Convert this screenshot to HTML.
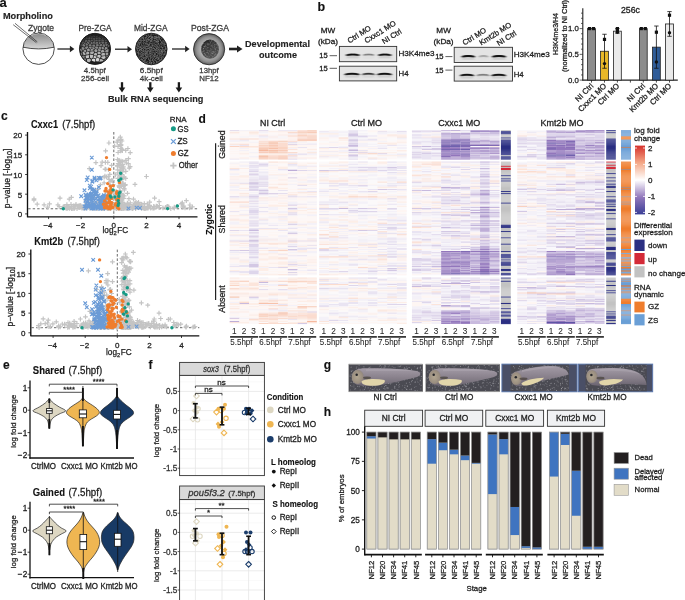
<!DOCTYPE html>
<html><head><meta charset="utf-8"><style>
html,body{margin:0;padding:0;background:#fff;overflow:hidden;}
svg{display:block;font-family:"Liberation Sans",sans-serif;will-change:transform;}
</style></head><body>
<svg width="685" height="600" viewBox="0 0 685 600">
<defs>
<linearGradient id="zyg" x1="0" y1="0" x2="0" y2="1"><stop offset="0" stop-color="#8c8c8c"/><stop offset="1" stop-color="#d6d6d6"/></linearGradient>
<linearGradient id="pre" x1="0" y1="0" x2="0.3" y2="1"><stop offset="0" stop-color="#1a1a1a"/><stop offset="0.55" stop-color="#555"/><stop offset="1" stop-color="#c8c8c8"/></linearGradient>
<radialGradient id="post" cx="0.5" cy="0.5" r="0.5"><stop offset="0.55" stop-color="#b0b0b0"/><stop offset="0.8" stop-color="#909090"/><stop offset="1" stop-color="#5a5a5a"/></radialGradient>
<clipPath id="cpre"><circle cx="95" cy="48.9" r="15.6"/></clipPath>
<clipPath id="cmid"><circle cx="151.3" cy="49" r="15.8"/></clipPath>
<clipPath id="cpost"><ellipse cx="210" cy="49.2" rx="8.9" ry="9.6"/></clipPath>
<linearGradient id="postin" x1="0" y1="0" x2="0.6" y2="1"><stop offset="0" stop-color="#1e1e1e"/><stop offset="1" stop-color="#555"/></linearGradient>
<marker id="ah" viewBox="0 0 10 10" refX="9" refY="5" markerWidth="4" markerHeight="4" orient="auto" markerUnits="userSpaceOnUse"><path d="M0,0 L10,5 L0,10 z" fill="#222"/></marker>
</defs>
<text x="-0.60" y="6.80" font-size="13" font-weight="bold" font-style="normal" fill="#111" text-anchor="start" stroke="#111" stroke-width="0.12" >a</text>
<text x="2.90" y="18.70" font-size="9.2" font-weight="bold" font-style="normal" fill="#222" text-anchor="start" stroke="#222" stroke-width="0.12" textLength="50.00" lengthAdjust="spacingAndGlyphs" >Morpholino</text>
<text x="28.00" y="30.90" font-size="8.4" font-weight="normal" font-style="normal" fill="#3a3a3a" text-anchor="start" stroke="#3a3a3a" stroke-width="0.28" textLength="26.00" lengthAdjust="spacingAndGlyphs" >Zygote</text>
<text x="78.50" y="31.00" font-size="8.4" font-weight="normal" font-style="normal" fill="#3a3a3a" text-anchor="start" stroke="#3a3a3a" stroke-width="0.28" textLength="33.00" lengthAdjust="spacingAndGlyphs" >Pre-ZGA</text>
<text x="134.00" y="31.00" font-size="8.4" font-weight="normal" font-style="normal" fill="#3a3a3a" text-anchor="start" stroke="#3a3a3a" stroke-width="0.28" textLength="33.50" lengthAdjust="spacingAndGlyphs" >Mid-ZGA</text>
<text x="191.00" y="31.00" font-size="8.4" font-weight="normal" font-style="normal" fill="#3a3a3a" text-anchor="start" stroke="#3a3a3a" stroke-width="0.28" textLength="38.00" lengthAdjust="spacingAndGlyphs" >Post-ZGA</text>
<text x="94.80" y="72.80" font-size="8" font-weight="normal" font-style="normal" fill="#3a3a3a" text-anchor="middle" stroke="#3a3a3a" stroke-width="0.28" textLength="21.90" lengthAdjust="spacingAndGlyphs" >4.5hpf</text>
<text x="95.00" y="80.70" font-size="8" font-weight="normal" font-style="normal" fill="#3a3a3a" text-anchor="middle" stroke="#3a3a3a" stroke-width="0.28" textLength="28.00" lengthAdjust="spacingAndGlyphs" >256-cell</text>
<text x="151.30" y="72.80" font-size="8" font-weight="normal" font-style="normal" fill="#3a3a3a" text-anchor="middle" stroke="#3a3a3a" stroke-width="0.28" textLength="22.90" lengthAdjust="spacingAndGlyphs" >6.5hpf</text>
<text x="151.30" y="80.70" font-size="8" font-weight="normal" font-style="normal" fill="#3a3a3a" text-anchor="middle" stroke="#3a3a3a" stroke-width="0.28" textLength="23.00" lengthAdjust="spacingAndGlyphs" >4k-cell</text>
<text x="209.00" y="72.80" font-size="8" font-weight="normal" font-style="normal" fill="#3a3a3a" text-anchor="middle" stroke="#3a3a3a" stroke-width="0.28" textLength="19.30" lengthAdjust="spacingAndGlyphs" >13hpf</text>
<text x="209.00" y="80.70" font-size="8" font-weight="normal" font-style="normal" fill="#3a3a3a" text-anchor="middle" stroke="#3a3a3a" stroke-width="0.28" textLength="19.30" lengthAdjust="spacingAndGlyphs" >NF12</text>
<text x="277.50" y="46.70" font-size="9.2" font-weight="bold" font-style="normal" fill="#222" text-anchor="middle" stroke="#222" stroke-width="0.12" textLength="65.00" lengthAdjust="spacingAndGlyphs" >Developmental</text>
<text x="278.00" y="57.60" font-size="9.2" font-weight="bold" font-style="normal" fill="#222" text-anchor="middle" stroke="#222" stroke-width="0.12" textLength="38.00" lengthAdjust="spacingAndGlyphs" >outcome</text>
<text x="108.00" y="101.80" font-size="9.2" font-weight="bold" font-style="normal" fill="#222" text-anchor="start" stroke="#222" stroke-width="0.12" textLength="95.40" lengthAdjust="spacingAndGlyphs" >Bulk RNA sequencing</text>
<path d="M23,47.2 A15.8,15.8 0 0 1 54.2,47.2 Q38.6,50.5 23,47.2 z" fill="url(#zyg)"/>
<circle cx="38.60" cy="48.70" r="15.70" fill="none" stroke="#222" stroke-width="0.8" />
<path d="M23,47.2 Q38.6,50.6 54.2,47.2" fill="none" stroke="#222" stroke-width="0.8"/>
<path d="M13.2,24.7 L36.4,42.7 M15.0,23.3 L37.3,41.9" fill="none" stroke="#222" stroke-width="0.65"/>
<circle cx="95.00" cy="48.90" r="15.60" fill="#1e1e1e" stroke="none" stroke-width="0" />
<g clip-path="url(#cpre)">
<polygon points="91.7,33.7 92.4,31.8 93.8,33.8 93.6,34.2" fill="#1e1e1e"/>
<polygon points="87.4,35.2 87.4,33.7 87.5,33.4 88.8,33.8 88.7,35.4 88.5,35.6" fill="#1e1e1e"/>
<polygon points="90.8,34.3 89.6,33.5 89.2,33.7 89.0,35.4 90.7,34.8" fill="#1e1e1e"/>
<polygon points="92.6,35.8 93.4,34.8 93.4,34.5 91.6,34.0 91.2,34.4 91.2,34.9 91.7,35.6" fill="#1f1f1f"/>
<polygon points="95.6,33.7 94.3,34.1 94.0,34.5 94.0,34.8 95.5,36.1 96.1,35.4 96.2,34.3" fill="#1f1f1f"/>
<polygon points="96.8,34.4 96.7,35.5 98.5,36.4 98.5,36.3 98.8,35.8 98.7,34.5 98.1,34.3" fill="#242424"/>
<polygon points="100.3,34.4 99.6,34.0 99.0,34.4 99.2,35.7 101.0,35.5" fill="#1e1e1e"/>
<polygon points="102.3,35.2 102.5,34.2 102.0,33.7 100.7,34.4 101.4,35.4 101.5,35.5" fill="#1e1e1e"/>
<polygon points="86.1,36.6 85.4,37.9 84.1,37.7 84.0,37.5 85.0,35.7 86.1,36.1" fill="#232323"/>
<polygon points="86.6,36.5 87.9,37.8 88.7,36.7 88.4,36.0 87.3,35.6 86.6,36.0" fill="#282828"/>
<polygon points="91.2,35.9 90.8,35.1 89.1,35.7 88.9,35.9 89.2,36.7 90.3,37.1 90.5,36.9" fill="#2c2c2c"/>
<polygon points="93.2,37.4 92.7,36.2 91.7,36.0 91.0,37.0 92.9,37.8" fill="#3a3a3a"/>
<polygon points="95.0,37.4 93.6,37.3 93.1,36.1 93.8,35.2 95.4,36.5 95.2,37.2" fill="#393939"/>
<polygon points="97.7,37.8 98.2,36.7 96.5,35.8 95.9,36.5 95.7,37.3" fill="#3b3b3b"/>
<polygon points="101.2,35.8 101.1,35.8 99.2,36.0 99.0,36.5 100.8,37.6" fill="#2d2d2d"/>
<polygon points="102.4,35.6 101.5,35.9 101.1,37.6 101.3,38.2 103.0,37.0 102.7,35.9" fill="#2c2c2c"/>
<polygon points="103.2,35.8 105.2,35.6 105.5,35.9 105.3,37.0 104.0,37.2 103.5,36.9" fill="#202020"/>
<polygon points="82.4,37.1 83.5,37.8 83.6,38.0 83.4,38.5 82.0,39.4 81.5,39.1 81.1,38.2" fill="#222222"/>
<polygon points="85.4,38.3 84.1,38.1 83.8,38.7 84.7,40.1 86.2,39.4" fill="#383838"/>
<polygon points="86.5,37.0 85.8,38.2 86.7,39.4 87.5,39.6 87.6,39.6 87.8,38.3" fill="#424242"/>
<polygon points="88.3,38.3 88.1,39.5 90.3,39.4 90.4,39.3 90.2,37.5 89.0,37.1" fill="#4c4c4c"/>
<polygon points="92.7,38.0 92.3,38.9 90.8,39.2 90.6,37.5 90.8,37.3" fill="#4a4a4a"/>
<polygon points="94.9,39.9 95.1,39.5 94.9,37.9 93.5,37.8 93.2,38.2 92.8,39.1 93.4,39.8" fill="#4f4f4f"/>
<polygon points="97.8,39.3 95.7,39.4 95.4,37.8 95.7,37.6 97.6,38.1 97.9,39.1" fill="#4d4d4d"/>
<polygon points="98.5,39.0 100.8,38.9 100.9,38.8 100.9,38.5 100.7,37.9 98.9,36.9 98.8,37.0 98.2,38.0" fill="#494949"/>
<polygon points="103.1,37.3 103.6,37.6 103.4,39.2 101.5,38.8 101.5,38.5" fill="#3f3f3f"/>
<polygon points="104.4,39.9 106.0,38.8 106.0,38.3 105.4,37.4 104.1,37.7 103.9,39.3" fill="#353535"/>
<polygon points="109.0,37.7 108.2,37.5 106.6,38.3 106.5,38.8 107.3,39.5 109.1,39.5" fill="#222222"/>
<polygon points="80.7,42.7 81.0,42.7 82.0,41.1 81.6,40.0 81.1,39.7 79.7,40.7 79.7,41.6" fill="#2f2f2f"/>
<polygon points="83.5,38.9 82.1,39.8 82.5,40.9 84.0,41.1 84.3,40.3" fill="#3b3b3b"/>
<polygon points="87.3,40.1 87.3,40.8 86.2,42.3 86.2,42.3 84.8,41.8 84.5,41.3 84.9,40.5 86.5,39.8" fill="#5d5d5d"/>
<polygon points="87.9,40.1 87.9,40.7 89.8,42.7 90.6,41.3 90.3,39.9 88.0,40.0" fill="#5d5d5d"/>
<polygon points="92.7,41.3 93.0,40.1 92.4,39.4 90.9,39.7 90.8,39.8 91.2,41.3 92.5,41.5" fill="#5b5b5b"/>
<polygon points="95.2,42.0 95.4,41.7 95.0,40.3 93.5,40.3 93.3,41.4" fill="#606060"/>
<polygon points="95.8,41.6 97.8,41.5 97.7,39.7 95.6,39.8 95.4,40.2" fill="#5c5c5c"/>
<polygon points="98.3,41.5 98.3,39.7 98.4,39.5 100.7,39.4 100.7,41.1 100.4,41.5 98.6,41.7" fill="#5c5c5c"/>
<polygon points="101.3,39.3 101.3,41.0 103.9,41.4 104.0,40.2 103.4,39.6 101.4,39.2" fill="#595959"/>
<polygon points="104.6,40.3 106.1,39.2 106.9,39.9 106.6,41.4 104.6,41.7 104.5,41.5" fill="#4b4b4b"/>
<polygon points="109.3,40.0 107.5,40.0 107.2,41.5 108.0,42.2 109.5,41.6 109.5,40.3" fill="#333333"/>
<polygon points="83.3,43.6 84.2,42.1 83.9,41.6 82.4,41.4 81.4,43.0 82.2,43.9" fill="#525252"/>
<polygon points="83.7,43.7 84.6,42.2 86.0,42.7 85.1,44.3" fill="#6f6f6f"/>
<polygon points="88.5,44.3 86.7,42.7 87.8,41.1 89.7,43.2 89.7,43.4" fill="#6d6d6d"/>
<polygon points="92.7,43.9 91.9,44.3 90.3,43.5 90.3,43.2 91.1,41.8 92.4,42.0" fill="#6e6e6e"/>
<polygon points="95.1,42.3 93.1,41.7 92.9,41.9 93.2,43.8 94.7,43.9" fill="#6b6b6b"/>
<polygon points="95.6,42.3 95.8,42.1 97.8,41.9 98.1,42.2 98.0,43.7 95.4,44.1 95.2,43.9" fill="#6c6c6c"/>
<polygon points="98.6,43.7 99.1,44.5 100.9,43.3 100.4,42.0 98.7,42.2" fill="#6e6e6e"/>
<polygon points="101.0,41.8 101.3,41.5 103.9,41.8 104.0,42.1 103.9,43.4 102.6,43.9 101.6,43.2" fill="#6a6a6a"/>
<polygon points="107.5,42.6 107.2,43.5 105.0,43.9 104.5,43.5 104.7,42.1 106.7,41.9" fill="#636363"/>
<polygon points="108.2,42.8 107.9,43.6 108.3,44.2 111.3,44.5 111.8,44.3 109.7,42.1" fill="#3f3f3f"/>
<polygon points="81.1,46.8 79.1,45.7 79.3,44.5 80.6,43.4 81.0,43.5 81.8,44.3 81.8,46.2" fill="#4d4d4d"/>
<polygon points="85.3,46.0 84.9,44.8 83.5,44.1 82.4,44.4 82.4,46.3 84.6,46.8" fill="#7d7d7d"/>
<polygon points="87.8,45.6 88.2,44.6 86.4,42.9 86.4,43.0 85.5,44.6 85.9,45.8" fill="#777777"/>
<polygon points="88.9,46.5 91.5,46.2 91.6,44.7 90.0,43.9 88.8,44.8 88.5,45.8" fill="#7d7d7d"/>
<polygon points="94.6,44.5 94.8,44.6 95.1,45.7 94.6,47.0 92.4,46.5 92.2,46.2 92.4,44.7 93.2,44.4" fill="#7e7e7e"/>
<polygon points="95.6,44.6 95.9,45.7 98.5,46.3 98.8,46.0 98.7,44.9 98.2,44.1" fill="#7d7d7d"/>
<polygon points="99.4,44.9 99.5,46.1 101.1,46.5 101.5,46.3 102.3,44.4 101.2,43.8" fill="#7d7d7d"/>
<polygon points="105.2,46.4 104.6,44.4 104.1,44.0 102.9,44.5 102.2,46.3 104.4,47.0" fill="#7d7d7d"/>
<polygon points="107.2,46.6 107.7,44.5 107.4,44.0 105.1,44.3 105.8,46.3" fill="#747474"/>
<polygon points="108.3,47.4 111.2,44.9 108.1,44.7 107.7,46.8" fill="#5d5d5d"/>
<polygon points="84.4,47.4 82.2,46.9 81.6,47.4 81.4,47.9 82.8,50.5 84.7,49.1" fill="#888888"/>
<polygon points="88.3,46.9 87.9,46.2 85.9,46.4 85.1,47.2 85.5,49.0 86.2,49.3 88.3,47.7" fill="#8b8b8b"/>
<polygon points="89.0,46.9 91.6,46.6 91.8,46.9 91.4,48.2 90.2,49.0 89.1,47.7" fill="#8c8c8c"/>
<polygon points="94.8,48.5 94.5,47.5 92.4,47.1 92.0,48.3 94.0,49.5" fill="#8f8f8f"/>
<polygon points="95.4,48.5 97.4,48.9 97.6,48.7 98.3,46.8 95.6,46.2 95.1,47.5" fill="#8d8d8d"/>
<polygon points="99.0,46.7 98.2,48.7 101.1,48.9 100.9,46.9 99.2,46.5" fill="#8b8b8b"/>
<polygon points="103.7,49.6 101.7,49.2 101.6,49.0 101.5,47.1 101.9,46.8 104.1,47.6" fill="#909090"/>
<polygon points="107.7,47.8 107.1,47.3 105.6,46.9 104.8,47.6 104.5,49.6 104.9,50.2 107.9,48.3" fill="#909090"/>
<polygon points="81.1,48.4 79.4,49.6 81.2,51.8 82.0,51.7 82.5,51.0 82.5,51.0" fill="#7b7b7b"/>
<polygon points="85.1,49.6 83.2,51.0 83.2,51.1 85.4,52.4 86.4,50.8 85.8,49.9" fill="#a0a0a0"/>
<polygon points="88.7,48.3 89.8,49.5 89.8,51.1 89.4,51.6 87.2,50.7 86.5,49.8" fill="#9c9c9c"/>
<polygon points="93.7,49.8 93.5,50.6 90.5,51.0 90.5,49.5 91.7,48.6" fill="#9b9b9b"/>
<polygon points="96.6,52.2 94.9,52.0 94.2,50.8 94.5,50.0 95.2,49.0 97.3,49.5 97.6,51.1" fill="#9f9f9f"/>
<polygon points="98.4,51.0 98.0,49.4 98.2,49.1 101.0,49.4 101.1,49.6 100.2,51.4" fill="#9b9b9b"/>
<polygon points="100.8,51.6 101.8,49.8 103.8,50.2 104.3,50.8 104.5,52.1 101.5,52.8" fill="#a3a3a3"/>
<polygon points="108.0,48.9 108.6,49.6 108.4,51.8 108.3,51.9 105.6,52.4 105.3,52.1 105.1,50.8" fill="#979797"/>
<polygon points="78.8,53.7 81.1,52.4 81.9,52.4 82.6,54.7 80.6,56.2" fill="#717171"/>
<polygon points="85.1,55.2 83.3,54.7 82.5,52.3 83.1,51.6 85.3,52.9 85.7,54.8" fill="#afafaf"/>
<polygon points="88.9,54.3 86.4,54.7 86.0,52.9 87.0,51.3 89.3,52.2 89.3,53.8" fill="#afafaf"/>
<polygon points="90.1,53.7 90.1,52.1 90.4,51.6 93.5,51.2 94.1,52.4 93.0,54.3" fill="#ababab"/>
<polygon points="97.1,54.4 96.5,55.8 94.0,55.2 93.7,54.6 94.9,52.8 96.6,52.9" fill="#b6b6b6"/>
<polygon points="97.8,54.1 100.4,54.3 100.8,53.1 100.1,52.0 98.3,51.6 97.3,52.7" fill="#adadad"/>
<polygon points="101.2,54.5 101.6,55.8 105.0,55.5 104.8,53.0 104.5,52.7 101.6,53.3" fill="#b4b4b4"/>
<polygon points="105.6,53.0 108.2,52.6 108.4,54.5 105.8,55.7 105.7,55.5" fill="#9c9c9c"/>
<polygon points="108.9,52.3 112.6,53.3 109.8,55.1 109.0,54.4 108.8,52.4" fill="#636363"/>
<polygon points="84.8,57.4 81.9,59.0 80.7,58.0 80.9,56.9 83.0,55.4 84.8,55.9" fill="#7f7f7f"/>
<polygon points="88.8,55.0 86.3,55.4 85.6,55.8 85.6,57.3 86.6,58.6 89.2,57.7" fill="#c3c3c3"/>
<polygon points="89.6,54.9 90.1,57.6 91.3,58.7 92.7,57.6 93.2,55.6 92.9,55.0 90.0,54.4" fill="#c1c1c1"/>
<polygon points="94.0,55.8 96.4,56.4 96.7,57.1 95.5,58.5 93.4,57.8" fill="#c6c6c6"/>
<polygon points="97.8,54.8 97.2,56.3 97.5,57.0 99.9,58.1 100.1,58.0 100.8,56.2 100.4,55.0" fill="#c3c3c3"/>
<polygon points="101.1,58.1 103.8,59.3 105.7,57.7 105.2,56.3 105.1,56.1 101.7,56.4" fill="#bdbdbd"/>
<polygon points="108.2,58.3 106.6,57.6 106.1,56.2 108.7,55.1 109.4,55.7 109.2,57.9" fill="#757575"/>
<polygon points="86.1,59.2 85.9,61.3 85.0,61.6 82.4,60.0 82.3,59.6 85.1,58.0" fill="#7e7e7e"/>
<polygon points="89.6,58.4 87.0,59.3 86.8,61.4 89.2,62.5 90.8,60.7 90.8,59.5" fill="#bababa"/>
<polygon points="93.1,58.4 95.1,59.1 95.4,61.3 94.6,61.8 91.8,60.7 91.7,59.5" fill="#d7d7d7"/>
<polygon points="97.1,57.6 95.9,59.0 96.1,61.2 98.6,61.4 99.6,58.8" fill="#d5d5d5"/>
<polygon points="100.3,58.9 99.3,61.6 99.3,61.7 103.4,61.3 103.3,59.9 100.5,58.8" fill="#b8b8b8"/>
<polygon points="104.2,59.9 106.1,58.3 107.7,59.0 107.7,61.0 104.8,62.3 104.3,61.3" fill="#737373"/>
</g>
<circle cx="95.00" cy="48.90" r="15.60" fill="none" stroke="#1a1a1a" stroke-width="0.9" />
<circle cx="151.30" cy="49.00" r="15.80" fill="#1c1c1c" stroke="none" stroke-width="0" />
<path clip-path="url(#cmid)" stroke="#d0d0d0" stroke-width="0.55" stroke-linecap="round" d="M134.8 33.1h0M136.3 32.9h0M137.5 32.7h0M138.5 32.8h0M140.2 32.8h0M141.3 33.3h0M142.4 33.3h0M144.0 32.9h0M144.8 32.9h0M147.5 33.1h0M148.8 32.7h0M149.8 33.1h0M151.1 33.1h0M152.4 33.2h0M153.6 33.0h0M155.2 33.1h0M156.5 32.8h0M157.7 32.8h0M158.5 33.1h0M160.0 33.2h0M161.4 33.1h0M162.5 33.2h0M165.1 32.7h0M166.3 33.3h0M136.8 34.2h0M138.1 33.9h0M139.1 34.3h0M140.4 34.0h0M143.1 34.1h0M148.0 34.0h0M151.7 33.9h0M153.1 34.2h0M154.1 34.1h0M155.6 34.4h0M156.9 34.2h0M157.8 34.3h0M159.6 34.3h0M160.5 33.9h0M161.6 33.8h0M162.9 34.0h0M164.1 33.9h0M165.5 33.8h0M134.8 35.1h0M136.2 35.0h0M140.0 35.0h0M141.2 35.1h0M143.5 35.5h0M144.8 35.2h0M146.3 35.5h0M148.6 35.1h0M150.2 35.2h0M151.1 35.0h0M158.6 35.2h0M159.7 34.9h0M161.1 35.3h0M164.0 35.5h0M166.1 35.0h0M135.4 36.4h0M139.4 36.5h0M140.7 36.5h0M142.0 36.3h0M143.3 36.2h0M146.8 36.6h0M147.9 36.1h0M149.6 36.5h0M150.8 36.6h0M151.8 36.3h0M152.8 36.6h0M154.4 36.6h0M155.8 36.5h0M156.7 36.2h0M158.2 36.2h0M159.1 36.5h0M160.6 36.4h0M163.4 36.3h0M164.4 36.0h0M165.4 36.0h0M166.7 36.3h0M135.0 37.3h0M136.3 37.6h0M137.5 37.2h0M138.9 37.4h0M140.2 37.6h0M141.3 37.4h0M142.6 37.4h0M143.7 37.7h0M145.2 37.7h0M146.3 37.7h0M148.5 37.4h0M149.8 37.1h0M151.4 37.6h0M152.6 37.5h0M154.0 37.7h0M155.3 37.3h0M156.5 37.6h0M157.5 37.4h0M158.6 37.3h0M159.7 37.4h0M161.0 37.3h0M162.5 37.1h0M165.3 37.2h0M166.0 37.6h0M135.4 38.5h0M139.1 38.8h0M140.7 38.3h0M142.0 38.5h0M143.4 38.6h0M145.8 38.2h0M148.0 38.5h0M150.4 38.5h0M151.6 38.3h0M152.9 38.4h0M154.5 38.4h0M155.4 38.4h0M156.7 38.2h0M158.1 38.3h0M159.6 38.3h0M161.8 38.7h0M163.1 38.6h0M165.8 38.6h0M166.8 38.4h0M134.8 39.3h0M136.1 39.4h0M137.7 39.8h0M138.6 39.4h0M140.0 39.4h0M141.1 39.9h0M143.6 39.9h0M144.9 39.3h0M146.2 39.6h0M147.5 39.3h0M148.5 39.5h0M149.7 39.5h0M151.3 39.6h0M152.6 39.7h0M154.9 39.9h0M156.4 39.7h0M157.7 39.8h0M158.9 39.8h0M160.0 39.6h0M165.2 39.7h0M166.1 39.3h0M135.5 40.5h0M138.2 40.8h0M139.3 40.4h0M140.7 40.7h0M141.9 40.4h0M143.0 40.4h0M144.5 40.5h0M145.9 40.7h0M146.8 40.8h0M148.2 40.8h0M149.1 40.6h0M150.5 40.7h0M151.6 40.6h0M153.2 40.8h0M154.4 40.7h0M155.4 40.9h0M157.1 41.0h0M158.1 40.9h0M160.5 40.5h0M163.1 40.5h0M164.6 40.5h0M167.1 40.8h0M135.2 41.8h0M136.0 41.8h0M137.4 41.6h0M138.6 42.0h0M140.2 42.0h0M141.5 41.9h0M143.7 41.7h0M146.2 41.8h0M147.2 41.6h0M150.3 41.6h0M151.3 41.6h0M152.8 42.0h0M155.2 42.1h0M156.4 41.5h0M157.5 42.0h0M158.6 41.5h0M161.2 41.7h0M162.6 42.1h0M163.8 41.7h0M164.9 41.6h0M166.1 42.0h0M135.4 43.1h0M137.9 42.7h0M139.3 42.7h0M140.5 42.9h0M143.0 42.8h0M144.3 42.8h0M145.5 43.2h0M146.9 43.0h0M149.2 42.7h0M150.6 43.2h0M154.1 43.0h0M156.9 42.6h0M158.4 43.1h0M161.6 42.7h0M163.2 43.2h0M164.4 43.1h0M165.6 42.6h0M166.7 43.2h0M134.9 43.8h0M136.3 44.1h0M137.2 44.0h0M138.7 43.8h0M139.7 43.9h0M141.5 44.1h0M143.6 43.8h0M146.1 43.7h0M147.6 44.0h0M148.9 44.3h0M149.7 43.9h0M151.4 43.8h0M152.6 44.0h0M154.0 43.9h0M156.1 44.2h0M157.8 44.0h0M158.6 44.0h0M160.3 43.8h0M161.1 44.3h0M162.2 43.7h0M164.0 44.2h0M165.3 44.3h0M166.1 44.3h0M135.3 45.2h0M136.8 45.0h0M137.8 45.0h0M139.6 44.9h0M141.8 45.3h0M144.1 45.1h0M145.9 44.9h0M147.1 44.8h0M148.3 45.3h0M149.1 44.8h0M152.0 45.3h0M153.0 45.4h0M154.2 45.2h0M155.5 44.8h0M157.1 45.2h0M159.2 45.1h0M163.0 45.1h0M164.6 44.9h0M167.0 45.3h0M134.9 46.1h0M136.4 45.9h0M137.7 46.0h0M138.5 46.2h0M140.3 46.4h0M142.3 46.0h0M143.9 46.2h0M145.0 46.3h0M146.4 46.4h0M147.3 46.4h0M148.8 46.1h0M149.8 46.0h0M151.0 46.4h0M152.4 46.1h0M154.8 46.4h0M156.5 46.0h0M157.7 46.4h0M159.9 46.0h0M161.5 46.2h0M164.0 46.2h0M165.2 46.5h0M166.3 46.3h0M135.5 47.1h0M136.7 47.4h0M137.9 47.0h0M139.5 47.1h0M140.4 47.5h0M141.6 47.1h0M143.1 47.4h0M144.1 47.4h0M145.5 47.2h0M148.1 47.2h0M149.6 47.6h0M150.4 47.4h0M151.6 47.5h0M153.3 47.2h0M155.4 47.0h0M156.9 47.5h0M158.2 47.2h0M159.1 47.2h0M160.9 47.1h0M162.0 47.6h0M162.9 47.6h0M165.3 47.6h0M167.1 47.4h0M136.4 48.2h0M137.7 48.6h0M138.6 48.3h0M139.9 48.2h0M141.4 48.6h0M142.5 48.6h0M144.0 48.2h0M145.0 48.5h0M146.2 48.4h0M147.6 48.4h0M148.5 48.5h0M149.8 48.6h0M151.2 48.2h0M152.3 48.2h0M153.5 48.4h0M154.7 48.5h0M156.4 48.6h0M157.2 48.4h0M159.0 48.2h0M162.7 48.2h0M165.3 48.6h0M166.4 48.7h0M135.5 49.7h0M137.1 49.4h0M139.4 49.8h0M140.5 49.5h0M141.6 49.3h0M143.4 49.6h0M145.8 49.3h0M146.9 49.4h0M149.4 49.7h0M150.9 49.6h0M152.0 49.4h0M154.3 49.7h0M155.4 49.6h0M157.0 49.4h0M158.4 49.6h0M159.2 49.2h0M160.4 49.6h0M161.9 49.7h0M162.9 49.6h0M164.1 49.4h0M165.5 49.3h0M166.9 49.3h0M135.0 50.4h0M137.3 50.4h0M139.0 50.8h0M139.9 50.3h0M141.3 50.5h0M142.5 50.9h0M143.6 50.8h0M145.0 50.5h0M146.0 50.8h0M147.5 50.9h0M148.6 50.7h0M150.1 50.8h0M151.1 50.5h0M152.7 50.8h0M153.5 50.8h0M155.0 50.7h0M156.1 50.4h0M157.2 50.5h0M158.9 50.8h0M159.9 50.6h0M161.4 50.6h0M162.6 50.9h0M164.0 50.3h0M164.8 50.7h0M135.5 51.9h0M136.7 51.9h0M138.2 51.8h0M140.8 51.8h0M143.2 51.7h0M144.2 51.8h0M145.8 51.5h0M146.6 52.0h0M147.9 51.4h0M149.5 51.8h0M150.7 51.4h0M151.8 51.9h0M155.8 51.9h0M157.9 51.5h0M159.6 51.9h0M160.8 51.8h0M161.6 51.5h0M162.9 51.6h0M164.1 51.6h0M165.7 51.6h0M167.1 51.7h0M136.0 52.7h0M137.7 52.7h0M138.8 52.6h0M141.4 52.6h0M142.3 53.0h0M145.0 52.8h0M146.1 52.8h0M147.7 52.7h0M149.8 52.9h0M151.0 52.9h0M152.7 52.9h0M153.8 52.7h0M154.9 53.0h0M156.5 52.5h0M157.4 53.0h0M158.7 53.0h0M160.0 52.8h0M161.4 52.9h0M162.4 52.6h0M165.1 52.6h0M166.4 52.8h0M135.6 54.1h0M136.7 53.8h0M138.3 53.7h0M139.2 53.8h0M140.4 53.8h0M142.1 54.0h0M143.4 53.7h0M144.6 54.1h0M145.6 53.7h0M146.6 53.7h0M147.8 53.8h0M149.5 53.9h0M150.6 53.7h0M151.8 54.0h0M154.4 54.0h0M155.4 54.0h0M158.2 54.1h0M159.4 53.9h0M160.7 53.7h0M162.0 54.0h0M163.0 53.9h0M164.4 53.8h0M165.9 53.7h0M167.0 53.8h0M135.3 54.7h0M136.0 55.2h0M138.5 55.0h0M140.1 55.0h0M141.4 55.0h0M142.8 54.8h0M143.7 55.2h0M145.3 54.9h0M146.1 54.9h0M147.5 55.0h0M148.7 54.9h0M150.1 55.3h0M151.1 55.2h0M152.3 54.8h0M153.9 55.1h0M155.0 54.8h0M157.6 55.2h0M159.9 55.0h0M161.5 54.9h0M163.7 54.9h0M164.8 54.7h0M166.1 54.8h0M135.6 56.1h0M136.9 56.0h0M140.8 56.3h0M141.6 56.3h0M142.8 55.8h0M145.5 55.9h0M146.7 56.3h0M147.9 56.3h0M149.2 56.3h0M150.8 56.2h0M153.3 55.9h0M154.4 56.2h0M155.8 56.1h0M156.7 55.9h0M157.8 56.1h0M159.3 56.1h0M160.8 55.8h0M163.1 56.2h0M165.6 56.4h0M166.9 56.2h0M135.1 57.3h0M137.8 57.2h0M139.0 56.9h0M140.1 57.1h0M142.5 57.2h0M143.6 57.2h0M145.0 57.4h0M146.4 57.1h0M147.4 57.2h0M150.2 57.1h0M151.1 57.3h0M152.7 56.9h0M154.0 57.2h0M154.9 56.9h0M156.5 57.3h0M157.7 57.4h0M158.8 57.3h0M160.1 57.3h0M161.4 57.2h0M162.3 57.0h0M163.9 57.4h0M164.9 57.4h0M166.3 57.1h0M135.6 58.2h0M136.9 58.6h0M138.1 58.0h0M139.5 58.3h0M141.6 58.2h0M143.4 58.6h0M144.3 58.1h0M145.4 58.1h0M146.6 58.4h0M148.4 58.1h0M150.3 58.4h0M152.0 58.1h0M153.3 58.4h0M155.4 58.4h0M156.8 58.6h0M158.4 58.4h0M159.1 58.4h0M161.7 58.4h0M163.3 58.3h0M164.3 58.3h0M165.7 58.1h0M166.8 58.4h0M135.0 59.3h0M136.5 59.6h0M137.4 59.1h0M140.2 59.3h0M141.5 59.6h0M142.4 59.4h0M145.1 59.5h0M148.5 59.3h0M150.1 59.6h0M152.7 59.6h0M154.9 59.6h0M157.7 59.3h0M158.8 59.6h0M160.2 59.7h0M161.3 59.5h0M162.3 59.3h0M163.9 59.4h0M165.2 59.6h0M166.3 59.6h0M136.8 60.6h0M137.9 60.3h0M139.3 60.5h0M140.6 60.3h0M142.1 60.4h0M143.2 60.7h0M144.4 60.4h0M145.3 60.2h0M149.4 60.4h0M150.6 60.8h0M152.0 60.8h0M152.8 60.3h0M154.1 60.2h0M155.8 60.5h0M159.4 60.4h0M160.9 60.4h0M161.9 60.8h0M163.0 60.5h0M164.6 60.8h0M165.3 60.4h0M167.1 60.7h0M136.4 61.7h0M137.8 61.3h0M138.9 61.9h0M139.9 61.7h0M141.0 61.5h0M142.3 61.6h0M143.6 61.4h0M144.7 61.7h0M146.0 61.9h0M147.8 61.8h0M150.0 61.4h0M153.7 61.5h0M156.3 61.4h0M157.2 61.7h0M158.5 61.8h0M159.9 61.4h0M161.5 61.5h0M162.5 61.5h0M165.3 61.3h0M135.4 62.7h0M136.7 62.5h0M138.4 63.0h0M140.5 62.9h0M142.0 62.6h0M144.5 62.6h0M145.3 62.9h0M146.7 62.7h0M149.4 62.5h0M150.8 62.8h0M151.6 62.5h0M153.1 62.6h0M154.4 62.8h0M156.7 62.4h0M158.0 62.8h0M159.5 62.6h0M162.8 62.9h0M164.6 62.6h0M165.8 62.6h0M166.8 62.8h0M135.0 63.8h0M136.0 63.9h0M140.1 63.7h0M141.0 64.0h0M143.8 63.8h0M144.7 64.1h0M146.1 63.6h0M147.7 63.5h0M148.9 63.6h0M150.1 63.8h0M151.4 63.6h0M153.5 63.6h0M155.0 63.7h0M156.2 63.6h0M157.7 63.6h0M158.9 63.6h0M162.5 64.0h0M163.7 64.1h0M164.9 63.6h0M166.2 64.1h0M140.6 65.2h0M143.1 65.0h0M144.4 64.6h0M145.6 64.6h0M147.1 65.1h0M149.5 65.1h0M151.9 64.8h0M153.0 64.9h0M155.5 64.9h0M157.1 64.8h0M158.2 64.7h0M159.6 64.9h0M160.6 64.9h0M161.6 64.7h0M163.0 64.8h0M164.1 64.9h0M166.9 65.0h0"/>
<circle cx="151.30" cy="49.00" r="15.80" fill="none" stroke="#111" stroke-width="0.8" />
<circle cx="209.10" cy="49.20" r="15.60" fill="url(#post)" stroke="#222" stroke-width="0.8" />
<ellipse cx="210" cy="49.2" rx="8.9" ry="9.6" fill="url(#postin)"/>
<path clip-path="url(#cpost)" stroke="#999" stroke-width="0.45" stroke-linecap="round" d="M212.4 56.5h0M203.3 50.7h0M205.2 44.9h0M208.3 53.3h0M211.2 55.6h0M204.7 53.8h0M215.5 49.4h0M212.9 45.5h0M203.9 46.7h0M208.0 58.0h0M207.7 56.8h0M211.3 51.0h0M214.3 44.5h0M215.4 51.2h0M202.6 51.9h0M213.4 51.8h0M217.7 47.0h0M213.0 53.5h0M205.4 55.1h0M203.6 43.3h0M212.9 43.0h0M209.4 41.0h0M210.4 42.6h0M211.7 41.4h0M212.9 47.3h0M210.4 48.6h0M210.7 41.9h0M200.9 49.1h0M204.6 46.4h0M211.8 40.5h0M205.5 45.4h0M204.0 50.9h0M209.2 44.0h0M204.6 53.4h0M206.1 52.5h0M212.0 40.7h0M203.8 49.0h0M212.1 53.7h0M214.3 54.6h0M207.6 47.6h0M214.6 46.5h0M214.7 41.9h0M214.1 47.9h0M202.1 53.0h0M212.0 49.1h0M204.0 46.4h0M217.2 45.1h0M201.0 46.8h0M203.4 48.3h0M207.7 43.7h0M205.5 54.6h0M204.6 56.3h0M207.0 43.0h0M214.6 52.3h0M204.3 53.1h0M202.2 45.1h0M216.3 47.6h0M203.2 51.7h0M215.4 48.9h0M201.7 47.4h0M212.5 53.6h0M218.4 47.9h0M206.9 48.8h0M216.1 44.2h0M214.0 40.6h0M214.6 45.1h0M212.8 53.2h0M203.4 48.5h0M211.5 52.7h0M205.1 43.7h0M204.4 56.4h0M208.7 47.6h0M203.0 53.4h0M207.3 56.2h0M215.1 49.1h0M213.9 43.0h0M208.0 45.4h0M203.1 49.1h0M209.2 56.4h0M200.9 47.2h0M204.7 46.3h0M212.7 51.5h0M210.2 46.0h0M213.1 51.3h0M201.6 47.8h0M203.7 43.6h0M211.0 49.4h0M210.7 43.8h0M208.8 43.6h0M212.3 53.2h0M217.2 54.2h0M205.2 46.3h0M204.5 50.8h0M218.3 52.0h0M202.1 44.5h0M203.2 51.7h0M210.0 51.0h0M217.8 45.4h0M206.5 57.1h0M212.1 44.3h0M202.7 43.5h0M200.9 49.3h0M210.3 54.8h0M209.1 44.7h0M206.8 57.1h0M201.8 49.8h0M210.2 52.9h0M207.5 52.1h0M214.9 48.1h0M207.1 47.8h0M204.4 47.8h0M208.0 50.4h0M216.0 54.9h0M207.3 52.7h0M211.8 53.6h0M210.1 50.7h0M207.2 44.3h0M214.4 55.5h0M214.0 51.7h0M211.7 46.1h0M202.0 52.0h0M211.3 45.5h0M205.2 55.3h0M203.5 55.4h0M212.4 57.8h0M205.6 48.9h0M206.8 50.0h0M208.7 44.4h0M215.8 44.8h0M206.9 52.4h0M206.7 46.3h0M212.3 46.7h0M203.2 48.4h0M209.0 57.1h0M204.3 54.0h0M205.3 46.9h0M207.9 50.7h0M213.8 56.7h0M206.7 55.8h0M215.4 53.4h0M205.8 54.0h0M209.3 51.3h0M208.3 53.1h0M215.5 54.6h0M208.8 54.8h0M216.9 44.6h0M216.4 43.2h0M213.3 52.6h0M217.5 50.4h0M207.2 44.3h0"/>
<line x1="57.40" y1="49.00" x2="70.40" y2="49.00" stroke="#222" stroke-width="1.3" />
<path d="M69.90,45.80 L74.40,49.00 L69.90,52.20 z" fill="#222"/>
<line x1="115.00" y1="49.20" x2="128.00" y2="49.20" stroke="#222" stroke-width="1.3" />
<path d="M127.50,46.00 L132.00,49.20 L127.50,52.40 z" fill="#222"/>
<line x1="172.00" y1="49.00" x2="185.60" y2="49.00" stroke="#222" stroke-width="1.3" />
<path d="M185.10,45.80 L189.60,49.00 L185.10,52.20 z" fill="#222"/>
<line x1="229.00" y1="49.00" x2="237.50" y2="49.00" stroke="#222" stroke-width="2.6" />
<path d="M237.00,45.40 L242.50,49.00 L237.00,52.60 z" fill="#222"/>
<line x1="122.00" y1="82.20" x2="122.00" y2="88.40" stroke="#1a1a1a" stroke-width="2.3" />
<path d="M118.70,87.60 L122.00,92.40 L125.30,87.60 z" fill="#1a1a1a"/>
<line x1="150.30" y1="82.20" x2="150.30" y2="88.40" stroke="#1a1a1a" stroke-width="2.3" />
<path d="M147.00,87.60 L150.30,92.40 L153.60,87.60 z" fill="#1a1a1a"/>
<line x1="178.90" y1="82.20" x2="178.90" y2="88.40" stroke="#1a1a1a" stroke-width="2.3" />
<path d="M175.60,87.60 L178.90,92.40 L182.20,87.60 z" fill="#1a1a1a"/>
<text x="317.60" y="10.50" font-size="12.5" font-weight="bold" font-style="normal" fill="#111" text-anchor="start" stroke="#111" stroke-width="0.12" >b</text>
<defs>
<filter id="blur06" x="-20%" y="-80%" width="140%" height="260%"><feGaussianBlur stdDeviation="0.8 0.55"/></filter>
</defs>
<text x="328.00" y="33.20" font-size="7.4" font-weight="normal" font-style="normal" fill="#222" text-anchor="middle" stroke="#222" stroke-width="0.28" textLength="14.50" lengthAdjust="spacingAndGlyphs" >MW</text>
<text x="328.00" y="43.60" font-size="7.4" font-weight="normal" font-style="normal" fill="#222" text-anchor="middle" stroke="#222" stroke-width="0.28" textLength="20.00" lengthAdjust="spacingAndGlyphs" >(kDa)</text>
<rect x="339.40" y="46.40" width="57.30" height="15.30" fill="#e4e4e4" stroke="#333" stroke-width="0.9" />
<g filter="url(#blur06)">
<path d="M345.40,55.00 Q352.75,52.20 360.10,55.00 Q352.75,55.00 345.40,55.00 z" fill="#111" opacity="0.95"/>
<path d="M345.90,54.70 Q352.75,53.10 359.60,54.70 L359.30,56.00 Q352.75,55.00 346.20,56.00 z" fill="#111" opacity="0.95"/>
<rect x="346.40" y="55.90" width="12.70" height="2.5" fill="#555" opacity="0.14"/>
<path d="M362.50,55.00 Q368.65,52.20 374.80,55.00 Q368.65,55.00 362.50,55.00 z" fill="#111" opacity="0.3"/>
<path d="M363.00,54.70 Q368.65,53.10 374.30,54.70 L374.00,56.00 Q368.65,55.00 363.30,56.00 z" fill="#111" opacity="0.3"/>
<rect x="363.50" y="55.90" width="10.30" height="2.5" fill="#555" opacity="0.04"/>
<path d="M377.70,55.00 Q384.80,52.20 391.90,55.00 Q384.80,55.00 377.70,55.00 z" fill="#111" opacity="0.95"/>
<path d="M378.20,54.70 Q384.80,53.10 391.40,54.70 L391.10,56.00 Q384.80,55.00 378.50,56.00 z" fill="#111" opacity="0.95"/>
<rect x="378.70" y="55.90" width="12.20" height="2.5" fill="#555" opacity="0.14"/>
</g>
<rect x="339.40" y="66.20" width="57.30" height="14.70" fill="#e4e4e4" stroke="#333" stroke-width="0.9" />
<g filter="url(#blur06)">
<path d="M344.00,74.20 Q352.05,71.40 360.10,74.20 Q352.05,74.20 344.00,74.20 z" fill="#111" opacity="0.9"/>
<path d="M344.50,73.90 Q352.05,72.30 359.60,73.90 L359.30,75.20 Q352.05,74.20 344.80,75.20 z" fill="#111" opacity="0.9"/>
<rect x="345.00" y="75.10" width="14.10" height="2.5" fill="#555" opacity="0.14"/>
<path d="M361.60,74.20 Q368.45,71.40 375.30,74.20 Q368.45,74.20 361.60,74.20 z" fill="#111" opacity="0.6"/>
<path d="M362.10,73.90 Q368.45,72.30 374.80,73.90 L374.50,75.20 Q368.45,74.20 362.40,75.20 z" fill="#111" opacity="0.6"/>
<rect x="362.60" y="75.10" width="11.70" height="2.5" fill="#555" opacity="0.09"/>
<path d="M376.70,74.20 Q384.55,71.40 392.40,74.20 Q384.55,74.20 376.70,74.20 z" fill="#111" opacity="0.9"/>
<path d="M377.20,73.90 Q384.55,72.30 391.90,73.90 L391.60,75.20 Q384.55,74.20 377.50,75.20 z" fill="#111" opacity="0.9"/>
<rect x="377.70" y="75.10" width="13.70" height="2.5" fill="#555" opacity="0.14"/>
</g>
<text x="327.80" y="58.30" font-size="7.6" font-weight="normal" font-style="normal" fill="#222" text-anchor="end" stroke="#222" stroke-width="0.28" >15</text>
<line x1="329.60" y1="55.70" x2="337.00" y2="55.70" stroke="#333" stroke-width="0.8" />
<text x="327.80" y="70.90" font-size="7.6" font-weight="normal" font-style="normal" fill="#222" text-anchor="end" stroke="#222" stroke-width="0.28" >15</text>
<line x1="329.60" y1="68.30" x2="337.00" y2="68.30" stroke="#333" stroke-width="0.8" />
<text x="398.50" y="56.30" font-size="7.8" font-weight="normal" font-style="normal" fill="#222" text-anchor="start" stroke="#222" stroke-width="0.28" textLength="36.00" lengthAdjust="spacingAndGlyphs" >H3K4me3</text>
<text x="398.50" y="76.40" font-size="7.8" font-weight="normal" font-style="normal" fill="#222" text-anchor="start" stroke="#222" stroke-width="0.28" >H4</text>
<text x="349.40" y="43.40" font-size="7.6" font-weight="normal" font-style="normal" fill="#222" text-anchor="start" stroke="#222" stroke-width="0.28" transform="rotate(-32 349.40 43.40)" >Ctrl MO</text>
<text x="366.40" y="43.40" font-size="7.6" font-weight="normal" font-style="normal" fill="#222" text-anchor="start" stroke="#222" stroke-width="0.28" transform="rotate(-32 366.40 43.40)" >Cxxc1 MO</text>
<text x="384.00" y="44.20" font-size="7.6" font-weight="normal" font-style="normal" fill="#222" text-anchor="start" stroke="#222" stroke-width="0.28" transform="rotate(-32 384.00 44.20)" >NI Ctrl</text>
<text x="443.60" y="33.20" font-size="7.4" font-weight="normal" font-style="normal" fill="#222" text-anchor="middle" stroke="#222" stroke-width="0.28" textLength="14.50" lengthAdjust="spacingAndGlyphs" >MW</text>
<text x="443.60" y="43.60" font-size="7.4" font-weight="normal" font-style="normal" fill="#222" text-anchor="middle" stroke="#222" stroke-width="0.28" textLength="20.00" lengthAdjust="spacingAndGlyphs" >(kDa)</text>
<rect x="454.20" y="47.30" width="58.30" height="15.20" fill="#e4e4e4" stroke="#333" stroke-width="0.9" />
<g filter="url(#blur06)">
<path d="M461.00,56.40 Q468.25,53.60 475.50,56.40 Q468.25,56.40 461.00,56.40 z" fill="#111" opacity="0.95"/>
<path d="M461.50,56.10 Q468.25,54.50 475.00,56.10 L474.70,57.40 Q468.25,56.40 461.80,57.40 z" fill="#111" opacity="0.95"/>
<rect x="462.00" y="57.30" width="12.50" height="2.5" fill="#555" opacity="0.14"/>
<path d="M478.00,56.40 Q483.50,53.60 489.00,56.40 Q483.50,56.40 478.00,56.40 z" fill="#111" opacity="0.18"/>
<path d="M478.50,56.10 Q483.50,54.50 488.50,56.10 L488.20,57.40 Q483.50,56.40 478.80,57.40 z" fill="#111" opacity="0.18"/>
<rect x="479.00" y="57.30" width="9.00" height="2.5" fill="#555" opacity="0.03"/>
<path d="M491.50,56.40 Q499.00,53.60 506.50,56.40 Q499.00,56.40 491.50,56.40 z" fill="#111" opacity="0.95"/>
<path d="M492.00,56.10 Q499.00,54.50 506.00,56.10 L505.70,57.40 Q499.00,56.40 492.30,57.40 z" fill="#111" opacity="0.95"/>
<rect x="492.50" y="57.30" width="13.00" height="2.5" fill="#555" opacity="0.14"/>
</g>
<rect x="454.20" y="66.20" width="58.30" height="14.90" fill="#e4e4e4" stroke="#333" stroke-width="0.9" />
<g filter="url(#blur06)">
<path d="M459.50,75.20 Q467.00,72.40 474.50,75.20 Q467.00,75.20 459.50,75.20 z" fill="#111" opacity="0.9"/>
<path d="M460.00,74.90 Q467.00,73.30 474.00,74.90 L473.70,76.20 Q467.00,75.20 460.30,76.20 z" fill="#111" opacity="0.9"/>
<rect x="460.50" y="76.10" width="13.00" height="2.5" fill="#555" opacity="0.14"/>
<path d="M476.00,75.20 Q483.00,72.40 490.00,75.20 Q483.00,75.20 476.00,75.20 z" fill="#111" opacity="0.3"/>
<path d="M476.50,74.90 Q483.00,73.30 489.50,74.90 L489.20,76.20 Q483.00,75.20 476.80,76.20 z" fill="#111" opacity="0.3"/>
<rect x="477.00" y="76.10" width="12.00" height="2.5" fill="#555" opacity="0.04"/>
<path d="M491.00,75.20 Q498.75,72.40 506.50,75.20 Q498.75,75.20 491.00,75.20 z" fill="#111" opacity="0.9"/>
<path d="M491.50,74.90 Q498.75,73.30 506.00,74.90 L505.70,76.20 Q498.75,75.20 491.80,76.20 z" fill="#111" opacity="0.9"/>
<rect x="492.00" y="76.10" width="13.50" height="2.5" fill="#555" opacity="0.14"/>
</g>
<text x="443.60" y="59.20" font-size="7.6" font-weight="normal" font-style="normal" fill="#222" text-anchor="end" stroke="#222" stroke-width="0.28" >15</text>
<line x1="445.40" y1="56.60" x2="452.40" y2="56.60" stroke="#333" stroke-width="0.8" />
<text x="443.60" y="72.70" font-size="7.6" font-weight="normal" font-style="normal" fill="#222" text-anchor="end" stroke="#222" stroke-width="0.28" >15</text>
<line x1="445.40" y1="70.10" x2="452.40" y2="70.10" stroke="#333" stroke-width="0.8" />
<text x="513.70" y="57.20" font-size="7.8" font-weight="normal" font-style="normal" fill="#222" text-anchor="start" stroke="#222" stroke-width="0.28" textLength="36.00" lengthAdjust="spacingAndGlyphs" >H3K4me3</text>
<text x="513.70" y="77.20" font-size="7.8" font-weight="normal" font-style="normal" fill="#222" text-anchor="start" stroke="#222" stroke-width="0.28" >H4</text>
<text x="464.60" y="45.60" font-size="7.6" font-weight="normal" font-style="normal" fill="#222" text-anchor="start" stroke="#222" stroke-width="0.28" transform="rotate(-32 464.60 45.60)" >Ctrl MO</text>
<text x="481.20" y="45.60" font-size="7.6" font-weight="normal" font-style="normal" fill="#222" text-anchor="start" stroke="#222" stroke-width="0.28" transform="rotate(-32 481.20 45.60)" >Kmt2b MO</text>
<text x="498.80" y="46.00" font-size="7.6" font-weight="normal" font-style="normal" fill="#222" text-anchor="start" stroke="#222" stroke-width="0.28" transform="rotate(-32 498.80 46.00)" >NI Ctrl</text>
<line x1="582.80" y1="8.20" x2="582.80" y2="80.60" stroke="#222" stroke-width="1.1" />
<line x1="582.30" y1="80.10" x2="677.80" y2="80.10" stroke="#222" stroke-width="1.1" />
<line x1="579.60" y1="80.10" x2="582.80" y2="80.10" stroke="#222" stroke-width="0.7" />
<line x1="581.00" y1="74.95" x2="582.80" y2="74.95" stroke="#222" stroke-width="0.7" />
<line x1="581.00" y1="69.80" x2="582.80" y2="69.80" stroke="#222" stroke-width="0.7" />
<line x1="581.00" y1="64.65" x2="582.80" y2="64.65" stroke="#222" stroke-width="0.7" />
<line x1="581.00" y1="59.50" x2="582.80" y2="59.50" stroke="#222" stroke-width="0.7" />
<line x1="579.60" y1="54.35" x2="582.80" y2="54.35" stroke="#222" stroke-width="0.7" />
<line x1="581.00" y1="49.20" x2="582.80" y2="49.20" stroke="#222" stroke-width="0.7" />
<line x1="581.00" y1="44.05" x2="582.80" y2="44.05" stroke="#222" stroke-width="0.7" />
<line x1="581.00" y1="38.90" x2="582.80" y2="38.90" stroke="#222" stroke-width="0.7" />
<line x1="581.00" y1="33.75" x2="582.80" y2="33.75" stroke="#222" stroke-width="0.7" />
<line x1="579.60" y1="28.60" x2="582.80" y2="28.60" stroke="#222" stroke-width="0.7" />
<line x1="581.00" y1="23.45" x2="582.80" y2="23.45" stroke="#222" stroke-width="0.7" />
<line x1="581.00" y1="18.30" x2="582.80" y2="18.30" stroke="#222" stroke-width="0.7" />
<line x1="581.00" y1="13.15" x2="582.80" y2="13.15" stroke="#222" stroke-width="0.7" />
<text x="578.80" y="82.80" font-size="7.8" font-weight="normal" font-style="normal" fill="#222" text-anchor="end" stroke="#222" stroke-width="0.28" >0.0</text>
<text x="578.80" y="57.05" font-size="7.8" font-weight="normal" font-style="normal" fill="#222" text-anchor="end" stroke="#222" stroke-width="0.28" >0.5</text>
<text x="578.80" y="31.30" font-size="7.8" font-weight="normal" font-style="normal" fill="#222" text-anchor="end" stroke="#222" stroke-width="0.28" >1.0</text>
<text x="630.50" y="13.20" font-size="8.2" font-weight="normal" font-style="normal" fill="#222" text-anchor="middle" stroke="#222" stroke-width="0.28" textLength="19.00" lengthAdjust="spacingAndGlyphs" >256c</text>
<text x="557.80" y="34.00" font-size="7.2" font-weight="normal" font-style="normal" fill="#222" text-anchor="middle" stroke="#222" stroke-width="0.28" textLength="42.00" lengthAdjust="spacingAndGlyphs" transform="rotate(-90 557.80 34.00)" >H3K4me3/H4</text>
<text x="567.20" y="36.00" font-size="7.2" font-weight="normal" font-style="normal" fill="#222" text-anchor="middle" stroke="#222" stroke-width="0.28" textLength="72.00" lengthAdjust="spacingAndGlyphs" transform="rotate(-90 567.20 36.00)" >(normalized to NI Ctrl)</text>
<rect x="587.60" y="28.60" width="7.80" height="51.50" fill="#8c8c8c" stroke="#222" stroke-width="0.8" />
<rect x="587.90" y="27.00" width="3.20" height="3.20" fill="#111" stroke="none" stroke-width="0" />
<rect x="591.90" y="27.00" width="3.20" height="3.20" fill="#111" stroke="none" stroke-width="0" />
<rect x="600.60" y="51.26" width="7.80" height="28.84" fill="#e8b828" stroke="#222" stroke-width="0.8" />
<line x1="604.50" y1="34.26" x2="604.50" y2="68.25" stroke="#111" stroke-width="0.8" />
<line x1="602.30" y1="34.26" x2="606.70" y2="34.26" stroke="#111" stroke-width="0.8" />
<line x1="602.30" y1="68.25" x2="606.70" y2="68.25" stroke="#111" stroke-width="0.8" />
<rect x="602.90" y="37.81" width="3.20" height="3.20" fill="#111" stroke="none" stroke-width="0" />
<circle cx="604.50" cy="63.62" r="1.70" fill="#111" stroke="none" stroke-width="0" />
<rect x="613.50" y="31.17" width="7.80" height="48.92" fill="#eaeaea" stroke="#222" stroke-width="0.8" />
<line x1="617.40" y1="28.60" x2="617.40" y2="33.23" stroke="#111" stroke-width="0.8" />
<line x1="615.20" y1="28.60" x2="619.60" y2="28.60" stroke="#111" stroke-width="0.8" />
<line x1="615.20" y1="33.23" x2="619.60" y2="33.23" stroke="#111" stroke-width="0.8" />
<rect x="615.80" y="27.00" width="3.20" height="3.20" fill="#111" stroke="none" stroke-width="0" />
<circle cx="617.40" cy="32.20" r="1.70" fill="#111" stroke="none" stroke-width="0" />
<rect x="615.80" y="28.54" width="3.20" height="3.20" fill="#111" stroke="none" stroke-width="0" />
<rect x="639.40" y="28.60" width="7.80" height="51.50" fill="#8c8c8c" stroke="#222" stroke-width="0.8" />
<rect x="639.70" y="27.00" width="3.20" height="3.20" fill="#111" stroke="none" stroke-width="0" />
<rect x="643.70" y="27.00" width="3.20" height="3.20" fill="#111" stroke="none" stroke-width="0" />
<rect x="652.50" y="47.14" width="7.80" height="32.96" fill="#2f5c98" stroke="#222" stroke-width="0.8" />
<line x1="656.40" y1="26.02" x2="656.40" y2="68.25" stroke="#111" stroke-width="0.8" />
<line x1="654.20" y1="26.02" x2="658.60" y2="26.02" stroke="#111" stroke-width="0.8" />
<line x1="654.20" y1="68.25" x2="658.60" y2="68.25" stroke="#111" stroke-width="0.8" />
<rect x="654.80" y="30.60" width="3.20" height="3.20" fill="#111" stroke="none" stroke-width="0" />
<circle cx="656.40" cy="62.07" r="1.70" fill="#111" stroke="none" stroke-width="0" />
<rect x="665.60" y="23.96" width="7.80" height="56.14" fill="#eaeaea" stroke="#222" stroke-width="0.8" />
<line x1="669.50" y1="11.60" x2="669.50" y2="36.32" stroke="#111" stroke-width="0.8" />
<line x1="667.30" y1="11.60" x2="671.70" y2="11.60" stroke="#111" stroke-width="0.8" />
<line x1="667.30" y1="36.32" x2="671.70" y2="36.32" stroke="#111" stroke-width="0.8" />
<rect x="667.90" y="13.61" width="3.20" height="3.20" fill="#111" stroke="none" stroke-width="0" />
<circle cx="669.50" cy="32.72" r="1.70" fill="#111" stroke="none" stroke-width="0" />
<line x1="630.40" y1="80.10" x2="630.40" y2="82.60" stroke="#222" stroke-width="0.8" />
<line x1="591.50" y1="80.10" x2="591.50" y2="82.60" stroke="#222" stroke-width="0.8" />
<text x="593.90" y="86.50" font-size="7.8" font-weight="normal" font-style="normal" fill="#222" text-anchor="end" stroke="#222" stroke-width="0.28" transform="rotate(-45 593.90 86.50)" >NI Ctrl</text>
<line x1="604.50" y1="80.10" x2="604.50" y2="82.60" stroke="#222" stroke-width="0.8" />
<text x="606.90" y="86.50" font-size="7.8" font-weight="normal" font-style="normal" fill="#222" text-anchor="end" stroke="#222" stroke-width="0.28" transform="rotate(-45 606.90 86.50)" >Cxxc1 MO</text>
<line x1="617.40" y1="80.10" x2="617.40" y2="82.60" stroke="#222" stroke-width="0.8" />
<text x="619.80" y="86.50" font-size="7.8" font-weight="normal" font-style="normal" fill="#222" text-anchor="end" stroke="#222" stroke-width="0.28" transform="rotate(-45 619.80 86.50)" >Ctrl MO</text>
<line x1="643.30" y1="80.10" x2="643.30" y2="82.60" stroke="#222" stroke-width="0.8" />
<text x="645.70" y="86.50" font-size="7.8" font-weight="normal" font-style="normal" fill="#222" text-anchor="end" stroke="#222" stroke-width="0.28" transform="rotate(-45 645.70 86.50)" >NI Ctrl</text>
<line x1="656.40" y1="80.10" x2="656.40" y2="82.60" stroke="#222" stroke-width="0.8" />
<text x="658.80" y="86.50" font-size="7.8" font-weight="normal" font-style="normal" fill="#222" text-anchor="end" stroke="#222" stroke-width="0.28" transform="rotate(-45 658.80 86.50)" >Kmt2b MO</text>
<line x1="669.50" y1="80.10" x2="669.50" y2="82.60" stroke="#222" stroke-width="0.8" />
<text x="671.90" y="86.50" font-size="7.8" font-weight="normal" font-style="normal" fill="#222" text-anchor="end" stroke="#222" stroke-width="0.28" transform="rotate(-45 671.90 86.50)" >Ctrl MO</text>
<text x="1.00" y="119.60" font-size="12" font-weight="bold" font-style="normal" fill="#111" text-anchor="start" stroke="#111" stroke-width="0.12" >c</text>
<text x="31.00" y="128.00" font-size="10.2" font-weight="bold" font-style="normal" fill="#111" text-anchor="start" stroke="#111" stroke-width="0.12" textLength="27.00" lengthAdjust="spacingAndGlyphs" >Cxxc1</text>
<text x="62.30" y="128.00" font-size="10.2" font-weight="normal" font-style="normal" fill="#222" text-anchor="start" stroke="#222" stroke-width="0.28" textLength="33.00" lengthAdjust="spacingAndGlyphs" >(7.5hpf)</text>
<path d="M27.50,132.00V216.90H197.50" fill="none" stroke="#111" stroke-width="1.35" stroke-linejoin="round"/>
<line x1="25.10" y1="213.90" x2="27.50" y2="213.90" stroke="#111" stroke-width="0.8" />
<text x="22.10" y="217.20" font-size="8" font-weight="normal" font-style="normal" fill="#222" text-anchor="end" stroke="#222" stroke-width="0.28" >0</text>
<line x1="25.10" y1="194.20" x2="27.50" y2="194.20" stroke="#111" stroke-width="0.8" />
<text x="22.10" y="197.50" font-size="8" font-weight="normal" font-style="normal" fill="#222" text-anchor="end" stroke="#222" stroke-width="0.28" >5</text>
<line x1="25.10" y1="174.50" x2="27.50" y2="174.50" stroke="#111" stroke-width="0.8" />
<text x="22.10" y="177.80" font-size="8" font-weight="normal" font-style="normal" fill="#222" text-anchor="end" stroke="#222" stroke-width="0.28" >10</text>
<line x1="25.10" y1="154.80" x2="27.50" y2="154.80" stroke="#111" stroke-width="0.8" />
<text x="22.10" y="158.10" font-size="8" font-weight="normal" font-style="normal" fill="#222" text-anchor="end" stroke="#222" stroke-width="0.28" >15</text>
<line x1="25.10" y1="135.10" x2="27.50" y2="135.10" stroke="#111" stroke-width="0.8" />
<text x="22.10" y="138.40" font-size="8" font-weight="normal" font-style="normal" fill="#222" text-anchor="end" stroke="#222" stroke-width="0.28" >20</text>
<line x1="48.60" y1="216.80" x2="48.60" y2="219.10" stroke="#111" stroke-width="0.8" />
<text x="48.00" y="227.80" font-size="8" font-weight="normal" font-style="normal" fill="#222" text-anchor="middle" stroke="#222" stroke-width="0.28" >−4</text>
<line x1="81.20" y1="216.80" x2="81.20" y2="219.10" stroke="#111" stroke-width="0.8" />
<text x="80.60" y="227.80" font-size="8" font-weight="normal" font-style="normal" fill="#222" text-anchor="middle" stroke="#222" stroke-width="0.28" >−2</text>
<line x1="113.80" y1="216.80" x2="113.80" y2="219.10" stroke="#111" stroke-width="0.8" />
<text x="113.80" y="227.80" font-size="8" font-weight="normal" font-style="normal" fill="#222" text-anchor="middle" stroke="#222" stroke-width="0.28" >0</text>
<line x1="146.40" y1="216.80" x2="146.40" y2="219.10" stroke="#111" stroke-width="0.8" />
<text x="146.40" y="227.80" font-size="8" font-weight="normal" font-style="normal" fill="#222" text-anchor="middle" stroke="#222" stroke-width="0.28" >2</text>
<line x1="179.00" y1="216.80" x2="179.00" y2="219.10" stroke="#111" stroke-width="0.8" />
<text x="179.00" y="227.80" font-size="8" font-weight="normal" font-style="normal" fill="#222" text-anchor="middle" stroke="#222" stroke-width="0.28" >4</text>
<text x="115.40" y="233.10" font-size="8.2" fill="#222" stroke="#222" stroke-width="0.25" text-anchor="middle">log<tspan font-size="5.8" dy="1.8">2</tspan><tspan dy="-1.8" dx="0.6">FC</tspan></text>
<line x1="28.20" y1="208.78" x2="197.50" y2="208.78" stroke="#444" stroke-width="0.8" stroke-dasharray="2.4,2.1"/>
<line x1="113.80" y1="132.00" x2="113.80" y2="216.10" stroke="#444" stroke-width="0.8" stroke-dasharray="2.6,1.8"/>
<path fill="none" stroke="#c4c4c4" stroke-width="1.2" d="M77.5,207.7h4.7M79.9,205.4v4.7M139.0,207.4h4.7M141.4,205.0v4.7M74.6,208.6h4.7M77.0,206.2v4.7M124.7,205.7h4.7M127.0,203.4v4.7M77.8,205.2h4.7M80.1,202.9v4.7M131.0,207.5h4.7M133.4,205.1v4.7M154.0,206.1h4.7M156.3,203.7v4.7M108.6,208.0h4.7M111.0,205.7v4.7M182.7,208.0h4.7M185.0,205.6v4.7M89.7,205.6h4.7M92.0,203.3v4.7M114.1,208.4h4.7M116.4,206.0v4.7M101.9,208.6h4.7M104.2,206.3v4.7M119.0,206.9h4.7M121.4,204.5v4.7M141.8,208.2h4.7M144.2,205.8v4.7M61.9,206.8h4.7M64.2,204.5v4.7M72.1,208.3h4.7M74.5,206.0v4.7M70.6,208.8h4.7M73.0,206.4v4.7M89.9,208.2h4.7M92.2,205.8v4.7M134.8,205.1h4.7M137.1,202.8v4.7M103.5,207.0h4.7M105.8,204.6v4.7M108.9,207.8h4.7M111.2,205.4v4.7M114.3,206.0h4.7M116.7,203.7v4.7M127.1,206.5h4.7M129.4,204.2v4.7M163.3,207.4h4.7M165.7,205.0v4.7M130.5,208.8h4.7M132.8,206.4v4.7M137.8,207.1h4.7M140.2,204.8v4.7M139.1,208.4h4.7M141.5,206.1v4.7M146.5,207.1h4.7M148.8,204.7v4.7M115.4,206.6h4.7M117.7,204.3v4.7M132.7,207.5h4.7M135.1,205.1v4.7M156.9,207.7h4.7M159.3,205.4v4.7M126.8,207.4h4.7M129.2,205.0v4.7M119.3,208.2h4.7M121.6,205.9v4.7M116.5,207.1h4.7M118.8,204.8v4.7M83.3,207.7h4.7M85.7,205.3v4.7M127.8,204.6h4.7M130.2,202.3v4.7M138.5,205.9h4.7M140.9,203.5v4.7M133.0,206.9h4.7M135.3,204.5v4.7M116.5,206.7h4.7M118.9,204.3v4.7M160.6,207.9h4.7M162.9,205.5v4.7M92.2,203.4h4.7M94.6,201.0v4.7M118.2,206.1h4.7M120.6,203.8v4.7M135.7,205.6h4.7M138.0,203.3v4.7M178.9,203.9h4.7M181.2,201.5v4.7M116.4,206.7h4.7M118.7,204.4v4.7M115.0,206.3h4.7M117.3,204.0v4.7M108.3,207.7h4.7M110.7,205.4v4.7M142.4,206.8h4.7M144.7,204.5v4.7M113.1,205.0h4.7M115.4,202.7v4.7M90.4,206.6h4.7M92.7,204.2v4.7M142.3,208.0h4.7M144.6,205.6v4.7M61.8,206.3h4.7M64.2,203.9v4.7M118.0,207.3h4.7M120.4,205.0v4.7M154.4,206.0h4.7M156.7,203.7v4.7M111.5,207.0h4.7M113.9,204.6v4.7M107.1,202.2h4.7M109.4,199.9v4.7M133.8,202.4h4.7M136.1,200.1v4.7M139.3,206.2h4.7M141.6,203.9v4.7M100.0,208.2h4.7M102.4,205.8v4.7M180.4,207.1h4.7M182.8,204.7v4.7M114.6,204.5h4.7M116.9,202.1v4.7M109.2,203.6h4.7M111.5,201.3v4.7M92.5,207.5h4.7M94.8,205.1v4.7M131.4,204.8h4.7M133.8,202.5v4.7M129.6,207.9h4.7M131.9,205.6v4.7M61.0,206.8h4.7M63.3,204.5v4.7M94.5,207.3h4.7M96.9,205.0v4.7M127.7,207.9h4.7M130.1,205.5v4.7M133.3,208.6h4.7M135.6,206.2v4.7M102.2,208.5h4.7M104.6,206.1v4.7M123.3,206.4h4.7M125.7,204.1v4.7M98.2,208.1h4.7M100.6,205.8v4.7M73.7,204.4h4.7M76.0,202.0v4.7M151.7,208.3h4.7M154.0,205.9v4.7M98.2,205.4h4.7M100.5,203.0v4.7M116.2,208.2h4.7M118.5,205.9v4.7M171.9,208.1h4.7M174.3,205.7v4.7M89.9,202.0h4.7M92.2,199.7v4.7M150.5,208.3h4.7M152.9,205.9v4.7M66.9,208.3h4.7M69.2,205.9v4.7M66.9,199.2h4.7M69.2,196.8v4.7M142.5,207.2h4.7M144.8,204.8v4.7M106.6,202.9h4.7M108.9,200.5v4.7M107.9,204.5h4.7M110.3,202.1v4.7M128.0,202.9h4.7M130.3,200.5v4.7M86.3,205.4h4.7M88.6,203.1v4.7M157.0,205.5h4.7M159.4,203.2v4.7M68.9,206.4h4.7M71.3,204.0v4.7M135.1,206.1h4.7M137.4,203.7v4.7M92.2,206.9h4.7M94.6,204.5v4.7M78.5,206.9h4.7M80.8,204.6v4.7M146.1,206.9h4.7M148.5,204.5v4.7M168.4,208.5h4.7M170.8,206.2v4.7M107.7,206.1h4.7M110.0,203.7v4.7M108.0,205.2h4.7M110.4,202.8v4.7M62.2,206.9h4.7M64.5,204.5v4.7M151.4,206.5h4.7M153.7,204.1v4.7M148.4,208.1h4.7M150.7,205.7v4.7M91.5,208.5h4.7M93.9,206.2v4.7M101.1,205.7h4.7M103.4,203.4v4.7M64.6,204.7h4.7M66.9,202.3v4.7M111.3,208.4h4.7M113.6,206.0v4.7M98.3,204.8h4.7M100.6,202.5v4.7M116.4,207.2h4.7M118.8,204.8v4.7M145.2,206.5h4.7M147.6,204.2v4.7M56.9,206.7h4.7M59.2,204.4v4.7M92.4,205.2h4.7M94.7,202.8v4.7M120.8,206.0h4.7M123.2,203.7v4.7M132.6,203.0h4.7M135.0,200.7v4.7M131.4,206.9h4.7M133.7,204.6v4.7M90.5,207.6h4.7M92.8,205.2v4.7M132.7,206.3h4.7M135.1,204.0v4.7M139.5,204.2h4.7M141.8,201.9v4.7M95.1,202.2h4.7M97.4,199.9v4.7M108.6,207.1h4.7M111.0,204.8v4.7M90.3,208.1h4.7M92.6,205.8v4.7M117.9,206.0h4.7M120.2,203.6v4.7M88.7,206.5h4.7M91.0,204.1v4.7M90.3,203.9h4.7M92.6,201.6v4.7M141.7,208.4h4.7M144.0,206.1v4.7M117.7,208.5h4.7M120.1,206.1v4.7M117.1,208.2h4.7M119.4,205.9v4.7M102.2,205.3h4.7M104.5,203.0v4.7M93.7,204.2h4.7M96.0,201.9v4.7M126.3,208.6h4.7M128.7,206.2v4.7M105.5,208.6h4.7M107.8,206.3v4.7M121.2,207.0h4.7M123.6,204.6v4.7M116.9,208.1h4.7M119.2,205.8v4.7M90.7,206.6h4.7M93.1,204.3v4.7M83.8,205.8h4.7M86.1,203.5v4.7M136.1,202.3h4.7M138.5,199.9v4.7M104.1,207.1h4.7M106.4,204.7v4.7M94.3,208.5h4.7M96.6,206.2v4.7M142.7,208.6h4.7M145.1,206.2v4.7M107.6,207.1h4.7M109.9,204.7v4.7M107.9,206.3h4.7M110.2,203.9v4.7M100.5,205.6h4.7M102.9,203.3v4.7M76.4,205.7h4.7M78.8,203.4v4.7M72.9,205.7h4.7M75.3,203.4v4.7M121.3,208.1h4.7M123.6,205.8v4.7M151.9,207.0h4.7M154.2,204.6v4.7M132.3,206.6h4.7M134.7,204.2v4.7M68.6,204.5h4.7M71.0,202.1v4.7M85.7,206.3h4.7M88.1,203.9v4.7M147.4,205.4h4.7M149.7,203.0v4.7M140.5,207.7h4.7M142.9,205.4v4.7M100.5,207.3h4.7M102.9,204.9v4.7M102.5,203.8h4.7M104.8,201.4v4.7M83.7,205.4h4.7M86.1,203.0v4.7M125.0,203.0h4.7M127.4,200.7v4.7M187.1,207.8h4.7M189.5,205.5v4.7M63.8,207.7h4.7M66.1,205.3v4.7M85.4,203.3h4.7M87.8,201.0v4.7M127.3,206.8h4.7M129.6,204.4v4.7M137.4,207.3h4.7M139.7,205.0v4.7M66.4,207.3h4.7M68.8,205.0v4.7M104.8,208.7h4.7M107.2,206.4v4.7M115.1,207.8h4.7M117.5,205.5v4.7M116.7,207.2h4.7M119.1,204.8v4.7M86.6,204.6h4.7M89.0,202.2v4.7M121.4,207.6h4.7M123.8,205.2v4.7M67.3,208.3h4.7M69.6,206.0v4.7M134.1,205.2h4.7M136.5,202.9v4.7M141.9,207.7h4.7M144.2,205.4v4.7M122.6,208.4h4.7M125.0,206.1v4.7M117.5,205.5h4.7M119.9,203.1v4.7M100.3,204.5h4.7M102.6,202.1v4.7M89.8,206.2h4.7M92.1,203.9v4.7M131.2,205.8h4.7M133.5,203.5v4.7M101.2,206.3h4.7M103.5,203.9v4.7M145.0,203.9h4.7M147.3,201.5v4.7M125.5,203.6h4.7M127.8,201.2v4.7M144.6,208.1h4.7M146.9,205.8v4.7M94.8,208.0h4.7M97.2,205.6v4.7M79.5,208.0h4.7M81.9,205.7v4.7M106.3,208.4h4.7M108.6,206.0v4.7M144.2,208.1h4.7M146.6,205.8v4.7M71.1,205.9h4.7M73.4,203.5v4.7M81.7,207.5h4.7M84.1,205.2v4.7M107.7,207.8h4.7M110.1,205.5v4.7M83.7,208.1h4.7M86.0,205.7v4.7M172.0,207.1h4.7M174.3,204.8v4.7M107.7,205.7h4.7M110.0,203.3v4.7M132.1,206.7h4.7M134.4,204.3v4.7M135.3,203.4h4.7M137.7,201.0v4.7M87.5,208.4h4.7M89.9,206.1v4.7M125.3,205.2h4.7M127.6,202.9v4.7M124.5,208.1h4.7M126.8,205.8v4.7M112.5,208.2h4.7M114.9,205.8v4.7M118.3,206.9h4.7M120.6,204.6v4.7M102.0,206.5h4.7M104.4,204.2v4.7M87.8,205.8h4.7M90.1,203.4v4.7M146.9,206.0h4.7M149.3,203.7v4.7M135.2,206.5h4.7M137.5,204.1v4.7M111.4,206.9h4.7M113.7,204.6v4.7M82.3,208.2h4.7M84.6,205.9v4.7M91.1,206.8h4.7M93.5,204.4v4.7M95.4,208.5h4.7M97.7,206.1v4.7M122.5,205.0h4.7M124.9,202.7v4.7M89.5,206.2h4.7M91.9,203.8v4.7M134.1,205.7h4.7M136.4,203.4v4.7M124.0,207.2h4.7M126.3,204.9v4.7M108.5,203.8h4.7M110.9,201.4v4.7M131.2,207.4h4.7M133.6,205.0v4.7M86.5,203.0h4.7M88.9,200.7v4.7M131.2,199.1h4.7M133.5,196.8v4.7M122.8,207.8h4.7M125.1,205.5v4.7M114.4,204.3h4.7M116.8,202.0v4.7M110.7,207.5h4.7M113.1,205.2v4.7M125.8,206.3h4.7M128.1,203.9v4.7M115.0,207.4h4.7M117.4,205.0v4.7M76.9,206.4h4.7M79.3,204.0v4.7M129.9,208.6h4.7M132.2,206.2v4.7M86.3,203.2h4.7M88.7,200.9v4.7M124.9,208.5h4.7M127.3,206.2v4.7M64.8,208.6h4.7M67.1,206.3v4.7M69.3,208.7h4.7M71.6,206.4v4.7M115.4,207.8h4.7M117.8,205.4v4.7M117.5,208.3h4.7M119.8,206.0v4.7M79.9,207.7h4.7M82.2,205.4v4.7M97.3,208.1h4.7M99.6,205.8v4.7M118.9,207.1h4.7M121.3,204.7v4.7M156.8,201.7h4.7M159.1,199.3v4.7M122.6,208.2h4.7M124.9,205.9v4.7M174.5,206.2h4.7M176.9,203.9v4.7M65.6,207.7h4.7M68.0,205.3v4.7M97.0,206.0h4.7M99.4,203.7v4.7M82.2,208.5h4.7M84.6,206.1v4.7M107.8,208.5h4.7M110.2,206.2v4.7M116.9,205.5h4.7M119.2,203.1v4.7M112.8,191.7h4.7M115.1,189.3v4.7M118.6,205.0h4.7M120.9,202.7v4.7M115.5,206.0h4.7M117.8,203.7v4.7M118.2,150.9h4.7M120.6,148.6v4.7M118.7,161.1h4.7M121.1,158.8v4.7M117.0,178.0h4.7M119.3,175.6v4.7M112.6,194.9h4.7M114.9,192.5v4.7M115.7,140.1h4.7M118.0,137.7v4.7M116.5,160.8h4.7M118.9,158.5v4.7M118.4,167.1h4.7M120.8,164.7v4.7M126.0,163.6h4.7M128.3,161.3v4.7M120.1,150.5h4.7M122.4,148.2v4.7M115.7,152.5h4.7M118.1,150.1v4.7M116.9,165.0h4.7M119.2,162.6v4.7M113.5,194.8h4.7M115.9,192.4v4.7M118.6,198.5h4.7M120.9,196.2v4.7M117.6,190.6h4.7M119.9,188.3v4.7M121.8,177.1h4.7M124.2,174.8v4.7M119.0,178.4h4.7M121.3,176.1v4.7M119.7,174.6h4.7M122.0,172.3v4.7M126.6,198.7h4.7M128.9,196.4v4.7M116.5,185.9h4.7M118.9,183.6v4.7M115.2,195.8h4.7M117.6,193.4v4.7M123.5,171.3h4.7M125.8,169.0v4.7M118.8,165.3h4.7M121.1,163.0v4.7M119.5,179.2h4.7M121.8,176.8v4.7M118.7,167.7h4.7M121.0,165.3v4.7M118.6,208.4h4.7M121.0,206.1v4.7M122.1,205.0h4.7M124.4,202.7v4.7M117.7,202.9h4.7M120.1,200.5v4.7M119.8,149.4h4.7M122.2,147.1v4.7M115.1,142.0h4.7M117.4,139.6v4.7M117.6,183.2h4.7M119.9,180.8v4.7M123.4,160.3h4.7M125.8,157.9v4.7M118.6,208.1h4.7M121.0,205.7v4.7M114.3,208.5h4.7M116.6,206.2v4.7M115.6,146.5h4.7M118.0,144.2v4.7M120.8,205.9h4.7M123.1,203.5v4.7M121.9,188.7h4.7M124.2,186.4v4.7M117.9,144.7h4.7M120.3,142.3v4.7M118.1,193.9h4.7M120.4,191.5v4.7M114.4,197.2h4.7M116.8,194.8v4.7M118.0,201.3h4.7M120.4,199.0v4.7M116.4,201.4h4.7M118.8,199.1v4.7M115.3,169.8h4.7M117.7,167.5v4.7M118.6,203.1h4.7M121.0,200.8v4.7M119.3,208.5h4.7M121.7,206.2v4.7M121.8,195.8h4.7M124.2,193.4v4.7M123.3,150.4h4.7M125.7,148.0v4.7M118.8,139.3h4.7M121.1,136.9v4.7M117.7,144.8h4.7M120.1,142.4v4.7M125.1,193.3h4.7M127.5,190.9v4.7M121.9,190.0h4.7M124.3,187.7v4.7M121.2,186.7h4.7M123.5,184.3v4.7M118.4,145.7h4.7M120.7,143.3v4.7M118.2,140.5h4.7M120.5,138.2v4.7M115.2,159.5h4.7M117.5,157.2v4.7M117.5,178.4h4.7M119.9,176.1v4.7M117.8,191.5h4.7M120.2,189.2v4.7M119.1,186.3h4.7M121.4,184.0v4.7M119.8,207.1h4.7M122.2,204.8v4.7M114.3,191.6h4.7M116.6,189.2v4.7M120.5,202.4h4.7M122.8,200.1v4.7M115.8,163.6h4.7M118.2,161.3v4.7M117.1,186.1h4.7M119.5,183.8v4.7M126.8,168.1h4.7M129.2,165.8v4.7M118.7,203.4h4.7M121.0,201.1v4.7M124.0,163.0h4.7M126.3,160.6v4.7M123.3,178.3h4.7M125.7,176.0v4.7M117.1,172.9h4.7M119.5,170.5v4.7M120.8,183.4h4.7M123.1,181.1v4.7M114.9,166.2h4.7M117.3,163.8v4.7M116.3,205.2h4.7M118.6,202.9v4.7M118.8,148.3h4.7M121.2,145.9v4.7M127.9,152.6h4.7M130.2,150.2v4.7M119.9,202.0h4.7M122.3,199.7v4.7M119.1,193.6h4.7M121.4,191.2v4.7M117.7,185.3h4.7M120.1,182.9v4.7M117.7,208.1h4.7M120.1,205.8v4.7M123.0,184.6h4.7M125.3,182.2v4.7M121.3,177.8h4.7M123.7,175.5v4.7M116.2,204.5h4.7M118.5,202.1v4.7M121.4,198.4h4.7M123.8,196.1v4.7M118.6,208.1h4.7M120.9,205.8v4.7M112.6,207.2h4.7M114.9,204.9v4.7M120.4,164.6h4.7M122.8,162.3v4.7M114.5,204.4h4.7M116.9,202.0v4.7M116.5,160.3h4.7M118.9,157.9v4.7M119.9,197.0h4.7M122.3,194.6v4.7M113.2,199.4h4.7M115.6,197.0v4.7M110.7,184.7h4.7M113.1,182.4v4.7M118.6,193.4h4.7M121.0,191.1v4.7M111.4,197.0h4.7M113.8,194.6v4.7M124.2,208.1h4.7M126.6,205.7v4.7M122.6,208.0h4.7M124.9,205.6v4.7M115.3,172.9h4.7M117.7,170.5v4.7M117.3,200.7h4.7M119.7,198.4v4.7M119.0,204.4h4.7M121.3,202.0v4.7M117.5,175.0h4.7M119.9,172.7v4.7M121.2,169.0h4.7M123.6,166.7v4.7M120.1,172.0h4.7M122.5,169.7v4.7M118.4,197.6h4.7M120.8,195.3v4.7M120.6,168.9h4.7M122.9,166.6v4.7M117.7,170.6h4.7M120.0,168.2v4.7M120.0,183.1h4.7M122.3,180.7v4.7M125.5,148.5h4.7M127.9,146.2v4.7M115.0,192.7h4.7M117.3,190.4v4.7M119.7,199.8h4.7M122.0,197.4v4.7M116.2,195.2h4.7M118.5,192.8v4.7M125.1,203.0h4.7M127.5,200.7v4.7M116.0,197.4h4.7M118.4,195.1v4.7M116.7,195.4h4.7M119.1,193.1v4.7M121.1,195.9h4.7M123.5,193.6v4.7M120.2,161.6h4.7M122.6,159.3v4.7M122.7,185.3h4.7M125.1,183.0v4.7M121.0,205.6h4.7M123.3,203.3v4.7M115.2,165.6h4.7M117.5,163.3v4.7M120.7,208.7h4.7M123.1,206.4v4.7M117.0,187.3h4.7M119.3,184.9v4.7M114.7,142.1h4.7M117.1,139.7v4.7M117.6,176.0h4.7M120.0,173.7v4.7M119.2,184.9h4.7M121.5,182.5v4.7M117.7,162.6h4.7M120.0,160.2v4.7M119.9,167.8h4.7M122.3,165.5v4.7M119.5,150.2h4.7M121.8,147.9v4.7M122.8,206.6h4.7M125.1,204.3v4.7M121.1,166.9h4.7M123.5,164.6v4.7M117.3,204.1h4.7M119.7,201.8v4.7M116.8,165.0h4.7M119.2,162.6v4.7M95.9,201.4h4.7M98.2,199.1v4.7M103.0,203.4h4.7M105.3,201.0v4.7M111.3,197.3h4.7M113.6,194.9v4.7M102.7,195.1h4.7M105.0,192.8v4.7M102.7,169.2h4.7M105.1,166.8v4.7M96.6,200.8h4.7M98.9,198.5v4.7M107.5,174.3h4.7M109.8,172.0v4.7M97.7,178.1h4.7M100.0,175.7v4.7M109.3,165.4h4.7M111.6,163.1v4.7M95.3,189.4h4.7M97.6,187.0v4.7M96.5,178.3h4.7M98.9,176.0v4.7M103.0,200.4h4.7M105.3,198.0v4.7M101.7,182.8h4.7M104.1,180.5v4.7M105.4,162.3h4.7M107.8,160.0v4.7M102.0,206.8h4.7M104.4,204.5v4.7M106.2,200.2h4.7M108.6,197.9v4.7M100.7,208.6h4.7M103.1,206.3v4.7M116.6,204.3h4.7M119.0,201.9v4.7M109.4,180.3h4.7M111.8,178.0v4.7M108.8,207.3h4.7M111.1,204.9v4.7M109.1,192.6h4.7M111.5,190.3v4.7M106.2,169.7h4.7M108.5,167.3v4.7M106.4,207.2h4.7M108.7,204.8v4.7M104.6,206.5h4.7M107.0,204.2v4.7M104.8,192.1h4.7M107.2,189.7v4.7M111.9,206.4h4.7M114.2,204.1v4.7M105.7,207.4h4.7M108.0,205.0v4.7M107.8,181.6h4.7M110.1,179.3v4.7M101.8,177.2h4.7M104.1,174.9v4.7M109.8,197.9h4.7M112.2,195.6v4.7M103.4,169.3h4.7M105.8,166.9v4.7M114.3,203.2h4.7M116.7,200.9v4.7M92.4,197.8h4.7M94.7,195.4v4.7M100.5,206.5h4.7M102.9,204.1v4.7M115.4,178.4h4.7M117.8,176.1v4.7M107.8,201.8h4.7M110.1,199.4v4.7M98.3,205.2h4.7M100.7,202.9v4.7M103.1,162.4h4.7M105.4,160.1v4.7M102.1,208.8h4.7M104.5,206.4v4.7M101.1,198.2h4.7M103.5,195.9v4.7M98.1,184.7h4.7M100.4,182.4v4.7M110.4,191.4h4.7M112.8,189.1v4.7M105.7,203.9h4.7M108.0,201.5v4.7M106.5,205.6h4.7M108.9,203.2v4.7M108.1,189.6h4.7M110.5,187.2v4.7M99.8,162.1h4.7M102.2,159.8v4.7M103.5,207.7h4.7M105.8,205.4v4.7M110.1,180.7h4.7M112.5,178.4v4.7M113.2,174.9h4.7M115.5,172.6v4.7M104.2,176.8h4.7M106.5,174.5v4.7M107.5,184.5h4.7M109.8,182.2v4.7M106.0,208.3h4.7M108.4,206.0v4.7M98.7,165.6h4.7M101.0,163.3v4.7M104.8,192.5h4.7M107.2,190.2v4.7M106.7,179.3h4.7M109.1,177.0v4.7M100.9,200.6h4.7M103.2,198.2v4.7M106.0,176.5h4.7M108.3,174.1v4.7M103.0,206.7h4.7M105.4,204.4v4.7M98.4,207.6h4.7M100.7,205.3v4.7M102.5,176.0h4.7M104.9,173.7v4.7M80.7,208.0h4.7M83.1,205.6v4.7M79.8,206.7h4.7M82.1,204.4v4.7M106.1,207.6h4.7M108.5,205.3v4.7M141.9,203.7h4.7M144.3,201.3v4.7M47.2,203.9h4.7M49.5,201.6v4.7M187.6,205.0h4.7M189.9,202.6v4.7M165.2,208.3h4.7M167.5,205.9v4.7M91.4,208.1h4.7M93.8,205.7v4.7M145.7,208.2h4.7M148.0,205.9v4.7M104.6,201.7h4.7M107.0,199.3v4.7M31.7,198.9h4.7M34.0,196.6v4.7M63.6,208.3h4.7M66.0,205.9v4.7M130.4,207.4h4.7M132.7,205.1v4.7M117.9,203.6h4.7M120.3,201.2v4.7M78.6,205.9h4.7M80.9,203.6v4.7M138.6,204.1h4.7M141.0,201.7v4.7M71.8,206.0h4.7M74.1,203.7v4.7M83.6,200.3h4.7M86.0,197.9v4.7M184.0,200.6h4.7M186.3,198.3v4.7M84.0,205.4h4.7M86.4,203.0v4.7M164.7,206.2h4.7M167.1,203.9v4.7M45.3,207.1h4.7M47.7,204.8v4.7M140.4,207.9h4.7M142.8,205.5v4.7M95.5,205.4h4.7M97.9,203.1v4.7M166.4,206.8h4.7M168.7,204.4v4.7M66.9,207.5h4.7M69.2,205.1v4.7M55.6,204.8h4.7M57.9,202.4v4.7M41.8,204.8h4.7M44.1,202.5v4.7M180.0,202.9h4.7M182.4,200.5v4.7M135.5,205.9h4.7M137.8,203.5v4.7M154.9,206.4h4.7M157.3,204.1v4.7M84.0,203.9h4.7M86.3,201.5v4.7M97.1,203.2h4.7M99.5,200.9v4.7M144.0,208.2h4.7M146.4,205.9v4.7M190.0,206.8h4.7M192.4,204.4v4.7M31.6,200.1h4.7M33.9,197.8v4.7M34.8,204.1h4.7M37.2,201.7v4.7M57.7,198.1h4.7M60.0,195.8v4.7M69.1,197.4h4.7M71.4,195.0v4.7M147.3,202.1h4.7M149.7,199.7v4.7M152.2,198.1h4.7M154.6,195.8v4.7M165.2,206.4h4.7M167.6,204.1v4.7M181.5,206.0h4.7M183.9,203.7v4.7M132.6,184.3h4.7M135.0,182.0v4.7M144.1,176.5h4.7M146.4,174.1v4.7M106.6,143.0h4.7M108.9,140.6v4.7M112.3,146.1h4.7M114.6,143.8v4.7M118.0,137.1h4.7M120.3,134.7v4.7M119.6,141.0h4.7M122.0,138.7v4.7M118.8,144.9h4.7M121.1,142.6v4.7M93.5,162.7h4.7M95.9,160.3v4.7M87.0,168.6h4.7M89.3,166.2v4.7M127.8,166.6h4.7M130.1,164.3v4.7M117.2,160.7h4.7M119.5,158.4v4.7M126.1,158.7h4.7M128.5,156.4v4.7M103.3,150.9h4.7M105.6,148.5v4.7"/>
<path fill="none" stroke="#6b9bd6" stroke-width="1.1" d="M87.1,192.7l3.6,3.6M87.1,196.3l3.6,-3.6M98.4,201.3l3.6,3.6M98.4,204.9l3.6,-3.6M94.6,191.1l3.6,3.6M94.6,194.7l3.6,-3.6M97.8,196.3l3.6,3.6M97.8,199.9l3.6,-3.6M97.0,185.4l3.6,3.6M97.0,189.0l3.6,-3.6M97.1,205.3l3.6,3.6M97.1,208.9l3.6,-3.6M88.1,186.4l3.6,3.6M88.1,190.0l3.6,-3.6M99.1,201.0l3.6,3.6M99.1,204.6l3.6,-3.6M90.5,196.6l3.6,3.6M90.5,200.2l3.6,-3.6M98.9,176.1l3.6,3.6M98.9,179.7l3.6,-3.6M100.1,196.0l3.6,3.6M100.1,199.6l3.6,-3.6M92.1,204.6l3.6,3.6M92.1,208.2l3.6,-3.6M85.0,178.2l3.6,3.6M85.0,181.8l3.6,-3.6M91.8,206.4l3.6,3.6M91.8,210.0l3.6,-3.6M91.7,203.7l3.6,3.6M91.7,207.3l3.6,-3.6M87.4,201.7l3.6,3.6M87.4,205.3l3.6,-3.6M90.6,179.0l3.6,3.6M90.6,182.6l3.6,-3.6M90.6,205.9l3.6,3.6M90.6,209.5l3.6,-3.6M98.2,176.8l3.6,3.6M98.2,180.4l3.6,-3.6M101.0,195.1l3.6,3.6M101.0,198.7l3.6,-3.6M102.0,194.5l3.6,3.6M102.0,198.1l3.6,-3.6M90.5,179.9l3.6,3.6M90.5,183.5l3.6,-3.6M92.7,175.9l3.6,3.6M92.7,179.5l3.6,-3.6M96.8,205.9l3.6,3.6M96.8,209.5l3.6,-3.6M88.0,183.8l3.6,3.6M88.0,187.4l3.6,-3.6M91.6,203.7l3.6,3.6M91.6,207.3l3.6,-3.6M104.2,194.0l3.6,3.6M104.2,197.6l3.6,-3.6M95.6,194.9l3.6,3.6M95.6,198.5l3.6,-3.6M91.3,206.5l3.6,3.6M91.3,210.1l3.6,-3.6M97.1,176.1l3.6,3.6M97.1,179.7l3.6,-3.6M94.7,178.5l3.6,3.6M94.7,182.1l3.6,-3.6M91.8,190.3l3.6,3.6M91.8,193.9l3.6,-3.6M90.6,187.6l3.6,3.6M90.6,191.2l3.6,-3.6M89.3,184.8l3.6,3.6M89.3,188.4l3.6,-3.6M98.5,206.9l3.6,3.6M98.5,210.5l3.6,-3.6M95.8,205.6l3.6,3.6M95.8,209.2l3.6,-3.6M99.3,200.1l3.6,3.6M99.3,203.7l3.6,-3.6M91.3,195.9l3.6,3.6M91.3,199.5l3.6,-3.6M92.8,203.2l3.6,3.6M92.8,206.8l3.6,-3.6M90.1,191.5l3.6,3.6M90.1,195.1l3.6,-3.6M92.2,206.8l3.6,3.6M92.2,210.4l3.6,-3.6M92.8,177.5l3.6,3.6M92.8,181.1l3.6,-3.6M91.7,193.1l3.6,3.6M91.7,196.7l3.6,-3.6M89.1,192.2l3.6,3.6M89.1,195.8l3.6,-3.6M95.0,189.6l3.6,3.6M95.0,193.2l3.6,-3.6M94.5,197.0l3.6,3.6M94.5,200.6l3.6,-3.6M85.9,175.7l3.6,3.6M85.9,179.3l3.6,-3.6M99.1,199.4l3.6,3.6M99.1,203.0l3.6,-3.6M85.9,198.7l3.6,3.6M85.9,202.3l3.6,-3.6M84.4,195.7l3.6,3.6M84.4,199.3l3.6,-3.6M89.8,195.7l3.6,3.6M89.8,199.3l3.6,-3.6M84.4,201.9l3.6,3.6M84.4,205.5l3.6,-3.6M98.4,206.7l3.6,3.6M98.4,210.3l3.6,-3.6M92.5,187.8l3.6,3.6M92.5,191.4l3.6,-3.6M83.7,193.2l3.6,3.6M83.7,196.8l3.6,-3.6M94.1,193.3l3.6,3.6M94.1,196.9l3.6,-3.6M89.9,206.5l3.6,3.6M89.9,210.1l3.6,-3.6M97.8,196.5l3.6,3.6M97.8,200.1l3.6,-3.6M97.8,199.8l3.6,3.6M97.8,203.4l3.6,-3.6M101.2,195.7l3.6,3.6M101.2,199.3l3.6,-3.6M87.7,203.6l3.6,3.6M87.7,207.2l3.6,-3.6M91.0,204.6l3.6,3.6M91.0,208.2l3.6,-3.6M84.1,193.0l3.6,3.6M84.1,196.6l3.6,-3.6M103.1,197.7l3.6,3.6M103.1,201.3l3.6,-3.6M101.0,201.9l3.6,3.6M101.0,205.5l3.6,-3.6M99.7,204.8l3.6,3.6M99.7,208.4l3.6,-3.6M98.5,199.4l3.6,3.6M98.5,203.0l3.6,-3.6M101.8,206.2l3.6,3.6M101.8,209.8l3.6,-3.6M99.5,205.9l3.6,3.6M99.5,209.5l3.6,-3.6M94.1,192.2l3.6,3.6M94.1,195.8l3.6,-3.6M82.7,204.5l3.6,3.6M82.7,208.1l3.6,-3.6M89.0,203.3l3.6,3.6M89.0,206.9l3.6,-3.6M84.0,193.3l3.6,3.6M84.0,196.9l3.6,-3.6M99.9,202.2l3.6,3.6M99.9,205.8l3.6,-3.6M90.2,199.1l3.6,3.6M90.2,202.7l3.6,-3.6M83.6,206.8l3.6,3.6M83.6,210.4l3.6,-3.6M101.7,203.6l3.6,3.6M101.7,207.2l3.6,-3.6M93.2,192.6l3.6,3.6M93.2,196.2l3.6,-3.6M103.4,201.0l3.6,3.6M103.4,204.6l3.6,-3.6M87.0,203.7l3.6,3.6M87.0,207.3l3.6,-3.6M102.2,193.3l3.6,3.6M102.2,196.9l3.6,-3.6M86.8,194.5l3.6,3.6M86.8,198.1l3.6,-3.6M90.2,201.0l3.6,3.6M90.2,204.6l3.6,-3.6M86.3,193.6l3.6,3.6M86.3,197.2l3.6,-3.6M103.8,205.0l3.6,3.6M103.8,208.6l3.6,-3.6M96.1,205.1l3.6,3.6M96.1,208.7l3.6,-3.6M101.3,206.7l3.6,3.6M101.3,210.3l3.6,-3.6M84.9,196.6l3.6,3.6M84.9,200.2l3.6,-3.6M89.3,193.2l3.6,3.6M89.3,196.8l3.6,-3.6M101.1,196.8l3.6,3.6M101.1,200.4l3.6,-3.6M85.5,197.1l3.6,3.6M85.5,200.7l3.6,-3.6M102.5,201.5l3.6,3.6M102.5,205.1l3.6,-3.6M84.3,204.7l3.6,3.6M84.3,208.3l3.6,-3.6M89.2,196.9l3.6,3.6M89.2,200.5l3.6,-3.6M86.8,205.3l3.6,3.6M86.8,208.9l3.6,-3.6M87.6,197.7l3.6,3.6M87.6,201.3l3.6,-3.6M99.4,202.6l3.6,3.6M99.4,206.2l3.6,-3.6M96.7,193.5l3.6,3.6M96.7,197.1l3.6,-3.6M95.2,204.7l3.6,3.6M95.2,208.3l3.6,-3.6M89.0,192.7l3.6,3.6M89.0,196.3l3.6,-3.6M96.8,204.0l3.6,3.6M96.8,207.6l3.6,-3.6M96.2,206.3l3.6,3.6M96.2,209.9l3.6,-3.6M103.5,201.6l3.6,3.6M103.5,205.2l3.6,-3.6M93.9,200.1l3.6,3.6M93.9,203.7l3.6,-3.6M83.6,198.9l3.6,3.6M83.6,202.5l3.6,-3.6M88.7,204.4l3.6,3.6M88.7,208.0l3.6,-3.6M99.7,206.3l3.6,3.6M99.7,209.9l3.6,-3.6M88.7,196.0l3.6,3.6M88.7,199.6l3.6,-3.6M87.9,204.0l3.6,3.6M87.9,207.6l3.6,-3.6M94.3,205.2l3.6,3.6M94.3,208.8l3.6,-3.6M90.0,155.8l3.6,3.6M90.0,159.4l3.6,-3.6M90.0,168.0l3.6,3.6M90.0,171.6l3.6,-3.6M82.7,188.5l3.6,3.6M82.7,192.1l3.6,-3.6M79.4,194.4l3.6,3.6M79.4,198.0l3.6,-3.6M85.9,195.6l3.6,3.6M85.9,199.2l3.6,-3.6M126.7,206.6l3.6,3.6M126.7,210.2l3.6,-3.6M134.8,205.8l3.6,3.6M134.8,209.4l3.6,-3.6M138.1,206.2l3.6,3.6M138.1,209.8l3.6,-3.6"/>
<path stroke="#ef7d2d" stroke-width="3.4" stroke-linecap="round" d="M110.1 186.1h0M109.5 201.9h0M108.9 192.3h0M104.7 200.9h0M112.6 207.5h0M105.6 204.4h0M107.7 195.8h0M109.5 200.7h0M106.0 188.4h0M107.7 183.6h0M106.2 207.6h0M109.2 197.5h0M107.5 206.7h0M105.0 190.9h0M110.4 190.7h0M109.2 207.0h0M111.7 198.4h0M108.3 197.9h0M108.9 193.7h0M104.5 207.5h0M106.7 207.9h0M111.8 202.6h0M109.2 202.4h0M108.6 208.5h0M113.3 185.6h0M106.1 190.7h0M107.6 206.7h0M110.2 208.7h0M110.6 205.3h0M106.7 206.3h0M106.9 198.2h0M112.8 207.6h0M111.3 206.4h0M110.9 189.0h0M112.1 190.9h0M111.2 204.3h0M109.9 207.0h0M109.6 201.2h0M108.8 191.9h0M110.3 202.1h0M108.8 192.5h0M110.7 186.4h0M109.4 208.0h0M107.3 202.9h0M110.2 208.5h0M116.9 191.8h0M110.7 193.0h0M109.1 199.3h0M110.8 206.6h0M103.4 204.3h0M117.8 205.7h0M118.8 208.7h0M116.8 204.7h0M116.8 205.6h0M116.7 199.7h0M118.2 195.6h0M115.7 203.8h0M115.1 205.1h0M118.6 197.9h0M117.3 207.5h0M118.2 202.4h0M117.5 207.2h0M117.8 203.7h0M116.5 193.2h0M118.4 200.0h0M117.6 205.0h0M106.5 157.6h0M109.7 169.4h0M119.5 182.4h0"/>
<path stroke="#169a85" stroke-width="3.4" stroke-linecap="round" d="M118.7 203.4h0M118.9 196.3h0M118.1 205.4h0M120.0 192.1h0M120.7 173.3h0M119.2 193.2h0M118.2 200.6h0M120.9 178.9h0M118.9 180.4h0M111.0 197.0h0M110.3 196.0h0M114.9 197.0h0M113.1 189.9h0M63.3 208.8h0M167.6 208.6h0M177.4 206.0h0"/>
<text x="9.60" y="178.45" font-size="8.6" fill="#222" stroke="#222" stroke-width="0.25" text-anchor="middle" transform="rotate(-90 9.60 178.45)">p−value [-log<tspan font-size="7.2" dy="2.4">10</tspan><tspan dy="-2.4">]</tspan></text>
<text x="34.20" y="244.60" font-size="10.2" font-weight="bold" font-style="normal" fill="#111" text-anchor="start" stroke="#111" stroke-width="0.12" textLength="29.00" lengthAdjust="spacingAndGlyphs" >Kmt2b</text>
<text x="67.60" y="244.60" font-size="10.2" font-weight="normal" font-style="normal" fill="#222" text-anchor="start" stroke="#222" stroke-width="0.28" textLength="32.20" lengthAdjust="spacingAndGlyphs" >(7.5hpf)</text>
<path d="M30.80,249.60V335.80H199.30" fill="none" stroke="#111" stroke-width="1.35" stroke-linejoin="round"/>
<line x1="28.40" y1="332.80" x2="30.80" y2="332.80" stroke="#111" stroke-width="0.8" />
<text x="25.40" y="336.10" font-size="8" font-weight="normal" font-style="normal" fill="#222" text-anchor="end" stroke="#222" stroke-width="0.28" >0</text>
<line x1="28.40" y1="313.10" x2="30.80" y2="313.10" stroke="#111" stroke-width="0.8" />
<text x="25.40" y="316.40" font-size="8" font-weight="normal" font-style="normal" fill="#222" text-anchor="end" stroke="#222" stroke-width="0.28" >5</text>
<line x1="28.40" y1="293.40" x2="30.80" y2="293.40" stroke="#111" stroke-width="0.8" />
<text x="25.40" y="296.70" font-size="8" font-weight="normal" font-style="normal" fill="#222" text-anchor="end" stroke="#222" stroke-width="0.28" >10</text>
<line x1="28.40" y1="273.70" x2="30.80" y2="273.70" stroke="#111" stroke-width="0.8" />
<text x="25.40" y="277.00" font-size="8" font-weight="normal" font-style="normal" fill="#222" text-anchor="end" stroke="#222" stroke-width="0.28" >15</text>
<line x1="28.40" y1="254.00" x2="30.80" y2="254.00" stroke="#111" stroke-width="0.8" />
<text x="25.40" y="257.30" font-size="8" font-weight="normal" font-style="normal" fill="#222" text-anchor="end" stroke="#222" stroke-width="0.28" >20</text>
<line x1="53.10" y1="335.70" x2="53.10" y2="338.00" stroke="#111" stroke-width="0.8" />
<text x="52.50" y="347.80" font-size="8" font-weight="normal" font-style="normal" fill="#222" text-anchor="middle" stroke="#222" stroke-width="0.28" >−4</text>
<line x1="85.20" y1="335.70" x2="85.20" y2="338.00" stroke="#111" stroke-width="0.8" />
<text x="84.60" y="347.80" font-size="8" font-weight="normal" font-style="normal" fill="#222" text-anchor="middle" stroke="#222" stroke-width="0.28" >−2</text>
<line x1="117.30" y1="335.70" x2="117.30" y2="338.00" stroke="#111" stroke-width="0.8" />
<text x="117.30" y="347.80" font-size="8" font-weight="normal" font-style="normal" fill="#222" text-anchor="middle" stroke="#222" stroke-width="0.28" >0</text>
<line x1="149.40" y1="335.70" x2="149.40" y2="338.00" stroke="#111" stroke-width="0.8" />
<text x="149.40" y="347.80" font-size="8" font-weight="normal" font-style="normal" fill="#222" text-anchor="middle" stroke="#222" stroke-width="0.28" >2</text>
<line x1="181.50" y1="335.70" x2="181.50" y2="338.00" stroke="#111" stroke-width="0.8" />
<text x="181.50" y="347.80" font-size="8" font-weight="normal" font-style="normal" fill="#222" text-anchor="middle" stroke="#222" stroke-width="0.28" >4</text>
<text x="118.90" y="355.20" font-size="8.2" fill="#222" stroke="#222" stroke-width="0.25" text-anchor="middle">log<tspan font-size="5.8" dy="1.8">2</tspan><tspan dy="-1.8" dx="0.6">FC</tspan></text>
<line x1="31.50" y1="327.68" x2="199.30" y2="327.68" stroke="#444" stroke-width="0.8" stroke-dasharray="2.4,2.1"/>
<line x1="117.30" y1="249.60" x2="117.30" y2="335.00" stroke="#444" stroke-width="0.8" stroke-dasharray="2.6,1.8"/>
<path fill="none" stroke="#c4c4c4" stroke-width="1.2" d="M174.2,324.6h4.7M176.5,322.3v4.7M123.8,327.0h4.7M126.2,324.6v4.7M91.0,326.1h4.7M93.3,323.7v4.7M100.8,327.4h4.7M103.1,325.1v4.7M125.5,324.9h4.7M127.8,322.5v4.7M120.4,324.7h4.7M122.7,322.3v4.7M126.4,327.5h4.7M128.7,325.1v4.7M107.9,324.9h4.7M110.2,322.5v4.7M70.7,327.3h4.7M73.0,325.0v4.7M109.0,326.9h4.7M111.4,324.6v4.7M122.5,324.1h4.7M124.8,321.7v4.7M94.2,324.5h4.7M96.5,322.1v4.7M140.4,327.2h4.7M142.8,324.8v4.7M116.6,325.0h4.7M118.9,322.7v4.7M78.9,325.9h4.7M81.2,323.6v4.7M110.4,326.6h4.7M112.8,324.3v4.7M72.1,327.0h4.7M74.5,324.6v4.7M89.9,326.1h4.7M92.3,323.7v4.7M104.1,326.3h4.7M106.5,324.0v4.7M125.4,325.5h4.7M127.8,323.1v4.7M122.2,326.0h4.7M124.5,323.7v4.7M124.3,326.9h4.7M126.7,324.5v4.7M136.2,327.1h4.7M138.6,324.8v4.7M69.6,325.4h4.7M71.9,323.1v4.7M102.2,325.4h4.7M104.6,323.0v4.7M109.4,325.4h4.7M111.7,323.0v4.7M120.9,324.2h4.7M123.2,321.9v4.7M114.3,326.4h4.7M116.6,324.0v4.7M124.0,323.5h4.7M126.3,321.1v4.7M124.5,325.9h4.7M126.8,323.5v4.7M56.3,325.9h4.7M58.6,323.6v4.7M60.0,324.0h4.7M62.3,321.7v4.7M151.8,321.2h4.7M154.1,318.8v4.7M141.5,326.7h4.7M143.9,324.3v4.7M164.1,326.9h4.7M166.5,324.6v4.7M86.7,320.8h4.7M89.0,318.5v4.7M137.5,321.4h4.7M139.8,319.0v4.7M36.0,325.7h4.7M38.4,323.4v4.7M114.8,325.1h4.7M117.1,322.8v4.7M141.2,327.2h4.7M143.5,324.9v4.7M118.7,326.7h4.7M121.1,324.3v4.7M97.3,327.3h4.7M99.7,324.9v4.7M176.1,324.9h4.7M178.4,322.6v4.7M117.7,326.4h4.7M120.0,324.1v4.7M98.6,327.4h4.7M100.9,325.0v4.7M66.9,326.3h4.7M69.2,324.0v4.7M114.4,324.8h4.7M116.8,322.4v4.7M139.0,325.9h4.7M141.3,323.6v4.7M83.2,322.8h4.7M85.6,320.5v4.7M137.5,322.3h4.7M139.9,319.9v4.7M104.2,325.0h4.7M106.6,322.7v4.7M97.0,322.8h4.7M99.3,320.5v4.7M102.1,326.1h4.7M104.4,323.8v4.7M107.1,325.0h4.7M109.4,322.6v4.7M119.7,324.2h4.7M122.0,321.8v4.7M66.4,326.1h4.7M68.7,323.7v4.7M144.9,325.2h4.7M147.2,322.9v4.7M97.6,324.6h4.7M100.0,322.3v4.7M125.5,325.9h4.7M127.8,323.5v4.7M125.5,327.3h4.7M127.8,325.0v4.7M83.4,326.4h4.7M85.8,324.0v4.7M118.2,324.2h4.7M120.6,321.8v4.7M85.6,327.1h4.7M88.0,324.8v4.7M114.5,327.4h4.7M116.8,325.1v4.7M80.6,324.3h4.7M83.0,322.0v4.7M149.4,323.4h4.7M151.8,321.0v4.7M126.8,323.7h4.7M129.2,321.3v4.7M128.8,325.0h4.7M131.1,322.7v4.7M105.0,327.1h4.7M107.3,324.8v4.7M105.2,324.7h4.7M107.6,322.3v4.7M102.3,324.5h4.7M104.6,322.1v4.7M83.6,326.5h4.7M86.0,324.2v4.7M97.7,322.0h4.7M100.0,319.7v4.7M162.7,324.8h4.7M165.1,322.4v4.7M135.9,325.2h4.7M138.2,322.9v4.7M121.8,323.6h4.7M124.2,321.3v4.7M97.1,326.3h4.7M99.4,323.9v4.7M104.2,325.4h4.7M106.6,323.0v4.7M92.7,321.1h4.7M95.0,318.7v4.7M100.3,325.4h4.7M102.6,323.0v4.7M71.0,325.2h4.7M73.3,322.9v4.7M80.6,327.2h4.7M83.0,324.8v4.7M114.2,325.5h4.7M116.5,323.1v4.7M131.1,326.7h4.7M133.5,324.3v4.7M110.3,322.3h4.7M112.6,320.0v4.7M101.8,327.7h4.7M104.1,325.3v4.7M101.5,327.4h4.7M103.8,325.0v4.7M88.0,326.5h4.7M90.3,324.1v4.7M128.2,326.0h4.7M130.6,323.7v4.7M127.1,326.0h4.7M129.5,323.7v4.7M153.4,327.3h4.7M155.8,324.9v4.7M162.7,326.4h4.7M165.0,324.0v4.7M110.8,325.1h4.7M113.1,322.7v4.7M146.4,323.5h4.7M148.8,321.1v4.7M152.6,325.2h4.7M155.0,322.9v4.7M82.3,325.1h4.7M84.7,322.8v4.7M112.0,326.6h4.7M114.4,324.3v4.7M149.2,325.6h4.7M151.6,323.3v4.7M151.0,321.1h4.7M153.4,318.7v4.7M129.7,326.8h4.7M132.0,324.4v4.7M152.2,327.2h4.7M154.5,324.9v4.7M143.4,324.2h4.7M145.7,321.9v4.7M72.9,326.8h4.7M75.2,324.5v4.7M72.6,325.7h4.7M74.9,323.3v4.7M131.1,324.3h4.7M133.4,322.0v4.7M94.6,326.3h4.7M96.9,324.0v4.7M123.0,326.8h4.7M125.3,324.4v4.7M126.5,326.2h4.7M128.8,323.9v4.7M93.6,326.6h4.7M96.0,324.3v4.7M90.3,325.4h4.7M92.7,323.0v4.7M133.4,325.4h4.7M135.8,323.0v4.7M89.3,324.6h4.7M91.7,322.3v4.7M112.9,321.4h4.7M115.3,319.0v4.7M93.4,322.4h4.7M95.7,320.0v4.7M192.0,326.8h4.7M194.3,324.4v4.7M133.3,325.7h4.7M135.7,323.4v4.7M122.7,322.5h4.7M125.0,320.2v4.7M141.5,327.0h4.7M143.8,324.6v4.7M107.5,323.1h4.7M109.9,320.7v4.7M96.6,327.3h4.7M99.0,324.9v4.7M107.1,327.1h4.7M109.4,324.8v4.7M103.4,325.0h4.7M105.7,322.7v4.7M131.1,324.4h4.7M133.4,322.0v4.7M97.3,326.6h4.7M99.7,324.3v4.7M98.7,323.9h4.7M101.1,321.6v4.7M99.1,327.1h4.7M101.5,324.8v4.7M130.5,324.4h4.7M132.9,322.1v4.7M148.1,327.0h4.7M150.4,324.6v4.7M94.3,325.6h4.7M96.7,323.3v4.7M67.4,323.8h4.7M69.8,321.4v4.7M154.8,327.2h4.7M157.2,324.9v4.7M106.1,327.3h4.7M108.4,324.9v4.7M129.5,325.4h4.7M131.9,323.0v4.7M108.0,327.0h4.7M110.4,324.7v4.7M141.5,327.1h4.7M143.8,324.7v4.7M159.2,327.0h4.7M161.6,324.6v4.7M104.6,323.7h4.7M106.9,321.4v4.7M112.6,326.0h4.7M114.9,323.7v4.7M107.0,327.1h4.7M109.4,324.7v4.7M87.0,325.9h4.7M89.4,323.6v4.7M101.6,327.3h4.7M103.9,325.0v4.7M143.1,326.4h4.7M145.4,324.0v4.7M138.8,324.5h4.7M141.1,322.2v4.7M101.1,324.1h4.7M103.4,321.8v4.7M115.0,323.9h4.7M117.3,321.6v4.7M97.2,327.3h4.7M99.6,325.0v4.7M71.7,321.4h4.7M74.1,319.1v4.7M112.4,325.4h4.7M114.7,323.1v4.7M80.7,327.5h4.7M83.0,325.2v4.7M120.7,325.4h4.7M123.1,323.1v4.7M120.6,327.5h4.7M122.9,325.2v4.7M123.8,324.2h4.7M126.2,321.9v4.7M127.7,326.8h4.7M130.1,324.4v4.7M90.3,321.5h4.7M92.6,319.1v4.7M108.3,326.5h4.7M110.7,324.2v4.7M178.4,324.2h4.7M180.7,321.9v4.7M154.2,324.4h4.7M156.5,322.0v4.7M124.8,327.1h4.7M127.2,324.8v4.7M127.2,323.5h4.7M129.5,321.1v4.7M152.1,326.6h4.7M154.5,324.3v4.7M93.3,327.5h4.7M95.6,325.2v4.7M38.4,323.9h4.7M40.8,321.5v4.7M81.3,323.2h4.7M83.6,320.8v4.7M129.4,323.4h4.7M131.7,321.1v4.7M113.8,326.6h4.7M116.1,324.3v4.7M122.2,326.1h4.7M124.5,323.8v4.7M116.9,326.7h4.7M119.3,324.4v4.7M107.1,326.4h4.7M109.4,324.0v4.7M115.2,327.7h4.7M117.5,325.3v4.7M131.8,323.3h4.7M134.1,321.0v4.7M82.7,326.2h4.7M85.1,323.8v4.7M126.5,323.9h4.7M128.8,321.6v4.7M146.1,323.9h4.7M148.5,321.5v4.7M93.0,324.8h4.7M95.4,322.4v4.7M56.1,327.2h4.7M58.4,324.9v4.7M69.0,324.9h4.7M71.4,322.6v4.7M136.1,326.5h4.7M138.4,324.1v4.7M97.0,324.3h4.7M99.3,322.0v4.7M124.2,326.0h4.7M126.5,323.7v4.7M131.2,323.0h4.7M133.5,320.7v4.7M124.3,326.5h4.7M126.6,324.1v4.7M50.5,323.9h4.7M52.9,321.6v4.7M93.2,325.8h4.7M95.5,323.4v4.7M65.3,327.5h4.7M67.7,325.1v4.7M81.4,327.2h4.7M83.8,324.9v4.7M62.2,324.1h4.7M64.6,321.8v4.7M131.2,322.7h4.7M133.5,320.3v4.7M111.2,324.0h4.7M113.5,321.6v4.7M134.2,323.7h4.7M136.5,321.4v4.7M172.8,325.9h4.7M175.2,323.5v4.7M137.6,325.3h4.7M139.9,323.0v4.7M103.4,326.2h4.7M105.7,323.9v4.7M36.7,327.6h4.7M39.1,325.3v4.7M116.4,326.4h4.7M118.7,324.1v4.7M115.3,325.0h4.7M117.7,322.7v4.7M137.7,325.7h4.7M140.0,323.3v4.7M133.5,324.7h4.7M135.9,322.4v4.7M115.1,326.9h4.7M117.4,324.6v4.7M45.1,323.0h4.7M47.5,320.7v4.7M122.2,323.2h4.7M124.5,320.9v4.7M135.1,324.8h4.7M137.4,322.4v4.7M84.9,324.2h4.7M87.3,321.8v4.7M106.4,327.4h4.7M108.8,325.0v4.7M134.2,326.7h4.7M136.6,324.4v4.7M112.7,324.6h4.7M115.1,322.3v4.7M119.5,325.2h4.7M121.8,322.9v4.7M139.1,326.1h4.7M141.4,323.7v4.7M66.9,327.1h4.7M69.3,324.7v4.7M81.7,325.4h4.7M84.0,323.0v4.7M83.4,324.5h4.7M85.7,322.2v4.7M140.7,322.6h4.7M143.1,320.3v4.7M120.6,327.5h4.7M122.9,325.1v4.7M144.8,324.0h4.7M147.1,321.6v4.7M110.4,326.5h4.7M112.8,324.1v4.7M109.9,323.0h4.7M112.3,320.6v4.7M65.7,322.6h4.7M68.0,320.3v4.7M151.5,326.4h4.7M153.8,324.0v4.7M128.5,327.0h4.7M130.8,324.6v4.7M104.9,324.4h4.7M107.3,322.1v4.7M48.2,326.7h4.7M50.5,324.4v4.7M90.0,324.8h4.7M92.3,322.4v4.7M67.3,323.1h4.7M69.7,320.7v4.7M78.7,325.0h4.7M81.0,322.7v4.7M92.6,326.0h4.7M94.9,323.7v4.7M106.6,326.3h4.7M108.9,324.0v4.7M139.6,327.5h4.7M141.9,325.2v4.7M111.5,326.6h4.7M113.8,324.2v4.7M89.7,327.4h4.7M92.0,325.1v4.7M157.4,325.5h4.7M159.8,323.2v4.7M88.1,323.1h4.7M90.4,320.7v4.7M123.5,297.1h4.7M125.9,294.7v4.7M125.4,322.0h4.7M127.7,319.6v4.7M127.1,269.9h4.7M129.5,267.6v4.7M123.5,321.2h4.7M125.8,318.8v4.7M127.5,289.7h4.7M129.9,287.3v4.7M126.3,320.7h4.7M128.6,318.3v4.7M131.5,290.2h4.7M133.9,287.8v4.7M119.9,259.0h4.7M122.3,256.6v4.7M125.6,286.1h4.7M127.9,283.8v4.7M123.6,284.6h4.7M125.9,282.2v4.7M123.4,302.5h4.7M125.8,300.2v4.7M120.9,298.9h4.7M123.2,296.6v4.7M124.4,314.3h4.7M126.7,311.9v4.7M122.9,317.7h4.7M125.3,315.4v4.7M124.2,327.1h4.7M126.5,324.7v4.7M122.2,325.9h4.7M124.6,323.5v4.7M126.3,272.2h4.7M128.7,269.8v4.7M126.1,315.5h4.7M128.4,313.1v4.7M127.6,316.8h4.7M130.0,314.4v4.7M126.6,300.3h4.7M129.0,298.0v4.7M123.7,285.8h4.7M126.1,283.5v4.7M120.2,296.3h4.7M122.6,293.9v4.7M127.0,268.3h4.7M129.4,265.9v4.7M119.4,284.6h4.7M121.8,282.2v4.7M123.0,282.0h4.7M125.4,279.6v4.7M127.5,280.7h4.7M129.9,278.4v4.7M123.0,276.6h4.7M125.4,274.2v4.7M117.6,302.7h4.7M120.0,300.4v4.7M123.2,307.5h4.7M125.5,305.1v4.7M123.0,286.5h4.7M125.4,284.1v4.7M129.1,310.2h4.7M131.5,307.8v4.7M120.6,321.9h4.7M122.9,319.5v4.7M127.3,323.4h4.7M129.7,321.1v4.7M120.7,327.4h4.7M123.0,325.1v4.7M126.8,326.0h4.7M129.2,323.7v4.7M120.9,258.0h4.7M123.2,255.6v4.7M119.2,278.5h4.7M121.5,276.1v4.7M121.0,320.7h4.7M123.3,318.3v4.7M121.8,296.9h4.7M124.2,294.5v4.7M123.5,310.5h4.7M125.9,308.1v4.7M124.2,322.9h4.7M126.5,320.5v4.7M122.2,313.6h4.7M124.6,311.2v4.7M127.1,261.2h4.7M129.4,258.9v4.7M123.8,272.2h4.7M126.2,269.8v4.7M126.4,322.1h4.7M128.7,319.7v4.7M129.3,321.4h4.7M131.6,319.1v4.7M122.0,323.0h4.7M124.4,320.7v4.7M121.7,326.6h4.7M124.1,324.2v4.7M124.7,267.1h4.7M127.1,264.7v4.7M125.7,327.4h4.7M128.0,325.0v4.7M121.6,287.1h4.7M124.0,284.7v4.7M123.2,327.7h4.7M125.6,325.3v4.7M120.1,327.5h4.7M122.5,325.2v4.7M127.6,312.0h4.7M129.9,309.7v4.7M122.1,295.5h4.7M124.4,293.1v4.7M127.1,326.7h4.7M129.4,324.4v4.7M125.5,282.0h4.7M127.8,279.6v4.7M121.9,325.4h4.7M124.2,323.0v4.7M125.5,326.6h4.7M127.9,324.3v4.7M124.9,321.1h4.7M127.3,318.7v4.7M124.7,273.7h4.7M127.0,271.3v4.7M124.8,303.7h4.7M127.2,301.3v4.7M120.0,278.1h4.7M122.3,275.7v4.7M123.9,327.3h4.7M126.2,325.0v4.7M128.3,327.7h4.7M130.7,325.3v4.7M125.1,305.4h4.7M127.5,303.1v4.7M119.4,327.7h4.7M121.7,325.3v4.7M119.4,312.6h4.7M121.7,310.3v4.7M122.1,327.5h4.7M124.5,325.1v4.7M127.7,283.8h4.7M130.0,281.4v4.7M127.7,292.1h4.7M130.0,289.8v4.7M122.7,275.5h4.7M125.0,273.1v4.7M127.1,306.8h4.7M129.4,304.4v4.7M118.8,326.5h4.7M121.2,324.2v4.7M125.5,288.9h4.7M127.8,286.6v4.7M117.8,317.7h4.7M120.2,315.4v4.7M128.2,317.9h4.7M130.6,315.5v4.7M123.1,280.6h4.7M125.4,278.2v4.7M124.2,267.8h4.7M126.5,265.4v4.7M126.1,327.2h4.7M128.5,324.8v4.7M126.0,300.2h4.7M128.3,297.9v4.7M121.4,289.8h4.7M123.8,287.5v4.7M125.6,326.4h4.7M128.0,324.1v4.7M122.5,304.9h4.7M124.8,302.6v4.7M124.3,326.0h4.7M126.7,323.7v4.7M127.1,326.5h4.7M129.5,324.1v4.7M122.8,320.2h4.7M125.2,317.8v4.7M123.3,313.5h4.7M125.7,311.1v4.7M128.6,268.2h4.7M130.9,265.9v4.7M127.0,327.5h4.7M129.4,325.1v4.7M124.5,286.2h4.7M126.8,283.8v4.7M121.9,327.1h4.7M124.3,324.7v4.7M123.6,320.5h4.7M125.9,318.2v4.7M116.3,324.4h4.7M118.7,322.0v4.7M120.4,281.2h4.7M122.7,278.8v4.7M129.1,324.6h4.7M131.5,322.3v4.7M128.1,261.8h4.7M130.4,259.5v4.7M120.7,260.0h4.7M123.1,257.7v4.7M126.6,327.5h4.7M128.9,325.2v4.7M128.1,323.4h4.7M130.5,321.0v4.7M121.5,322.3h4.7M123.8,320.0v4.7M123.2,315.3h4.7M125.6,313.0v4.7M116.8,299.5h4.7M119.2,297.1v4.7M125.6,301.5h4.7M127.9,299.2v4.7M123.4,278.8h4.7M125.7,276.5v4.7M121.7,282.9h4.7M124.1,280.6v4.7M125.2,302.7h4.7M127.5,300.3v4.7M120.5,326.8h4.7M122.9,324.5v4.7M119.3,262.7h4.7M121.7,260.3v4.7M125.0,268.8h4.7M127.3,266.5v4.7M120.9,273.2h4.7M123.3,270.9v4.7M128.3,261.4h4.7M130.7,259.0v4.7M122.6,271.3h4.7M124.9,269.0v4.7M121.2,327.6h4.7M123.5,325.3v4.7M120.5,270.3h4.7M122.9,268.0v4.7M122.3,296.1h4.7M124.7,293.8v4.7M124.4,327.4h4.7M126.7,325.1v4.7M125.6,284.0h4.7M128.0,281.6v4.7M124.4,322.1h4.7M126.8,319.8v4.7M120.7,301.4h4.7M123.1,299.1v4.7M125.1,316.1h4.7M127.4,313.8v4.7M127.5,317.5h4.7M129.8,315.2v4.7M122.9,316.8h4.7M125.2,314.5v4.7M121.5,300.9h4.7M123.9,298.5v4.7M125.5,318.2h4.7M127.8,315.8v4.7M123.1,319.9h4.7M125.5,317.5v4.7M122.3,277.0h4.7M124.7,274.7v4.7M127.2,323.8h4.7M129.5,321.4v4.7M123.1,300.2h4.7M125.5,297.9v4.7M120.4,305.7h4.7M122.8,303.3v4.7M122.2,296.6h4.7M124.5,294.2v4.7M122.6,312.6h4.7M124.9,310.3v4.7M124.7,312.2h4.7M127.0,309.9v4.7M119.6,258.3h4.7M121.9,256.0v4.7M124.0,325.7h4.7M126.4,323.3v4.7M124.3,290.0h4.7M126.6,287.6v4.7M128.2,326.5h4.7M130.5,324.2v4.7M126.6,318.7h4.7M129.0,316.3v4.7M123.3,310.6h4.7M125.7,308.2v4.7M123.3,256.8h4.7M125.7,254.5v4.7M123.3,267.4h4.7M125.7,265.1v4.7M120.6,300.5h4.7M123.0,298.1v4.7M124.9,313.9h4.7M127.2,311.5v4.7M121.0,289.0h4.7M123.4,286.6v4.7M124.1,324.8h4.7M126.5,322.5v4.7M118.9,311.4h4.7M121.2,309.0v4.7M122.8,325.8h4.7M125.2,323.5v4.7M125.9,284.4h4.7M128.2,282.0v4.7M125.7,327.6h4.7M128.0,325.2v4.7M126.1,288.6h4.7M128.5,286.2v4.7M105.6,285.0h4.7M107.9,282.6v4.7M105.5,280.9h4.7M107.9,278.5v4.7M106.9,304.3h4.7M109.3,301.9v4.7M98.2,327.7h4.7M100.6,325.3v4.7M106.4,327.7h4.7M108.8,325.3v4.7M110.4,308.4h4.7M112.8,306.1v4.7M103.1,301.2h4.7M105.4,298.9v4.7M104.4,325.1h4.7M106.8,322.7v4.7M106.5,325.1h4.7M108.8,322.7v4.7M109.3,293.5h4.7M111.6,291.1v4.7M99.1,292.1h4.7M101.4,289.7v4.7M107.4,306.7h4.7M109.8,304.3v4.7M98.8,327.4h4.7M101.2,325.0v4.7M116.6,319.6h4.7M118.9,317.3v4.7M112.4,321.8h4.7M114.7,319.4v4.7M102.1,295.3h4.7M104.5,293.0v4.7M107.3,324.3h4.7M109.7,322.0v4.7M99.2,305.8h4.7M101.6,303.5v4.7M101.8,315.2h4.7M104.1,312.9v4.7M99.3,286.8h4.7M101.6,284.5v4.7M106.3,311.9h4.7M108.7,309.5v4.7M103.7,325.9h4.7M106.0,323.5v4.7M103.8,280.6h4.7M106.1,278.2v4.7M104.0,322.1h4.7M106.4,319.8v4.7M109.2,321.1h4.7M111.5,318.7v4.7M98.1,311.3h4.7M100.4,308.9v4.7M107.4,318.6h4.7M109.8,316.2v4.7M111.6,303.7h4.7M113.9,301.4v4.7M104.1,307.8h4.7M106.4,305.4v4.7M106.8,315.1h4.7M109.1,312.7v4.7M101.8,292.2h4.7M104.1,289.8v4.7M106.1,307.4h4.7M108.5,305.1v4.7M103.9,320.0h4.7M106.3,317.7v4.7M102.1,319.1h4.7M104.4,316.7v4.7M104.7,327.4h4.7M107.0,325.1v4.7M102.3,325.4h4.7M104.6,323.0v4.7M108.4,321.6h4.7M110.7,319.2v4.7M107.4,320.9h4.7M109.8,318.6v4.7M103.8,325.1h4.7M106.2,322.8v4.7M107.8,318.2h4.7M110.1,315.9v4.7M106.0,316.3h4.7M108.3,313.9v4.7M110.5,300.1h4.7M112.9,297.8v4.7M107.7,318.2h4.7M110.0,315.8v4.7M107.2,289.9h4.7M109.6,287.5v4.7M103.8,282.9h4.7M106.2,280.6v4.7M103.5,305.9h4.7M105.9,303.5v4.7M111.1,327.6h4.7M113.5,325.3v4.7M98.7,325.9h4.7M101.0,323.5v4.7M108.1,289.4h4.7M110.5,287.0v4.7M102.3,327.4h4.7M104.6,325.1v4.7M113.1,319.7h4.7M115.5,317.3v4.7M104.4,295.1h4.7M106.7,292.8v4.7M101.7,326.1h4.7M104.1,323.7v4.7M105.7,298.6h4.7M108.1,296.3v4.7M109.4,327.3h4.7M111.7,325.0v4.7M110.2,327.7h4.7M112.5,325.3v4.7M106.5,317.3h4.7M108.9,314.9v4.7M108.3,322.0h4.7M110.7,319.6v4.7M112.3,323.8h4.7M114.6,321.5v4.7M107.5,325.1h4.7M109.9,322.8v4.7M121.6,326.8h4.7M123.9,324.4v4.7M184.1,326.1h4.7M186.5,323.7v4.7M190.7,327.0h4.7M193.0,324.7v4.7M128.6,319.6h4.7M130.9,317.3v4.7M74.6,323.5h4.7M76.9,321.1v4.7M78.9,326.6h4.7M81.2,324.3v4.7M107.5,323.8h4.7M109.8,321.5v4.7M192.6,326.6h4.7M194.9,324.2v4.7M158.3,318.5h4.7M160.7,316.2v4.7M87.5,311.4h4.7M89.8,309.1v4.7M171.3,322.5h4.7M173.7,320.2v4.7M107.3,317.2h4.7M109.6,314.8v4.7M174.6,324.1h4.7M177.0,321.7v4.7M90.0,323.5h4.7M92.4,321.1v4.7M160.2,325.7h4.7M162.5,323.4v4.7M100.5,325.5h4.7M102.9,323.1v4.7M62.4,325.0h4.7M64.8,322.7v4.7M46.5,326.5h4.7M48.9,324.2v4.7M83.1,316.8h4.7M85.5,314.5v4.7M139.3,322.6h4.7M141.7,320.3v4.7M156.8,325.3h4.7M159.2,323.0v4.7M100.8,323.4h4.7M103.2,321.1v4.7M72.1,323.3h4.7M74.4,320.9v4.7M183.7,327.1h4.7M186.1,324.8v4.7M42.9,323.7h4.7M45.2,321.3v4.7M157.1,327.6h4.7M159.4,325.2v4.7M40.8,318.8h4.7M43.2,316.5v4.7M108.9,327.1h4.7M111.3,324.8v4.7M57.7,326.8h4.7M60.1,324.5v4.7M183.4,327.0h4.7M185.8,324.6v4.7M166.0,319.4h4.7M168.4,317.1v4.7M94.0,320.3h4.7M96.4,318.0v4.7M135.2,320.5h4.7M137.5,318.1v4.7M95.7,326.3h4.7M98.0,324.0v4.7M171.9,325.2h4.7M174.2,322.8v4.7M45.9,320.2h4.7M48.3,317.8v4.7M54.0,321.8h4.7M56.3,319.4v4.7M78.0,319.0h4.7M80.4,316.7v4.7M92.5,313.1h4.7M94.8,310.8v4.7M94.1,289.5h4.7M96.4,287.1v4.7M86.1,270.9h4.7M88.4,268.6v4.7M139.0,302.9h4.7M141.4,300.5v4.7M145.4,305.2h4.7M147.8,302.9v4.7M156.7,313.1h4.7M159.0,310.8v4.7M167.9,319.0h4.7M170.3,316.7v4.7M124.6,257.9h4.7M126.9,255.6v4.7M123.0,254.0h4.7M125.3,251.7v4.7M131.0,252.4h4.7M133.3,250.1v4.7M122.2,265.8h4.7M124.5,263.5v4.7M110.1,261.9h4.7M112.5,259.5v4.7M105.3,273.7h4.7M107.7,271.3v4.7M110.1,281.6h4.7M112.5,279.2v4.7M151.9,319.0h4.7M154.2,316.7v4.7"/>
<path fill="none" stroke="#6b9bd6" stroke-width="1.1" d="M101.7,325.2l3.6,3.6M101.7,328.8l3.6,-3.6M104.1,317.5l3.6,3.6M104.1,321.1l3.6,-3.6M100.2,316.8l3.6,3.6M100.2,320.4l3.6,-3.6M103.0,323.5l3.6,3.6M103.0,327.1l3.6,-3.6M97.4,310.1l3.6,3.6M97.4,313.7l3.6,-3.6M93.5,320.3l3.6,3.6M93.5,323.9l3.6,-3.6M98.3,320.2l3.6,3.6M98.3,323.8l3.6,-3.6M101.9,309.8l3.6,3.6M101.9,313.4l3.6,-3.6M96.4,303.2l3.6,3.6M96.4,306.8l3.6,-3.6M97.9,298.6l3.6,3.6M97.9,302.2l3.6,-3.6M95.8,312.7l3.6,3.6M95.8,316.3l3.6,-3.6M99.5,287.0l3.6,3.6M99.5,290.6l3.6,-3.6M100.1,295.3l3.6,3.6M100.1,298.9l3.6,-3.6M101.0,305.9l3.6,3.6M101.0,309.5l3.6,-3.6M95.7,316.1l3.6,3.6M95.7,319.7l3.6,-3.6M97.5,317.5l3.6,3.6M97.5,321.1l3.6,-3.6M93.9,287.8l3.6,3.6M93.9,291.4l3.6,-3.6M96.9,296.9l3.6,3.6M96.9,300.5l3.6,-3.6M97.8,324.7l3.6,3.6M97.8,328.3l3.6,-3.6M97.2,322.0l3.6,3.6M97.2,325.6l3.6,-3.6M101.3,314.0l3.6,3.6M101.3,317.6l3.6,-3.6M94.2,305.1l3.6,3.6M94.2,308.7l3.6,-3.6M99.3,303.5l3.6,3.6M99.3,307.1l3.6,-3.6M100.1,324.3l3.6,3.6M100.1,327.9l3.6,-3.6M98.6,318.3l3.6,3.6M98.6,321.9l3.6,-3.6M91.8,325.8l3.6,3.6M91.8,329.4l3.6,-3.6M99.5,297.1l3.6,3.6M99.5,300.7l3.6,-3.6M100.8,295.1l3.6,3.6M100.8,298.7l3.6,-3.6M102.2,287.3l3.6,3.6M102.2,290.9l3.6,-3.6M96.9,319.8l3.6,3.6M96.9,323.4l3.6,-3.6M97.3,314.5l3.6,3.6M97.3,318.1l3.6,-3.6M94.0,293.5l3.6,3.6M94.0,297.1l3.6,-3.6M90.3,325.3l3.6,3.6M90.3,328.9l3.6,-3.6M101.1,322.2l3.6,3.6M101.1,325.8l3.6,-3.6M101.2,308.3l3.6,3.6M101.2,311.9l3.6,-3.6M93.8,317.8l3.6,3.6M93.8,321.4l3.6,-3.6M97.6,291.7l3.6,3.6M97.6,295.3l3.6,-3.6M97.0,323.3l3.6,3.6M97.0,326.9l3.6,-3.6M100.8,319.7l3.6,3.6M100.8,323.3l3.6,-3.6M100.9,325.8l3.6,3.6M100.9,329.4l3.6,-3.6M101.2,321.2l3.6,3.6M101.2,324.8l3.6,-3.6M100.1,318.1l3.6,3.6M100.1,321.7l3.6,-3.6M92.0,301.1l3.6,3.6M92.0,304.7l3.6,-3.6M99.6,306.6l3.6,3.6M99.6,310.2l3.6,-3.6M93.5,300.1l3.6,3.6M93.5,303.7l3.6,-3.6M96.6,320.8l3.6,3.6M96.6,324.4l3.6,-3.6M100.5,321.5l3.6,3.6M100.5,325.1l3.6,-3.6M93.9,322.6l3.6,3.6M93.9,326.2l3.6,-3.6M97.5,324.9l3.6,3.6M97.5,328.5l3.6,-3.6M100.0,323.4l3.6,3.6M100.0,327.0l3.6,-3.6M98.2,306.6l3.6,3.6M98.2,310.2l3.6,-3.6M99.3,305.5l3.6,3.6M99.3,309.1l3.6,-3.6M94.2,315.1l3.6,3.6M94.2,318.7l3.6,-3.6M102.6,299.5l3.6,3.6M102.6,303.1l3.6,-3.6M100.2,323.6l3.6,3.6M100.2,327.2l3.6,-3.6M96.0,302.5l3.6,3.6M96.0,306.1l3.6,-3.6M102.4,323.3l3.6,3.6M102.4,326.9l3.6,-3.6M95.4,310.0l3.6,3.6M95.4,313.6l3.6,-3.6M99.9,296.6l3.6,3.6M99.9,300.2l3.6,-3.6M99.7,291.0l3.6,3.6M99.7,294.6l3.6,-3.6M100.3,322.9l3.6,3.6M100.3,326.5l3.6,-3.6M100.4,306.5l3.6,3.6M100.4,310.1l3.6,-3.6M102.9,312.9l3.6,3.6M102.9,316.5l3.6,-3.6M96.7,305.7l3.6,3.6M96.7,309.3l3.6,-3.6M98.1,320.5l3.6,3.6M98.1,324.1l3.6,-3.6M91.0,312.1l3.6,3.6M91.0,315.7l3.6,-3.6M100.5,316.1l3.6,3.6M100.5,319.7l3.6,-3.6M96.3,306.7l3.6,3.6M96.3,310.3l3.6,-3.6M99.9,302.0l3.6,3.6M99.9,305.6l3.6,-3.6M98.1,316.1l3.6,3.6M98.1,319.7l3.6,-3.6M98.0,323.2l3.6,3.6M98.0,326.8l3.6,-3.6M96.3,311.8l3.6,3.6M96.3,315.4l3.6,-3.6M96.7,313.0l3.6,3.6M96.7,316.6l3.6,-3.6M100.6,320.6l3.6,3.6M100.6,324.2l3.6,-3.6M97.4,318.2l3.6,3.6M97.4,321.8l3.6,-3.6M96.6,321.2l3.6,3.6M96.6,324.8l3.6,-3.6M95.8,302.2l3.6,3.6M95.8,305.8l3.6,-3.6M96.6,295.2l3.6,3.6M96.6,298.8l3.6,-3.6M97.6,324.1l3.6,3.6M97.6,327.7l3.6,-3.6M96.7,313.7l3.6,3.6M96.7,317.3l3.6,-3.6M101.7,299.5l3.6,3.6M101.7,303.1l3.6,-3.6M100.6,322.9l3.6,3.6M100.6,326.5l3.6,-3.6M101.6,324.3l3.6,3.6M101.6,327.9l3.6,-3.6M96.1,324.5l3.6,3.6M96.1,328.1l3.6,-3.6M92.6,325.6l3.6,3.6M92.6,329.2l3.6,-3.6M93.0,316.3l3.6,3.6M93.0,319.9l3.6,-3.6M90.3,307.4l3.6,3.6M90.3,311.0l3.6,-3.6M90.1,312.5l3.6,3.6M90.1,316.1l3.6,-3.6M102.7,320.2l3.6,3.6M102.7,323.8l3.6,-3.6M102.9,323.8l3.6,3.6M102.9,327.4l3.6,-3.6M102.3,316.3l3.6,3.6M102.3,319.9l3.6,-3.6M103.5,311.3l3.6,3.6M103.5,314.9l3.6,-3.6M102.4,309.6l3.6,3.6M102.4,313.2l3.6,-3.6M93.9,325.7l3.6,3.6M93.9,329.3l3.6,-3.6M92.6,312.4l3.6,3.6M92.6,316.0l3.6,-3.6M98.1,318.0l3.6,3.6M98.1,321.6l3.6,-3.6M97.4,325.7l3.6,3.6M97.4,329.3l3.6,-3.6M104.7,316.4l3.6,3.6M104.7,320.0l3.6,-3.6M99.2,318.0l3.6,3.6M99.2,321.6l3.6,-3.6M104.0,318.4l3.6,3.6M104.0,322.0l3.6,-3.6M98.5,311.2l3.6,3.6M98.5,314.8l3.6,-3.6M92.2,310.5l3.6,3.6M92.2,314.1l3.6,-3.6M99.8,321.2l3.6,3.6M99.8,324.8l3.6,-3.6M92.2,317.6l3.6,3.6M92.2,321.2l3.6,-3.6M94.5,325.9l3.6,3.6M94.5,329.5l3.6,-3.6M103.1,312.4l3.6,3.6M103.1,316.0l3.6,-3.6M104.3,312.0l3.6,3.6M104.3,315.6l3.6,-3.6M96.3,308.3l3.6,3.6M96.3,311.9l3.6,-3.6M93.7,322.5l3.6,3.6M93.7,326.1l3.6,-3.6M97.3,314.0l3.6,3.6M97.3,317.6l3.6,-3.6M91.4,325.4l3.6,3.6M91.4,329.0l3.6,-3.6M104.8,325.8l3.6,3.6M104.8,329.4l3.6,-3.6M101.7,318.5l3.6,3.6M101.7,322.1l3.6,-3.6M105.2,309.7l3.6,3.6M105.2,313.3l3.6,-3.6M97.3,316.9l3.6,3.6M97.3,320.5l3.6,-3.6M80.2,268.0l3.6,3.6M80.2,271.6l3.6,-3.6M91.4,258.1l3.6,3.6M91.4,261.7l3.6,-3.6M96.2,268.0l3.6,3.6M96.2,271.6l3.6,-3.6M99.5,273.9l3.6,3.6M99.5,277.5l3.6,-3.6M94.6,283.7l3.6,3.6M94.6,287.3l3.6,-3.6M83.4,301.4l3.6,3.6M83.4,305.1l3.6,-3.6M85.0,305.4l3.6,3.6M85.0,309.0l3.6,-3.6M126.7,325.1l3.6,3.6M126.7,328.7l3.6,-3.6M134.8,324.7l3.6,3.6M134.8,328.3l3.6,-3.6"/>
<path stroke="#ef7d2d" stroke-width="3.4" stroke-linecap="round" d="M111.1 327.6h0M110.0 296.6h0M107.8 315.2h0M110.6 327.0h0M113.0 297.8h0M112.7 304.5h0M111.0 297.6h0M114.0 316.4h0M110.6 325.5h0M114.2 314.1h0M114.1 326.5h0M112.9 327.4h0M111.8 325.7h0M109.0 319.7h0M113.3 323.2h0M110.3 317.2h0M114.1 317.4h0M109.8 312.0h0M108.5 323.2h0M115.9 324.5h0M107.7 306.3h0M112.0 310.8h0M115.7 300.2h0M111.7 326.3h0M112.2 326.2h0M113.2 325.9h0M108.2 317.7h0M111.6 315.2h0M110.1 297.4h0M107.8 309.0h0M110.9 322.6h0M111.7 325.0h0M115.2 326.2h0M110.8 321.5h0M108.9 297.4h0M113.2 321.6h0M110.9 300.6h0M109.5 316.5h0M112.0 308.4h0M108.7 307.0h0M109.8 312.3h0M113.2 308.6h0M109.9 316.9h0M110.5 316.2h0M110.2 327.2h0M113.0 327.1h0M112.2 320.5h0M112.5 297.6h0M107.7 309.7h0M114.6 299.4h0M108.4 304.9h0M107.1 327.0h0M117.4 321.4h0M111.8 311.0h0M118.0 315.7h0M109.8 321.7h0M108.8 326.8h0M109.8 305.0h0M113.9 303.3h0M111.7 301.3h0M114.6 318.0h0M108.3 319.0h0M109.0 324.5h0M112.0 320.5h0M111.2 314.0h0M122.2 327.2h0M121.5 325.5h0M121.9 319.1h0M122.5 309.2h0M116.4 307.3h0M120.0 316.5h0M123.0 301.4h0M122.3 311.9h0M121.9 310.8h0M125.6 320.8h0M119.3 320.3h0M122.2 305.0h0M123.4 310.1h0M122.9 309.3h0M120.6 327.6h0M120.4 323.1h0M122.1 300.5h0M126.9 312.6h0M122.2 300.4h0M118.7 316.4h0M99.6 259.9h0M100.4 281.6h0M107.7 305.2h0M110.9 291.4h0"/>
<path stroke="#169a85" stroke-width="3.4" stroke-linecap="round" d="M126.1 294.6h0M123.8 293.1h0M123.8 314.3h0M126.5 321.6h0M124.9 277.6h0M124.9 307.8h0M127.3 287.7h0M123.5 314.1h0M126.2 311.7h0M124.1 278.5h0M128.2 303.9h0M127.4 315.9h0M123.7 292.5h0M82.0 327.7h0M171.9 327.7h0"/>
<text x="12.90" y="296.70" font-size="8.6" fill="#222" stroke="#222" stroke-width="0.25" text-anchor="middle" transform="rotate(-90 12.90 296.70)">p−value [-log<tspan font-size="7.2" dy="2.4">10</tspan><tspan dy="-2.4">]</tspan></text>
<text x="169.80" y="121.80" font-size="8" font-weight="normal" font-style="normal" fill="#222" text-anchor="start" stroke="#222" stroke-width="0.28" >RNA</text>
<circle cx="173.40" cy="128.80" r="2.50" fill="#169a85" stroke="none" stroke-width="0" />
<text x="177.40" y="131.60" font-size="8.2" font-weight="normal" font-style="normal" fill="#222" text-anchor="start" stroke="#222" stroke-width="0.28" textLength="11.20" lengthAdjust="spacingAndGlyphs" >GS</text>
<path d="M171.0,139.1l4.8,4.8M171.0,143.9l4.8,-4.8" stroke="#6b9bd6" stroke-width="1.3" fill="none"/>
<text x="177.40" y="144.30" font-size="8.2" font-weight="normal" font-style="normal" fill="#222" text-anchor="start" stroke="#222" stroke-width="0.28" textLength="10.40" lengthAdjust="spacingAndGlyphs" >ZS</text>
<circle cx="173.40" cy="153.60" r="2.50" fill="#ef7d2d" stroke="none" stroke-width="0" />
<text x="177.80" y="156.40" font-size="8.2" font-weight="normal" font-style="normal" fill="#222" text-anchor="start" stroke="#222" stroke-width="0.28" textLength="10.80" lengthAdjust="spacingAndGlyphs" >GZ</text>
<path d="M170.2,165.6h6.4M173.4,162.4v6.4" stroke="#c4c4c4" stroke-width="1.8" fill="none"/>
<text x="178.80" y="168.40" font-size="8.2" font-weight="normal" font-style="normal" fill="#222" text-anchor="start" stroke="#222" stroke-width="0.28" textLength="19.00" lengthAdjust="spacingAndGlyphs" >Other</text>
<text x="198.40" y="123.20" font-size="12" font-weight="bold" font-style="normal" fill="#111" text-anchor="start" stroke="#111" stroke-width="0.12" >d</text>
<defs><filter id="hmb" x="-2%" y="-2%" width="104%" height="104%"><feGaussianBlur stdDeviation="0.25 0.35"/></filter></defs>
<text x="272.60" y="125.60" font-size="8.8" font-weight="normal" font-style="normal" fill="#222" text-anchor="middle" stroke="#222" stroke-width="0.28" textLength="25.00" lengthAdjust="spacingAndGlyphs" >NI Ctrl</text>
<rect x="229.70" y="130.20" width="87.10" height="29.30" fill="#fcf8f8" stroke="none" stroke-width="0" />
<g filter="url(#hmb)"><g transform="translate(229.70,130.20) scale(9.6778,1.0464)">
<path fill="#d3c8e4" d="M6 13h1v1h-1z"/>
<path fill="#ded6eb" d="M0 0h1v1h-1zM3 0h1v1h-1zM3 5h1v1h-1zM6 11h1v1h-1zM6 23h1v1h-1zM6 27h1v1h-1z"/>
<path fill="#e9e4f2" d="M5 0h2v1h-2zM1 9h1v1h-1zM7 13h2v1h-2zM1 14h1v1h-1zM7 16h1v1h-1zM7 22h1v1h-1zM7 23h1v1h-1zM6 25h1v1h-1zM0 27h1v1h-1z"/>
<path fill="#f4f1f8" d="M1 0h2v1h-2zM3 2h1v1h-1zM6 3h1v1h-1zM2 5h1v1h-1zM4 5h2v1h-2zM1 6h1v1h-1zM3 6h1v1h-1zM3 7h3v1h-3zM0 9h1v1h-1zM0 10h2v1h-2zM2 11h1v1h-1zM7 11h1v1h-1zM6 12h1v1h-1zM8 12h1v1h-1zM0 14h1v1h-1zM1 17h1v1h-1zM6 17h1v1h-1zM1 19h1v1h-1zM8 20h1v1h-1zM2 21h1v1h-1zM6 22h1v1h-1zM8 22h1v1h-1zM8 23h1v1h-1zM2 25h1v1h-1zM1 27h1v1h-1zM7 27h1v1h-1z"/>
<path fill="#fef6f3" d="M0 1h2v1h-2zM5 2h1v1h-1zM0 3h1v1h-1zM5 3h1v1h-1zM1 4h1v1h-1zM4 4h1v1h-1zM0 6h1v1h-1zM4 8h2v1h-2zM3 9h1v1h-1zM5 9h2v1h-2zM8 10h1v1h-1zM1 11h1v1h-1zM0 12h1v1h-1zM2 12h1v1h-1zM7 12h1v1h-1zM2 13h1v1h-1zM2 14h1v1h-1zM7 14h2v1h-2zM6 15h3v1h-3zM0 16h1v1h-1zM0 17h1v1h-1zM7 17h2v1h-2zM0 18h3v1h-3zM6 19h3v1h-3zM0 20h2v1h-2zM7 20h1v1h-1zM1 21h1v1h-1zM7 21h1v1h-1zM0 22h1v1h-1zM2 22h2v1h-2zM1 23h1v1h-1zM7 24h2v1h-2zM0 26h1v1h-1zM2 26h1v1h-1zM2 27h1v1h-1z"/>
<path fill="#fdeee7" d="M2 1h1v1h-1zM4 1h3v1h-3zM2 3h1v1h-1zM8 3h1v1h-1zM3 4h1v1h-1zM5 4h2v1h-2zM4 6h1v1h-1zM6 6h1v1h-1zM3 8h1v1h-1zM6 8h1v1h-1zM7 10h1v1h-1zM6 14h1v1h-1zM1 16h2v1h-2zM6 16h1v1h-1zM8 18h1v1h-1zM1 22h1v1h-1zM4 22h2v1h-2zM3 23h3v1h-3zM1 26h1v1h-1zM6 26h3v1h-3z"/>
<path fill="#fce5db" d="M0 2h1v1h-1zM2 2h1v1h-1zM7 3h1v1h-1zM7 7h1v1h-1zM0 8h1v1h-1zM3 11h1v1h-1zM5 11h1v1h-1zM0 13h1v1h-1zM3 13h1v1h-1zM2 15h1v1h-1zM6 18h1v1h-1zM8 21h1v1h-1z"/>
<path fill="#fbdccf" d="M7 0h1v1h-1zM8 4h1v1h-1zM6 5h1v1h-1zM8 5h1v1h-1zM7 6h1v1h-1zM8 7h1v1h-1zM1 8h2v1h-2zM3 10h1v1h-1zM6 10h1v1h-1zM5 12h1v1h-1zM1 13h1v1h-1zM5 13h1v1h-1zM5 14h1v1h-1zM1 15h1v1h-1zM3 15h1v1h-1zM5 15h1v1h-1zM4 18h2v1h-2zM3 20h1v1h-1zM5 20h1v1h-1zM4 24h1v1h-1zM6 24h1v1h-1zM4 25h1v1h-1zM4 27h1v1h-1z"/>
<path fill="#fad4c3" d="M7 1h2v1h-2zM6 2h1v1h-1zM7 4h1v1h-1zM7 5h1v1h-1zM7 8h1v1h-1zM4 10h1v1h-1zM3 12h1v1h-1zM4 13h1v1h-1zM3 14h1v1h-1zM0 15h1v1h-1zM4 15h1v1h-1zM3 16h3v1h-3zM5 17h1v1h-1zM6 21h1v1h-1zM5 24h1v1h-1zM5 25h1v1h-1zM3 26h1v1h-1zM3 27h1v1h-1z"/>
<path fill="#f8cbb7" d="M8 0h1v1h-1zM7 2h1v1h-1zM8 6h1v1h-1zM8 8h1v1h-1zM5 10h1v1h-1zM4 11h1v1h-1zM4 14h1v1h-1zM3 17h1v1h-1zM3 18h1v1h-1zM5 19h1v1h-1zM4 20h1v1h-1zM4 21h2v1h-2zM3 24h1v1h-1zM4 26h1v1h-1zM5 27h1v1h-1z"/>
<path fill="#f7c2ab" d="M8 2h1v1h-1zM7 9h2v1h-2zM4 12h1v1h-1zM4 17h1v1h-1zM4 19h1v1h-1zM3 21h1v1h-1zM5 26h1v1h-1z"/>
<path fill="#f6b99f" d="M3 19h1v1h-1zM3 25h1v1h-1z"/>
</g></g>
<rect x="229.70" y="161.60" width="87.10" height="113.70" fill="#fcf8f8" stroke="none" stroke-width="0" />
<g filter="url(#hmb)"><g transform="translate(229.70,161.60) scale(9.6778,1.0528)">
<path fill="#b39fd0" d="M2 75h1v1h-1z"/>
<path fill="#beadd7" d="M6 8h1v1h-1zM3 30h1v1h-1zM6 75h1v1h-1z"/>
<path fill="#c8bade" d="M2 17h1v1h-1zM2 20h1v1h-1zM2 33h1v1h-1zM6 59h1v1h-1zM2 65h1v1h-1zM6 68h1v1h-1zM2 74h1v1h-1zM6 102h1v1h-1zM6 105h1v1h-1z"/>
<path fill="#d3c8e4" d="M2 12h1v1h-1zM6 15h1v1h-1zM3 16h1v1h-1zM2 19h1v1h-1zM2 21h1v1h-1zM2 23h1v1h-1zM3 27h1v1h-1zM4 30h1v1h-1zM2 37h1v1h-1zM6 41h1v1h-1zM6 44h1v1h-1zM2 67h1v1h-1zM2 71h1v1h-1zM0 75h2v1h-2zM7 75h2v1h-2zM2 78h1v1h-1zM6 83h1v1h-1zM1 84h1v1h-1zM2 86h1v1h-1zM2 97h1v1h-1zM6 97h1v1h-1zM2 98h1v1h-1zM2 99h1v1h-1z"/>
<path fill="#ded6eb" d="M2 1h1v1h-1zM3 2h1v1h-1zM2 3h2v1h-2zM7 8h1v1h-1zM2 9h1v1h-1zM2 11h1v1h-1zM2 15h1v1h-1zM3 19h1v1h-1zM1 20h1v1h-1zM3 21h1v1h-1zM7 22h1v1h-1zM3 23h1v1h-1zM2 24h1v1h-1zM2 26h1v1h-1zM2 27h1v1h-1zM3 29h1v1h-1zM5 30h1v1h-1zM0 33h1v1h-1zM6 33h1v1h-1zM2 39h1v1h-1zM2 42h1v1h-1zM2 46h1v1h-1zM2 47h1v1h-1zM2 48h1v1h-1zM6 48h1v1h-1zM2 50h1v1h-1zM6 50h1v1h-1zM2 53h1v1h-1zM3 55h1v1h-1zM2 56h1v1h-1zM2 58h1v1h-1zM2 60h1v1h-1zM2 64h1v1h-1zM0 65h1v1h-1zM6 67h1v1h-1zM2 70h1v1h-1zM2 79h1v1h-1zM8 79h1v1h-1zM2 80h1v1h-1zM6 80h1v1h-1zM0 84h1v1h-1zM2 84h1v1h-1zM2 90h1v1h-1zM2 91h1v1h-1zM7 98h1v1h-1zM5 100h1v1h-1zM2 104h1v1h-1zM2 105h1v1h-1zM2 106h1v1h-1zM6 107h1v1h-1z"/>
<path fill="#e9e4f2" d="M2 0h1v1h-1zM3 1h1v1h-1zM6 2h1v1h-1zM6 3h1v1h-1zM2 4h2v1h-2zM7 4h2v1h-2zM2 5h1v1h-1zM0 7h1v1h-1zM2 7h1v1h-1zM5 7h2v1h-2zM2 8h1v1h-1zM8 8h1v1h-1zM3 10h1v1h-1zM6 11h1v1h-1zM2 13h2v1h-2zM3 14h1v1h-1zM3 15h1v1h-1zM3 17h1v1h-1zM8 18h1v1h-1zM0 20h1v1h-1zM3 20h1v1h-1zM2 22h2v1h-2zM2 25h1v1h-1zM3 26h1v1h-1zM5 27h1v1h-1zM3 28h1v1h-1zM8 28h1v1h-1zM2 31h2v1h-2zM2 32h1v1h-1zM6 32h1v1h-1zM1 33h1v1h-1zM7 33h2v1h-2zM2 34h1v1h-1zM2 35h1v1h-1zM6 40h2v1h-2zM1 42h1v1h-1zM3 43h1v1h-1zM2 44h1v1h-1zM2 45h1v1h-1zM6 45h1v1h-1zM0 47h1v1h-1zM3 47h1v1h-1zM2 49h1v1h-1zM6 49h1v1h-1zM1 50h1v1h-1zM2 52h1v1h-1zM5 52h1v1h-1zM2 57h1v1h-1zM3 58h1v1h-1zM2 59h1v1h-1zM7 59h1v1h-1zM4 60h1v1h-1zM2 61h1v1h-1zM2 63h3v1h-3zM6 63h1v1h-1zM1 65h1v1h-1zM5 65h1v1h-1zM2 68h1v1h-1zM0 70h2v1h-2zM2 72h1v1h-1zM3 73h2v1h-2zM6 73h1v1h-1zM8 73h1v1h-1zM3 75h1v1h-1zM2 76h1v1h-1zM6 78h1v1h-1zM2 81h1v1h-1zM2 82h2v1h-2zM7 82h2v1h-2zM2 83h1v1h-1zM7 83h1v1h-1zM6 84h1v1h-1zM2 85h1v1h-1zM0 86h2v1h-2zM2 87h1v1h-1zM2 88h1v1h-1zM5 88h1v1h-1zM6 89h2v1h-2zM0 91h1v1h-1zM1 93h1v1h-1zM2 95h1v1h-1zM6 95h1v1h-1zM2 96h1v1h-1zM1 98h1v1h-1zM6 98h1v1h-1zM0 99h2v1h-2zM2 100h1v1h-1zM4 100h1v1h-1zM2 103h1v1h-1zM6 103h1v1h-1zM8 103h1v1h-1zM0 104h2v1h-2zM1 105h1v1h-1z"/>
<path fill="#f4f1f8" d="M1 0h1v1h-1zM6 0h1v1h-1zM0 1h1v1h-1zM2 2h1v1h-1zM1 3h1v1h-1zM4 3h1v1h-1zM1 4h1v1h-1zM6 4h1v1h-1zM7 5h1v1h-1zM2 6h1v1h-1zM7 6h1v1h-1zM3 7h1v1h-1zM0 8h1v1h-1zM5 8h1v1h-1zM3 9h1v1h-1zM2 10h1v1h-1zM0 11h1v1h-1zM3 11h1v1h-1zM0 12h1v1h-1zM3 12h1v1h-1zM8 12h1v1h-1zM4 13h2v1h-2zM2 14h1v1h-1zM8 14h1v1h-1zM4 15h1v1h-1zM7 15h2v1h-2zM2 16h1v1h-1zM0 17h2v1h-2zM2 18h2v1h-2zM6 18h1v1h-1zM0 19h2v1h-2zM7 19h2v1h-2zM6 21h1v1h-1zM0 23h1v1h-1zM0 24h1v1h-1zM3 25h1v1h-1zM7 25h2v1h-2zM0 26h1v1h-1zM0 27h2v1h-2zM7 28h1v1h-1zM2 29h1v1h-1zM4 33h1v1h-1zM0 34h2v1h-2zM6 35h1v1h-1zM2 36h1v1h-1zM3 37h1v1h-1zM5 37h1v1h-1zM6 38h1v1h-1zM8 38h1v1h-1zM3 39h1v1h-1zM6 39h1v1h-1zM1 40h2v1h-2zM8 40h1v1h-1zM2 41h1v1h-1zM2 43h1v1h-1zM4 43h1v1h-1zM6 43h1v1h-1zM4 44h1v1h-1zM7 44h2v1h-2zM4 45h1v1h-1zM1 46h1v1h-1zM5 47h1v1h-1zM4 48h2v1h-2zM7 50h2v1h-2zM2 51h1v1h-1zM6 51h1v1h-1zM8 51h1v1h-1zM4 52h1v1h-1zM3 53h3v1h-3zM2 54h1v1h-1zM5 55h1v1h-1zM3 56h1v1h-1zM5 56h1v1h-1zM0 57h1v1h-1zM0 58h1v1h-1zM4 58h2v1h-2zM8 58h1v1h-1zM0 59h2v1h-2zM3 59h1v1h-1zM8 59h1v1h-1zM5 60h2v1h-2zM6 62h3v1h-3zM5 63h1v1h-1zM8 63h1v1h-1zM2 66h1v1h-1zM6 66h1v1h-1zM0 67h1v1h-1zM7 67h2v1h-2zM8 68h1v1h-1zM2 69h1v1h-1zM5 70h1v1h-1zM3 71h1v1h-1zM5 71h1v1h-1zM2 73h1v1h-1zM5 73h1v1h-1zM0 74h2v1h-2zM4 75h2v1h-2zM0 78h1v1h-1zM6 79h2v1h-2zM1 81h1v1h-1zM3 81h2v1h-2zM6 81h3v1h-3zM4 82h2v1h-2zM0 85h1v1h-1zM4 85h1v1h-1zM8 85h1v1h-1zM4 86h1v1h-1zM6 86h3v1h-3zM0 88h1v1h-1zM2 89h1v1h-1zM2 92h1v1h-1zM2 93h1v1h-1zM6 93h1v1h-1zM2 94h1v1h-1zM7 94h1v1h-1zM1 96h1v1h-1zM0 97h1v1h-1zM8 98h1v1h-1zM3 100h1v1h-1zM7 100h1v1h-1zM2 102h1v1h-1zM8 102h1v1h-1zM7 103h1v1h-1zM0 105h1v1h-1zM3 106h1v1h-1zM8 106h1v1h-1zM2 107h1v1h-1z"/>
<path fill="#fef6f3" d="M5 1h1v1h-1zM7 1h1v1h-1zM0 2h2v1h-2zM4 2h1v1h-1zM7 2h1v1h-1zM0 4h1v1h-1zM4 4h2v1h-2zM0 5h1v1h-1zM4 5h1v1h-1zM8 5h1v1h-1zM4 6h1v1h-1zM7 7h2v1h-2zM4 8h1v1h-1zM0 9h1v1h-1zM7 9h2v1h-2zM0 10h2v1h-2zM4 10h1v1h-1zM6 10h2v1h-2zM5 11h1v1h-1zM7 11h2v1h-2zM6 12h1v1h-1zM8 13h1v1h-1zM5 14h1v1h-1zM7 14h1v1h-1zM1 15h1v1h-1zM5 15h1v1h-1zM1 16h1v1h-1zM5 16h4v1h-4zM4 17h1v1h-1zM0 18h2v1h-2zM4 18h1v1h-1zM5 19h1v1h-1zM5 20h3v1h-3zM0 21h1v1h-1zM5 22h1v1h-1zM4 23h1v1h-1zM8 23h1v1h-1zM1 24h1v1h-1zM5 24h1v1h-1zM4 26h3v1h-3zM0 28h1v1h-1zM0 29h2v1h-2zM0 30h1v1h-1zM6 30h2v1h-2zM1 31h1v1h-1zM5 31h1v1h-1zM7 31h1v1h-1zM7 32h1v1h-1zM5 33h1v1h-1zM6 34h3v1h-3zM1 35h1v1h-1zM5 35h1v1h-1zM7 35h1v1h-1zM5 36h1v1h-1zM7 36h1v1h-1zM1 37h1v1h-1zM6 37h1v1h-1zM4 38h2v1h-2zM0 39h2v1h-2zM0 40h1v1h-1zM4 40h1v1h-1zM0 41h1v1h-1zM3 41h1v1h-1zM7 41h1v1h-1zM3 42h1v1h-1zM6 42h2v1h-2zM0 43h1v1h-1zM8 43h1v1h-1zM0 44h2v1h-2zM5 44h1v1h-1zM0 46h1v1h-1zM4 47h1v1h-1zM7 47h2v1h-2zM0 48h1v1h-1zM7 48h1v1h-1zM1 49h1v1h-1zM3 49h1v1h-1zM5 49h1v1h-1zM7 49h2v1h-2zM3 50h1v1h-1zM4 51h2v1h-2zM0 52h1v1h-1zM6 52h1v1h-1zM8 52h1v1h-1zM0 53h1v1h-1zM6 53h1v1h-1zM1 54h1v1h-1zM4 54h1v1h-1zM6 54h3v1h-3zM6 55h1v1h-1zM4 56h1v1h-1zM6 56h3v1h-3zM1 57h1v1h-1zM5 57h1v1h-1zM7 57h1v1h-1zM1 58h1v1h-1zM5 59h1v1h-1zM0 60h2v1h-2zM0 61h2v1h-2zM6 61h3v1h-3zM3 62h1v1h-1zM0 63h2v1h-2zM6 64h3v1h-3zM7 65h1v1h-1zM0 66h1v1h-1zM8 66h1v1h-1zM1 67h1v1h-1zM4 67h2v1h-2zM4 69h1v1h-1zM6 69h2v1h-2zM4 70h1v1h-1zM6 70h1v1h-1zM8 70h1v1h-1zM0 72h2v1h-2zM3 72h4v1h-4zM1 73h1v1h-1zM7 73h1v1h-1zM7 74h1v1h-1zM3 76h1v1h-1zM5 76h1v1h-1zM7 76h2v1h-2zM0 77h1v1h-1zM3 78h1v1h-1zM7 78h2v1h-2zM1 80h1v1h-1zM3 80h2v1h-2zM8 80h1v1h-1zM5 81h1v1h-1zM0 83h2v1h-2zM4 83h1v1h-1zM8 83h1v1h-1zM8 84h1v1h-1zM6 85h1v1h-1zM0 87h1v1h-1zM1 88h1v1h-1zM4 88h1v1h-1zM6 88h1v1h-1zM3 89h3v1h-3zM0 90h2v1h-2zM3 90h1v1h-1zM5 90h1v1h-1zM8 90h1v1h-1zM3 91h1v1h-1zM6 91h3v1h-3zM1 92h1v1h-1zM7 92h2v1h-2zM0 93h1v1h-1zM4 93h1v1h-1zM0 94h1v1h-1zM0 95h1v1h-1zM4 95h1v1h-1zM7 95h1v1h-1zM3 96h1v1h-1zM8 96h1v1h-1zM1 97h1v1h-1zM3 97h2v1h-2zM8 97h1v1h-1zM4 98h1v1h-1zM4 99h1v1h-1zM7 99h2v1h-2zM0 100h1v1h-1zM1 101h1v1h-1zM5 101h4v1h-4zM1 102h1v1h-1zM4 102h1v1h-1zM1 103h1v1h-1zM4 104h4v1h-4zM3 105h1v1h-1zM5 105h1v1h-1zM7 105h2v1h-2zM1 106h1v1h-1zM4 106h1v1h-1zM6 106h1v1h-1z"/>
<path fill="#fdeee7" d="M5 0h1v1h-1zM8 1h1v1h-1zM7 3h1v1h-1zM5 5h1v1h-1zM1 6h1v1h-1zM5 6h1v1h-1zM4 12h2v1h-2zM1 13h1v1h-1zM0 14h2v1h-2zM0 16h1v1h-1zM5 17h1v1h-1zM7 17h1v1h-1zM1 21h1v1h-1zM4 21h1v1h-1zM7 21h2v1h-2zM0 22h1v1h-1zM1 25h1v1h-1zM4 25h2v1h-2zM7 26h1v1h-1zM6 29h1v1h-1zM8 31h1v1h-1zM1 32h1v1h-1zM5 32h1v1h-1zM4 34h2v1h-2zM0 35h1v1h-1zM3 36h2v1h-2zM5 39h1v1h-1zM1 41h1v1h-1zM4 41h2v1h-2zM4 42h2v1h-2zM1 43h1v1h-1zM7 43h1v1h-1zM8 45h1v1h-1zM6 46h2v1h-2zM6 47h1v1h-1zM8 48h1v1h-1zM4 49h1v1h-1zM5 50h1v1h-1zM0 51h2v1h-2zM0 54h1v1h-1zM3 54h1v1h-1zM5 54h1v1h-1zM1 55h1v1h-1zM1 56h1v1h-1zM8 57h1v1h-1zM7 60h1v1h-1zM0 62h2v1h-2zM3 64h3v1h-3zM0 69h2v1h-2zM8 69h1v1h-1zM3 74h2v1h-2zM6 74h1v1h-1zM8 74h1v1h-1zM0 76h1v1h-1zM5 78h1v1h-1zM0 79h2v1h-2zM7 80h1v1h-1zM5 83h1v1h-1zM3 84h1v1h-1zM7 84h1v1h-1zM7 85h1v1h-1zM3 87h3v1h-3zM3 88h1v1h-1zM4 90h1v1h-1zM4 91h1v1h-1zM0 92h1v1h-1zM3 92h2v1h-2zM3 93h1v1h-1zM8 93h1v1h-1zM1 94h1v1h-1zM1 95h1v1h-1zM5 95h1v1h-1zM8 95h1v1h-1zM4 96h4v1h-4zM5 97h1v1h-1zM3 99h1v1h-1zM5 99h2v1h-2zM3 101h1v1h-1zM3 102h1v1h-1zM0 103h1v1h-1zM3 103h1v1h-1zM1 107h1v1h-1zM3 107h2v1h-2z"/>
<path fill="#fce5db" d="M4 0h1v1h-1zM6 1h1v1h-1zM0 6h1v1h-1zM5 21h1v1h-1zM4 24h1v1h-1zM7 29h2v1h-2zM1 30h1v1h-1zM6 31h1v1h-1zM3 34h1v1h-1zM0 55h1v1h-1zM6 57h1v1h-1zM6 76h1v1h-1zM1 77h1v1h-1zM3 77h3v1h-3zM4 78h1v1h-1zM5 92h1v1h-1zM5 107h1v1h-1z"/>
<path fill="#fbdccf" d="M0 38h2v1h-2zM4 84h1v1h-1zM5 91h1v1h-1z"/>
<path fill="#fad4c3" d="M5 84h1v1h-1z"/>
</g></g>
<rect x="229.70" y="277.60" width="87.10" height="46.50" fill="#fcf8f8" stroke="none" stroke-width="0" />
<g filter="url(#hmb)"><g transform="translate(229.70,277.60) scale(9.6778,1.0568)">
<path fill="#beadd7" d="M8 32h1v1h-1zM0 38h1v1h-1zM0 41h1v1h-1z"/>
<path fill="#c8bade" d="M3 4h1v1h-1zM2 18h1v1h-1zM1 24h1v1h-1z"/>
<path fill="#d3c8e4" d="M7 43h1v1h-1z"/>
<path fill="#ded6eb" d="M3 11h1v1h-1zM5 11h1v1h-1zM6 39h1v1h-1z"/>
<path fill="#e9e4f2" d="M3 6h1v1h-1zM5 6h1v1h-1zM2 19h1v1h-1zM6 19h3v1h-3zM5 25h1v1h-1zM4 30h1v1h-1zM5 31h1v1h-1zM7 32h1v1h-1z"/>
<path fill="#f4f1f8" d="M3 0h1v1h-1zM5 0h1v1h-1zM3 2h2v1h-2zM4 6h1v1h-1zM4 7h1v1h-1zM1 8h1v1h-1zM4 11h1v1h-1zM6 11h2v1h-2zM6 12h1v1h-1zM8 12h1v1h-1zM8 13h1v1h-1zM6 14h2v1h-2zM6 15h2v1h-2zM4 17h1v1h-1zM8 17h1v1h-1zM0 19h1v1h-1zM4 19h1v1h-1zM0 20h1v1h-1zM2 20h1v1h-1zM4 20h1v1h-1zM0 23h1v1h-1zM3 25h2v1h-2zM6 26h1v1h-1zM5 28h1v1h-1zM1 30h3v1h-3zM5 30h1v1h-1zM4 31h1v1h-1zM6 32h1v1h-1zM0 33h1v1h-1zM0 37h1v1h-1zM1 38h2v1h-2zM5 39h1v1h-1z"/>
<path fill="#fef6f3" d="M1 0h2v1h-2zM0 1h1v1h-1zM2 1h2v1h-2zM5 1h1v1h-1zM0 2h3v1h-3zM6 2h3v1h-3zM1 4h1v1h-1zM4 4h1v1h-1zM1 5h1v1h-1zM5 5h2v1h-2zM6 6h2v1h-2zM3 7h1v1h-1zM7 7h1v1h-1zM2 8h1v1h-1zM4 8h4v1h-4zM0 9h1v1h-1zM5 9h1v1h-1zM4 10h1v1h-1zM8 11h1v1h-1zM0 12h5v1h-5zM7 12h1v1h-1zM3 13h5v1h-5zM2 14h2v1h-2zM8 14h1v1h-1zM8 15h1v1h-1zM2 16h2v1h-2zM1 18h1v1h-1zM3 18h1v1h-1zM8 18h1v1h-1zM1 19h1v1h-1zM1 20h1v1h-1zM3 20h1v1h-1zM5 20h4v1h-4zM6 21h2v1h-2zM0 22h1v1h-1zM2 22h1v1h-1zM5 22h1v1h-1zM5 23h2v1h-2zM8 23h1v1h-1zM6 25h1v1h-1zM8 25h1v1h-1zM1 26h1v1h-1zM1 27h1v1h-1zM4 27h1v1h-1zM6 27h1v1h-1zM0 28h2v1h-2zM3 28h2v1h-2zM6 28h1v1h-1zM8 28h1v1h-1zM1 29h3v1h-3zM8 29h1v1h-1zM1 31h1v1h-1zM3 31h1v1h-1zM8 31h1v1h-1zM3 32h2v1h-2zM2 33h1v1h-1zM0 34h1v1h-1zM2 34h1v1h-1zM0 35h1v1h-1zM1 36h2v1h-2zM2 37h1v1h-1zM5 37h1v1h-1zM0 39h1v1h-1zM1 40h1v1h-1zM5 40h3v1h-3zM1 41h1v1h-1zM7 41h1v1h-1zM1 43h1v1h-1zM8 43h1v1h-1z"/>
<path fill="#fdeee7" d="M0 0h1v1h-1zM6 0h1v1h-1zM8 0h1v1h-1zM7 1h2v1h-2zM0 4h1v1h-1zM2 4h1v1h-1zM7 4h1v1h-1zM0 6h2v1h-2zM1 7h1v1h-1zM6 7h1v1h-1zM3 8h1v1h-1zM8 8h1v1h-1zM1 9h2v1h-2zM6 9h1v1h-1zM8 9h1v1h-1zM7 10h2v1h-2zM0 11h3v1h-3zM0 14h2v1h-2zM4 14h2v1h-2zM2 15h2v1h-2zM5 15h1v1h-1zM5 16h1v1h-1zM7 16h1v1h-1zM0 17h4v1h-4zM6 18h2v1h-2zM8 21h1v1h-1zM1 22h1v1h-1zM3 22h1v1h-1zM7 22h2v1h-2zM4 23h1v1h-1zM0 24h1v1h-1zM2 24h1v1h-1zM5 24h1v1h-1zM0 25h3v1h-3zM7 25h1v1h-1zM3 26h1v1h-1zM0 27h1v1h-1zM2 27h1v1h-1zM5 29h2v1h-2zM0 32h2v1h-2zM5 32h1v1h-1zM3 33h1v1h-1zM6 33h1v1h-1zM8 33h1v1h-1zM2 35h1v1h-1zM3 37h1v1h-1zM7 39h1v1h-1zM2 40h3v1h-3zM8 40h1v1h-1zM4 41h2v1h-2zM1 42h1v1h-1zM6 42h1v1h-1z"/>
<path fill="#fce5db" d="M7 0h1v1h-1zM6 1h1v1h-1zM4 3h1v1h-1zM6 4h1v1h-1zM8 4h1v1h-1zM0 5h1v1h-1zM2 5h1v1h-1zM8 5h1v1h-1zM2 6h1v1h-1zM2 7h1v1h-1zM7 9h1v1h-1zM1 10h1v1h-1zM0 15h2v1h-2zM4 15h1v1h-1zM4 16h1v1h-1zM6 16h1v1h-1zM8 16h1v1h-1zM3 21h1v1h-1zM5 21h1v1h-1zM4 22h1v1h-1zM3 23h1v1h-1zM4 26h1v1h-1zM0 29h1v1h-1zM7 29h1v1h-1zM6 31h2v1h-2zM4 33h1v1h-1zM7 33h1v1h-1zM4 34h1v1h-1zM7 34h1v1h-1zM6 35h1v1h-1zM4 37h1v1h-1zM6 37h2v1h-2zM7 38h1v1h-1zM8 39h1v1h-1zM3 41h1v1h-1zM0 42h1v1h-1zM4 42h1v1h-1zM7 42h2v1h-2zM6 43h1v1h-1z"/>
<path fill="#fbdccf" d="M3 3h1v1h-1zM2 10h1v1h-1zM6 10h1v1h-1zM4 21h1v1h-1zM1 23h1v1h-1zM5 26h1v1h-1zM4 29h1v1h-1zM6 34h1v1h-1zM7 35h2v1h-2zM4 36h2v1h-2zM7 36h2v1h-2zM8 37h1v1h-1zM4 38h1v1h-1zM6 38h1v1h-1zM8 38h1v1h-1zM3 39h1v1h-1zM4 43h2v1h-2z"/>
<path fill="#fad4c3" d="M0 3h1v1h-1zM5 3h1v1h-1zM8 3h1v1h-1zM0 7h1v1h-1zM5 7h1v1h-1zM0 10h1v1h-1zM7 28h1v1h-1zM3 34h1v1h-1zM5 34h1v1h-1zM8 34h1v1h-1zM3 35h1v1h-1zM5 35h1v1h-1zM6 36h1v1h-1zM3 38h1v1h-1zM5 38h1v1h-1zM2 39h1v1h-1zM4 39h1v1h-1zM3 43h1v1h-1z"/>
<path fill="#f8cbb7" d="M1 3h1v1h-1zM6 3h2v1h-2zM0 18h1v1h-1zM8 27h1v1h-1zM4 35h1v1h-1zM3 36h1v1h-1z"/>
<path fill="#f7c2ab" d="M3 24h2v1h-2zM7 27h1v1h-1z"/>
<path fill="#f6b99f" d="M5 33h1v1h-1zM8 41h1v1h-1z"/>
</g></g>
<text x="234.24" y="334.20" font-size="8.2" font-weight="normal" font-style="normal" fill="#2a2a2a" text-anchor="middle" stroke="#2a2a2a" stroke-width="0.08" >1</text>
<text x="243.92" y="334.20" font-size="8.2" font-weight="normal" font-style="normal" fill="#2a2a2a" text-anchor="middle" stroke="#2a2a2a" stroke-width="0.08" >2</text>
<text x="253.59" y="334.20" font-size="8.2" font-weight="normal" font-style="normal" fill="#2a2a2a" text-anchor="middle" stroke="#2a2a2a" stroke-width="0.08" >3</text>
<line x1="230.10" y1="336.90" x2="258.13" y2="336.90" stroke="#222" stroke-width="1.6" />
<text x="230.30" y="345.30" font-size="8.2" font-weight="normal" font-style="normal" fill="#2a2a2a" text-anchor="start" stroke="#2a2a2a" stroke-width="0.08" textLength="22.20" lengthAdjust="spacingAndGlyphs" >5.5hpf</text>
<text x="263.27" y="334.20" font-size="8.2" font-weight="normal" font-style="normal" fill="#2a2a2a" text-anchor="middle" stroke="#2a2a2a" stroke-width="0.08" >1</text>
<text x="272.95" y="334.20" font-size="8.2" font-weight="normal" font-style="normal" fill="#2a2a2a" text-anchor="middle" stroke="#2a2a2a" stroke-width="0.08" >2</text>
<text x="282.63" y="334.20" font-size="8.2" font-weight="normal" font-style="normal" fill="#2a2a2a" text-anchor="middle" stroke="#2a2a2a" stroke-width="0.08" >3</text>
<line x1="259.13" y1="336.90" x2="287.17" y2="336.90" stroke="#222" stroke-width="1.6" />
<text x="259.33" y="345.30" font-size="8.2" font-weight="normal" font-style="normal" fill="#2a2a2a" text-anchor="start" stroke="#2a2a2a" stroke-width="0.08" textLength="22.20" lengthAdjust="spacingAndGlyphs" >6.5hpf</text>
<text x="292.31" y="334.20" font-size="8.2" font-weight="normal" font-style="normal" fill="#2a2a2a" text-anchor="middle" stroke="#2a2a2a" stroke-width="0.08" >1</text>
<text x="301.98" y="334.20" font-size="8.2" font-weight="normal" font-style="normal" fill="#2a2a2a" text-anchor="middle" stroke="#2a2a2a" stroke-width="0.08" >2</text>
<text x="311.66" y="334.20" font-size="8.2" font-weight="normal" font-style="normal" fill="#2a2a2a" text-anchor="middle" stroke="#2a2a2a" stroke-width="0.08" >3</text>
<line x1="288.17" y1="336.90" x2="316.20" y2="336.90" stroke="#222" stroke-width="1.6" />
<text x="288.37" y="345.30" font-size="8.2" font-weight="normal" font-style="normal" fill="#2a2a2a" text-anchor="start" stroke="#2a2a2a" stroke-width="0.08" textLength="22.20" lengthAdjust="spacingAndGlyphs" >7.5hpf</text>
<text x="366.60" y="125.60" font-size="8.8" font-weight="normal" font-style="normal" fill="#222" text-anchor="middle" stroke="#222" stroke-width="0.28" textLength="31.00" lengthAdjust="spacingAndGlyphs" >Ctrl MO</text>
<rect x="319.20" y="130.20" width="87.40" height="29.30" fill="#fbf9fa" stroke="none" stroke-width="0" />
<g filter="url(#hmb)"><g transform="translate(319.20,130.20) scale(9.7111,1.0464)">
<path fill="#c8bade" d="M3 9h1v1h-1zM3 14h1v1h-1zM3 19h1v1h-1zM3 21h1v1h-1z"/>
<path fill="#d3c8e4" d="M3 3h1v1h-1zM3 4h1v1h-1zM3 5h1v1h-1zM3 12h1v1h-1zM3 15h1v1h-1zM4 21h1v1h-1zM6 22h1v1h-1zM3 23h1v1h-1zM3 24h1v1h-1z"/>
<path fill="#ded6eb" d="M6 1h1v1h-1zM8 1h1v1h-1zM4 5h1v1h-1zM3 6h2v1h-2zM3 8h1v1h-1zM3 10h1v1h-1zM3 13h1v1h-1zM1 16h1v1h-1zM3 18h1v1h-1zM3 25h1v1h-1zM3 27h1v1h-1z"/>
<path fill="#e9e4f2" d="M3 0h1v1h-1zM0 1h1v1h-1zM3 1h1v1h-1zM3 2h1v1h-1zM5 5h1v1h-1zM8 7h1v1h-1zM5 8h1v1h-1zM4 9h2v1h-2zM3 11h1v1h-1zM7 14h1v1h-1zM0 16h1v1h-1zM2 16h1v1h-1zM6 17h1v1h-1zM4 19h1v1h-1zM0 20h2v1h-2zM5 21h1v1h-1zM8 23h1v1h-1zM0 25h1v1h-1zM5 27h1v1h-1z"/>
<path fill="#f4f1f8" d="M4 0h1v1h-1zM1 1h2v1h-2zM7 1h1v1h-1zM0 2h3v1h-3zM6 2h3v1h-3zM4 3h1v1h-1zM6 3h1v1h-1zM8 3h1v1h-1zM1 4h2v1h-2zM0 5h2v1h-2zM1 6h1v1h-1zM3 7h2v1h-2zM6 7h1v1h-1zM8 8h1v1h-1zM6 10h1v1h-1zM1 11h1v1h-1zM4 12h1v1h-1zM4 13h2v1h-2zM4 14h1v1h-1zM6 14h1v1h-1zM8 14h1v1h-1zM2 15h1v1h-1zM4 15h3v1h-3zM3 16h1v1h-1zM6 16h1v1h-1zM8 16h1v1h-1zM3 17h1v1h-1zM5 17h1v1h-1zM8 17h1v1h-1zM2 19h1v1h-1zM2 20h2v1h-2zM8 22h1v1h-1zM0 23h2v1h-2zM4 23h1v1h-1zM6 23h2v1h-2zM1 25h1v1h-1zM4 25h1v1h-1zM8 25h1v1h-1zM3 26h1v1h-1zM6 26h1v1h-1zM2 27h1v1h-1z"/>
<path fill="#fef6f3" d="M1 0h1v1h-1zM5 0h2v1h-2zM5 1h1v1h-1zM6 4h1v1h-1zM6 5h1v1h-1zM6 6h2v1h-2zM1 7h1v1h-1zM5 7h1v1h-1zM0 8h1v1h-1zM2 8h1v1h-1zM6 8h1v1h-1zM0 9h1v1h-1zM6 9h1v1h-1zM8 9h1v1h-1zM1 10h1v1h-1zM4 10h2v1h-2zM8 10h1v1h-1zM2 11h1v1h-1zM4 11h1v1h-1zM7 11h1v1h-1zM0 12h3v1h-3zM8 12h1v1h-1zM0 13h3v1h-3zM1 14h1v1h-1zM4 16h2v1h-2zM7 16h1v1h-1zM1 17h1v1h-1zM0 18h1v1h-1zM2 18h1v1h-1zM4 18h2v1h-2zM0 19h2v1h-2zM6 19h2v1h-2zM5 20h1v1h-1zM8 20h1v1h-1zM0 21h2v1h-2zM0 22h2v1h-2zM3 22h1v1h-1zM0 26h1v1h-1zM2 26h1v1h-1zM7 26h1v1h-1zM4 27h1v1h-1z"/>
<path fill="#fdeee7" d="M0 3h2v1h-2zM8 4h1v1h-1zM7 5h2v1h-2zM0 7h1v1h-1zM2 9h1v1h-1zM8 11h1v1h-1zM7 12h1v1h-1zM7 13h1v1h-1zM0 17h1v1h-1zM2 17h1v1h-1zM8 19h1v1h-1zM4 20h1v1h-1zM2 21h1v1h-1zM6 21h2v1h-2zM0 24h3v1h-3zM6 24h3v1h-3zM6 27h1v1h-1z"/>
<path fill="#fce5db" d="M7 4h1v1h-1zM8 6h1v1h-1zM6 12h1v1h-1zM4 22h1v1h-1zM5 26h1v1h-1z"/>
<path fill="#fbdccf" d="M2 7h1v1h-1z"/>
<path fill="#fad4c3" d="M5 22h1v1h-1z"/>
</g></g>
<rect x="319.20" y="161.60" width="87.40" height="113.70" fill="#fbf9fa" stroke="none" stroke-width="0" />
<g filter="url(#hmb)"><g transform="translate(319.20,161.60) scale(9.7111,1.0528)">
<path fill="#c8bade" d="M2 44h1v1h-1z"/>
<path fill="#d3c8e4" d="M7 5h1v1h-1zM0 8h1v1h-1zM4 22h1v1h-1zM6 26h1v1h-1zM7 35h1v1h-1zM4 44h1v1h-1zM4 65h1v1h-1zM0 72h1v1h-1zM7 90h1v1h-1zM3 93h1v1h-1zM7 101h1v1h-1zM7 103h1v1h-1z"/>
<path fill="#ded6eb" d="M4 5h2v1h-2zM1 8h2v1h-2zM4 8h1v1h-1zM6 8h1v1h-1zM7 10h1v1h-1zM7 15h1v1h-1zM1 20h1v1h-1zM3 22h1v1h-1zM7 26h1v1h-1zM5 28h1v1h-1zM2 38h1v1h-1zM0 40h1v1h-1zM0 44h2v1h-2zM5 44h1v1h-1zM7 44h1v1h-1zM3 46h1v1h-1zM4 47h2v1h-2zM0 50h1v1h-1zM6 55h2v1h-2zM7 59h1v1h-1zM7 62h1v1h-1zM7 63h1v1h-1zM5 65h1v1h-1zM7 68h1v1h-1zM2 72h1v1h-1zM6 73h2v1h-2zM5 78h1v1h-1zM7 78h1v1h-1zM0 83h1v1h-1zM0 84h1v1h-1zM6 88h2v1h-2zM2 89h1v1h-1zM5 93h1v1h-1zM7 98h1v1h-1zM2 104h1v1h-1zM5 104h1v1h-1z"/>
<path fill="#e9e4f2" d="M4 0h1v1h-1zM7 0h1v1h-1zM3 2h1v1h-1zM2 3h1v1h-1zM8 4h1v1h-1zM3 5h1v1h-1zM6 5h1v1h-1zM8 5h1v1h-1zM5 6h1v1h-1zM7 6h2v1h-2zM4 7h2v1h-2zM7 7h1v1h-1zM3 8h1v1h-1zM5 8h1v1h-1zM7 8h2v1h-2zM8 10h1v1h-1zM4 17h1v1h-1zM8 17h1v1h-1zM7 18h1v1h-1zM0 20h1v1h-1zM2 20h1v1h-1zM7 20h2v1h-2zM2 21h1v1h-1zM1 22h2v1h-2zM7 22h2v1h-2zM1 23h1v1h-1zM4 23h1v1h-1zM7 23h1v1h-1zM1 26h1v1h-1zM5 26h1v1h-1zM8 26h1v1h-1zM0 28h1v1h-1zM4 28h1v1h-1zM2 30h1v1h-1zM3 35h1v1h-1zM5 35h1v1h-1zM1 36h1v1h-1zM7 37h1v1h-1zM0 38h2v1h-2zM1 40h1v1h-1zM7 40h1v1h-1zM3 41h1v1h-1zM3 44h1v1h-1zM0 45h2v1h-2zM7 45h1v1h-1zM3 47h1v1h-1zM3 48h1v1h-1zM1 50h2v1h-2zM7 50h1v1h-1zM4 51h1v1h-1zM0 53h1v1h-1zM8 55h1v1h-1zM7 56h2v1h-2zM0 57h1v1h-1zM6 59h1v1h-1zM8 59h1v1h-1zM1 60h2v1h-2zM6 60h3v1h-3zM2 61h1v1h-1zM6 62h1v1h-1zM8 63h1v1h-1zM6 64h2v1h-2zM3 65h1v1h-1zM6 67h1v1h-1zM6 68h1v1h-1zM8 68h1v1h-1zM2 70h1v1h-1zM1 72h1v1h-1zM7 72h1v1h-1zM8 73h1v1h-1zM1 74h1v1h-1zM4 74h1v1h-1zM7 75h1v1h-1zM7 76h1v1h-1zM6 77h1v1h-1zM4 78h1v1h-1zM6 78h1v1h-1zM8 78h1v1h-1zM1 81h1v1h-1zM3 81h1v1h-1zM5 81h1v1h-1zM7 82h2v1h-2zM6 83h1v1h-1zM8 83h1v1h-1zM1 84h1v1h-1zM7 85h1v1h-1zM7 87h1v1h-1zM8 88h1v1h-1zM3 90h1v1h-1zM5 90h2v1h-2zM8 90h1v1h-1zM4 92h1v1h-1zM4 93h1v1h-1zM7 96h2v1h-2zM1 97h1v1h-1zM3 97h1v1h-1zM3 98h1v1h-1zM8 98h1v1h-1zM6 99h3v1h-3zM5 101h1v1h-1zM8 101h1v1h-1zM7 102h1v1h-1zM5 103h2v1h-2zM1 104h1v1h-1zM4 106h2v1h-2zM7 106h1v1h-1z"/>
<path fill="#f4f1f8" d="M3 0h1v1h-1zM8 0h1v1h-1zM4 2h1v1h-1zM7 2h2v1h-2zM0 3h2v1h-2zM7 3h1v1h-1zM3 4h2v1h-2zM6 4h2v1h-2zM1 6h4v1h-4zM6 6h1v1h-1zM3 7h1v1h-1zM6 7h1v1h-1zM6 9h1v1h-1zM0 10h1v1h-1zM3 10h3v1h-3zM7 11h1v1h-1zM0 12h1v1h-1zM5 12h1v1h-1zM7 12h2v1h-2zM4 13h2v1h-2zM0 14h1v1h-1zM3 14h2v1h-2zM7 14h1v1h-1zM6 15h1v1h-1zM8 15h1v1h-1zM1 16h3v1h-3zM5 16h3v1h-3zM3 17h1v1h-1zM6 17h2v1h-2zM8 18h1v1h-1zM4 19h1v1h-1zM4 20h1v1h-1zM7 21h1v1h-1zM5 22h2v1h-2zM3 23h1v1h-1zM6 23h1v1h-1zM2 24h2v1h-2zM0 26h1v1h-1zM3 26h1v1h-1zM0 27h1v1h-1zM2 27h1v1h-1zM8 27h1v1h-1zM1 28h3v1h-3zM7 28h1v1h-1zM4 29h3v1h-3zM0 30h1v1h-1zM0 32h2v1h-2zM7 32h2v1h-2zM4 34h1v1h-1zM2 35h1v1h-1zM4 35h1v1h-1zM6 35h1v1h-1zM8 35h1v1h-1zM3 37h1v1h-1zM3 38h2v1h-2zM0 39h3v1h-3zM4 39h1v1h-1zM2 40h1v1h-1zM6 40h1v1h-1zM8 40h1v1h-1zM5 41h1v1h-1zM2 42h1v1h-1zM3 45h3v1h-3zM4 46h1v1h-1zM0 47h1v1h-1zM6 47h2v1h-2zM4 48h1v1h-1zM7 49h1v1h-1zM4 50h3v1h-3zM8 50h1v1h-1zM3 51h1v1h-1zM5 51h1v1h-1zM7 51h1v1h-1zM6 52h3v1h-3zM4 53h1v1h-1zM8 53h1v1h-1zM1 54h1v1h-1zM4 54h1v1h-1zM7 54h2v1h-2zM3 55h1v1h-1zM5 56h1v1h-1zM2 57h1v1h-1zM4 57h1v1h-1zM7 57h1v1h-1zM0 58h1v1h-1zM3 58h1v1h-1zM4 59h2v1h-2zM0 60h1v1h-1zM3 61h2v1h-2zM8 62h1v1h-1zM0 63h1v1h-1zM1 64h2v1h-2zM7 65h1v1h-1zM1 66h3v1h-3zM7 67h1v1h-1zM2 68h1v1h-1zM3 69h1v1h-1zM0 70h2v1h-2zM5 70h2v1h-2zM4 71h1v1h-1zM3 72h1v1h-1zM5 72h2v1h-2zM8 72h1v1h-1zM4 73h1v1h-1zM0 74h1v1h-1zM2 74h2v1h-2zM5 74h2v1h-2zM4 75h2v1h-2zM8 75h1v1h-1zM4 76h1v1h-1zM6 76h1v1h-1zM1 77h1v1h-1zM3 78h1v1h-1zM8 79h1v1h-1zM6 80h3v1h-3zM2 81h1v1h-1zM4 81h1v1h-1zM7 81h1v1h-1zM1 83h2v1h-2zM4 83h2v1h-2zM7 83h1v1h-1zM2 84h2v1h-2zM7 84h1v1h-1zM0 85h2v1h-2zM5 85h2v1h-2zM2 86h1v1h-1zM7 86h1v1h-1zM1 87h1v1h-1zM4 87h2v1h-2zM8 87h1v1h-1zM0 88h4v1h-4zM0 89h1v1h-1zM7 89h1v1h-1zM4 90h1v1h-1zM0 91h1v1h-1zM0 92h1v1h-1zM2 92h2v1h-2zM5 92h1v1h-1zM2 93h1v1h-1zM0 95h1v1h-1zM2 96h2v1h-2zM0 97h1v1h-1zM2 97h1v1h-1zM4 97h1v1h-1zM1 98h2v1h-2zM5 98h2v1h-2zM0 99h1v1h-1zM1 101h1v1h-1zM4 101h1v1h-1zM6 101h1v1h-1zM3 102h1v1h-1zM5 102h1v1h-1zM0 103h1v1h-1zM3 103h2v1h-2zM8 103h1v1h-1zM0 104h1v1h-1zM3 104h2v1h-2zM7 104h2v1h-2zM0 105h2v1h-2zM5 105h1v1h-1zM3 106h1v1h-1zM6 106h1v1h-1zM5 107h1v1h-1z"/>
<path fill="#fef6f3" d="M1 0h1v1h-1zM2 1h1v1h-1zM4 1h1v1h-1zM8 1h1v1h-1zM0 2h1v1h-1zM6 2h1v1h-1zM5 3h1v1h-1zM8 3h1v1h-1zM2 5h1v1h-1zM2 9h1v1h-1zM8 9h1v1h-1zM6 10h1v1h-1zM2 11h1v1h-1zM1 13h1v1h-1zM3 13h1v1h-1zM6 13h3v1h-3zM1 14h1v1h-1zM3 15h2v1h-2zM1 17h1v1h-1zM3 18h2v1h-2zM2 19h1v1h-1zM7 19h1v1h-1zM1 21h1v1h-1zM3 21h3v1h-3zM8 23h1v1h-1zM1 24h1v1h-1zM8 24h1v1h-1zM0 25h2v1h-2zM4 25h1v1h-1zM6 25h1v1h-1zM8 25h1v1h-1zM3 27h1v1h-1zM5 27h1v1h-1zM8 28h1v1h-1zM0 29h3v1h-3zM1 30h1v1h-1zM4 30h2v1h-2zM8 30h1v1h-1zM1 31h1v1h-1zM4 31h1v1h-1zM7 31h1v1h-1zM2 32h1v1h-1zM4 32h3v1h-3zM0 33h1v1h-1zM1 34h1v1h-1zM3 36h2v1h-2zM7 36h2v1h-2zM2 37h1v1h-1zM6 38h1v1h-1zM0 42h1v1h-1zM3 42h1v1h-1zM5 43h2v1h-2zM6 44h1v1h-1zM0 46h2v1h-2zM6 46h1v1h-1zM8 46h1v1h-1zM8 47h1v1h-1zM0 48h1v1h-1zM3 49h1v1h-1zM8 49h1v1h-1zM0 51h1v1h-1zM0 52h2v1h-2zM3 52h1v1h-1zM5 52h1v1h-1zM5 53h1v1h-1zM3 54h1v1h-1zM4 55h1v1h-1zM6 56h1v1h-1zM6 57h1v1h-1zM1 58h2v1h-2zM7 58h1v1h-1zM0 59h1v1h-1zM3 59h1v1h-1zM3 60h1v1h-1zM1 61h1v1h-1zM0 62h1v1h-1zM2 62h2v1h-2zM5 62h1v1h-1zM1 63h1v1h-1zM4 63h2v1h-2zM8 64h1v1h-1zM1 65h2v1h-2zM7 66h1v1h-1zM2 67h3v1h-3zM8 67h1v1h-1zM0 68h1v1h-1zM3 68h1v1h-1zM2 69h1v1h-1zM5 69h1v1h-1zM7 69h1v1h-1zM4 70h1v1h-1zM0 71h1v1h-1zM8 71h1v1h-1zM2 73h1v1h-1zM0 75h1v1h-1zM3 75h1v1h-1zM2 76h1v1h-1zM8 77h1v1h-1zM3 79h1v1h-1zM6 79h1v1h-1zM1 80h2v1h-2zM4 80h1v1h-1zM6 81h1v1h-1zM3 82h3v1h-3zM5 84h1v1h-1zM3 85h2v1h-2zM8 85h1v1h-1zM5 86h1v1h-1zM8 86h1v1h-1zM3 87h1v1h-1zM1 91h1v1h-1zM3 91h1v1h-1zM5 91h1v1h-1zM8 92h1v1h-1zM7 93h1v1h-1zM2 94h7v1h-7zM3 95h2v1h-2zM0 96h2v1h-2zM8 97h1v1h-1zM1 99h1v1h-1zM4 99h2v1h-2zM1 100h3v1h-3zM6 100h1v1h-1zM2 101h1v1h-1zM4 102h1v1h-1zM6 102h1v1h-1zM6 105h1v1h-1zM0 106h2v1h-2zM2 107h2v1h-2zM6 107h1v1h-1zM8 107h1v1h-1z"/>
<path fill="#fdeee7" d="M2 0h1v1h-1zM6 0h1v1h-1zM1 1h1v1h-1zM6 1h1v1h-1zM0 4h3v1h-3zM2 7h1v1h-1zM1 9h1v1h-1zM3 9h3v1h-3zM8 11h1v1h-1zM0 15h1v1h-1zM2 15h1v1h-1zM2 17h1v1h-1zM0 18h1v1h-1zM1 19h1v1h-1zM3 20h1v1h-1zM6 24h2v1h-2zM6 30h1v1h-1zM3 31h1v1h-1zM5 31h1v1h-1zM3 32h1v1h-1zM1 33h2v1h-2zM6 33h2v1h-2zM2 34h1v1h-1zM6 34h1v1h-1zM8 34h1v1h-1zM8 38h1v1h-1zM3 40h1v1h-1zM0 41h1v1h-1zM6 41h1v1h-1zM8 42h1v1h-1zM0 43h1v1h-1zM2 43h1v1h-1zM2 48h1v1h-1zM2 52h1v1h-1zM7 53h1v1h-1zM1 55h1v1h-1zM3 56h1v1h-1zM3 57h1v1h-1zM5 57h1v1h-1zM1 59h1v1h-1zM4 60h1v1h-1zM5 61h1v1h-1zM2 63h1v1h-1zM3 64h3v1h-3zM0 65h1v1h-1zM8 66h1v1h-1zM4 68h1v1h-1zM1 69h1v1h-1zM6 69h1v1h-1zM6 71h1v1h-1zM2 75h1v1h-1zM0 76h2v1h-2zM3 77h3v1h-3zM5 79h1v1h-1zM5 80h1v1h-1zM3 86h1v1h-1zM6 86h1v1h-1zM3 89h2v1h-2zM8 89h1v1h-1zM4 91h1v1h-1zM6 91h1v1h-1zM8 91h1v1h-1zM8 93h1v1h-1zM1 95h1v1h-1zM5 95h2v1h-2zM6 97h1v1h-1zM5 100h1v1h-1zM8 100h1v1h-1zM0 101h1v1h-1zM1 102h1v1h-1zM8 102h1v1h-1zM2 106h1v1h-1zM1 107h1v1h-1z"/>
<path fill="#fce5db" d="M0 9h1v1h-1zM0 17h1v1h-1zM6 19h1v1h-1zM8 33h1v1h-1zM0 55h1v1h-1zM2 55h1v1h-1zM8 58h1v1h-1zM1 62h1v1h-1zM6 66h1v1h-1zM1 67h1v1h-1zM1 78h2v1h-2zM4 79h1v1h-1zM1 82h2v1h-2zM5 89h1v1h-1zM6 92h1v1h-1zM6 93h1v1h-1zM0 107h1v1h-1z"/>
<path fill="#fbdccf" d="M1 18h2v1h-2zM8 19h1v1h-1zM4 33h1v1h-1zM6 58h1v1h-1zM8 69h1v1h-1zM1 71h1v1h-1zM0 78h1v1h-1zM0 82h1v1h-1zM6 89h1v1h-1zM0 90h3v1h-3zM4 100h1v1h-1z"/>
<path fill="#fad4c3" d="M3 33h1v1h-1zM5 33h1v1h-1zM0 69h1v1h-1z"/>
</g></g>
<rect x="319.20" y="277.60" width="87.40" height="46.50" fill="#fbf9fa" stroke="none" stroke-width="0" />
<g filter="url(#hmb)"><g transform="translate(319.20,277.60) scale(9.7111,1.0568)">
<path fill="#d3c8e4" d="M0 10h1v1h-1z"/>
<path fill="#ded6eb" d="M5 0h1v1h-1zM0 1h1v1h-1zM3 4h1v1h-1zM7 6h1v1h-1zM3 7h1v1h-1zM1 10h2v1h-2zM8 10h1v1h-1zM8 14h1v1h-1zM7 15h1v1h-1zM7 25h2v1h-2zM0 27h1v1h-1zM7 33h1v1h-1zM1 40h1v1h-1z"/>
<path fill="#e9e4f2" d="M3 0h2v1h-2zM1 1h1v1h-1zM6 1h1v1h-1zM6 2h1v1h-1zM0 3h1v1h-1zM5 3h1v1h-1zM4 4h2v1h-2zM0 5h2v1h-2zM8 5h1v1h-1zM6 6h1v1h-1zM8 6h1v1h-1zM4 7h1v1h-1zM8 7h1v1h-1zM8 9h1v1h-1zM6 10h2v1h-2zM5 13h1v1h-1zM3 14h1v1h-1zM5 14h1v1h-1zM5 15h1v1h-1zM3 16h1v1h-1zM7 17h2v1h-2zM0 19h3v1h-3zM6 19h3v1h-3zM1 21h1v1h-1zM3 21h1v1h-1zM5 21h1v1h-1zM3 23h1v1h-1zM5 23h1v1h-1zM2 24h2v1h-2zM5 24h1v1h-1zM1 25h2v1h-2zM0 26h1v1h-1zM2 26h1v1h-1zM5 26h1v1h-1zM4 30h1v1h-1zM1 33h2v1h-2zM1 34h1v1h-1zM2 36h2v1h-2zM4 37h1v1h-1zM7 38h1v1h-1zM4 39h1v1h-1zM2 40h1v1h-1z"/>
<path fill="#f4f1f8" d="M7 0h1v1h-1zM2 1h1v1h-1zM4 1h1v1h-1zM7 2h2v1h-2zM1 3h1v1h-1zM3 3h2v1h-2zM2 4h1v1h-1zM2 5h1v1h-1zM6 5h2v1h-2zM0 7h1v1h-1zM6 7h1v1h-1zM2 8h1v1h-1zM4 8h1v1h-1zM0 9h4v1h-4zM6 9h2v1h-2zM2 11h1v1h-1zM5 11h1v1h-1zM0 12h1v1h-1zM2 13h3v1h-3zM8 13h1v1h-1zM0 14h1v1h-1zM2 14h1v1h-1zM6 14h2v1h-2zM6 15h1v1h-1zM8 15h1v1h-1zM0 16h2v1h-2zM5 16h1v1h-1zM8 16h1v1h-1zM2 17h1v1h-1zM6 17h1v1h-1zM3 20h3v1h-3zM0 21h1v1h-1zM2 21h1v1h-1zM4 21h1v1h-1zM0 22h2v1h-2zM6 22h1v1h-1zM2 23h1v1h-1zM4 23h1v1h-1zM0 24h1v1h-1zM4 24h1v1h-1zM7 24h1v1h-1zM0 25h1v1h-1zM4 25h3v1h-3zM1 26h1v1h-1zM3 26h2v1h-2zM6 26h1v1h-1zM1 27h1v1h-1zM7 27h2v1h-2zM7 28h1v1h-1zM3 30h1v1h-1zM1 31h1v1h-1zM3 31h2v1h-2zM4 32h1v1h-1zM6 32h1v1h-1zM0 33h1v1h-1zM6 33h1v1h-1zM8 33h1v1h-1zM2 34h1v1h-1zM8 34h1v1h-1zM1 35h1v1h-1zM4 36h2v1h-2zM0 37h1v1h-1zM3 37h1v1h-1zM5 37h1v1h-1zM7 37h1v1h-1zM0 38h1v1h-1zM2 38h1v1h-1zM6 38h1v1h-1zM8 38h1v1h-1zM0 39h1v1h-1zM3 39h1v1h-1zM0 40h1v1h-1zM1 42h2v1h-2z"/>
<path fill="#fef6f3" d="M2 0h1v1h-1zM1 2h3v1h-3zM5 2h1v1h-1zM6 3h3v1h-3zM7 4h2v1h-2zM5 5h1v1h-1zM5 6h1v1h-1zM1 7h2v1h-2zM0 8h2v1h-2zM4 9h1v1h-1zM3 11h1v1h-1zM6 11h2v1h-2zM3 12h1v1h-1zM7 13h1v1h-1zM3 15h2v1h-2zM0 17h2v1h-2zM4 17h1v1h-1zM0 18h1v1h-1zM3 18h1v1h-1zM6 18h1v1h-1zM8 18h1v1h-1zM1 20h2v1h-2zM7 20h1v1h-1zM0 23h2v1h-2zM3 27h1v1h-1zM5 27h1v1h-1zM0 28h3v1h-3zM4 28h3v1h-3zM0 29h2v1h-2zM8 29h1v1h-1zM2 30h1v1h-1zM0 32h1v1h-1zM7 32h1v1h-1zM4 33h2v1h-2zM3 34h2v1h-2zM7 35h1v1h-1zM1 36h1v1h-1zM6 36h1v1h-1zM8 36h1v1h-1zM1 37h1v1h-1zM1 38h1v1h-1zM4 38h2v1h-2zM2 39h1v1h-1zM6 39h1v1h-1zM3 40h3v1h-3zM8 40h1v1h-1zM1 41h1v1h-1zM4 41h1v1h-1zM5 42h1v1h-1zM7 42h2v1h-2zM1 43h4v1h-4zM6 43h1v1h-1z"/>
<path fill="#fdeee7" d="M0 0h2v1h-2zM3 1h1v1h-1zM4 2h1v1h-1zM3 5h1v1h-1zM4 6h1v1h-1zM7 8h1v1h-1zM3 10h1v1h-1zM8 11h1v1h-1zM1 12h1v1h-1zM4 12h1v1h-1zM6 12h3v1h-3zM4 19h2v1h-2zM0 20h1v1h-1zM7 21h1v1h-1zM3 22h1v1h-1zM6 23h3v1h-3zM3 28h1v1h-1zM4 29h1v1h-1zM0 30h1v1h-1zM6 30h2v1h-2zM7 31h2v1h-2zM5 34h1v1h-1zM7 39h2v1h-2zM6 40h2v1h-2zM0 43h1v1h-1zM8 43h1v1h-1z"/>
<path fill="#fce5db" d="M0 2h1v1h-1zM4 5h1v1h-1zM4 10h2v1h-2zM7 18h1v1h-1zM6 31h1v1h-1zM2 37h1v1h-1zM0 41h1v1h-1z"/>
<path fill="#fbdccf" d="M0 6h3v1h-3zM3 19h1v1h-1z"/>
</g></g>
<text x="323.76" y="334.20" font-size="8.2" font-weight="normal" font-style="normal" fill="#2a2a2a" text-anchor="middle" stroke="#2a2a2a" stroke-width="0.08" >1</text>
<text x="333.47" y="334.20" font-size="8.2" font-weight="normal" font-style="normal" fill="#2a2a2a" text-anchor="middle" stroke="#2a2a2a" stroke-width="0.08" >2</text>
<text x="343.18" y="334.20" font-size="8.2" font-weight="normal" font-style="normal" fill="#2a2a2a" text-anchor="middle" stroke="#2a2a2a" stroke-width="0.08" >3</text>
<line x1="319.60" y1="336.90" x2="347.73" y2="336.90" stroke="#222" stroke-width="1.6" />
<text x="319.80" y="345.30" font-size="8.2" font-weight="normal" font-style="normal" fill="#2a2a2a" text-anchor="start" stroke="#2a2a2a" stroke-width="0.08" textLength="22.20" lengthAdjust="spacingAndGlyphs" >5.5hpf</text>
<text x="352.89" y="334.20" font-size="8.2" font-weight="normal" font-style="normal" fill="#2a2a2a" text-anchor="middle" stroke="#2a2a2a" stroke-width="0.08" >1</text>
<text x="362.60" y="334.20" font-size="8.2" font-weight="normal" font-style="normal" fill="#2a2a2a" text-anchor="middle" stroke="#2a2a2a" stroke-width="0.08" >2</text>
<text x="372.31" y="334.20" font-size="8.2" font-weight="normal" font-style="normal" fill="#2a2a2a" text-anchor="middle" stroke="#2a2a2a" stroke-width="0.08" >3</text>
<line x1="348.73" y1="336.90" x2="376.87" y2="336.90" stroke="#222" stroke-width="1.6" />
<text x="348.93" y="345.30" font-size="8.2" font-weight="normal" font-style="normal" fill="#2a2a2a" text-anchor="start" stroke="#2a2a2a" stroke-width="0.08" textLength="22.20" lengthAdjust="spacingAndGlyphs" >6.5hpf</text>
<text x="382.02" y="334.20" font-size="8.2" font-weight="normal" font-style="normal" fill="#2a2a2a" text-anchor="middle" stroke="#2a2a2a" stroke-width="0.08" >1</text>
<text x="391.73" y="334.20" font-size="8.2" font-weight="normal" font-style="normal" fill="#2a2a2a" text-anchor="middle" stroke="#2a2a2a" stroke-width="0.08" >2</text>
<text x="401.44" y="334.20" font-size="8.2" font-weight="normal" font-style="normal" fill="#2a2a2a" text-anchor="middle" stroke="#2a2a2a" stroke-width="0.08" >3</text>
<line x1="377.87" y1="336.90" x2="406.00" y2="336.90" stroke="#222" stroke-width="1.6" />
<text x="378.07" y="345.30" font-size="8.2" font-weight="normal" font-style="normal" fill="#2a2a2a" text-anchor="start" stroke="#2a2a2a" stroke-width="0.08" textLength="22.20" lengthAdjust="spacingAndGlyphs" >7.5hpf</text>
<text x="459.30" y="125.60" font-size="8.8" font-weight="normal" font-style="normal" fill="#222" text-anchor="middle" stroke="#222" stroke-width="0.28" textLength="42.00" lengthAdjust="spacingAndGlyphs" >Cxxc1 MO</text>
<rect x="411.90" y="130.20" width="87.60" height="29.30" fill="#f9f7fb" stroke="none" stroke-width="0" />
<g filter="url(#hmb)"><g transform="translate(411.90,130.20) scale(9.7333,1.0464)">
<path fill="#665aa9" d="M3 15h2v1h-2z"/>
<path fill="#6f60ad" d="M4 13h1v1h-1zM5 18h1v1h-1z"/>
<path fill="#7865b1" d="M4 10h1v1h-1zM3 11h1v1h-1zM5 11h1v1h-1zM3 13h1v1h-1zM5 13h1v1h-1zM4 14h1v1h-1zM3 18h2v1h-2z"/>
<path fill="#806bb4" d="M6 1h1v1h-1zM3 9h3v1h-3zM4 11h1v1h-1zM3 14h1v1h-1zM5 14h4v1h-4zM5 15h1v1h-1zM4 20h2v1h-2zM4 22h1v1h-1zM5 23h1v1h-1z"/>
<path fill="#8970b8" d="M7 1h2v1h-2zM4 3h1v1h-1zM4 8h2v1h-2zM3 10h1v1h-1zM3 12h1v1h-1zM5 12h1v1h-1zM3 20h1v1h-1zM3 22h1v1h-1zM5 22h1v1h-1zM3 24h1v1h-1zM5 24h1v1h-1zM3 25h1v1h-1z"/>
<path fill="#9276bc" d="M5 3h1v1h-1zM3 16h1v1h-1zM3 17h2v1h-2zM8 22h1v1h-1zM3 23h2v1h-2zM4 24h1v1h-1zM5 25h1v1h-1zM7 26h1v1h-1z"/>
<path fill="#9d84c3" d="M5 10h2v1h-2zM4 12h1v1h-1zM7 13h1v1h-1zM4 16h1v1h-1zM5 17h3v1h-3zM3 19h1v1h-1zM7 20h1v1h-1zM3 21h2v1h-2zM7 22h1v1h-1zM3 27h3v1h-3z"/>
<path fill="#a891c9" d="M6 0h2v1h-2zM3 3h1v1h-1zM3 8h1v1h-1zM7 10h2v1h-2zM6 13h1v1h-1zM8 13h1v1h-1zM8 17h1v1h-1zM4 19h1v1h-1zM6 20h1v1h-1zM8 20h1v1h-1zM5 21h1v1h-1zM4 25h1v1h-1zM3 26h1v1h-1zM5 26h2v1h-2zM8 26h1v1h-1z"/>
<path fill="#b39fd0" d="M4 0h1v1h-1zM8 0h1v1h-1zM7 3h1v1h-1zM5 6h1v1h-1zM7 9h1v1h-1zM6 11h1v1h-1zM8 11h1v1h-1zM5 16h3v1h-3zM5 19h1v1h-1zM7 19h1v1h-1zM6 22h1v1h-1zM6 24h1v1h-1zM8 25h1v1h-1zM4 26h1v1h-1z"/>
<path fill="#beadd7" d="M3 0h1v1h-1zM6 3h1v1h-1zM8 3h1v1h-1zM3 4h1v1h-1zM3 6h1v1h-1zM8 16h1v1h-1zM6 19h1v1h-1zM8 19h1v1h-1zM8 21h1v1h-1zM8 24h1v1h-1zM8 27h1v1h-1z"/>
<path fill="#c8bade" d="M8 2h1v1h-1zM4 4h2v1h-2zM3 5h2v1h-2zM4 6h1v1h-1zM4 7h1v1h-1zM7 7h1v1h-1zM6 9h1v1h-1zM6 12h1v1h-1zM8 12h1v1h-1zM1 15h1v1h-1zM6 18h1v1h-1zM8 18h1v1h-1zM6 21h2v1h-2zM1 22h1v1h-1zM7 24h1v1h-1zM6 25h1v1h-1z"/>
<path fill="#d3c8e4" d="M0 1h1v1h-1zM2 1h1v1h-1zM3 2h1v1h-1zM6 2h1v1h-1zM5 5h2v1h-2zM8 5h1v1h-1zM3 7h1v1h-1zM5 7h2v1h-2zM8 7h1v1h-1zM8 9h1v1h-1zM2 11h1v1h-1zM7 11h1v1h-1zM7 12h1v1h-1zM0 15h1v1h-1zM2 17h1v1h-1zM1 18h2v1h-2zM7 18h1v1h-1zM0 21h1v1h-1zM2 22h1v1h-1zM0 23h1v1h-1zM6 23h2v1h-2zM7 25h1v1h-1zM0 26h1v1h-1zM6 27h2v1h-2z"/>
<path fill="#ded6eb" d="M5 0h1v1h-1zM1 1h1v1h-1zM5 2h1v1h-1zM7 2h1v1h-1zM0 4h2v1h-2zM7 4h2v1h-2zM7 5h1v1h-1zM0 7h3v1h-3zM6 8h1v1h-1zM2 9h1v1h-1zM0 11h1v1h-1zM2 15h1v1h-1zM1 21h1v1h-1zM2 24h1v1h-1zM0 25h1v1h-1z"/>
<path fill="#e9e4f2" d="M0 0h3v1h-3zM4 2h1v1h-1zM2 4h1v1h-1zM6 4h1v1h-1zM0 5h1v1h-1zM7 6h1v1h-1zM2 8h1v1h-1zM7 8h2v1h-2zM0 10h3v1h-3zM1 11h1v1h-1zM0 12h1v1h-1zM2 12h1v1h-1zM0 13h1v1h-1zM2 13h1v1h-1zM0 16h1v1h-1zM0 17h2v1h-2zM0 20h2v1h-2zM2 21h1v1h-1zM0 22h1v1h-1zM1 23h1v1h-1zM8 23h1v1h-1zM0 24h2v1h-2zM1 25h2v1h-2zM1 26h1v1h-1zM1 27h2v1h-2z"/>
<path fill="#f4f1f8" d="M3 1h1v1h-1zM5 1h1v1h-1zM2 3h1v1h-1zM1 5h1v1h-1zM6 6h1v1h-1zM8 6h1v1h-1zM0 8h2v1h-2zM1 9h1v1h-1zM1 12h1v1h-1zM1 13h1v1h-1zM1 14h2v1h-2zM7 15h1v1h-1zM1 16h2v1h-2zM0 18h1v1h-1zM0 19h1v1h-1zM2 19h1v1h-1zM2 26h1v1h-1zM0 27h1v1h-1z"/>
<path fill="#fef6f3" d="M4 1h1v1h-1zM2 2h1v1h-1zM1 3h1v1h-1zM2 5h1v1h-1zM0 14h1v1h-1zM1 19h1v1h-1z"/>
<path fill="#fdeee7" d="M1 6h1v1h-1zM8 15h1v1h-1z"/>
<path fill="#fce5db" d="M2 6h1v1h-1z"/>
</g></g>
<rect x="411.90" y="161.60" width="87.60" height="113.70" fill="#f9f7fb" stroke="none" stroke-width="0" />
<g filter="url(#hmb)"><g transform="translate(411.90,161.60) scale(9.7333,1.0528)">
<path fill="#665aa9" d="M4 106h1v1h-1z"/>
<path fill="#6f60ad" d="M7 106h1v1h-1z"/>
<path fill="#7865b1" d="M7 94h1v1h-1zM3 106h1v1h-1zM5 106h1v1h-1z"/>
<path fill="#806bb4" d="M7 48h1v1h-1zM5 85h1v1h-1zM4 87h1v1h-1zM7 88h1v1h-1zM6 94h1v1h-1zM4 95h1v1h-1zM7 104h1v1h-1z"/>
<path fill="#8970b8" d="M7 56h1v1h-1zM7 85h1v1h-1zM3 87h1v1h-1zM5 87h1v1h-1zM7 87h1v1h-1zM7 90h1v1h-1zM7 93h1v1h-1zM4 94h1v1h-1zM8 94h1v1h-1zM3 95h1v1h-1zM5 95h1v1h-1zM7 102h1v1h-1zM7 105h1v1h-1zM6 106h1v1h-1zM8 106h1v1h-1z"/>
<path fill="#9276bc" d="M3 85h2v1h-2zM6 85h1v1h-1zM5 86h1v1h-1zM3 89h1v1h-1zM5 91h1v1h-1zM5 94h1v1h-1zM3 96h3v1h-3zM3 99h2v1h-2zM7 100h1v1h-1zM7 103h1v1h-1zM8 104h1v1h-1zM3 105h3v1h-3z"/>
<path fill="#9d84c3" d="M7 31h1v1h-1zM7 60h1v1h-1zM7 83h1v1h-1zM8 85h1v1h-1zM7 86h1v1h-1zM8 87h1v1h-1zM3 88h1v1h-1zM6 88h1v1h-1zM4 89h1v1h-1zM3 90h1v1h-1zM5 90h1v1h-1zM6 91h2v1h-2zM5 92h1v1h-1zM7 92h1v1h-1zM3 94h1v1h-1zM7 96h1v1h-1zM3 97h1v1h-1zM7 97h1v1h-1zM4 98h1v1h-1zM7 98h1v1h-1zM5 99h1v1h-1zM4 103h1v1h-1zM4 104h1v1h-1zM6 104h1v1h-1z"/>
<path fill="#a891c9" d="M7 30h1v1h-1zM7 43h1v1h-1zM6 48h1v1h-1zM8 48h1v1h-1zM3 86h1v1h-1zM6 87h1v1h-1zM4 88h2v1h-2zM8 88h1v1h-1zM7 89h1v1h-1zM3 91h2v1h-2zM8 91h1v1h-1zM3 92h2v1h-2zM3 93h1v1h-1zM6 93h1v1h-1zM7 95h1v1h-1zM4 97h2v1h-2zM3 98h1v1h-1zM5 98h1v1h-1zM7 99h1v1h-1zM4 102h1v1h-1zM6 102h1v1h-1zM8 102h1v1h-1zM3 103h1v1h-1zM5 103h1v1h-1zM3 104h1v1h-1zM6 105h1v1h-1z"/>
<path fill="#b39fd0" d="M7 14h1v1h-1zM7 38h1v1h-1zM7 51h1v1h-1zM7 52h1v1h-1zM8 56h1v1h-1zM7 58h1v1h-1zM6 60h1v1h-1zM7 74h1v1h-1zM4 86h1v1h-1zM5 89h1v1h-1zM8 89h1v1h-1zM4 90h1v1h-1zM8 90h1v1h-1zM4 93h2v1h-2zM8 93h1v1h-1zM6 96h1v1h-1zM6 98h1v1h-1zM8 98h1v1h-1zM3 100h1v1h-1zM6 100h1v1h-1zM3 101h1v1h-1zM5 101h1v1h-1zM7 101h1v1h-1zM3 102h1v1h-1zM8 103h1v1h-1zM3 107h2v1h-2zM7 107h1v1h-1z"/>
<path fill="#beadd7" d="M3 24h1v1h-1zM7 27h1v1h-1zM6 31h1v1h-1zM7 45h1v1h-1zM7 50h1v1h-1zM5 51h1v1h-1zM7 53h1v1h-1zM3 56h1v1h-1zM6 56h1v1h-1zM8 60h1v1h-1zM7 63h1v1h-1zM7 64h1v1h-1zM7 65h1v1h-1zM7 80h1v1h-1zM7 81h1v1h-1zM7 82h1v1h-1zM6 90h1v1h-1zM0 92h2v1h-2zM6 95h1v1h-1zM4 100h2v1h-2zM4 101h1v1h-1zM8 105h1v1h-1zM5 107h1v1h-1z"/>
<path fill="#c8bade" d="M7 0h1v1h-1zM7 6h1v1h-1zM7 12h1v1h-1zM7 17h1v1h-1zM7 20h1v1h-1zM4 24h1v1h-1zM1 27h1v1h-1zM7 29h1v1h-1zM7 32h1v1h-1zM7 34h1v1h-1zM3 39h1v1h-1zM7 39h1v1h-1zM8 43h1v1h-1zM6 46h2v1h-2zM0 48h1v1h-1zM3 50h1v1h-1zM4 51h1v1h-1zM8 52h1v1h-1zM5 56h1v1h-1zM3 62h1v1h-1zM7 66h1v1h-1zM4 70h1v1h-1zM7 71h1v1h-1zM7 72h1v1h-1zM8 74h1v1h-1zM7 75h1v1h-1zM2 79h1v1h-1zM6 83h1v1h-1zM8 83h1v1h-1zM7 84h1v1h-1zM6 86h1v1h-1zM8 86h1v1h-1zM6 89h1v1h-1zM6 92h1v1h-1zM8 95h1v1h-1zM1 97h1v1h-1zM8 97h1v1h-1zM2 99h1v1h-1zM6 99h1v1h-1zM5 102h1v1h-1zM6 103h1v1h-1zM5 104h1v1h-1zM6 107h1v1h-1z"/>
<path fill="#d3c8e4" d="M7 2h1v1h-1zM3 17h1v1h-1zM0 19h1v1h-1zM7 19h1v1h-1zM8 20h1v1h-1zM7 21h1v1h-1zM7 23h1v1h-1zM5 24h1v1h-1zM4 25h1v1h-1zM0 27h1v1h-1zM7 28h1v1h-1zM6 30h1v1h-1zM5 31h1v1h-1zM8 31h1v1h-1zM3 33h1v1h-1zM3 36h2v1h-2zM7 36h1v1h-1zM4 37h1v1h-1zM6 38h1v1h-1zM4 39h2v1h-2zM6 43h1v1h-1zM0 44h2v1h-2zM5 45h1v1h-1zM7 47h1v1h-1zM7 49h1v1h-1zM4 50h2v1h-2zM7 55h1v1h-1zM4 56h1v1h-1zM7 57h1v1h-1zM6 58h1v1h-1zM8 58h1v1h-1zM7 59h1v1h-1zM7 62h1v1h-1zM6 63h1v1h-1zM3 66h2v1h-2zM3 68h1v1h-1zM5 68h1v1h-1zM7 69h1v1h-1zM3 70h1v1h-1zM5 70h1v1h-1zM7 70h1v1h-1zM0 73h1v1h-1zM5 73h1v1h-1zM6 74h1v1h-1zM8 76h1v1h-1zM7 77h1v1h-1zM6 78h2v1h-2zM0 79h1v1h-1zM6 81h1v1h-1zM5 82h1v1h-1zM8 82h1v1h-1zM6 84h1v1h-1zM2 92h1v1h-1zM8 92h1v1h-1zM8 96h1v1h-1zM2 97h1v1h-1zM6 97h1v1h-1zM0 99h1v1h-1zM8 99h1v1h-1zM6 101h1v1h-1zM8 101h1v1h-1zM0 102h1v1h-1zM0 103h1v1h-1zM8 107h1v1h-1z"/>
<path fill="#ded6eb" d="M8 0h1v1h-1zM7 4h1v1h-1zM4 5h1v1h-1zM5 7h1v1h-1zM7 9h1v1h-1zM7 11h1v1h-1zM7 13h1v1h-1zM3 18h1v1h-1zM4 21h1v1h-1zM1 23h2v1h-2zM6 23h1v1h-1zM7 24h1v1h-1zM3 25h1v1h-1zM5 25h1v1h-1zM2 27h2v1h-2zM8 27h1v1h-1zM4 29h1v1h-1zM6 29h1v1h-1zM3 31h2v1h-2zM6 32h1v1h-1zM2 33h1v1h-1zM4 33h2v1h-2zM7 33h2v1h-2zM3 34h1v1h-1zM5 34h1v1h-1zM7 35h1v1h-1zM3 37h1v1h-1zM5 37h1v1h-1zM8 38h1v1h-1zM6 39h1v1h-1zM7 40h1v1h-1zM7 42h1v1h-1zM5 43h1v1h-1zM2 44h1v1h-1zM7 44h1v1h-1zM4 45h1v1h-1zM8 46h1v1h-1zM1 48h2v1h-2zM6 49h1v1h-1zM8 49h1v1h-1zM8 50h1v1h-1zM3 51h1v1h-1zM8 51h1v1h-1zM6 52h1v1h-1zM7 54h1v1h-1zM2 56h1v1h-1zM4 59h1v1h-1zM6 59h1v1h-1zM8 59h1v1h-1zM3 60h1v1h-1zM5 60h1v1h-1zM0 61h3v1h-3zM7 61h1v1h-1zM4 62h1v1h-1zM6 62h1v1h-1zM8 62h1v1h-1zM6 64h1v1h-1zM8 66h1v1h-1zM1 67h1v1h-1zM4 68h1v1h-1zM2 69h1v1h-1zM4 71h2v1h-2zM8 71h1v1h-1zM6 72h1v1h-1zM1 73h1v1h-1zM4 73h1v1h-1zM1 74h1v1h-1zM5 76h3v1h-3zM1 79h1v1h-1zM7 79h1v1h-1zM5 80h1v1h-1zM8 80h1v1h-1zM6 82h1v1h-1zM4 83h1v1h-1zM8 84h1v1h-1zM0 86h1v1h-1zM2 86h1v1h-1zM0 93h2v1h-2zM0 94h3v1h-3zM2 95h1v1h-1zM0 97h1v1h-1zM1 99h1v1h-1zM8 100h1v1h-1zM1 102h2v1h-2zM1 103h1v1h-1z"/>
<path fill="#e9e4f2" d="M3 0h4v1h-4zM7 1h1v1h-1zM8 2h1v1h-1zM3 4h2v1h-2zM3 5h1v1h-1zM5 5h1v1h-1zM6 6h1v1h-1zM7 7h1v1h-1zM1 9h1v1h-1zM5 10h1v1h-1zM7 10h1v1h-1zM3 12h2v1h-2zM4 13h2v1h-2zM6 14h1v1h-1zM8 14h1v1h-1zM6 15h2v1h-2zM4 18h2v1h-2zM3 19h2v1h-2zM3 20h1v1h-1zM6 20h1v1h-1zM7 22h1v1h-1zM0 23h1v1h-1zM8 23h1v1h-1zM3 26h1v1h-1zM5 26h1v1h-1zM7 26h1v1h-1zM6 27h1v1h-1zM6 28h1v1h-1zM0 29h1v1h-1zM2 29h2v1h-2zM8 29h1v1h-1zM2 32h1v1h-1zM8 32h1v1h-1zM1 33h1v1h-1zM6 33h1v1h-1zM4 34h1v1h-1zM4 35h1v1h-1zM7 37h1v1h-1zM3 38h2v1h-2zM0 39h1v1h-1zM2 39h1v1h-1zM8 39h1v1h-1zM3 40h1v1h-1zM5 40h1v1h-1zM3 42h1v1h-1zM1 45h1v1h-1zM3 45h1v1h-1zM6 45h1v1h-1zM8 45h1v1h-1zM4 47h2v1h-2zM8 47h1v1h-1zM4 49h1v1h-1zM0 50h1v1h-1zM2 50h1v1h-1zM6 50h1v1h-1zM3 53h2v1h-2zM6 53h1v1h-1zM3 54h1v1h-1zM0 56h2v1h-2zM3 57h3v1h-3zM4 58h1v1h-1zM3 59h1v1h-1zM4 60h1v1h-1zM5 62h1v1h-1zM3 63h3v1h-3zM8 63h1v1h-1zM8 64h1v1h-1zM6 65h1v1h-1zM8 65h1v1h-1zM0 66h1v1h-1zM5 66h1v1h-1zM0 67h1v1h-1zM3 67h3v1h-3zM7 67h1v1h-1zM7 68h1v1h-1zM0 69h1v1h-1zM8 69h1v1h-1zM6 70h1v1h-1zM6 71h1v1h-1zM2 73h1v1h-1zM3 74h1v1h-1zM1 75h1v1h-1zM4 75h1v1h-1zM3 76h1v1h-1zM8 77h1v1h-1zM2 80h3v1h-3zM6 80h1v1h-1zM8 81h1v1h-1zM3 82h2v1h-2zM3 83h1v1h-1zM0 84h1v1h-1zM0 85h2v1h-2zM1 86h1v1h-1zM1 87h1v1h-1zM2 89h1v1h-1zM2 93h1v1h-1zM0 95h1v1h-1zM0 96h3v1h-3zM2 100h1v1h-1zM0 101h2v1h-2zM2 104h1v1h-1zM0 105h1v1h-1z"/>
<path fill="#f4f1f8" d="M5 2h2v1h-2zM0 3h1v1h-1zM3 3h1v1h-1zM7 3h1v1h-1zM5 4h2v1h-2zM1 5h1v1h-1zM7 5h1v1h-1zM8 6h1v1h-1zM1 7h1v1h-1zM4 7h1v1h-1zM3 8h1v1h-1zM7 8h1v1h-1zM0 9h1v1h-1zM5 9h2v1h-2zM8 9h1v1h-1zM2 10h1v1h-1zM6 10h1v1h-1zM4 11h1v1h-1zM1 14h1v1h-1zM0 15h1v1h-1zM3 15h2v1h-2zM3 16h1v1h-1zM5 16h1v1h-1zM4 17h3v1h-3zM8 17h1v1h-1zM1 19h2v1h-2zM5 19h2v1h-2zM0 20h1v1h-1zM5 20h1v1h-1zM2 21h1v1h-1zM0 22h5v1h-5zM3 23h1v1h-1zM5 23h1v1h-1zM7 25h1v1h-1zM0 26h1v1h-1zM4 26h1v1h-1zM6 26h1v1h-1zM4 27h2v1h-2zM8 30h1v1h-1zM0 32h1v1h-1zM0 34h1v1h-1zM6 34h1v1h-1zM8 34h1v1h-1zM5 35h1v1h-1zM8 35h1v1h-1zM2 36h1v1h-1zM5 36h2v1h-2zM5 38h1v1h-1zM0 40h2v1h-2zM4 40h1v1h-1zM6 40h1v1h-1zM7 41h2v1h-2zM1 42h1v1h-1zM5 42h2v1h-2zM3 43h2v1h-2zM3 44h3v1h-3zM2 45h1v1h-1zM0 46h1v1h-1zM2 47h2v1h-2zM1 49h2v1h-2zM5 49h1v1h-1zM1 50h1v1h-1zM1 51h1v1h-1zM6 51h1v1h-1zM2 53h1v1h-1zM8 53h1v1h-1zM5 54h1v1h-1zM1 57h1v1h-1zM5 58h1v1h-1zM5 59h1v1h-1zM0 60h1v1h-1zM2 60h1v1h-1zM3 61h1v1h-1zM8 61h1v1h-1zM1 66h2v1h-2zM6 66h1v1h-1zM8 67h1v1h-1zM0 68h1v1h-1zM1 69h1v1h-1zM3 69h1v1h-1zM1 70h1v1h-1zM1 71h2v1h-2zM8 72h1v1h-1zM0 74h1v1h-1zM2 74h1v1h-1zM4 74h1v1h-1zM2 75h2v1h-2zM6 75h1v1h-1zM8 75h1v1h-1zM4 76h1v1h-1zM4 77h1v1h-1zM1 78h1v1h-1zM3 78h2v1h-2zM8 78h1v1h-1zM3 79h1v1h-1zM0 80h2v1h-2zM2 81h4v1h-4zM2 82h1v1h-1zM5 84h1v1h-1zM0 87h1v1h-1zM2 87h1v1h-1zM1 90h2v1h-2zM1 91h1v1h-1zM0 100h2v1h-2zM2 103h1v1h-1zM0 104h2v1h-2zM2 105h1v1h-1z"/>
<path fill="#fef6f3" d="M0 1h1v1h-1zM3 1h1v1h-1zM8 1h1v1h-1zM4 2h1v1h-1zM1 3h1v1h-1zM4 3h1v1h-1zM2 4h1v1h-1zM8 4h1v1h-1zM2 5h1v1h-1zM6 5h1v1h-1zM8 5h1v1h-1zM2 6h1v1h-1zM5 6h1v1h-1zM8 7h1v1h-1zM5 8h2v1h-2zM8 8h1v1h-1zM4 10h1v1h-1zM8 10h1v1h-1zM2 11h1v1h-1zM5 11h1v1h-1zM5 12h1v1h-1zM8 13h1v1h-1zM2 14h1v1h-1zM4 14h1v1h-1zM1 15h2v1h-2zM2 16h1v1h-1zM4 16h1v1h-1zM6 16h1v1h-1zM8 16h1v1h-1zM0 17h1v1h-1zM3 21h1v1h-1zM6 21h1v1h-1zM8 21h1v1h-1zM5 22h2v1h-2zM8 22h1v1h-1zM4 23h1v1h-1zM0 24h1v1h-1zM2 25h1v1h-1zM8 26h1v1h-1zM2 28h2v1h-2zM5 28h1v1h-1zM1 29h1v1h-1zM4 30h1v1h-1zM0 31h1v1h-1zM2 31h1v1h-1zM1 32h1v1h-1zM3 32h1v1h-1zM6 35h1v1h-1zM1 36h1v1h-1zM8 36h1v1h-1zM1 37h1v1h-1zM8 37h1v1h-1zM0 38h1v1h-1zM1 39h1v1h-1zM2 40h1v1h-1zM0 41h2v1h-2zM0 42h1v1h-1zM4 42h1v1h-1zM8 44h1v1h-1zM1 46h2v1h-2zM4 46h1v1h-1zM0 47h2v1h-2zM4 52h1v1h-1zM1 53h1v1h-1zM5 53h1v1h-1zM2 54h1v1h-1zM3 55h2v1h-2zM6 57h1v1h-1zM1 58h1v1h-1zM0 59h1v1h-1zM2 62h1v1h-1zM0 63h1v1h-1zM4 64h1v1h-1zM0 65h3v1h-3zM4 65h1v1h-1zM6 67h1v1h-1zM6 68h1v1h-1zM8 68h1v1h-1zM5 69h1v1h-1zM8 70h1v1h-1zM1 72h1v1h-1zM5 72h1v1h-1zM5 74h1v1h-1zM2 76h1v1h-1zM5 78h1v1h-1zM4 79h3v1h-3zM0 82h1v1h-1zM1 83h2v1h-2zM0 89h1v1h-1zM2 91h1v1h-1zM1 98h1v1h-1zM2 106h1v1h-1zM0 107h1v1h-1z"/>
<path fill="#fdeee7" d="M0 0h2v1h-2zM1 1h1v1h-1zM5 1h1v1h-1zM0 2h1v1h-1zM5 3h2v1h-2zM1 4h1v1h-1zM0 5h1v1h-1zM3 6h1v1h-1zM0 8h1v1h-1zM2 8h1v1h-1zM0 12h1v1h-1zM8 12h1v1h-1zM1 13h2v1h-2zM5 14h1v1h-1zM0 18h1v1h-1zM8 19h1v1h-1zM1 24h1v1h-1zM6 24h1v1h-1zM0 25h2v1h-2zM6 25h1v1h-1zM0 28h1v1h-1zM5 30h1v1h-1zM1 31h1v1h-1zM5 32h1v1h-1zM0 37h1v1h-1zM6 37h1v1h-1zM1 38h1v1h-1zM2 41h2v1h-2zM5 41h2v1h-2zM0 43h1v1h-1zM2 43h1v1h-1zM0 45h1v1h-1zM4 54h1v1h-1zM1 55h1v1h-1zM2 58h1v1h-1zM6 69h1v1h-1zM3 72h1v1h-1zM7 73h2v1h-2zM1 76h1v1h-1zM0 77h1v1h-1zM2 77h1v1h-1zM1 88h1v1h-1zM2 101h1v1h-1zM1 106h1v1h-1z"/>
<path fill="#fce5db" d="M2 0h1v1h-1zM2 1h1v1h-1zM2 3h1v1h-1zM0 4h1v1h-1zM3 11h1v1h-1zM1 12h1v1h-1zM1 16h1v1h-1zM1 18h2v1h-2zM6 18h1v1h-1zM2 24h1v1h-1zM3 30h1v1h-1zM2 38h1v1h-1zM4 48h1v1h-1zM1 59h1v1h-1zM1 62h1v1h-1zM4 72h1v1h-1zM0 83h1v1h-1z"/>
<path fill="#fbdccf" d="M1 2h2v1h-2zM0 13h1v1h-1zM3 14h1v1h-1zM8 18h1v1h-1zM4 41h1v1h-1zM3 48h1v1h-1zM5 48h1v1h-1zM0 58h1v1h-1zM0 62h1v1h-1zM6 73h1v1h-1zM0 76h1v1h-1z"/>
</g></g>
<rect x="411.90" y="277.60" width="87.60" height="46.50" fill="#f9f7fb" stroke="none" stroke-width="0" />
<g filter="url(#hmb)"><g transform="translate(411.90,277.60) scale(9.7333,1.0568)">
<path fill="#8970b8" d="M5 32h1v1h-1zM5 39h1v1h-1z"/>
<path fill="#9276bc" d="M4 32h1v1h-1zM3 33h1v1h-1zM3 39h2v1h-2zM4 41h1v1h-1zM5 42h1v1h-1z"/>
<path fill="#9d84c3" d="M3 32h1v1h-1zM4 33h1v1h-1zM3 34h2v1h-2zM4 36h1v1h-1zM5 38h1v1h-1zM3 41h1v1h-1zM4 42h1v1h-1zM3 43h1v1h-1zM5 43h1v1h-1z"/>
<path fill="#a891c9" d="M5 33h1v1h-1zM3 36h1v1h-1zM5 36h1v1h-1zM3 38h1v1h-1zM7 39h1v1h-1zM5 41h1v1h-1zM4 43h1v1h-1z"/>
<path fill="#b39fd0" d="M7 13h1v1h-1zM3 26h1v1h-1zM8 32h1v1h-1zM5 34h1v1h-1zM4 38h1v1h-1zM8 39h1v1h-1zM3 40h1v1h-1zM3 42h1v1h-1z"/>
<path fill="#beadd7" d="M3 5h3v1h-3zM8 13h1v1h-1zM3 31h3v1h-3zM6 32h1v1h-1zM5 35h1v1h-1zM8 35h1v1h-1zM6 36h1v1h-1zM3 37h3v1h-3zM8 37h1v1h-1zM6 38h2v1h-2zM6 39h1v1h-1zM4 40h1v1h-1z"/>
<path fill="#c8bade" d="M8 2h1v1h-1zM0 8h1v1h-1zM6 13h1v1h-1zM3 18h1v1h-1zM5 18h1v1h-1zM5 26h1v1h-1zM3 27h1v1h-1zM5 27h1v1h-1zM7 28h1v1h-1zM1 32h1v1h-1zM3 35h1v1h-1zM6 35h2v1h-2zM6 37h2v1h-2zM8 38h1v1h-1zM5 40h1v1h-1zM7 40h1v1h-1zM6 41h1v1h-1zM8 41h1v1h-1zM6 42h1v1h-1zM6 43h2v1h-2z"/>
<path fill="#d3c8e4" d="M1 0h1v1h-1zM3 2h4v1h-4zM5 3h1v1h-1zM4 4h1v1h-1zM6 4h1v1h-1zM1 7h1v1h-1zM1 8h1v1h-1zM8 8h1v1h-1zM5 12h1v1h-1zM4 13h1v1h-1zM2 14h1v1h-1zM5 17h1v1h-1zM4 26h1v1h-1zM4 27h1v1h-1zM6 28h1v1h-1zM6 29h2v1h-2zM7 32h1v1h-1zM1 33h2v1h-2zM6 33h1v1h-1zM8 33h1v1h-1zM6 34h1v1h-1zM8 34h1v1h-1zM7 36h2v1h-2zM0 37h1v1h-1zM2 38h1v1h-1zM2 40h1v1h-1zM6 40h1v1h-1zM7 41h1v1h-1zM7 42h2v1h-2z"/>
<path fill="#ded6eb" d="M4 0h1v1h-1zM8 1h1v1h-1zM0 6h1v1h-1zM5 7h1v1h-1zM2 8h2v1h-2zM6 8h1v1h-1zM6 9h1v1h-1zM8 9h1v1h-1zM6 10h1v1h-1zM8 10h1v1h-1zM4 12h1v1h-1zM0 14h2v1h-2zM4 14h1v1h-1zM7 15h1v1h-1zM3 16h3v1h-3zM4 17h1v1h-1zM4 18h1v1h-1zM4 19h1v1h-1zM8 21h1v1h-1zM8 22h1v1h-1zM1 23h1v1h-1zM3 23h2v1h-2zM6 24h1v1h-1zM7 25h1v1h-1zM8 28h1v1h-1zM8 29h1v1h-1zM6 30h1v1h-1zM1 31h1v1h-1zM6 31h1v1h-1zM8 31h1v1h-1zM0 32h1v1h-1zM2 32h1v1h-1zM7 33h1v1h-1zM7 34h1v1h-1zM0 35h3v1h-3zM4 35h1v1h-1zM2 36h1v1h-1zM0 39h1v1h-1zM8 40h1v1h-1zM0 42h1v1h-1zM8 43h1v1h-1z"/>
<path fill="#e9e4f2" d="M2 0h1v1h-1zM5 0h2v1h-2zM1 1h1v1h-1zM6 1h2v1h-2zM7 2h1v1h-1zM3 3h2v1h-2zM1 4h2v1h-2zM7 4h2v1h-2zM8 5h1v1h-1zM1 6h2v1h-2zM8 6h1v1h-1zM0 7h1v1h-1zM2 7h2v1h-2zM5 8h1v1h-1zM7 8h1v1h-1zM5 9h1v1h-1zM7 9h1v1h-1zM3 10h1v1h-1zM7 10h1v1h-1zM2 11h1v1h-1zM8 11h1v1h-1zM6 12h1v1h-1zM8 12h1v1h-1zM3 13h1v1h-1zM5 13h1v1h-1zM5 14h1v1h-1zM0 15h1v1h-1zM2 15h1v1h-1zM6 15h1v1h-1zM6 18h1v1h-1zM8 18h1v1h-1zM5 19h1v1h-1zM8 19h1v1h-1zM3 20h1v1h-1zM5 20h1v1h-1zM7 20h2v1h-2zM3 21h5v1h-5zM0 22h2v1h-2zM5 23h1v1h-1zM3 24h1v1h-1zM8 24h1v1h-1zM8 25h1v1h-1zM1 29h1v1h-1zM0 30h1v1h-1zM0 31h1v1h-1zM7 31h1v1h-1zM0 33h1v1h-1zM1 34h2v1h-2zM0 36h2v1h-2zM1 37h2v1h-2zM0 38h1v1h-1zM1 39h1v1h-1zM0 40h2v1h-2z"/>
<path fill="#f4f1f8" d="M0 0h1v1h-1zM8 0h1v1h-1zM5 1h1v1h-1zM2 2h1v1h-1zM0 4h1v1h-1zM3 4h1v1h-1zM0 5h1v1h-1zM2 5h1v1h-1zM7 6h1v1h-1zM4 7h1v1h-1zM4 8h1v1h-1zM3 9h2v1h-2zM4 10h1v1h-1zM0 11h1v1h-1zM5 11h1v1h-1zM7 11h1v1h-1zM1 12h3v1h-3zM7 12h1v1h-1zM1 15h1v1h-1zM3 15h1v1h-1zM8 15h1v1h-1zM0 17h1v1h-1zM3 17h1v1h-1zM0 18h1v1h-1zM7 18h1v1h-1zM0 19h1v1h-1zM3 19h1v1h-1zM7 19h1v1h-1zM0 20h1v1h-1zM6 20h1v1h-1zM2 22h1v1h-1zM6 22h2v1h-2zM6 23h1v1h-1zM1 24h1v1h-1zM5 24h1v1h-1zM6 25h1v1h-1zM2 26h1v1h-1zM0 27h2v1h-2zM7 27h1v1h-1zM0 28h3v1h-3zM4 28h1v1h-1zM0 29h1v1h-1zM1 30h4v1h-4zM7 30h2v1h-2zM2 31h1v1h-1zM0 34h1v1h-1zM1 38h1v1h-1zM2 39h1v1h-1zM2 42h1v1h-1zM2 43h1v1h-1z"/>
<path fill="#fef6f3" d="M0 1h1v1h-1zM0 3h3v1h-3zM7 3h2v1h-2zM3 6h1v1h-1zM6 7h2v1h-2zM1 9h2v1h-2zM0 10h1v1h-1zM2 10h1v1h-1zM1 11h1v1h-1zM0 13h2v1h-2zM6 16h3v1h-3zM1 17h1v1h-1zM7 17h1v1h-1zM1 18h2v1h-2zM4 20h1v1h-1zM0 21h3v1h-3zM3 22h1v1h-1zM0 23h1v1h-1zM2 23h1v1h-1zM8 23h1v1h-1zM0 24h1v1h-1zM0 25h2v1h-2zM4 25h1v1h-1zM0 26h1v1h-1zM6 26h1v1h-1zM8 27h1v1h-1zM3 29h2v1h-2zM2 41h1v1h-1zM1 43h1v1h-1z"/>
<path fill="#fdeee7" d="M3 1h1v1h-1zM6 3h1v1h-1zM4 6h1v1h-1zM0 9h1v1h-1zM1 10h1v1h-1zM6 14h1v1h-1zM5 22h1v1h-1zM3 28h1v1h-1zM0 41h2v1h-2z"/>
<path fill="#fce5db" d="M0 2h1v1h-1zM2 13h1v1h-1zM8 17h1v1h-1zM2 25h1v1h-1z"/>
</g></g>
<text x="416.47" y="334.20" font-size="8.2" font-weight="normal" font-style="normal" fill="#2a2a2a" text-anchor="middle" stroke="#2a2a2a" stroke-width="0.08" >1</text>
<text x="426.20" y="334.20" font-size="8.2" font-weight="normal" font-style="normal" fill="#2a2a2a" text-anchor="middle" stroke="#2a2a2a" stroke-width="0.08" >2</text>
<text x="435.93" y="334.20" font-size="8.2" font-weight="normal" font-style="normal" fill="#2a2a2a" text-anchor="middle" stroke="#2a2a2a" stroke-width="0.08" >3</text>
<line x1="412.30" y1="336.90" x2="440.50" y2="336.90" stroke="#222" stroke-width="1.6" />
<text x="412.50" y="345.30" font-size="8.2" font-weight="normal" font-style="normal" fill="#2a2a2a" text-anchor="start" stroke="#2a2a2a" stroke-width="0.08" textLength="22.20" lengthAdjust="spacingAndGlyphs" >5.5hpf</text>
<text x="445.67" y="334.20" font-size="8.2" font-weight="normal" font-style="normal" fill="#2a2a2a" text-anchor="middle" stroke="#2a2a2a" stroke-width="0.08" >1</text>
<text x="455.40" y="334.20" font-size="8.2" font-weight="normal" font-style="normal" fill="#2a2a2a" text-anchor="middle" stroke="#2a2a2a" stroke-width="0.08" >2</text>
<text x="465.13" y="334.20" font-size="8.2" font-weight="normal" font-style="normal" fill="#2a2a2a" text-anchor="middle" stroke="#2a2a2a" stroke-width="0.08" >3</text>
<line x1="441.50" y1="336.90" x2="469.70" y2="336.90" stroke="#222" stroke-width="1.6" />
<text x="441.70" y="345.30" font-size="8.2" font-weight="normal" font-style="normal" fill="#2a2a2a" text-anchor="start" stroke="#2a2a2a" stroke-width="0.08" textLength="22.20" lengthAdjust="spacingAndGlyphs" >6.5hpf</text>
<text x="474.87" y="334.20" font-size="8.2" font-weight="normal" font-style="normal" fill="#2a2a2a" text-anchor="middle" stroke="#2a2a2a" stroke-width="0.08" >1</text>
<text x="484.60" y="334.20" font-size="8.2" font-weight="normal" font-style="normal" fill="#2a2a2a" text-anchor="middle" stroke="#2a2a2a" stroke-width="0.08" >2</text>
<text x="494.33" y="334.20" font-size="8.2" font-weight="normal" font-style="normal" fill="#2a2a2a" text-anchor="middle" stroke="#2a2a2a" stroke-width="0.08" >3</text>
<line x1="470.70" y1="336.90" x2="498.90" y2="336.90" stroke="#222" stroke-width="1.6" />
<text x="470.90" y="345.30" font-size="8.2" font-weight="normal" font-style="normal" fill="#2a2a2a" text-anchor="start" stroke="#2a2a2a" stroke-width="0.08" textLength="22.20" lengthAdjust="spacingAndGlyphs" >7.5hpf</text>
<text x="562.00" y="125.60" font-size="8.8" font-weight="normal" font-style="normal" fill="#222" text-anchor="middle" stroke="#222" stroke-width="0.28" textLength="42.80" lengthAdjust="spacingAndGlyphs" >Kmt2b MO</text>
<rect x="517.30" y="130.20" width="87.20" height="29.30" fill="#f9f7fb" stroke="none" stroke-width="0" />
<g filter="url(#hmb)"><g transform="translate(517.30,130.20) scale(9.6889,1.0464)">
<path fill="#665aa9" d="M4 24h1v1h-1z"/>
<path fill="#6f60ad" d="M3 12h1v1h-1zM5 23h1v1h-1zM3 24h1v1h-1zM5 24h1v1h-1z"/>
<path fill="#7865b1" d="M4 12h1v1h-1z"/>
<path fill="#806bb4" d="M5 10h1v1h-1zM5 11h1v1h-1zM3 17h1v1h-1zM3 23h2v1h-2zM3 25h1v1h-1z"/>
<path fill="#8970b8" d="M4 10h1v1h-1zM3 11h1v1h-1zM5 12h1v1h-1zM3 13h1v1h-1zM4 14h1v1h-1zM3 16h1v1h-1zM5 16h1v1h-1zM3 18h1v1h-1zM4 20h1v1h-1zM4 22h1v1h-1zM4 26h1v1h-1z"/>
<path fill="#9276bc" d="M7 0h2v1h-2zM3 9h1v1h-1zM3 10h1v1h-1zM4 11h1v1h-1zM5 13h1v1h-1zM3 14h1v1h-1zM5 14h1v1h-1zM4 16h1v1h-1zM4 17h2v1h-2zM4 18h2v1h-2zM5 20h1v1h-1zM3 21h2v1h-2zM3 22h1v1h-1zM5 22h1v1h-1zM4 25h1v1h-1zM6 27h1v1h-1z"/>
<path fill="#9d84c3" d="M4 9h2v1h-2zM7 14h1v1h-1zM4 15h1v1h-1zM3 20h1v1h-1zM5 21h1v1h-1zM5 25h1v1h-1zM3 26h1v1h-1zM5 26h1v1h-1zM4 27h1v1h-1z"/>
<path fill="#a891c9" d="M6 0h1v1h-1zM3 1h1v1h-1zM6 1h2v1h-2zM4 2h1v1h-1zM4 13h1v1h-1zM3 15h1v1h-1zM5 15h1v1h-1zM4 19h1v1h-1zM7 19h2v1h-2zM6 21h3v1h-3zM6 22h1v1h-1zM8 22h1v1h-1zM6 25h1v1h-1zM3 27h1v1h-1zM5 27h1v1h-1zM7 27h2v1h-2z"/>
<path fill="#b39fd0" d="M4 1h2v1h-2zM5 2h1v1h-1zM7 2h2v1h-2zM7 4h1v1h-1zM4 5h2v1h-2zM6 9h1v1h-1zM8 9h1v1h-1zM8 11h1v1h-1zM8 12h1v1h-1zM8 14h1v1h-1zM8 15h1v1h-1zM7 16h2v1h-2zM6 18h1v1h-1zM3 19h1v1h-1zM6 19h1v1h-1zM7 22h1v1h-1zM8 25h1v1h-1z"/>
<path fill="#beadd7" d="M8 1h1v1h-1zM3 2h1v1h-1zM6 2h1v1h-1zM3 6h2v1h-2zM3 7h1v1h-1zM8 7h1v1h-1zM7 9h1v1h-1zM7 12h1v1h-1zM6 15h1v1h-1zM8 18h1v1h-1zM5 19h1v1h-1zM7 20h1v1h-1zM6 24h2v1h-2zM7 25h1v1h-1z"/>
<path fill="#c8bade" d="M3 0h1v1h-1zM6 4h1v1h-1zM8 4h1v1h-1zM3 5h1v1h-1zM5 6h1v1h-1zM4 7h1v1h-1zM6 7h2v1h-2zM6 10h1v1h-1zM7 11h1v1h-1zM6 12h1v1h-1zM7 13h1v1h-1zM6 14h1v1h-1zM7 15h1v1h-1zM6 16h1v1h-1zM7 17h2v1h-2zM6 20h1v1h-1zM8 20h1v1h-1zM8 23h1v1h-1zM8 24h1v1h-1zM0 25h2v1h-2zM6 26h1v1h-1z"/>
<path fill="#d3c8e4" d="M4 0h1v1h-1zM7 6h1v1h-1zM0 7h1v1h-1zM5 7h1v1h-1zM3 8h1v1h-1zM6 8h1v1h-1zM1 9h2v1h-2zM7 10h2v1h-2zM6 11h1v1h-1zM0 12h1v1h-1zM6 13h1v1h-1zM6 17h1v1h-1zM7 18h1v1h-1zM1 23h1v1h-1zM7 23h1v1h-1zM7 26h2v1h-2z"/>
<path fill="#ded6eb" d="M5 0h1v1h-1zM3 3h3v1h-3zM3 4h3v1h-3zM8 5h1v1h-1zM6 6h1v1h-1zM8 6h1v1h-1zM1 7h1v1h-1zM0 8h1v1h-1zM7 8h1v1h-1zM0 9h1v1h-1zM1 12h2v1h-2zM8 13h1v1h-1zM0 15h1v1h-1zM1 18h1v1h-1zM2 23h1v1h-1zM6 23h1v1h-1zM1 24h1v1h-1z"/>
<path fill="#e9e4f2" d="M1 2h1v1h-1zM8 3h1v1h-1zM6 5h1v1h-1zM0 6h1v1h-1zM2 6h1v1h-1zM1 8h2v1h-2zM5 8h1v1h-1zM8 8h1v1h-1zM0 10h1v1h-1zM0 11h3v1h-3zM0 13h3v1h-3zM2 14h1v1h-1zM2 15h1v1h-1zM0 16h2v1h-2zM2 18h1v1h-1zM0 19h1v1h-1zM2 19h1v1h-1zM2 25h1v1h-1zM2 26h1v1h-1zM0 27h1v1h-1zM2 27h1v1h-1z"/>
<path fill="#f4f1f8" d="M1 1h2v1h-2zM7 5h1v1h-1zM2 7h1v1h-1zM4 8h1v1h-1zM1 10h2v1h-2zM0 14h1v1h-1zM1 15h1v1h-1zM2 16h1v1h-1zM1 17h2v1h-2zM0 18h1v1h-1zM2 20h1v1h-1zM0 21h1v1h-1zM0 23h1v1h-1zM0 24h1v1h-1zM2 24h1v1h-1zM0 26h2v1h-2z"/>
<path fill="#fef6f3" d="M0 1h1v1h-1zM2 2h1v1h-1zM0 3h2v1h-2zM0 4h1v1h-1zM0 22h1v1h-1zM1 27h1v1h-1z"/>
<path fill="#fdeee7" d="M1 4h1v1h-1zM2 5h1v1h-1zM1 21h1v1h-1z"/>
<path fill="#fce5db" d="M0 5h1v1h-1z"/>
</g></g>
<rect x="517.30" y="161.60" width="87.20" height="113.70" fill="#f9f7fb" stroke="none" stroke-width="0" />
<g filter="url(#hmb)"><g transform="translate(517.30,161.60) scale(9.6889,1.0528)">
<path fill="#7865b1" d="M4 90h1v1h-1zM3 92h1v1h-1z"/>
<path fill="#806bb4" d="M3 90h1v1h-1zM5 90h2v1h-2zM4 92h1v1h-1z"/>
<path fill="#8970b8" d="M8 90h1v1h-1zM5 92h1v1h-1zM3 94h1v1h-1zM4 105h2v1h-2z"/>
<path fill="#9276bc" d="M7 90h1v1h-1zM5 106h1v1h-1zM5 107h1v1h-1z"/>
<path fill="#9d84c3" d="M3 85h1v1h-1zM3 88h2v1h-2zM8 88h1v1h-1zM5 91h1v1h-1zM4 94h2v1h-2zM7 99h2v1h-2zM4 104h1v1h-1zM3 105h1v1h-1zM4 106h1v1h-1zM3 107h1v1h-1z"/>
<path fill="#a891c9" d="M7 38h1v1h-1zM5 85h1v1h-1zM4 87h2v1h-2zM5 88h2v1h-2zM3 89h1v1h-1zM7 91h1v1h-1zM3 93h3v1h-3zM7 93h1v1h-1zM3 95h3v1h-3zM8 98h1v1h-1zM3 99h1v1h-1zM5 99h2v1h-2zM4 100h2v1h-2zM3 101h1v1h-1zM4 102h1v1h-1zM3 106h1v1h-1zM6 106h3v1h-3zM4 107h1v1h-1z"/>
<path fill="#b39fd0" d="M8 19h1v1h-1zM7 69h1v1h-1zM4 71h1v1h-1zM3 74h1v1h-1zM5 74h1v1h-1zM3 87h1v1h-1zM4 89h1v1h-1zM4 91h1v1h-1zM6 93h1v1h-1zM8 93h1v1h-1zM8 94h1v1h-1zM8 96h1v1h-1zM3 97h1v1h-1zM5 97h1v1h-1zM4 98h1v1h-1zM4 99h1v1h-1zM3 100h1v1h-1zM6 100h3v1h-3zM3 102h1v1h-1zM4 103h1v1h-1zM5 104h1v1h-1zM7 107h2v1h-2z"/>
<path fill="#beadd7" d="M6 19h1v1h-1zM4 21h1v1h-1zM6 44h3v1h-3zM4 45h3v1h-3zM4 58h2v1h-2zM8 69h1v1h-1zM5 71h1v1h-1zM7 75h1v1h-1zM6 82h3v1h-3zM4 85h1v1h-1zM6 85h1v1h-1zM7 86h1v1h-1zM7 87h1v1h-1zM7 88h1v1h-1zM5 89h1v1h-1zM3 91h1v1h-1zM6 91h1v1h-1zM6 94h1v1h-1zM8 95h1v1h-1zM3 96h2v1h-2zM6 96h2v1h-2zM4 97h1v1h-1zM3 98h1v1h-1zM7 98h1v1h-1zM5 101h1v1h-1zM5 102h1v1h-1zM3 104h1v1h-1zM8 104h1v1h-1z"/>
<path fill="#c8bade" d="M7 19h1v1h-1zM8 26h1v1h-1zM4 27h1v1h-1zM8 38h1v1h-1zM8 39h1v1h-1zM8 42h1v1h-1zM8 45h1v1h-1zM5 50h1v1h-1zM7 51h1v1h-1zM3 58h1v1h-1zM7 58h1v1h-1zM6 59h1v1h-1zM8 59h1v1h-1zM6 69h1v1h-1zM3 71h1v1h-1zM4 74h1v1h-1zM7 77h2v1h-2zM5 81h1v1h-1zM3 86h4v1h-4zM8 86h1v1h-1zM6 87h1v1h-1zM8 87h1v1h-1zM7 89h2v1h-2zM8 91h1v1h-1zM7 92h2v1h-2zM7 95h1v1h-1zM5 96h1v1h-1zM5 98h2v1h-2zM4 101h1v1h-1zM6 101h3v1h-3zM6 102h1v1h-1zM8 102h1v1h-1zM3 103h1v1h-1zM5 103h3v1h-3z"/>
<path fill="#d3c8e4" d="M8 0h1v1h-1zM8 17h1v1h-1zM6 20h1v1h-1zM5 21h1v1h-1zM0 26h1v1h-1zM4 26h1v1h-1zM3 27h1v1h-1zM5 27h1v1h-1zM8 29h1v1h-1zM7 31h1v1h-1zM6 33h1v1h-1zM6 38h1v1h-1zM8 41h1v1h-1zM5 42h1v1h-1zM7 45h1v1h-1zM0 47h1v1h-1zM4 48h1v1h-1zM6 48h1v1h-1zM6 50h2v1h-2zM6 52h1v1h-1zM7 53h1v1h-1zM8 54h1v1h-1zM6 58h1v1h-1zM8 58h1v1h-1zM7 59h1v1h-1zM3 61h1v1h-1zM5 61h1v1h-1zM4 64h1v1h-1zM6 66h1v1h-1zM8 70h1v1h-1zM6 72h1v1h-1zM7 74h2v1h-2zM6 75h1v1h-1zM8 75h1v1h-1zM3 77h2v1h-2zM8 78h1v1h-1zM6 79h1v1h-1zM4 80h2v1h-2zM4 81h1v1h-1zM7 94h1v1h-1zM0 95h1v1h-1zM6 95h1v1h-1zM6 97h2v1h-2zM7 102h1v1h-1zM8 103h1v1h-1zM7 104h1v1h-1zM7 105h2v1h-2zM0 106h1v1h-1zM6 107h1v1h-1z"/>
<path fill="#ded6eb" d="M4 1h2v1h-2zM7 1h1v1h-1zM5 2h1v1h-1zM4 3h1v1h-1zM3 5h2v1h-2zM8 11h1v1h-1zM5 12h1v1h-1zM8 13h1v1h-1zM6 17h1v1h-1zM0 21h1v1h-1zM3 21h1v1h-1zM6 21h1v1h-1zM1 25h1v1h-1zM2 26h1v1h-1zM5 26h2v1h-2zM7 27h1v1h-1zM1 28h1v1h-1zM6 29h1v1h-1zM1 31h6v1h-6zM7 33h1v1h-1zM6 36h2v1h-2zM0 37h1v1h-1zM2 37h1v1h-1zM6 37h1v1h-1zM4 38h1v1h-1zM0 39h1v1h-1zM2 39h1v1h-1zM3 40h1v1h-1zM5 41h1v1h-1zM4 42h1v1h-1zM3 45h1v1h-1zM7 46h1v1h-1zM5 48h1v1h-1zM8 48h1v1h-1zM7 49h2v1h-2zM3 50h2v1h-2zM8 50h1v1h-1zM6 51h1v1h-1zM8 51h1v1h-1zM5 52h1v1h-1zM7 52h1v1h-1zM8 53h1v1h-1zM3 54h1v1h-1zM5 54h3v1h-3zM6 64h1v1h-1zM8 64h1v1h-1zM7 65h1v1h-1zM4 66h1v1h-1zM3 68h1v1h-1zM6 70h2v1h-2zM2 71h1v1h-1zM8 72h1v1h-1zM0 74h1v1h-1zM4 75h1v1h-1zM3 76h1v1h-1zM8 76h1v1h-1zM6 77h1v1h-1zM4 78h1v1h-1zM7 79h2v1h-2zM2 82h1v1h-1zM2 85h1v1h-1zM7 85h2v1h-2zM0 86h1v1h-1zM6 89h1v1h-1zM6 92h1v1h-1zM8 97h1v1h-1zM2 105h1v1h-1zM6 105h1v1h-1zM1 106h2v1h-2zM1 107h1v1h-1z"/>
<path fill="#e9e4f2" d="M6 0h1v1h-1zM3 1h1v1h-1zM8 1h1v1h-1zM3 3h1v1h-1zM7 5h2v1h-2zM7 8h1v1h-1zM3 12h1v1h-1zM5 13h1v1h-1zM7 13h1v1h-1zM7 17h1v1h-1zM1 18h5v1h-5zM5 19h1v1h-1zM7 20h2v1h-2zM7 21h2v1h-2zM8 22h1v1h-1zM5 24h1v1h-1zM0 25h1v1h-1zM3 25h3v1h-3zM8 25h1v1h-1zM1 26h1v1h-1zM3 26h1v1h-1zM7 26h1v1h-1zM0 28h1v1h-1zM4 30h1v1h-1zM8 31h1v1h-1zM3 32h1v1h-1zM5 32h1v1h-1zM8 32h1v1h-1zM8 33h1v1h-1zM2 34h1v1h-1zM7 34h2v1h-2zM0 35h4v1h-4zM5 35h1v1h-1zM1 36h4v1h-4zM3 38h1v1h-1zM5 38h1v1h-1zM6 39h2v1h-2zM5 40h1v1h-1zM3 41h2v1h-2zM3 42h1v1h-1zM6 42h2v1h-2zM1 43h1v1h-1zM4 43h1v1h-1zM3 44h1v1h-1zM5 44h1v1h-1zM6 46h1v1h-1zM3 48h1v1h-1zM6 49h1v1h-1zM0 50h1v1h-1zM2 51h1v1h-1zM3 52h2v1h-2zM8 52h1v1h-1zM0 55h3v1h-3zM7 55h1v1h-1zM4 56h1v1h-1zM6 56h1v1h-1zM1 57h1v1h-1zM5 59h1v1h-1zM1 60h1v1h-1zM6 60h1v1h-1zM4 61h1v1h-1zM6 62h1v1h-1zM3 64h1v1h-1zM5 64h1v1h-1zM7 64h1v1h-1zM1 65h1v1h-1zM3 65h1v1h-1zM1 66h1v1h-1zM3 66h1v1h-1zM5 66h1v1h-1zM7 66h2v1h-2zM0 67h1v1h-1zM2 68h1v1h-1zM6 68h3v1h-3zM7 72h1v1h-1zM4 73h1v1h-1zM1 74h2v1h-2zM6 74h1v1h-1zM3 75h1v1h-1zM5 75h1v1h-1zM5 76h1v1h-1zM7 76h1v1h-1zM5 77h1v1h-1zM2 78h1v1h-1zM5 78h2v1h-2zM3 80h1v1h-1zM0 82h1v1h-1zM6 83h2v1h-2zM1 84h1v1h-1zM0 85h2v1h-2zM2 86h1v1h-1zM1 88h1v1h-1zM1 91h2v1h-2zM0 92h3v1h-3zM0 93h1v1h-1zM2 95h1v1h-1zM0 96h3v1h-3zM2 100h1v1h-1zM0 101h1v1h-1zM1 102h1v1h-1zM6 104h1v1h-1zM0 105h1v1h-1zM2 107h1v1h-1z"/>
<path fill="#f4f1f8" d="M1 0h2v1h-2zM7 0h1v1h-1zM0 1h1v1h-1zM2 1h1v1h-1zM6 1h1v1h-1zM0 2h2v1h-2zM3 2h2v1h-2zM7 2h1v1h-1zM5 3h1v1h-1zM3 4h1v1h-1zM8 4h1v1h-1zM0 5h3v1h-3zM5 5h1v1h-1zM7 7h2v1h-2zM1 8h2v1h-2zM6 8h1v1h-1zM4 10h1v1h-1zM2 11h3v1h-3zM1 12h1v1h-1zM4 12h1v1h-1zM7 15h1v1h-1zM1 17h1v1h-1zM6 18h1v1h-1zM3 19h2v1h-2zM3 20h1v1h-1zM1 21h1v1h-1zM6 22h2v1h-2zM0 23h1v1h-1zM2 23h1v1h-1zM4 23h1v1h-1zM6 23h2v1h-2zM2 24h1v1h-1zM4 24h1v1h-1zM6 24h3v1h-3zM2 25h1v1h-1zM6 25h2v1h-2zM2 27h1v1h-1zM6 27h1v1h-1zM2 28h1v1h-1zM7 28h1v1h-1zM0 29h2v1h-2zM7 29h1v1h-1zM0 30h1v1h-1zM6 30h3v1h-3zM0 31h1v1h-1zM1 32h2v1h-2zM4 32h1v1h-1zM0 33h1v1h-1zM2 33h3v1h-3zM4 34h1v1h-1zM6 34h1v1h-1zM4 35h1v1h-1zM5 36h1v1h-1zM8 36h1v1h-1zM5 37h1v1h-1zM8 37h1v1h-1zM2 38h1v1h-1zM3 39h3v1h-3zM4 40h1v1h-1zM6 40h1v1h-1zM0 41h1v1h-1zM6 41h2v1h-2zM0 43h1v1h-1zM2 43h2v1h-2zM5 43h1v1h-1zM1 45h2v1h-2zM0 46h1v1h-1zM2 46h1v1h-1zM4 46h1v1h-1zM8 46h1v1h-1zM1 47h1v1h-1zM7 47h1v1h-1zM1 48h2v1h-2zM0 49h2v1h-2zM3 49h1v1h-1zM1 50h1v1h-1zM0 52h1v1h-1zM2 52h1v1h-1zM0 53h1v1h-1zM2 56h2v1h-2zM8 56h1v1h-1zM2 57h1v1h-1zM8 57h1v1h-1zM3 59h2v1h-2zM0 60h1v1h-1zM3 60h2v1h-2zM0 61h1v1h-1zM2 62h1v1h-1zM7 62h1v1h-1zM0 64h3v1h-3zM6 65h1v1h-1zM8 65h1v1h-1zM0 66h1v1h-1zM2 66h1v1h-1zM1 67h2v1h-2zM0 68h2v1h-2zM5 68h1v1h-1zM1 69h1v1h-1zM4 69h2v1h-2zM2 70h1v1h-1zM0 71h2v1h-2zM6 71h1v1h-1zM1 72h1v1h-1zM0 73h1v1h-1zM2 73h2v1h-2zM5 73h1v1h-1zM8 73h1v1h-1zM1 76h2v1h-2zM0 77h3v1h-3zM0 78h2v1h-2zM3 78h1v1h-1zM3 79h3v1h-3zM0 81h2v1h-2zM1 82h1v1h-1zM0 83h3v1h-3zM0 84h1v1h-1zM2 84h1v1h-1zM4 84h1v1h-1zM8 84h1v1h-1zM0 87h3v1h-3zM0 89h1v1h-1zM0 91h1v1h-1zM2 93h1v1h-1zM0 94h1v1h-1zM1 95h1v1h-1zM2 97h1v1h-1zM1 98h2v1h-2zM0 99h3v1h-3zM1 100h1v1h-1zM1 101h2v1h-2zM0 102h1v1h-1zM2 102h1v1h-1zM0 103h3v1h-3zM0 104h2v1h-2zM0 107h1v1h-1z"/>
<path fill="#fef6f3" d="M3 0h1v1h-1zM1 1h1v1h-1zM6 2h1v1h-1zM8 2h1v1h-1zM1 3h1v1h-1zM8 3h1v1h-1zM1 4h1v1h-1zM7 4h1v1h-1zM6 6h1v1h-1zM2 7h1v1h-1zM0 8h1v1h-1zM3 8h1v1h-1zM8 8h1v1h-1zM4 9h1v1h-1zM3 10h1v1h-1zM8 10h1v1h-1zM1 11h1v1h-1zM6 12h1v1h-1zM3 13h1v1h-1zM2 14h1v1h-1zM1 15h1v1h-1zM5 15h2v1h-2zM8 15h1v1h-1zM1 16h2v1h-2zM4 16h3v1h-3zM0 17h1v1h-1zM4 17h1v1h-1zM1 19h1v1h-1zM0 20h1v1h-1zM2 20h1v1h-1zM5 20h1v1h-1zM2 22h1v1h-1zM5 23h1v1h-1zM1 27h1v1h-1zM4 28h1v1h-1zM6 28h1v1h-1zM5 29h1v1h-1zM1 30h2v1h-2zM0 34h2v1h-2zM3 34h1v1h-1zM0 36h1v1h-1zM0 38h1v1h-1zM0 40h2v1h-2zM7 40h1v1h-1zM1 41h1v1h-1zM8 43h1v1h-1zM0 44h3v1h-3zM1 46h1v1h-1zM3 46h1v1h-1zM8 47h1v1h-1zM0 48h1v1h-1zM4 49h2v1h-2zM1 52h1v1h-1zM0 54h1v1h-1zM2 54h1v1h-1zM1 56h1v1h-1zM7 56h1v1h-1zM1 58h1v1h-1zM0 59h2v1h-2zM2 60h1v1h-1zM8 60h1v1h-1zM1 61h2v1h-2zM6 61h1v1h-1zM8 62h1v1h-1zM6 63h1v1h-1zM4 65h1v1h-1zM4 67h1v1h-1zM7 67h2v1h-2zM1 70h1v1h-1zM3 70h1v1h-1zM8 71h1v1h-1zM4 72h1v1h-1zM1 75h1v1h-1zM4 76h1v1h-1zM0 79h1v1h-1zM2 79h1v1h-1zM0 80h1v1h-1zM7 80h1v1h-1zM6 81h1v1h-1zM8 81h1v1h-1zM4 83h1v1h-1zM1 89h1v1h-1zM0 97h1v1h-1zM0 100h1v1h-1zM2 104h1v1h-1z"/>
<path fill="#fdeee7" d="M4 0h2v1h-2zM6 3h2v1h-2zM0 6h1v1h-1zM1 7h1v1h-1zM3 7h3v1h-3zM4 8h2v1h-2zM5 9h1v1h-1zM1 10h1v1h-1zM5 10h3v1h-3zM5 11h1v1h-1zM7 12h1v1h-1zM0 13h1v1h-1zM1 14h1v1h-1zM6 14h3v1h-3zM0 15h1v1h-1zM2 15h1v1h-1zM3 16h1v1h-1zM0 19h1v1h-1zM1 20h1v1h-1zM5 22h1v1h-1zM1 24h1v1h-1zM5 28h1v1h-1zM4 29h1v1h-1zM3 30h1v1h-1zM6 35h1v1h-1zM8 35h1v1h-1zM1 39h1v1h-1zM2 41h1v1h-1zM6 43h2v1h-2zM4 47h2v1h-2zM3 51h1v1h-1zM1 54h1v1h-1zM6 57h2v1h-2zM2 58h1v1h-1zM5 60h1v1h-1zM3 62h1v1h-1zM3 63h1v1h-1zM7 63h2v1h-2zM3 69h1v1h-1zM7 71h1v1h-1zM3 72h1v1h-1zM5 72h1v1h-1zM7 73h1v1h-1zM2 75h1v1h-1zM7 81h1v1h-1zM5 82h1v1h-1z"/>
<path fill="#fce5db" d="M0 3h1v1h-1zM0 4h1v1h-1zM3 6h2v1h-2zM0 7h1v1h-1zM0 9h1v1h-1zM2 9h1v1h-1zM0 10h1v1h-1zM2 10h1v1h-1zM3 14h2v1h-2zM7 16h2v1h-2zM0 22h2v1h-2zM3 23h1v1h-1zM7 35h1v1h-1zM1 42h2v1h-2zM0 58h1v1h-1zM4 63h2v1h-2zM1 79h1v1h-1zM1 90h1v1h-1z"/>
<path fill="#fbdccf" d="M2 3h1v1h-1zM1 9h1v1h-1zM3 47h1v1h-1zM4 51h2v1h-2zM0 90h1v1h-1zM2 90h1v1h-1z"/>
<path fill="#fad4c3" d="M5 14h1v1h-1z"/>
<path fill="#f8cbb7" d="M0 42h1v1h-1z"/>
</g></g>
<rect x="517.30" y="277.60" width="87.20" height="46.50" fill="#f9f7fb" stroke="none" stroke-width="0" />
<g filter="url(#hmb)"><g transform="translate(517.30,277.60) scale(9.6889,1.0568)">
<path fill="#5d54a5" d="M3 42h3v1h-3z"/>
<path fill="#806bb4" d="M4 39h1v1h-1z"/>
<path fill="#8970b8" d="M5 39h1v1h-1zM4 43h1v1h-1z"/>
<path fill="#9276bc" d="M4 38h1v1h-1zM3 39h1v1h-1zM4 41h1v1h-1zM5 43h1v1h-1z"/>
<path fill="#9d84c3" d="M3 33h1v1h-1zM5 33h1v1h-1zM3 37h1v1h-1zM5 38h1v1h-1zM3 41h1v1h-1zM3 43h1v1h-1z"/>
<path fill="#a891c9" d="M4 36h4v1h-4zM5 37h1v1h-1zM3 38h1v1h-1z"/>
<path fill="#b39fd0" d="M3 14h1v1h-1zM4 31h1v1h-1zM6 31h1v1h-1zM8 31h1v1h-1zM4 33h1v1h-1zM3 34h2v1h-2zM3 35h1v1h-1zM3 36h1v1h-1zM4 37h1v1h-1zM5 40h1v1h-1zM5 41h1v1h-1zM7 41h1v1h-1z"/>
<path fill="#beadd7" d="M4 14h2v1h-2zM8 20h1v1h-1zM6 29h1v1h-1zM3 31h1v1h-1zM7 31h1v1h-1zM4 32h1v1h-1zM4 35h2v1h-2zM0 36h1v1h-1zM8 36h1v1h-1zM6 37h1v1h-1zM7 39h1v1h-1zM3 40h1v1h-1z"/>
<path fill="#c8bade" d="M7 1h1v1h-1zM3 3h1v1h-1zM7 3h1v1h-1zM4 8h1v1h-1zM1 9h1v1h-1zM2 10h1v1h-1zM2 15h1v1h-1zM6 20h1v1h-1zM4 21h1v1h-1zM7 24h1v1h-1zM7 29h2v1h-2zM6 30h1v1h-1zM5 32h1v1h-1zM6 33h3v1h-3zM5 34h1v1h-1zM7 34h1v1h-1zM7 35h1v1h-1zM6 39h1v1h-1zM8 39h1v1h-1zM4 40h1v1h-1zM6 41h1v1h-1zM8 41h1v1h-1z"/>
<path fill="#d3c8e4" d="M6 1h1v1h-1zM4 3h3v1h-3zM5 8h2v1h-2zM0 9h1v1h-1zM1 10h1v1h-1zM0 11h1v1h-1zM2 16h1v1h-1zM5 19h1v1h-1zM0 21h1v1h-1zM2 21h1v1h-1zM6 21h2v1h-2zM8 22h1v1h-1zM6 24h1v1h-1zM8 24h1v1h-1zM3 28h1v1h-1zM5 29h1v1h-1zM7 30h2v1h-2zM5 31h1v1h-1zM3 32h1v1h-1zM6 32h1v1h-1zM6 34h1v1h-1zM6 35h1v1h-1zM8 35h1v1h-1zM2 36h1v1h-1zM2 37h1v1h-1zM8 38h1v1h-1zM7 42h2v1h-2zM6 43h1v1h-1zM8 43h1v1h-1z"/>
<path fill="#ded6eb" d="M8 1h1v1h-1zM5 2h2v1h-2zM0 4h2v1h-2zM8 6h1v1h-1zM4 7h1v1h-1zM3 8h1v1h-1zM8 8h1v1h-1zM2 9h1v1h-1zM7 9h2v1h-2zM5 13h1v1h-1zM1 15h1v1h-1zM5 17h1v1h-1zM2 18h1v1h-1zM6 18h2v1h-2zM3 19h1v1h-1zM7 20h1v1h-1zM5 21h1v1h-1zM3 22h1v1h-1zM6 22h2v1h-2zM4 23h1v1h-1zM4 24h2v1h-2zM5 25h1v1h-1zM8 25h1v1h-1zM4 27h1v1h-1zM6 27h1v1h-1zM1 28h1v1h-1zM1 29h1v1h-1zM1 30h1v1h-1zM7 32h2v1h-2zM1 33h2v1h-2zM8 34h1v1h-1zM1 36h1v1h-1zM1 37h1v1h-1zM7 37h1v1h-1zM1 38h1v1h-1zM6 38h2v1h-2zM0 39h1v1h-1zM2 39h1v1h-1zM7 40h1v1h-1zM6 42h1v1h-1z"/>
<path fill="#e9e4f2" d="M4 0h1v1h-1zM0 1h1v1h-1zM3 2h2v1h-2zM7 2h1v1h-1zM0 3h1v1h-1zM8 3h1v1h-1zM2 4h1v1h-1zM6 5h1v1h-1zM3 6h1v1h-1zM6 6h2v1h-2zM2 7h2v1h-2zM2 8h1v1h-1zM7 8h1v1h-1zM6 9h1v1h-1zM1 11h1v1h-1zM8 12h1v1h-1zM1 13h1v1h-1zM8 13h1v1h-1zM8 14h1v1h-1zM0 16h2v1h-2zM7 16h1v1h-1zM3 17h1v1h-1zM7 17h1v1h-1zM1 18h1v1h-1zM5 18h1v1h-1zM8 18h1v1h-1zM0 19h3v1h-3zM4 19h1v1h-1zM3 21h1v1h-1zM8 21h1v1h-1zM2 22h1v1h-1zM5 22h1v1h-1zM3 23h1v1h-1zM5 23h1v1h-1zM2 24h2v1h-2zM4 25h1v1h-1zM6 25h2v1h-2zM2 26h1v1h-1zM1 27h1v1h-1zM5 27h1v1h-1zM4 28h1v1h-1zM7 28h1v1h-1zM3 29h2v1h-2zM0 30h1v1h-1zM3 30h2v1h-2zM0 33h1v1h-1zM1 34h1v1h-1zM0 37h1v1h-1zM8 37h1v1h-1zM0 38h1v1h-1zM8 40h1v1h-1zM1 41h2v1h-2zM1 43h1v1h-1zM7 43h1v1h-1z"/>
<path fill="#f4f1f8" d="M2 0h2v1h-2zM5 0h2v1h-2zM8 2h1v1h-1zM2 3h1v1h-1zM0 5h2v1h-2zM7 5h1v1h-1zM1 6h1v1h-1zM4 6h1v1h-1zM0 7h2v1h-2zM5 7h1v1h-1zM7 7h1v1h-1zM0 10h1v1h-1zM3 10h1v1h-1zM5 10h1v1h-1zM2 11h1v1h-1zM6 11h3v1h-3zM1 12h1v1h-1zM3 12h2v1h-2zM7 12h1v1h-1zM2 13h3v1h-3zM6 14h2v1h-2zM0 15h1v1h-1zM8 16h1v1h-1zM6 17h1v1h-1zM0 18h1v1h-1zM6 19h1v1h-1zM2 20h1v1h-1zM1 21h1v1h-1zM0 22h1v1h-1zM8 23h1v1h-1zM1 25h1v1h-1zM0 26h1v1h-1zM3 27h1v1h-1zM2 28h1v1h-1zM5 28h2v1h-2zM8 28h1v1h-1zM0 29h1v1h-1zM2 30h1v1h-1zM5 30h1v1h-1zM2 31h1v1h-1zM0 32h1v1h-1zM0 34h1v1h-1zM2 34h1v1h-1zM0 35h1v1h-1zM1 39h1v1h-1zM2 40h1v1h-1zM6 40h1v1h-1zM0 41h1v1h-1zM0 43h1v1h-1zM2 43h1v1h-1z"/>
<path fill="#fef6f3" d="M1 1h2v1h-2zM4 1h1v1h-1zM1 2h1v1h-1zM4 5h2v1h-2zM0 6h1v1h-1zM2 6h1v1h-1zM8 7h1v1h-1zM0 8h2v1h-2zM4 9h1v1h-1zM4 10h1v1h-1zM6 10h1v1h-1zM8 10h1v1h-1zM3 11h1v1h-1zM5 12h1v1h-1zM4 16h2v1h-2zM0 17h1v1h-1zM2 17h1v1h-1zM0 20h1v1h-1zM4 20h1v1h-1zM1 23h1v1h-1zM6 23h2v1h-2zM1 24h1v1h-1zM4 26h2v1h-2zM8 26h1v1h-1zM0 27h1v1h-1zM8 27h1v1h-1zM2 35h1v1h-1zM1 40h1v1h-1zM1 42h2v1h-2z"/>
<path fill="#fdeee7" d="M6 4h2v1h-2zM4 11h2v1h-2zM7 15h2v1h-2zM3 20h1v1h-1zM5 20h1v1h-1zM3 26h1v1h-1zM6 26h1v1h-1z"/>
<path fill="#fce5db" d="M3 4h1v1h-1zM5 4h1v1h-1zM6 15h1v1h-1z"/>
<path fill="#fbdccf" d="M4 4h1v1h-1zM0 14h1v1h-1z"/>
<path fill="#fad4c3" d="M3 15h1v1h-1zM5 15h1v1h-1z"/>
<path fill="#f8cbb7" d="M2 14h1v1h-1zM4 15h1v1h-1z"/>
<path fill="#f7c2ab" d="M1 14h1v1h-1z"/>
</g></g>
<text x="521.84" y="334.20" font-size="8.2" font-weight="normal" font-style="normal" fill="#2a2a2a" text-anchor="middle" stroke="#2a2a2a" stroke-width="0.08" >1</text>
<text x="531.53" y="334.20" font-size="8.2" font-weight="normal" font-style="normal" fill="#2a2a2a" text-anchor="middle" stroke="#2a2a2a" stroke-width="0.08" >2</text>
<text x="541.22" y="334.20" font-size="8.2" font-weight="normal" font-style="normal" fill="#2a2a2a" text-anchor="middle" stroke="#2a2a2a" stroke-width="0.08" >3</text>
<line x1="517.70" y1="336.90" x2="545.77" y2="336.90" stroke="#222" stroke-width="1.6" />
<text x="517.90" y="345.30" font-size="8.2" font-weight="normal" font-style="normal" fill="#2a2a2a" text-anchor="start" stroke="#2a2a2a" stroke-width="0.08" textLength="22.20" lengthAdjust="spacingAndGlyphs" >5.5hpf</text>
<text x="550.91" y="334.20" font-size="8.2" font-weight="normal" font-style="normal" fill="#2a2a2a" text-anchor="middle" stroke="#2a2a2a" stroke-width="0.08" >1</text>
<text x="560.60" y="334.20" font-size="8.2" font-weight="normal" font-style="normal" fill="#2a2a2a" text-anchor="middle" stroke="#2a2a2a" stroke-width="0.08" >2</text>
<text x="570.29" y="334.20" font-size="8.2" font-weight="normal" font-style="normal" fill="#2a2a2a" text-anchor="middle" stroke="#2a2a2a" stroke-width="0.08" >3</text>
<line x1="546.77" y1="336.90" x2="574.83" y2="336.90" stroke="#222" stroke-width="1.6" />
<text x="546.97" y="345.30" font-size="8.2" font-weight="normal" font-style="normal" fill="#2a2a2a" text-anchor="start" stroke="#2a2a2a" stroke-width="0.08" textLength="22.20" lengthAdjust="spacingAndGlyphs" >6.5hpf</text>
<text x="579.98" y="334.20" font-size="8.2" font-weight="normal" font-style="normal" fill="#2a2a2a" text-anchor="middle" stroke="#2a2a2a" stroke-width="0.08" >1</text>
<text x="589.67" y="334.20" font-size="8.2" font-weight="normal" font-style="normal" fill="#2a2a2a" text-anchor="middle" stroke="#2a2a2a" stroke-width="0.08" >2</text>
<text x="599.36" y="334.20" font-size="8.2" font-weight="normal" font-style="normal" fill="#2a2a2a" text-anchor="middle" stroke="#2a2a2a" stroke-width="0.08" >3</text>
<line x1="575.83" y1="336.90" x2="603.90" y2="336.90" stroke="#222" stroke-width="1.6" />
<text x="576.03" y="345.30" font-size="8.2" font-weight="normal" font-style="normal" fill="#2a2a2a" text-anchor="start" stroke="#2a2a2a" stroke-width="0.08" textLength="22.20" lengthAdjust="spacingAndGlyphs" >7.5hpf</text>
<rect x="500.90" y="130.20" width="9.90" height="1.10" fill="#c2c2c2" stroke="none" stroke-width="0" />
<rect x="500.90" y="131.25" width="9.90" height="1.10" fill="#2b2f82" stroke="none" stroke-width="0" />
<rect x="500.90" y="132.29" width="9.90" height="1.10" fill="#2b2f82" stroke="none" stroke-width="0" />
<rect x="500.90" y="133.34" width="9.90" height="1.10" fill="#2b2f82" stroke="none" stroke-width="0" />
<rect x="500.90" y="134.39" width="9.90" height="1.10" fill="#c2c2c2" stroke="none" stroke-width="0" />
<rect x="500.90" y="135.43" width="9.90" height="1.10" fill="#c2c2c2" stroke="none" stroke-width="0" />
<rect x="500.90" y="136.48" width="9.90" height="1.10" fill="#c2c2c2" stroke="none" stroke-width="0" />
<rect x="500.90" y="137.53" width="9.90" height="1.10" fill="#2b2f82" stroke="none" stroke-width="0" />
<rect x="500.90" y="138.57" width="9.90" height="1.10" fill="#c2c2c2" stroke="none" stroke-width="0" />
<rect x="500.90" y="139.62" width="9.90" height="1.10" fill="#2b2f82" stroke="none" stroke-width="0" />
<rect x="500.90" y="140.66" width="9.90" height="1.10" fill="#2b2f82" stroke="none" stroke-width="0" />
<rect x="500.90" y="141.71" width="9.90" height="1.10" fill="#2b2f82" stroke="none" stroke-width="0" />
<rect x="500.90" y="142.76" width="9.90" height="1.10" fill="#2b2f82" stroke="none" stroke-width="0" />
<rect x="500.90" y="143.80" width="9.90" height="1.10" fill="#2b2f82" stroke="none" stroke-width="0" />
<rect x="500.90" y="144.85" width="9.90" height="1.10" fill="#2b2f82" stroke="none" stroke-width="0" />
<rect x="500.90" y="145.90" width="9.90" height="1.10" fill="#2b2f82" stroke="none" stroke-width="0" />
<rect x="500.90" y="146.94" width="9.90" height="1.10" fill="#2b2f82" stroke="none" stroke-width="0" />
<rect x="500.90" y="147.99" width="9.90" height="1.10" fill="#2b2f82" stroke="none" stroke-width="0" />
<rect x="500.90" y="149.04" width="9.90" height="1.10" fill="#2b2f82" stroke="none" stroke-width="0" />
<rect x="500.90" y="150.08" width="9.90" height="1.10" fill="#2b2f82" stroke="none" stroke-width="0" />
<rect x="500.90" y="151.13" width="9.90" height="1.10" fill="#2b2f82" stroke="none" stroke-width="0" />
<rect x="500.90" y="152.18" width="9.90" height="1.10" fill="#2b2f82" stroke="none" stroke-width="0" />
<rect x="500.90" y="153.22" width="9.90" height="1.10" fill="#2b2f82" stroke="none" stroke-width="0" />
<rect x="500.90" y="154.27" width="9.90" height="1.10" fill="#2b2f82" stroke="none" stroke-width="0" />
<rect x="500.90" y="155.31" width="9.90" height="1.10" fill="#c2c2c2" stroke="none" stroke-width="0" />
<rect x="500.90" y="156.36" width="9.90" height="1.10" fill="#2b2f82" stroke="none" stroke-width="0" />
<rect x="500.90" y="157.41" width="9.90" height="1.10" fill="#2b2f82" stroke="none" stroke-width="0" />
<rect x="500.90" y="158.45" width="9.90" height="1.10" fill="#2b2f82" stroke="none" stroke-width="0" />
<rect x="500.90" y="161.60" width="9.90" height="1.10" fill="#c2c2c2" stroke="none" stroke-width="0" />
<rect x="500.90" y="162.65" width="9.90" height="1.10" fill="#c2c2c2" stroke="none" stroke-width="0" />
<rect x="500.90" y="163.71" width="9.90" height="1.10" fill="#c2c2c2" stroke="none" stroke-width="0" />
<rect x="500.90" y="164.76" width="9.90" height="1.10" fill="#c2c2c2" stroke="none" stroke-width="0" />
<rect x="500.90" y="165.81" width="9.90" height="1.10" fill="#d42a38" stroke="none" stroke-width="0" />
<rect x="500.90" y="166.86" width="9.90" height="1.10" fill="#c2c2c2" stroke="none" stroke-width="0" />
<rect x="500.90" y="167.92" width="9.90" height="1.10" fill="#d42a38" stroke="none" stroke-width="0" />
<rect x="500.90" y="168.97" width="9.90" height="1.10" fill="#d42a38" stroke="none" stroke-width="0" />
<rect x="500.90" y="170.02" width="9.90" height="1.10" fill="#c2c2c2" stroke="none" stroke-width="0" />
<rect x="500.90" y="171.07" width="9.90" height="1.10" fill="#c2c2c2" stroke="none" stroke-width="0" />
<rect x="500.90" y="172.13" width="9.90" height="1.10" fill="#c2c2c2" stroke="none" stroke-width="0" />
<rect x="500.90" y="173.18" width="9.90" height="1.10" fill="#c2c2c2" stroke="none" stroke-width="0" />
<rect x="500.90" y="174.23" width="9.90" height="1.10" fill="#c2c2c2" stroke="none" stroke-width="0" />
<rect x="500.90" y="175.29" width="9.90" height="1.10" fill="#2b2f82" stroke="none" stroke-width="0" />
<rect x="500.90" y="176.34" width="9.90" height="1.10" fill="#c2c2c2" stroke="none" stroke-width="0" />
<rect x="500.90" y="177.39" width="9.90" height="1.10" fill="#c2c2c2" stroke="none" stroke-width="0" />
<rect x="500.90" y="178.44" width="9.90" height="1.10" fill="#2b2f82" stroke="none" stroke-width="0" />
<rect x="500.90" y="179.50" width="9.90" height="1.10" fill="#c2c2c2" stroke="none" stroke-width="0" />
<rect x="500.90" y="180.55" width="9.90" height="1.10" fill="#2b2f82" stroke="none" stroke-width="0" />
<rect x="500.90" y="181.60" width="9.90" height="1.10" fill="#c2c2c2" stroke="none" stroke-width="0" />
<rect x="500.90" y="182.66" width="9.90" height="1.10" fill="#c2c2c2" stroke="none" stroke-width="0" />
<rect x="500.90" y="183.71" width="9.90" height="1.10" fill="#c2c2c2" stroke="none" stroke-width="0" />
<rect x="500.90" y="184.76" width="9.90" height="1.10" fill="#c2c2c2" stroke="none" stroke-width="0" />
<rect x="500.90" y="185.81" width="9.90" height="1.10" fill="#c2c2c2" stroke="none" stroke-width="0" />
<rect x="500.90" y="186.87" width="9.90" height="1.10" fill="#c2c2c2" stroke="none" stroke-width="0" />
<rect x="500.90" y="187.92" width="9.90" height="1.10" fill="#c2c2c2" stroke="none" stroke-width="0" />
<rect x="500.90" y="188.97" width="9.90" height="1.10" fill="#c2c2c2" stroke="none" stroke-width="0" />
<rect x="500.90" y="190.03" width="9.90" height="1.10" fill="#c2c2c2" stroke="none" stroke-width="0" />
<rect x="500.90" y="191.08" width="9.90" height="1.10" fill="#2b2f82" stroke="none" stroke-width="0" />
<rect x="500.90" y="192.13" width="9.90" height="1.10" fill="#c2c2c2" stroke="none" stroke-width="0" />
<rect x="500.90" y="193.18" width="9.90" height="1.10" fill="#2b2f82" stroke="none" stroke-width="0" />
<rect x="500.90" y="194.24" width="9.90" height="1.10" fill="#c2c2c2" stroke="none" stroke-width="0" />
<rect x="500.90" y="195.29" width="9.90" height="1.10" fill="#c2c2c2" stroke="none" stroke-width="0" />
<rect x="500.90" y="196.34" width="9.90" height="1.10" fill="#c2c2c2" stroke="none" stroke-width="0" />
<rect x="500.90" y="197.39" width="9.90" height="1.10" fill="#c2c2c2" stroke="none" stroke-width="0" />
<rect x="500.90" y="198.45" width="9.90" height="1.10" fill="#c2c2c2" stroke="none" stroke-width="0" />
<rect x="500.90" y="199.50" width="9.90" height="1.10" fill="#c2c2c2" stroke="none" stroke-width="0" />
<rect x="500.90" y="200.55" width="9.90" height="1.10" fill="#c2c2c2" stroke="none" stroke-width="0" />
<rect x="500.90" y="201.61" width="9.90" height="1.10" fill="#c2c2c2" stroke="none" stroke-width="0" />
<rect x="500.90" y="202.66" width="9.90" height="1.10" fill="#2b2f82" stroke="none" stroke-width="0" />
<rect x="500.90" y="203.71" width="9.90" height="1.10" fill="#c2c2c2" stroke="none" stroke-width="0" />
<rect x="500.90" y="204.76" width="9.90" height="1.10" fill="#c2c2c2" stroke="none" stroke-width="0" />
<rect x="500.90" y="205.82" width="9.90" height="1.10" fill="#c2c2c2" stroke="none" stroke-width="0" />
<rect x="500.90" y="206.87" width="9.90" height="1.10" fill="#c2c2c2" stroke="none" stroke-width="0" />
<rect x="500.90" y="207.92" width="9.90" height="1.10" fill="#c2c2c2" stroke="none" stroke-width="0" />
<rect x="500.90" y="208.98" width="9.90" height="1.10" fill="#c2c2c2" stroke="none" stroke-width="0" />
<rect x="500.90" y="210.03" width="9.90" height="1.10" fill="#c2c2c2" stroke="none" stroke-width="0" />
<rect x="500.90" y="211.08" width="9.90" height="1.10" fill="#c2c2c2" stroke="none" stroke-width="0" />
<rect x="500.90" y="212.13" width="9.90" height="1.10" fill="#c2c2c2" stroke="none" stroke-width="0" />
<rect x="500.90" y="213.19" width="9.90" height="1.10" fill="#c2c2c2" stroke="none" stroke-width="0" />
<rect x="500.90" y="214.24" width="9.90" height="1.10" fill="#c2c2c2" stroke="none" stroke-width="0" />
<rect x="500.90" y="215.29" width="9.90" height="1.10" fill="#c2c2c2" stroke="none" stroke-width="0" />
<rect x="500.90" y="216.34" width="9.90" height="1.10" fill="#c2c2c2" stroke="none" stroke-width="0" />
<rect x="500.90" y="217.40" width="9.90" height="1.10" fill="#c2c2c2" stroke="none" stroke-width="0" />
<rect x="500.90" y="218.45" width="9.90" height="1.10" fill="#c2c2c2" stroke="none" stroke-width="0" />
<rect x="500.90" y="219.50" width="9.90" height="1.10" fill="#c2c2c2" stroke="none" stroke-width="0" />
<rect x="500.90" y="220.56" width="9.90" height="1.10" fill="#c2c2c2" stroke="none" stroke-width="0" />
<rect x="500.90" y="221.61" width="9.90" height="1.10" fill="#c2c2c2" stroke="none" stroke-width="0" />
<rect x="500.90" y="222.66" width="9.90" height="1.10" fill="#c2c2c2" stroke="none" stroke-width="0" />
<rect x="500.90" y="223.71" width="9.90" height="1.10" fill="#c2c2c2" stroke="none" stroke-width="0" />
<rect x="500.90" y="224.77" width="9.90" height="1.10" fill="#2b2f82" stroke="none" stroke-width="0" />
<rect x="500.90" y="225.82" width="9.90" height="1.10" fill="#2b2f82" stroke="none" stroke-width="0" />
<rect x="500.90" y="226.87" width="9.90" height="1.10" fill="#2b2f82" stroke="none" stroke-width="0" />
<rect x="500.90" y="227.93" width="9.90" height="1.10" fill="#c2c2c2" stroke="none" stroke-width="0" />
<rect x="500.90" y="228.98" width="9.90" height="1.10" fill="#c2c2c2" stroke="none" stroke-width="0" />
<rect x="500.90" y="230.03" width="9.90" height="1.10" fill="#c2c2c2" stroke="none" stroke-width="0" />
<rect x="500.90" y="231.08" width="9.90" height="1.10" fill="#2b2f82" stroke="none" stroke-width="0" />
<rect x="500.90" y="232.14" width="9.90" height="1.10" fill="#c2c2c2" stroke="none" stroke-width="0" />
<rect x="500.90" y="233.19" width="9.90" height="1.10" fill="#c2c2c2" stroke="none" stroke-width="0" />
<rect x="500.90" y="234.24" width="9.90" height="1.10" fill="#c2c2c2" stroke="none" stroke-width="0" />
<rect x="500.90" y="235.29" width="9.90" height="1.10" fill="#c2c2c2" stroke="none" stroke-width="0" />
<rect x="500.90" y="236.35" width="9.90" height="1.10" fill="#c2c2c2" stroke="none" stroke-width="0" />
<rect x="500.90" y="237.40" width="9.90" height="1.10" fill="#2b2f82" stroke="none" stroke-width="0" />
<rect x="500.90" y="238.45" width="9.90" height="1.10" fill="#c2c2c2" stroke="none" stroke-width="0" />
<rect x="500.90" y="239.51" width="9.90" height="1.10" fill="#c2c2c2" stroke="none" stroke-width="0" />
<rect x="500.90" y="240.56" width="9.90" height="1.10" fill="#c2c2c2" stroke="none" stroke-width="0" />
<rect x="500.90" y="241.61" width="9.90" height="1.10" fill="#c2c2c2" stroke="none" stroke-width="0" />
<rect x="500.90" y="242.66" width="9.90" height="1.10" fill="#c2c2c2" stroke="none" stroke-width="0" />
<rect x="500.90" y="243.72" width="9.90" height="1.10" fill="#2b2f82" stroke="none" stroke-width="0" />
<rect x="500.90" y="244.77" width="9.90" height="1.10" fill="#c2c2c2" stroke="none" stroke-width="0" />
<rect x="500.90" y="245.82" width="9.90" height="1.10" fill="#c2c2c2" stroke="none" stroke-width="0" />
<rect x="500.90" y="246.88" width="9.90" height="1.10" fill="#c2c2c2" stroke="none" stroke-width="0" />
<rect x="500.90" y="247.93" width="9.90" height="1.10" fill="#c2c2c2" stroke="none" stroke-width="0" />
<rect x="500.90" y="248.98" width="9.90" height="1.10" fill="#c2c2c2" stroke="none" stroke-width="0" />
<rect x="500.90" y="250.03" width="9.90" height="1.10" fill="#c2c2c2" stroke="none" stroke-width="0" />
<rect x="500.90" y="251.09" width="9.90" height="1.10" fill="#2b2f82" stroke="none" stroke-width="0" />
<rect x="500.90" y="252.14" width="9.90" height="1.10" fill="#c2c2c2" stroke="none" stroke-width="0" />
<rect x="500.90" y="253.19" width="9.90" height="1.10" fill="#c2c2c2" stroke="none" stroke-width="0" />
<rect x="500.90" y="254.24" width="9.90" height="1.10" fill="#2b2f82" stroke="none" stroke-width="0" />
<rect x="500.90" y="255.30" width="9.90" height="1.10" fill="#2b2f82" stroke="none" stroke-width="0" />
<rect x="500.90" y="256.35" width="9.90" height="1.10" fill="#2b2f82" stroke="none" stroke-width="0" />
<rect x="500.90" y="257.40" width="9.90" height="1.10" fill="#2b2f82" stroke="none" stroke-width="0" />
<rect x="500.90" y="258.46" width="9.90" height="1.10" fill="#c2c2c2" stroke="none" stroke-width="0" />
<rect x="500.90" y="259.51" width="9.90" height="1.10" fill="#2b2f82" stroke="none" stroke-width="0" />
<rect x="500.90" y="260.56" width="9.90" height="1.10" fill="#c2c2c2" stroke="none" stroke-width="0" />
<rect x="500.90" y="261.61" width="9.90" height="1.10" fill="#2b2f82" stroke="none" stroke-width="0" />
<rect x="500.90" y="262.67" width="9.90" height="1.10" fill="#2b2f82" stroke="none" stroke-width="0" />
<rect x="500.90" y="263.72" width="9.90" height="1.10" fill="#2b2f82" stroke="none" stroke-width="0" />
<rect x="500.90" y="264.77" width="9.90" height="1.10" fill="#2b2f82" stroke="none" stroke-width="0" />
<rect x="500.90" y="265.83" width="9.90" height="1.10" fill="#c2c2c2" stroke="none" stroke-width="0" />
<rect x="500.90" y="266.88" width="9.90" height="1.10" fill="#c2c2c2" stroke="none" stroke-width="0" />
<rect x="500.90" y="267.93" width="9.90" height="1.10" fill="#c2c2c2" stroke="none" stroke-width="0" />
<rect x="500.90" y="268.98" width="9.90" height="1.10" fill="#2b2f82" stroke="none" stroke-width="0" />
<rect x="500.90" y="270.04" width="9.90" height="1.10" fill="#2b2f82" stroke="none" stroke-width="0" />
<rect x="500.90" y="271.09" width="9.90" height="1.10" fill="#c2c2c2" stroke="none" stroke-width="0" />
<rect x="500.90" y="272.14" width="9.90" height="1.10" fill="#c2c2c2" stroke="none" stroke-width="0" />
<rect x="500.90" y="273.19" width="9.90" height="1.10" fill="#2b2f82" stroke="none" stroke-width="0" />
<rect x="500.90" y="274.25" width="9.90" height="1.10" fill="#2b2f82" stroke="none" stroke-width="0" />
<rect x="500.90" y="277.60" width="9.90" height="1.11" fill="#2b2f82" stroke="none" stroke-width="0" />
<rect x="500.90" y="278.66" width="9.90" height="1.11" fill="#c2c2c2" stroke="none" stroke-width="0" />
<rect x="500.90" y="279.71" width="9.90" height="1.11" fill="#c2c2c2" stroke="none" stroke-width="0" />
<rect x="500.90" y="280.77" width="9.90" height="1.11" fill="#2b2f82" stroke="none" stroke-width="0" />
<rect x="500.90" y="281.83" width="9.90" height="1.11" fill="#c2c2c2" stroke="none" stroke-width="0" />
<rect x="500.90" y="282.88" width="9.90" height="1.11" fill="#c2c2c2" stroke="none" stroke-width="0" />
<rect x="500.90" y="283.94" width="9.90" height="1.11" fill="#c2c2c2" stroke="none" stroke-width="0" />
<rect x="500.90" y="285.00" width="9.90" height="1.11" fill="#c2c2c2" stroke="none" stroke-width="0" />
<rect x="500.90" y="286.05" width="9.90" height="1.11" fill="#c2c2c2" stroke="none" stroke-width="0" />
<rect x="500.90" y="287.11" width="9.90" height="1.11" fill="#c2c2c2" stroke="none" stroke-width="0" />
<rect x="500.90" y="288.17" width="9.90" height="1.11" fill="#c2c2c2" stroke="none" stroke-width="0" />
<rect x="500.90" y="289.23" width="9.90" height="1.11" fill="#c2c2c2" stroke="none" stroke-width="0" />
<rect x="500.90" y="290.28" width="9.90" height="1.11" fill="#c2c2c2" stroke="none" stroke-width="0" />
<rect x="500.90" y="291.34" width="9.90" height="1.11" fill="#c2c2c2" stroke="none" stroke-width="0" />
<rect x="500.90" y="292.40" width="9.90" height="1.11" fill="#c2c2c2" stroke="none" stroke-width="0" />
<rect x="500.90" y="293.45" width="9.90" height="1.11" fill="#c2c2c2" stroke="none" stroke-width="0" />
<rect x="500.90" y="294.51" width="9.90" height="1.11" fill="#c2c2c2" stroke="none" stroke-width="0" />
<rect x="500.90" y="295.57" width="9.90" height="1.11" fill="#c2c2c2" stroke="none" stroke-width="0" />
<rect x="500.90" y="296.62" width="9.90" height="1.11" fill="#2b2f82" stroke="none" stroke-width="0" />
<rect x="500.90" y="297.68" width="9.90" height="1.11" fill="#c2c2c2" stroke="none" stroke-width="0" />
<rect x="500.90" y="298.74" width="9.90" height="1.11" fill="#c2c2c2" stroke="none" stroke-width="0" />
<rect x="500.90" y="299.79" width="9.90" height="1.11" fill="#c2c2c2" stroke="none" stroke-width="0" />
<rect x="500.90" y="300.85" width="9.90" height="1.11" fill="#c2c2c2" stroke="none" stroke-width="0" />
<rect x="500.90" y="301.91" width="9.90" height="1.11" fill="#c2c2c2" stroke="none" stroke-width="0" />
<rect x="500.90" y="302.96" width="9.90" height="1.11" fill="#2b2f82" stroke="none" stroke-width="0" />
<rect x="500.90" y="304.02" width="9.90" height="1.11" fill="#c2c2c2" stroke="none" stroke-width="0" />
<rect x="500.90" y="305.08" width="9.90" height="1.11" fill="#c2c2c2" stroke="none" stroke-width="0" />
<rect x="500.90" y="306.13" width="9.90" height="1.11" fill="#c2c2c2" stroke="none" stroke-width="0" />
<rect x="500.90" y="307.19" width="9.90" height="1.11" fill="#c2c2c2" stroke="none" stroke-width="0" />
<rect x="500.90" y="308.25" width="9.90" height="1.11" fill="#2b2f82" stroke="none" stroke-width="0" />
<rect x="500.90" y="309.30" width="9.90" height="1.11" fill="#c2c2c2" stroke="none" stroke-width="0" />
<rect x="500.90" y="310.36" width="9.90" height="1.11" fill="#c2c2c2" stroke="none" stroke-width="0" />
<rect x="500.90" y="311.42" width="9.90" height="1.11" fill="#2b2f82" stroke="none" stroke-width="0" />
<rect x="500.90" y="312.48" width="9.90" height="1.11" fill="#2b2f82" stroke="none" stroke-width="0" />
<rect x="500.90" y="313.53" width="9.90" height="1.11" fill="#c2c2c2" stroke="none" stroke-width="0" />
<rect x="500.90" y="314.59" width="9.90" height="1.11" fill="#2b2f82" stroke="none" stroke-width="0" />
<rect x="500.90" y="315.65" width="9.90" height="1.11" fill="#2b2f82" stroke="none" stroke-width="0" />
<rect x="500.90" y="316.70" width="9.90" height="1.11" fill="#c2c2c2" stroke="none" stroke-width="0" />
<rect x="500.90" y="317.76" width="9.90" height="1.11" fill="#c2c2c2" stroke="none" stroke-width="0" />
<rect x="500.90" y="318.82" width="9.90" height="1.11" fill="#2b2f82" stroke="none" stroke-width="0" />
<rect x="500.90" y="319.87" width="9.90" height="1.11" fill="#2b2f82" stroke="none" stroke-width="0" />
<rect x="500.90" y="320.93" width="9.90" height="1.11" fill="#2b2f82" stroke="none" stroke-width="0" />
<rect x="500.90" y="321.99" width="9.90" height="1.11" fill="#2b2f82" stroke="none" stroke-width="0" />
<rect x="500.90" y="323.04" width="9.90" height="1.11" fill="#2b2f82" stroke="none" stroke-width="0" />
<rect x="606.20" y="130.20" width="9.60" height="1.10" fill="#2b2f82" stroke="none" stroke-width="0" />
<rect x="606.20" y="131.25" width="9.60" height="1.10" fill="#c2c2c2" stroke="none" stroke-width="0" />
<rect x="606.20" y="132.29" width="9.60" height="1.10" fill="#2b2f82" stroke="none" stroke-width="0" />
<rect x="606.20" y="133.34" width="9.60" height="1.10" fill="#c2c2c2" stroke="none" stroke-width="0" />
<rect x="606.20" y="134.39" width="9.60" height="1.10" fill="#c2c2c2" stroke="none" stroke-width="0" />
<rect x="606.20" y="135.43" width="9.60" height="1.10" fill="#c2c2c2" stroke="none" stroke-width="0" />
<rect x="606.20" y="136.48" width="9.60" height="1.10" fill="#c2c2c2" stroke="none" stroke-width="0" />
<rect x="606.20" y="137.53" width="9.60" height="1.10" fill="#c2c2c2" stroke="none" stroke-width="0" />
<rect x="606.20" y="138.57" width="9.60" height="1.10" fill="#2b2f82" stroke="none" stroke-width="0" />
<rect x="606.20" y="139.62" width="9.60" height="1.10" fill="#2b2f82" stroke="none" stroke-width="0" />
<rect x="606.20" y="140.66" width="9.60" height="1.10" fill="#2b2f82" stroke="none" stroke-width="0" />
<rect x="606.20" y="141.71" width="9.60" height="1.10" fill="#2b2f82" stroke="none" stroke-width="0" />
<rect x="606.20" y="142.76" width="9.60" height="1.10" fill="#2b2f82" stroke="none" stroke-width="0" />
<rect x="606.20" y="143.80" width="9.60" height="1.10" fill="#2b2f82" stroke="none" stroke-width="0" />
<rect x="606.20" y="144.85" width="9.60" height="1.10" fill="#2b2f82" stroke="none" stroke-width="0" />
<rect x="606.20" y="145.90" width="9.60" height="1.10" fill="#2b2f82" stroke="none" stroke-width="0" />
<rect x="606.20" y="146.94" width="9.60" height="1.10" fill="#2b2f82" stroke="none" stroke-width="0" />
<rect x="606.20" y="147.99" width="9.60" height="1.10" fill="#2b2f82" stroke="none" stroke-width="0" />
<rect x="606.20" y="149.04" width="9.60" height="1.10" fill="#2b2f82" stroke="none" stroke-width="0" />
<rect x="606.20" y="150.08" width="9.60" height="1.10" fill="#2b2f82" stroke="none" stroke-width="0" />
<rect x="606.20" y="151.13" width="9.60" height="1.10" fill="#2b2f82" stroke="none" stroke-width="0" />
<rect x="606.20" y="152.18" width="9.60" height="1.10" fill="#2b2f82" stroke="none" stroke-width="0" />
<rect x="606.20" y="153.22" width="9.60" height="1.10" fill="#2b2f82" stroke="none" stroke-width="0" />
<rect x="606.20" y="154.27" width="9.60" height="1.10" fill="#2b2f82" stroke="none" stroke-width="0" />
<rect x="606.20" y="155.31" width="9.60" height="1.10" fill="#2b2f82" stroke="none" stroke-width="0" />
<rect x="606.20" y="156.36" width="9.60" height="1.10" fill="#2b2f82" stroke="none" stroke-width="0" />
<rect x="606.20" y="157.41" width="9.60" height="1.10" fill="#2b2f82" stroke="none" stroke-width="0" />
<rect x="606.20" y="158.45" width="9.60" height="1.10" fill="#2b2f82" stroke="none" stroke-width="0" />
<rect x="606.20" y="161.60" width="9.60" height="1.10" fill="#d42a38" stroke="none" stroke-width="0" />
<rect x="606.20" y="162.65" width="9.60" height="1.10" fill="#c2c2c2" stroke="none" stroke-width="0" />
<rect x="606.20" y="163.71" width="9.60" height="1.10" fill="#c2c2c2" stroke="none" stroke-width="0" />
<rect x="606.20" y="164.76" width="9.60" height="1.10" fill="#d42a38" stroke="none" stroke-width="0" />
<rect x="606.20" y="165.81" width="9.60" height="1.10" fill="#c2c2c2" stroke="none" stroke-width="0" />
<rect x="606.20" y="166.86" width="9.60" height="1.10" fill="#d42a38" stroke="none" stroke-width="0" />
<rect x="606.20" y="167.92" width="9.60" height="1.10" fill="#d42a38" stroke="none" stroke-width="0" />
<rect x="606.20" y="168.97" width="9.60" height="1.10" fill="#c2c2c2" stroke="none" stroke-width="0" />
<rect x="606.20" y="170.02" width="9.60" height="1.10" fill="#c2c2c2" stroke="none" stroke-width="0" />
<rect x="606.20" y="171.07" width="9.60" height="1.10" fill="#c2c2c2" stroke="none" stroke-width="0" />
<rect x="606.20" y="172.13" width="9.60" height="1.10" fill="#c2c2c2" stroke="none" stroke-width="0" />
<rect x="606.20" y="173.18" width="9.60" height="1.10" fill="#2b2f82" stroke="none" stroke-width="0" />
<rect x="606.20" y="174.23" width="9.60" height="1.10" fill="#c2c2c2" stroke="none" stroke-width="0" />
<rect x="606.20" y="175.29" width="9.60" height="1.10" fill="#c2c2c2" stroke="none" stroke-width="0" />
<rect x="606.20" y="176.34" width="9.60" height="1.10" fill="#c2c2c2" stroke="none" stroke-width="0" />
<rect x="606.20" y="177.39" width="9.60" height="1.10" fill="#2b2f82" stroke="none" stroke-width="0" />
<rect x="606.20" y="178.44" width="9.60" height="1.10" fill="#c2c2c2" stroke="none" stroke-width="0" />
<rect x="606.20" y="179.50" width="9.60" height="1.10" fill="#c2c2c2" stroke="none" stroke-width="0" />
<rect x="606.20" y="180.55" width="9.60" height="1.10" fill="#2b2f82" stroke="none" stroke-width="0" />
<rect x="606.20" y="181.60" width="9.60" height="1.10" fill="#c2c2c2" stroke="none" stroke-width="0" />
<rect x="606.20" y="182.66" width="9.60" height="1.10" fill="#c2c2c2" stroke="none" stroke-width="0" />
<rect x="606.20" y="183.71" width="9.60" height="1.10" fill="#2b2f82" stroke="none" stroke-width="0" />
<rect x="606.20" y="184.76" width="9.60" height="1.10" fill="#c2c2c2" stroke="none" stroke-width="0" />
<rect x="606.20" y="185.81" width="9.60" height="1.10" fill="#2b2f82" stroke="none" stroke-width="0" />
<rect x="606.20" y="186.87" width="9.60" height="1.10" fill="#2b2f82" stroke="none" stroke-width="0" />
<rect x="606.20" y="187.92" width="9.60" height="1.10" fill="#c2c2c2" stroke="none" stroke-width="0" />
<rect x="606.20" y="188.97" width="9.60" height="1.10" fill="#c2c2c2" stroke="none" stroke-width="0" />
<rect x="606.20" y="190.03" width="9.60" height="1.10" fill="#c2c2c2" stroke="none" stroke-width="0" />
<rect x="606.20" y="191.08" width="9.60" height="1.10" fill="#2b2f82" stroke="none" stroke-width="0" />
<rect x="606.20" y="192.13" width="9.60" height="1.10" fill="#c2c2c2" stroke="none" stroke-width="0" />
<rect x="606.20" y="193.18" width="9.60" height="1.10" fill="#c2c2c2" stroke="none" stroke-width="0" />
<rect x="606.20" y="194.24" width="9.60" height="1.10" fill="#c2c2c2" stroke="none" stroke-width="0" />
<rect x="606.20" y="195.29" width="9.60" height="1.10" fill="#c2c2c2" stroke="none" stroke-width="0" />
<rect x="606.20" y="196.34" width="9.60" height="1.10" fill="#2b2f82" stroke="none" stroke-width="0" />
<rect x="606.20" y="197.39" width="9.60" height="1.10" fill="#c2c2c2" stroke="none" stroke-width="0" />
<rect x="606.20" y="198.45" width="9.60" height="1.10" fill="#c2c2c2" stroke="none" stroke-width="0" />
<rect x="606.20" y="199.50" width="9.60" height="1.10" fill="#2b2f82" stroke="none" stroke-width="0" />
<rect x="606.20" y="200.55" width="9.60" height="1.10" fill="#2b2f82" stroke="none" stroke-width="0" />
<rect x="606.20" y="201.61" width="9.60" height="1.10" fill="#2b2f82" stroke="none" stroke-width="0" />
<rect x="606.20" y="202.66" width="9.60" height="1.10" fill="#c2c2c2" stroke="none" stroke-width="0" />
<rect x="606.20" y="203.71" width="9.60" height="1.10" fill="#2b2f82" stroke="none" stroke-width="0" />
<rect x="606.20" y="204.76" width="9.60" height="1.10" fill="#c2c2c2" stroke="none" stroke-width="0" />
<rect x="606.20" y="205.82" width="9.60" height="1.10" fill="#2b2f82" stroke="none" stroke-width="0" />
<rect x="606.20" y="206.87" width="9.60" height="1.10" fill="#c2c2c2" stroke="none" stroke-width="0" />
<rect x="606.20" y="207.92" width="9.60" height="1.10" fill="#c2c2c2" stroke="none" stroke-width="0" />
<rect x="606.20" y="208.98" width="9.60" height="1.10" fill="#2b2f82" stroke="none" stroke-width="0" />
<rect x="606.20" y="210.03" width="9.60" height="1.10" fill="#2b2f82" stroke="none" stroke-width="0" />
<rect x="606.20" y="211.08" width="9.60" height="1.10" fill="#c2c2c2" stroke="none" stroke-width="0" />
<rect x="606.20" y="212.13" width="9.60" height="1.10" fill="#c2c2c2" stroke="none" stroke-width="0" />
<rect x="606.20" y="213.19" width="9.60" height="1.10" fill="#2b2f82" stroke="none" stroke-width="0" />
<rect x="606.20" y="214.24" width="9.60" height="1.10" fill="#c2c2c2" stroke="none" stroke-width="0" />
<rect x="606.20" y="215.29" width="9.60" height="1.10" fill="#c2c2c2" stroke="none" stroke-width="0" />
<rect x="606.20" y="216.34" width="9.60" height="1.10" fill="#c2c2c2" stroke="none" stroke-width="0" />
<rect x="606.20" y="217.40" width="9.60" height="1.10" fill="#c2c2c2" stroke="none" stroke-width="0" />
<rect x="606.20" y="218.45" width="9.60" height="1.10" fill="#2b2f82" stroke="none" stroke-width="0" />
<rect x="606.20" y="219.50" width="9.60" height="1.10" fill="#c2c2c2" stroke="none" stroke-width="0" />
<rect x="606.20" y="220.56" width="9.60" height="1.10" fill="#c2c2c2" stroke="none" stroke-width="0" />
<rect x="606.20" y="221.61" width="9.60" height="1.10" fill="#c2c2c2" stroke="none" stroke-width="0" />
<rect x="606.20" y="222.66" width="9.60" height="1.10" fill="#c2c2c2" stroke="none" stroke-width="0" />
<rect x="606.20" y="223.71" width="9.60" height="1.10" fill="#c2c2c2" stroke="none" stroke-width="0" />
<rect x="606.20" y="224.77" width="9.60" height="1.10" fill="#c2c2c2" stroke="none" stroke-width="0" />
<rect x="606.20" y="225.82" width="9.60" height="1.10" fill="#c2c2c2" stroke="none" stroke-width="0" />
<rect x="606.20" y="226.87" width="9.60" height="1.10" fill="#c2c2c2" stroke="none" stroke-width="0" />
<rect x="606.20" y="227.93" width="9.60" height="1.10" fill="#2b2f82" stroke="none" stroke-width="0" />
<rect x="606.20" y="228.98" width="9.60" height="1.10" fill="#2b2f82" stroke="none" stroke-width="0" />
<rect x="606.20" y="230.03" width="9.60" height="1.10" fill="#c2c2c2" stroke="none" stroke-width="0" />
<rect x="606.20" y="231.08" width="9.60" height="1.10" fill="#c2c2c2" stroke="none" stroke-width="0" />
<rect x="606.20" y="232.14" width="9.60" height="1.10" fill="#c2c2c2" stroke="none" stroke-width="0" />
<rect x="606.20" y="233.19" width="9.60" height="1.10" fill="#c2c2c2" stroke="none" stroke-width="0" />
<rect x="606.20" y="234.24" width="9.60" height="1.10" fill="#2b2f82" stroke="none" stroke-width="0" />
<rect x="606.20" y="235.29" width="9.60" height="1.10" fill="#c2c2c2" stroke="none" stroke-width="0" />
<rect x="606.20" y="236.35" width="9.60" height="1.10" fill="#c2c2c2" stroke="none" stroke-width="0" />
<rect x="606.20" y="237.40" width="9.60" height="1.10" fill="#2b2f82" stroke="none" stroke-width="0" />
<rect x="606.20" y="238.45" width="9.60" height="1.10" fill="#2b2f82" stroke="none" stroke-width="0" />
<rect x="606.20" y="239.51" width="9.60" height="1.10" fill="#2b2f82" stroke="none" stroke-width="0" />
<rect x="606.20" y="240.56" width="9.60" height="1.10" fill="#2b2f82" stroke="none" stroke-width="0" />
<rect x="606.20" y="241.61" width="9.60" height="1.10" fill="#c2c2c2" stroke="none" stroke-width="0" />
<rect x="606.20" y="242.66" width="9.60" height="1.10" fill="#c2c2c2" stroke="none" stroke-width="0" />
<rect x="606.20" y="243.72" width="9.60" height="1.10" fill="#c2c2c2" stroke="none" stroke-width="0" />
<rect x="606.20" y="244.77" width="9.60" height="1.10" fill="#c2c2c2" stroke="none" stroke-width="0" />
<rect x="606.20" y="245.82" width="9.60" height="1.10" fill="#c2c2c2" stroke="none" stroke-width="0" />
<rect x="606.20" y="246.88" width="9.60" height="1.10" fill="#2b2f82" stroke="none" stroke-width="0" />
<rect x="606.20" y="247.93" width="9.60" height="1.10" fill="#2b2f82" stroke="none" stroke-width="0" />
<rect x="606.20" y="248.98" width="9.60" height="1.10" fill="#2b2f82" stroke="none" stroke-width="0" />
<rect x="606.20" y="250.03" width="9.60" height="1.10" fill="#c2c2c2" stroke="none" stroke-width="0" />
<rect x="606.20" y="251.09" width="9.60" height="1.10" fill="#c2c2c2" stroke="none" stroke-width="0" />
<rect x="606.20" y="252.14" width="9.60" height="1.10" fill="#2b2f82" stroke="none" stroke-width="0" />
<rect x="606.20" y="253.19" width="9.60" height="1.10" fill="#2b2f82" stroke="none" stroke-width="0" />
<rect x="606.20" y="254.24" width="9.60" height="1.10" fill="#2b2f82" stroke="none" stroke-width="0" />
<rect x="606.20" y="255.30" width="9.60" height="1.10" fill="#2b2f82" stroke="none" stroke-width="0" />
<rect x="606.20" y="256.35" width="9.60" height="1.10" fill="#2b2f82" stroke="none" stroke-width="0" />
<rect x="606.20" y="257.40" width="9.60" height="1.10" fill="#2b2f82" stroke="none" stroke-width="0" />
<rect x="606.20" y="258.46" width="9.60" height="1.10" fill="#2b2f82" stroke="none" stroke-width="0" />
<rect x="606.20" y="259.51" width="9.60" height="1.10" fill="#c2c2c2" stroke="none" stroke-width="0" />
<rect x="606.20" y="260.56" width="9.60" height="1.10" fill="#c2c2c2" stroke="none" stroke-width="0" />
<rect x="606.20" y="261.61" width="9.60" height="1.10" fill="#c2c2c2" stroke="none" stroke-width="0" />
<rect x="606.20" y="262.67" width="9.60" height="1.10" fill="#2b2f82" stroke="none" stroke-width="0" />
<rect x="606.20" y="263.72" width="9.60" height="1.10" fill="#2b2f82" stroke="none" stroke-width="0" />
<rect x="606.20" y="264.77" width="9.60" height="1.10" fill="#2b2f82" stroke="none" stroke-width="0" />
<rect x="606.20" y="265.83" width="9.60" height="1.10" fill="#c2c2c2" stroke="none" stroke-width="0" />
<rect x="606.20" y="266.88" width="9.60" height="1.10" fill="#2b2f82" stroke="none" stroke-width="0" />
<rect x="606.20" y="267.93" width="9.60" height="1.10" fill="#2b2f82" stroke="none" stroke-width="0" />
<rect x="606.20" y="268.98" width="9.60" height="1.10" fill="#2b2f82" stroke="none" stroke-width="0" />
<rect x="606.20" y="270.04" width="9.60" height="1.10" fill="#2b2f82" stroke="none" stroke-width="0" />
<rect x="606.20" y="271.09" width="9.60" height="1.10" fill="#2b2f82" stroke="none" stroke-width="0" />
<rect x="606.20" y="272.14" width="9.60" height="1.10" fill="#2b2f82" stroke="none" stroke-width="0" />
<rect x="606.20" y="273.19" width="9.60" height="1.10" fill="#2b2f82" stroke="none" stroke-width="0" />
<rect x="606.20" y="274.25" width="9.60" height="1.10" fill="#2b2f82" stroke="none" stroke-width="0" />
<rect x="606.20" y="277.60" width="9.60" height="1.11" fill="#c2c2c2" stroke="none" stroke-width="0" />
<rect x="606.20" y="278.66" width="9.60" height="1.11" fill="#c2c2c2" stroke="none" stroke-width="0" />
<rect x="606.20" y="279.71" width="9.60" height="1.11" fill="#c2c2c2" stroke="none" stroke-width="0" />
<rect x="606.20" y="280.77" width="9.60" height="1.11" fill="#2b2f82" stroke="none" stroke-width="0" />
<rect x="606.20" y="281.83" width="9.60" height="1.11" fill="#c2c2c2" stroke="none" stroke-width="0" />
<rect x="606.20" y="282.88" width="9.60" height="1.11" fill="#c2c2c2" stroke="none" stroke-width="0" />
<rect x="606.20" y="283.94" width="9.60" height="1.11" fill="#c2c2c2" stroke="none" stroke-width="0" />
<rect x="606.20" y="285.00" width="9.60" height="1.11" fill="#2b2f82" stroke="none" stroke-width="0" />
<rect x="606.20" y="286.05" width="9.60" height="1.11" fill="#c2c2c2" stroke="none" stroke-width="0" />
<rect x="606.20" y="287.11" width="9.60" height="1.11" fill="#c2c2c2" stroke="none" stroke-width="0" />
<rect x="606.20" y="288.17" width="9.60" height="1.11" fill="#c2c2c2" stroke="none" stroke-width="0" />
<rect x="606.20" y="289.23" width="9.60" height="1.11" fill="#c2c2c2" stroke="none" stroke-width="0" />
<rect x="606.20" y="290.28" width="9.60" height="1.11" fill="#2b2f82" stroke="none" stroke-width="0" />
<rect x="606.20" y="291.34" width="9.60" height="1.11" fill="#c2c2c2" stroke="none" stroke-width="0" />
<rect x="606.20" y="292.40" width="9.60" height="1.11" fill="#2b2f82" stroke="none" stroke-width="0" />
<rect x="606.20" y="293.45" width="9.60" height="1.11" fill="#c2c2c2" stroke="none" stroke-width="0" />
<rect x="606.20" y="294.51" width="9.60" height="1.11" fill="#c2c2c2" stroke="none" stroke-width="0" />
<rect x="606.20" y="295.57" width="9.60" height="1.11" fill="#c2c2c2" stroke="none" stroke-width="0" />
<rect x="606.20" y="296.62" width="9.60" height="1.11" fill="#c2c2c2" stroke="none" stroke-width="0" />
<rect x="606.20" y="297.68" width="9.60" height="1.11" fill="#c2c2c2" stroke="none" stroke-width="0" />
<rect x="606.20" y="298.74" width="9.60" height="1.11" fill="#c2c2c2" stroke="none" stroke-width="0" />
<rect x="606.20" y="299.79" width="9.60" height="1.11" fill="#c2c2c2" stroke="none" stroke-width="0" />
<rect x="606.20" y="300.85" width="9.60" height="1.11" fill="#c2c2c2" stroke="none" stroke-width="0" />
<rect x="606.20" y="301.91" width="9.60" height="1.11" fill="#c2c2c2" stroke="none" stroke-width="0" />
<rect x="606.20" y="302.96" width="9.60" height="1.11" fill="#c2c2c2" stroke="none" stroke-width="0" />
<rect x="606.20" y="304.02" width="9.60" height="1.11" fill="#c2c2c2" stroke="none" stroke-width="0" />
<rect x="606.20" y="305.08" width="9.60" height="1.11" fill="#c2c2c2" stroke="none" stroke-width="0" />
<rect x="606.20" y="306.13" width="9.60" height="1.11" fill="#c2c2c2" stroke="none" stroke-width="0" />
<rect x="606.20" y="307.19" width="9.60" height="1.11" fill="#c2c2c2" stroke="none" stroke-width="0" />
<rect x="606.20" y="308.25" width="9.60" height="1.11" fill="#c2c2c2" stroke="none" stroke-width="0" />
<rect x="606.20" y="309.30" width="9.60" height="1.11" fill="#c2c2c2" stroke="none" stroke-width="0" />
<rect x="606.20" y="310.36" width="9.60" height="1.11" fill="#c2c2c2" stroke="none" stroke-width="0" />
<rect x="606.20" y="311.42" width="9.60" height="1.11" fill="#2b2f82" stroke="none" stroke-width="0" />
<rect x="606.20" y="312.48" width="9.60" height="1.11" fill="#c2c2c2" stroke="none" stroke-width="0" />
<rect x="606.20" y="313.53" width="9.60" height="1.11" fill="#2b2f82" stroke="none" stroke-width="0" />
<rect x="606.20" y="314.59" width="9.60" height="1.11" fill="#c2c2c2" stroke="none" stroke-width="0" />
<rect x="606.20" y="315.65" width="9.60" height="1.11" fill="#2b2f82" stroke="none" stroke-width="0" />
<rect x="606.20" y="316.70" width="9.60" height="1.11" fill="#2b2f82" stroke="none" stroke-width="0" />
<rect x="606.20" y="317.76" width="9.60" height="1.11" fill="#2b2f82" stroke="none" stroke-width="0" />
<rect x="606.20" y="318.82" width="9.60" height="1.11" fill="#c2c2c2" stroke="none" stroke-width="0" />
<rect x="606.20" y="319.87" width="9.60" height="1.11" fill="#2b2f82" stroke="none" stroke-width="0" />
<rect x="606.20" y="320.93" width="9.60" height="1.11" fill="#c2c2c2" stroke="none" stroke-width="0" />
<rect x="606.20" y="321.99" width="9.60" height="1.11" fill="#c2c2c2" stroke="none" stroke-width="0" />
<rect x="606.20" y="323.04" width="9.60" height="1.11" fill="#2b2f82" stroke="none" stroke-width="0" />
<rect x="621.00" y="130.20" width="10.00" height="1.10" fill="#6a9fd6" stroke="none" stroke-width="0" />
<rect x="621.00" y="131.25" width="10.00" height="1.10" fill="#6a9fd6" stroke="none" stroke-width="0" />
<rect x="621.00" y="132.29" width="10.00" height="1.10" fill="#6a9fd6" stroke="none" stroke-width="0" />
<rect x="621.00" y="133.34" width="10.00" height="1.10" fill="#6a9fd6" stroke="none" stroke-width="0" />
<rect x="621.00" y="134.39" width="10.00" height="1.10" fill="#6a9fd6" stroke="none" stroke-width="0" />
<rect x="621.00" y="135.43" width="10.00" height="1.10" fill="#6a9fd6" stroke="none" stroke-width="0" />
<rect x="621.00" y="136.48" width="10.00" height="1.10" fill="#ef7d2d" stroke="none" stroke-width="0" />
<rect x="621.00" y="137.53" width="10.00" height="1.10" fill="#ef7d2d" stroke="none" stroke-width="0" />
<rect x="621.00" y="138.57" width="10.00" height="1.10" fill="#ef7d2d" stroke="none" stroke-width="0" />
<rect x="621.00" y="139.62" width="10.00" height="1.10" fill="#6a9fd6" stroke="none" stroke-width="0" />
<rect x="621.00" y="140.66" width="10.00" height="1.10" fill="#6a9fd6" stroke="none" stroke-width="0" />
<rect x="621.00" y="141.71" width="10.00" height="1.10" fill="#6a9fd6" stroke="none" stroke-width="0" />
<rect x="621.00" y="142.76" width="10.00" height="1.10" fill="#6a9fd6" stroke="none" stroke-width="0" />
<rect x="621.00" y="143.80" width="10.00" height="1.10" fill="#6a9fd6" stroke="none" stroke-width="0" />
<rect x="621.00" y="144.85" width="10.00" height="1.10" fill="#6a9fd6" stroke="none" stroke-width="0" />
<rect x="621.00" y="145.90" width="10.00" height="1.10" fill="#6a9fd6" stroke="none" stroke-width="0" />
<rect x="621.00" y="146.94" width="10.00" height="1.10" fill="#b08878" stroke="none" stroke-width="0" />
<rect x="621.00" y="147.99" width="10.00" height="1.10" fill="#6a9fd6" stroke="none" stroke-width="0" />
<rect x="621.00" y="149.04" width="10.00" height="1.10" fill="#6a9fd6" stroke="none" stroke-width="0" />
<rect x="621.00" y="150.08" width="10.00" height="1.10" fill="#6a9fd6" stroke="none" stroke-width="0" />
<rect x="621.00" y="151.13" width="10.00" height="1.10" fill="#6a9fd6" stroke="none" stroke-width="0" />
<rect x="621.00" y="152.18" width="10.00" height="1.10" fill="#6a9fd6" stroke="none" stroke-width="0" />
<rect x="621.00" y="153.22" width="10.00" height="1.10" fill="#6a9fd6" stroke="none" stroke-width="0" />
<rect x="621.00" y="154.27" width="10.00" height="1.10" fill="#6a9fd6" stroke="none" stroke-width="0" />
<rect x="621.00" y="155.31" width="10.00" height="1.10" fill="#6a9fd6" stroke="none" stroke-width="0" />
<rect x="621.00" y="156.36" width="10.00" height="1.10" fill="#6a9fd6" stroke="none" stroke-width="0" />
<rect x="621.00" y="157.41" width="10.00" height="1.10" fill="#6a9fd6" stroke="none" stroke-width="0" />
<rect x="621.00" y="158.45" width="10.00" height="1.10" fill="#6a9fd6" stroke="none" stroke-width="0" />
<rect x="621.00" y="161.60" width="10.00" height="1.10" fill="#ef7d2d" stroke="none" stroke-width="0" />
<rect x="621.00" y="162.65" width="10.00" height="1.10" fill="#ef7d2d" stroke="none" stroke-width="0" />
<rect x="621.00" y="163.71" width="10.00" height="1.10" fill="#ef7d2d" stroke="none" stroke-width="0" />
<rect x="621.00" y="164.76" width="10.00" height="1.10" fill="#ef7d2d" stroke="none" stroke-width="0" />
<rect x="621.00" y="165.81" width="10.00" height="1.10" fill="#ef7d2d" stroke="none" stroke-width="0" />
<rect x="621.00" y="166.86" width="10.00" height="1.10" fill="#ef7d2d" stroke="none" stroke-width="0" />
<rect x="621.00" y="167.92" width="10.00" height="1.10" fill="#ef7d2d" stroke="none" stroke-width="0" />
<rect x="621.00" y="168.97" width="10.00" height="1.10" fill="#b08878" stroke="none" stroke-width="0" />
<rect x="621.00" y="170.02" width="10.00" height="1.10" fill="#ef7d2d" stroke="none" stroke-width="0" />
<rect x="621.00" y="171.07" width="10.00" height="1.10" fill="#ef7d2d" stroke="none" stroke-width="0" />
<rect x="621.00" y="172.13" width="10.00" height="1.10" fill="#ef7d2d" stroke="none" stroke-width="0" />
<rect x="621.00" y="173.18" width="10.00" height="1.10" fill="#ef7d2d" stroke="none" stroke-width="0" />
<rect x="621.00" y="174.23" width="10.00" height="1.10" fill="#ef7d2d" stroke="none" stroke-width="0" />
<rect x="621.00" y="175.29" width="10.00" height="1.10" fill="#ef7d2d" stroke="none" stroke-width="0" />
<rect x="621.00" y="176.34" width="10.00" height="1.10" fill="#ef7d2d" stroke="none" stroke-width="0" />
<rect x="621.00" y="177.39" width="10.00" height="1.10" fill="#ef7d2d" stroke="none" stroke-width="0" />
<rect x="621.00" y="178.44" width="10.00" height="1.10" fill="#ef7d2d" stroke="none" stroke-width="0" />
<rect x="621.00" y="179.50" width="10.00" height="1.10" fill="#ef7d2d" stroke="none" stroke-width="0" />
<rect x="621.00" y="180.55" width="10.00" height="1.10" fill="#ef7d2d" stroke="none" stroke-width="0" />
<rect x="621.00" y="181.60" width="10.00" height="1.10" fill="#ef7d2d" stroke="none" stroke-width="0" />
<rect x="621.00" y="182.66" width="10.00" height="1.10" fill="#ef7d2d" stroke="none" stroke-width="0" />
<rect x="621.00" y="183.71" width="10.00" height="1.10" fill="#ef7d2d" stroke="none" stroke-width="0" />
<rect x="621.00" y="184.76" width="10.00" height="1.10" fill="#ef7d2d" stroke="none" stroke-width="0" />
<rect x="621.00" y="185.81" width="10.00" height="1.10" fill="#ef7d2d" stroke="none" stroke-width="0" />
<rect x="621.00" y="186.87" width="10.00" height="1.10" fill="#b08878" stroke="none" stroke-width="0" />
<rect x="621.00" y="187.92" width="10.00" height="1.10" fill="#ef7d2d" stroke="none" stroke-width="0" />
<rect x="621.00" y="188.97" width="10.00" height="1.10" fill="#b08878" stroke="none" stroke-width="0" />
<rect x="621.00" y="190.03" width="10.00" height="1.10" fill="#ef7d2d" stroke="none" stroke-width="0" />
<rect x="621.00" y="191.08" width="10.00" height="1.10" fill="#ef7d2d" stroke="none" stroke-width="0" />
<rect x="621.00" y="192.13" width="10.00" height="1.10" fill="#ef7d2d" stroke="none" stroke-width="0" />
<rect x="621.00" y="193.18" width="10.00" height="1.10" fill="#ef7d2d" stroke="none" stroke-width="0" />
<rect x="621.00" y="194.24" width="10.00" height="1.10" fill="#ef7d2d" stroke="none" stroke-width="0" />
<rect x="621.00" y="195.29" width="10.00" height="1.10" fill="#ef7d2d" stroke="none" stroke-width="0" />
<rect x="621.00" y="196.34" width="10.00" height="1.10" fill="#b08878" stroke="none" stroke-width="0" />
<rect x="621.00" y="197.39" width="10.00" height="1.10" fill="#ef7d2d" stroke="none" stroke-width="0" />
<rect x="621.00" y="198.45" width="10.00" height="1.10" fill="#ef7d2d" stroke="none" stroke-width="0" />
<rect x="621.00" y="199.50" width="10.00" height="1.10" fill="#ef7d2d" stroke="none" stroke-width="0" />
<rect x="621.00" y="200.55" width="10.00" height="1.10" fill="#ef7d2d" stroke="none" stroke-width="0" />
<rect x="621.00" y="201.61" width="10.00" height="1.10" fill="#b08878" stroke="none" stroke-width="0" />
<rect x="621.00" y="202.66" width="10.00" height="1.10" fill="#ef7d2d" stroke="none" stroke-width="0" />
<rect x="621.00" y="203.71" width="10.00" height="1.10" fill="#b08878" stroke="none" stroke-width="0" />
<rect x="621.00" y="204.76" width="10.00" height="1.10" fill="#ef7d2d" stroke="none" stroke-width="0" />
<rect x="621.00" y="205.82" width="10.00" height="1.10" fill="#ef7d2d" stroke="none" stroke-width="0" />
<rect x="621.00" y="206.87" width="10.00" height="1.10" fill="#ef7d2d" stroke="none" stroke-width="0" />
<rect x="621.00" y="207.92" width="10.00" height="1.10" fill="#ef7d2d" stroke="none" stroke-width="0" />
<rect x="621.00" y="208.98" width="10.00" height="1.10" fill="#ef7d2d" stroke="none" stroke-width="0" />
<rect x="621.00" y="210.03" width="10.00" height="1.10" fill="#ef7d2d" stroke="none" stroke-width="0" />
<rect x="621.00" y="211.08" width="10.00" height="1.10" fill="#ef7d2d" stroke="none" stroke-width="0" />
<rect x="621.00" y="212.13" width="10.00" height="1.10" fill="#ef7d2d" stroke="none" stroke-width="0" />
<rect x="621.00" y="213.19" width="10.00" height="1.10" fill="#ef7d2d" stroke="none" stroke-width="0" />
<rect x="621.00" y="214.24" width="10.00" height="1.10" fill="#ef7d2d" stroke="none" stroke-width="0" />
<rect x="621.00" y="215.29" width="10.00" height="1.10" fill="#ef7d2d" stroke="none" stroke-width="0" />
<rect x="621.00" y="216.34" width="10.00" height="1.10" fill="#ef7d2d" stroke="none" stroke-width="0" />
<rect x="621.00" y="217.40" width="10.00" height="1.10" fill="#ef7d2d" stroke="none" stroke-width="0" />
<rect x="621.00" y="218.45" width="10.00" height="1.10" fill="#ef7d2d" stroke="none" stroke-width="0" />
<rect x="621.00" y="219.50" width="10.00" height="1.10" fill="#ef7d2d" stroke="none" stroke-width="0" />
<rect x="621.00" y="220.56" width="10.00" height="1.10" fill="#ef7d2d" stroke="none" stroke-width="0" />
<rect x="621.00" y="221.61" width="10.00" height="1.10" fill="#ef7d2d" stroke="none" stroke-width="0" />
<rect x="621.00" y="222.66" width="10.00" height="1.10" fill="#ef7d2d" stroke="none" stroke-width="0" />
<rect x="621.00" y="223.71" width="10.00" height="1.10" fill="#ef7d2d" stroke="none" stroke-width="0" />
<rect x="621.00" y="224.77" width="10.00" height="1.10" fill="#ef7d2d" stroke="none" stroke-width="0" />
<rect x="621.00" y="225.82" width="10.00" height="1.10" fill="#ef7d2d" stroke="none" stroke-width="0" />
<rect x="621.00" y="226.87" width="10.00" height="1.10" fill="#ef7d2d" stroke="none" stroke-width="0" />
<rect x="621.00" y="227.93" width="10.00" height="1.10" fill="#ef7d2d" stroke="none" stroke-width="0" />
<rect x="621.00" y="228.98" width="10.00" height="1.10" fill="#ef7d2d" stroke="none" stroke-width="0" />
<rect x="621.00" y="230.03" width="10.00" height="1.10" fill="#ef7d2d" stroke="none" stroke-width="0" />
<rect x="621.00" y="231.08" width="10.00" height="1.10" fill="#ef7d2d" stroke="none" stroke-width="0" />
<rect x="621.00" y="232.14" width="10.00" height="1.10" fill="#ef7d2d" stroke="none" stroke-width="0" />
<rect x="621.00" y="233.19" width="10.00" height="1.10" fill="#ef7d2d" stroke="none" stroke-width="0" />
<rect x="621.00" y="234.24" width="10.00" height="1.10" fill="#ef7d2d" stroke="none" stroke-width="0" />
<rect x="621.00" y="235.29" width="10.00" height="1.10" fill="#ef7d2d" stroke="none" stroke-width="0" />
<rect x="621.00" y="236.35" width="10.00" height="1.10" fill="#ef7d2d" stroke="none" stroke-width="0" />
<rect x="621.00" y="237.40" width="10.00" height="1.10" fill="#b08878" stroke="none" stroke-width="0" />
<rect x="621.00" y="238.45" width="10.00" height="1.10" fill="#ef7d2d" stroke="none" stroke-width="0" />
<rect x="621.00" y="239.51" width="10.00" height="1.10" fill="#ef7d2d" stroke="none" stroke-width="0" />
<rect x="621.00" y="240.56" width="10.00" height="1.10" fill="#ef7d2d" stroke="none" stroke-width="0" />
<rect x="621.00" y="241.61" width="10.00" height="1.10" fill="#b08878" stroke="none" stroke-width="0" />
<rect x="621.00" y="242.66" width="10.00" height="1.10" fill="#ef7d2d" stroke="none" stroke-width="0" />
<rect x="621.00" y="243.72" width="10.00" height="1.10" fill="#ef7d2d" stroke="none" stroke-width="0" />
<rect x="621.00" y="244.77" width="10.00" height="1.10" fill="#ef7d2d" stroke="none" stroke-width="0" />
<rect x="621.00" y="245.82" width="10.00" height="1.10" fill="#ef7d2d" stroke="none" stroke-width="0" />
<rect x="621.00" y="246.88" width="10.00" height="1.10" fill="#ef7d2d" stroke="none" stroke-width="0" />
<rect x="621.00" y="247.93" width="10.00" height="1.10" fill="#ef7d2d" stroke="none" stroke-width="0" />
<rect x="621.00" y="248.98" width="10.00" height="1.10" fill="#6a9fd6" stroke="none" stroke-width="0" />
<rect x="621.00" y="250.03" width="10.00" height="1.10" fill="#ef7d2d" stroke="none" stroke-width="0" />
<rect x="621.00" y="251.09" width="10.00" height="1.10" fill="#ef7d2d" stroke="none" stroke-width="0" />
<rect x="621.00" y="252.14" width="10.00" height="1.10" fill="#ef7d2d" stroke="none" stroke-width="0" />
<rect x="621.00" y="253.19" width="10.00" height="1.10" fill="#6a9fd6" stroke="none" stroke-width="0" />
<rect x="621.00" y="254.24" width="10.00" height="1.10" fill="#ef7d2d" stroke="none" stroke-width="0" />
<rect x="621.00" y="255.30" width="10.00" height="1.10" fill="#ef7d2d" stroke="none" stroke-width="0" />
<rect x="621.00" y="256.35" width="10.00" height="1.10" fill="#ef7d2d" stroke="none" stroke-width="0" />
<rect x="621.00" y="257.40" width="10.00" height="1.10" fill="#6a9fd6" stroke="none" stroke-width="0" />
<rect x="621.00" y="258.46" width="10.00" height="1.10" fill="#b08878" stroke="none" stroke-width="0" />
<rect x="621.00" y="259.51" width="10.00" height="1.10" fill="#ef7d2d" stroke="none" stroke-width="0" />
<rect x="621.00" y="260.56" width="10.00" height="1.10" fill="#6a9fd6" stroke="none" stroke-width="0" />
<rect x="621.00" y="261.61" width="10.00" height="1.10" fill="#ef7d2d" stroke="none" stroke-width="0" />
<rect x="621.00" y="262.67" width="10.00" height="1.10" fill="#ef7d2d" stroke="none" stroke-width="0" />
<rect x="621.00" y="263.72" width="10.00" height="1.10" fill="#b08878" stroke="none" stroke-width="0" />
<rect x="621.00" y="264.77" width="10.00" height="1.10" fill="#ef7d2d" stroke="none" stroke-width="0" />
<rect x="621.00" y="265.83" width="10.00" height="1.10" fill="#6a9fd6" stroke="none" stroke-width="0" />
<rect x="621.00" y="266.88" width="10.00" height="1.10" fill="#ef7d2d" stroke="none" stroke-width="0" />
<rect x="621.00" y="267.93" width="10.00" height="1.10" fill="#b08878" stroke="none" stroke-width="0" />
<rect x="621.00" y="268.98" width="10.00" height="1.10" fill="#6a9fd6" stroke="none" stroke-width="0" />
<rect x="621.00" y="270.04" width="10.00" height="1.10" fill="#b08878" stroke="none" stroke-width="0" />
<rect x="621.00" y="271.09" width="10.00" height="1.10" fill="#b08878" stroke="none" stroke-width="0" />
<rect x="621.00" y="272.14" width="10.00" height="1.10" fill="#6a9fd6" stroke="none" stroke-width="0" />
<rect x="621.00" y="273.19" width="10.00" height="1.10" fill="#b08878" stroke="none" stroke-width="0" />
<rect x="621.00" y="274.25" width="10.00" height="1.10" fill="#ef7d2d" stroke="none" stroke-width="0" />
<rect x="621.00" y="277.60" width="10.00" height="1.11" fill="#6a9fd6" stroke="none" stroke-width="0" />
<rect x="621.00" y="278.66" width="10.00" height="1.11" fill="#b08878" stroke="none" stroke-width="0" />
<rect x="621.00" y="279.71" width="10.00" height="1.11" fill="#6a9fd6" stroke="none" stroke-width="0" />
<rect x="621.00" y="280.77" width="10.00" height="1.11" fill="#b08878" stroke="none" stroke-width="0" />
<rect x="621.00" y="281.83" width="10.00" height="1.11" fill="#6a9fd6" stroke="none" stroke-width="0" />
<rect x="621.00" y="282.88" width="10.00" height="1.11" fill="#6a9fd6" stroke="none" stroke-width="0" />
<rect x="621.00" y="283.94" width="10.00" height="1.11" fill="#6a9fd6" stroke="none" stroke-width="0" />
<rect x="621.00" y="285.00" width="10.00" height="1.11" fill="#b08878" stroke="none" stroke-width="0" />
<rect x="621.00" y="286.05" width="10.00" height="1.11" fill="#b08878" stroke="none" stroke-width="0" />
<rect x="621.00" y="287.11" width="10.00" height="1.11" fill="#6a9fd6" stroke="none" stroke-width="0" />
<rect x="621.00" y="288.17" width="10.00" height="1.11" fill="#b08878" stroke="none" stroke-width="0" />
<rect x="621.00" y="289.23" width="10.00" height="1.11" fill="#b08878" stroke="none" stroke-width="0" />
<rect x="621.00" y="290.28" width="10.00" height="1.11" fill="#6a9fd6" stroke="none" stroke-width="0" />
<rect x="621.00" y="291.34" width="10.00" height="1.11" fill="#b08878" stroke="none" stroke-width="0" />
<rect x="621.00" y="292.40" width="10.00" height="1.11" fill="#b08878" stroke="none" stroke-width="0" />
<rect x="621.00" y="293.45" width="10.00" height="1.11" fill="#6a9fd6" stroke="none" stroke-width="0" />
<rect x="621.00" y="294.51" width="10.00" height="1.11" fill="#6a9fd6" stroke="none" stroke-width="0" />
<rect x="621.00" y="295.57" width="10.00" height="1.11" fill="#6a9fd6" stroke="none" stroke-width="0" />
<rect x="621.00" y="296.62" width="10.00" height="1.11" fill="#6a9fd6" stroke="none" stroke-width="0" />
<rect x="621.00" y="297.68" width="10.00" height="1.11" fill="#6a9fd6" stroke="none" stroke-width="0" />
<rect x="621.00" y="298.74" width="10.00" height="1.11" fill="#ef7d2d" stroke="none" stroke-width="0" />
<rect x="621.00" y="299.79" width="10.00" height="1.11" fill="#ef7d2d" stroke="none" stroke-width="0" />
<rect x="621.00" y="300.85" width="10.00" height="1.11" fill="#ef7d2d" stroke="none" stroke-width="0" />
<rect x="621.00" y="301.91" width="10.00" height="1.11" fill="#ef7d2d" stroke="none" stroke-width="0" />
<rect x="621.00" y="302.96" width="10.00" height="1.11" fill="#ef7d2d" stroke="none" stroke-width="0" />
<rect x="621.00" y="304.02" width="10.00" height="1.11" fill="#6a9fd6" stroke="none" stroke-width="0" />
<rect x="621.00" y="305.08" width="10.00" height="1.11" fill="#6a9fd6" stroke="none" stroke-width="0" />
<rect x="621.00" y="306.13" width="10.00" height="1.11" fill="#6a9fd6" stroke="none" stroke-width="0" />
<rect x="621.00" y="307.19" width="10.00" height="1.11" fill="#6a9fd6" stroke="none" stroke-width="0" />
<rect x="621.00" y="308.25" width="10.00" height="1.11" fill="#6a9fd6" stroke="none" stroke-width="0" />
<rect x="621.00" y="309.30" width="10.00" height="1.11" fill="#6a9fd6" stroke="none" stroke-width="0" />
<rect x="621.00" y="310.36" width="10.00" height="1.11" fill="#b08878" stroke="none" stroke-width="0" />
<rect x="621.00" y="311.42" width="10.00" height="1.11" fill="#6a9fd6" stroke="none" stroke-width="0" />
<rect x="621.00" y="312.48" width="10.00" height="1.11" fill="#6a9fd6" stroke="none" stroke-width="0" />
<rect x="621.00" y="313.53" width="10.00" height="1.11" fill="#6a9fd6" stroke="none" stroke-width="0" />
<rect x="621.00" y="314.59" width="10.00" height="1.11" fill="#b08878" stroke="none" stroke-width="0" />
<rect x="621.00" y="315.65" width="10.00" height="1.11" fill="#6a9fd6" stroke="none" stroke-width="0" />
<rect x="621.00" y="316.70" width="10.00" height="1.11" fill="#6a9fd6" stroke="none" stroke-width="0" />
<rect x="621.00" y="317.76" width="10.00" height="1.11" fill="#6a9fd6" stroke="none" stroke-width="0" />
<rect x="621.00" y="318.82" width="10.00" height="1.11" fill="#6a9fd6" stroke="none" stroke-width="0" />
<rect x="621.00" y="319.87" width="10.00" height="1.11" fill="#6a9fd6" stroke="none" stroke-width="0" />
<rect x="621.00" y="320.93" width="10.00" height="1.11" fill="#6a9fd6" stroke="none" stroke-width="0" />
<rect x="621.00" y="321.99" width="10.00" height="1.11" fill="#6a9fd6" stroke="none" stroke-width="0" />
<rect x="621.00" y="323.04" width="10.00" height="1.11" fill="#6a9fd6" stroke="none" stroke-width="0" />
<line x1="215.60" y1="143.20" x2="215.60" y2="300.00" stroke="#222" stroke-width="1.2" />
<text x="225.00" y="144.60" font-size="8.8" font-weight="normal" font-style="normal" fill="#222" text-anchor="middle" stroke="#222" stroke-width="0.28" transform="rotate(-90 225.00 144.60)" >Gained</text>
<text x="225.00" y="219.30" font-size="8.8" font-weight="normal" font-style="normal" fill="#222" text-anchor="middle" stroke="#222" stroke-width="0.28" transform="rotate(-90 225.00 219.30)" >Shared</text>
<text x="225.00" y="299.00" font-size="8.8" font-weight="normal" font-style="normal" fill="#222" text-anchor="middle" stroke="#222" stroke-width="0.28" transform="rotate(-90 225.00 299.00)" >Absent</text>
<text x="212.00" y="219.30" font-size="8.7" font-weight="bold" font-style="normal" fill="#111" text-anchor="middle" stroke="#111" stroke-width="0.12" transform="rotate(-90 212.00 219.30)" >Zygotic</text>
<text x="634.00" y="133.00" font-size="8" font-weight="normal" font-style="normal" fill="#222" text-anchor="start" stroke="#222" stroke-width="0.28" >log fold</text>
<text x="634.00" y="141.40" font-size="8" font-weight="normal" font-style="normal" fill="#222" text-anchor="start" stroke="#222" stroke-width="0.28" >change</text>
<defs><linearGradient id="lfc" x1="0" y1="0" x2="0" y2="1">
<stop offset="0" stop-color="#d6302b"/><stop offset="0.25" stop-color="#f4a887"/><stop offset="0.5" stop-color="#ffffff"/><stop offset="0.75" stop-color="#9278bc"/><stop offset="1" stop-color="#3a3e96"/></linearGradient></defs>
<rect x="635.00" y="145.60" width="10.00" height="68.80" fill="url(#lfc)" stroke="none" stroke-width="0" />
<line x1="635.00" y1="148.00" x2="637.00" y2="148.00" stroke="#fff" stroke-width="0.8" />
<line x1="643.00" y1="148.00" x2="645.00" y2="148.00" stroke="#fff" stroke-width="0.8" />
<text x="648.00" y="150.90" font-size="8" font-weight="normal" font-style="normal" fill="#222" text-anchor="start" stroke="#222" stroke-width="0.28" >2</text>
<line x1="635.00" y1="164.40" x2="637.00" y2="164.40" stroke="#fff" stroke-width="0.8" />
<line x1="643.00" y1="164.40" x2="645.00" y2="164.40" stroke="#fff" stroke-width="0.8" />
<text x="648.00" y="167.30" font-size="8" font-weight="normal" font-style="normal" fill="#222" text-anchor="start" stroke="#222" stroke-width="0.28" >1</text>
<line x1="635.00" y1="180.20" x2="637.00" y2="180.20" stroke="#fff" stroke-width="0.8" />
<line x1="643.00" y1="180.20" x2="645.00" y2="180.20" stroke="#fff" stroke-width="0.8" />
<text x="648.00" y="183.10" font-size="8" font-weight="normal" font-style="normal" fill="#222" text-anchor="start" stroke="#222" stroke-width="0.28" >0</text>
<line x1="635.00" y1="196.40" x2="637.00" y2="196.40" stroke="#fff" stroke-width="0.8" />
<line x1="643.00" y1="196.40" x2="645.00" y2="196.40" stroke="#fff" stroke-width="0.8" />
<text x="648.00" y="199.30" font-size="8" font-weight="normal" font-style="normal" fill="#222" text-anchor="start" stroke="#222" stroke-width="0.28" >-1</text>
<line x1="635.00" y1="212.40" x2="637.00" y2="212.40" stroke="#fff" stroke-width="0.8" />
<line x1="643.00" y1="212.40" x2="645.00" y2="212.40" stroke="#fff" stroke-width="0.8" />
<text x="648.00" y="215.30" font-size="8" font-weight="normal" font-style="normal" fill="#222" text-anchor="start" stroke="#222" stroke-width="0.28" >-2</text>
<text x="634.00" y="228.20" font-size="8" font-weight="normal" font-style="normal" fill="#222" text-anchor="start" stroke="#222" stroke-width="0.28" >Differential</text>
<text x="634.00" y="235.40" font-size="8" font-weight="normal" font-style="normal" fill="#222" text-anchor="start" stroke="#222" stroke-width="0.28" >expression</text>
<rect x="634.40" y="239.60" width="10.20" height="11.40" fill="#2b2f82" stroke="none" stroke-width="0" />
<text x="648.00" y="248.40" font-size="8" font-weight="normal" font-style="normal" fill="#222" text-anchor="start" stroke="#222" stroke-width="0.28" >down</text>
<rect x="634.40" y="253.00" width="10.20" height="11.20" fill="#d42a38" stroke="none" stroke-width="0" />
<text x="648.00" y="262.40" font-size="8" font-weight="normal" font-style="normal" fill="#222" text-anchor="start" stroke="#222" stroke-width="0.28" >up</text>
<rect x="634.40" y="266.20" width="10.20" height="11.20" fill="#c2c2c2" stroke="none" stroke-width="0" />
<text x="648.00" y="276.40" font-size="8" font-weight="normal" font-style="normal" fill="#222" text-anchor="start" stroke="#222" stroke-width="0.28" >no change</text>
<text x="634.00" y="289.80" font-size="8" font-weight="normal" font-style="normal" fill="#222" text-anchor="start" stroke="#222" stroke-width="0.28" >RNA</text>
<text x="634.00" y="296.80" font-size="8" font-weight="normal" font-style="normal" fill="#222" text-anchor="start" stroke="#222" stroke-width="0.28" >dynamic</text>
<rect x="634.40" y="301.60" width="10.20" height="10.80" fill="#ef7d2d" stroke="none" stroke-width="0" />
<text x="648.00" y="308.90" font-size="8" font-weight="normal" font-style="normal" fill="#222" text-anchor="start" stroke="#222" stroke-width="0.28" >GZ</text>
<rect x="634.40" y="314.20" width="10.20" height="11.20" fill="#6a9fd6" stroke="none" stroke-width="0" />
<text x="648.00" y="322.90" font-size="8" font-weight="normal" font-style="normal" fill="#222" text-anchor="start" stroke="#222" stroke-width="0.28" >ZS</text>
<text x="3.00" y="368.80" font-size="12" font-weight="bold" font-style="normal" fill="#111" text-anchor="start" stroke="#111" stroke-width="0.12" >e</text>
<text x="32.80" y="374.40" font-size="10.2" font-weight="bold" font-style="normal" fill="#111" text-anchor="start" stroke="#111" stroke-width="0.12" textLength="32.20" lengthAdjust="spacingAndGlyphs" >Shared</text>
<text x="68.60" y="374.40" font-size="10.2" font-weight="normal" font-style="normal" fill="#222" text-anchor="start" stroke="#222" stroke-width="0.28" textLength="33.60" lengthAdjust="spacingAndGlyphs" >(7.5hpf)</text>
<line x1="30.00" y1="380.40" x2="30.00" y2="458.70" stroke="#111" stroke-width="1.3" />
<line x1="29.40" y1="458.00" x2="134.00" y2="458.00" stroke="#111" stroke-width="1.3" />
<line x1="27.60" y1="387.80" x2="30.00" y2="387.80" stroke="#111" stroke-width="0.8" />
<text x="27.20" y="390.70" font-size="8.2" font-weight="normal" font-style="normal" fill="#222" text-anchor="end" stroke="#222" stroke-width="0.28" >1</text>
<line x1="27.60" y1="410.20" x2="30.00" y2="410.20" stroke="#111" stroke-width="0.8" />
<text x="27.20" y="413.10" font-size="8.2" font-weight="normal" font-style="normal" fill="#222" text-anchor="end" stroke="#222" stroke-width="0.28" >0</text>
<line x1="27.60" y1="432.60" x2="30.00" y2="432.60" stroke="#111" stroke-width="0.8" />
<text x="27.20" y="435.50" font-size="8.2" font-weight="normal" font-style="normal" fill="#222" text-anchor="end" stroke="#222" stroke-width="0.28" >−1</text>
<line x1="27.60" y1="455.00" x2="30.00" y2="455.00" stroke="#111" stroke-width="0.8" />
<text x="27.20" y="457.90" font-size="8.2" font-weight="normal" font-style="normal" fill="#222" text-anchor="end" stroke="#222" stroke-width="0.28" >−2</text>
<path d="M49.60,399.00C50.22,399.67 51.68,401.67 53.30,403.00C54.92,404.33 57.23,405.70 59.30,407.00C61.37,408.30 65.53,409.72 65.70,410.80C65.87,411.88 62.12,412.55 60.30,413.50C58.48,414.45 56.30,415.42 54.80,416.50C53.30,417.58 52.08,418.75 51.30,420.00C50.52,421.25 50.38,422.67 50.10,424.00C49.82,425.33 49.68,427.33 49.60,428.00L49.00,428.00C48.92,427.33 48.78,425.33 48.50,424.00C48.22,422.67 48.08,421.25 47.30,420.00C46.52,418.75 45.30,417.58 43.80,416.50C42.30,415.42 40.12,414.45 38.30,413.50C36.48,412.55 32.73,411.88 32.90,410.80C33.07,409.72 37.23,408.30 39.30,407.00C41.37,405.70 43.68,404.33 45.30,403.00C46.92,401.67 48.38,399.67 49.00,399.00Z" fill="#ddd7c2" stroke="#222" stroke-width="0.7"/>
<line x1="49.30" y1="398.50" x2="49.30" y2="428.70" stroke="#111" stroke-width="0.8" />
<line x1="49.30" y1="398.50" x2="49.30" y2="403.00" stroke="#111" stroke-width="1.9" />
<line x1="49.30" y1="419.00" x2="49.30" y2="428.70" stroke="#111" stroke-width="1.9" />
<rect x="46.40" y="408.60" width="5.80" height="4.70" fill="#fff" stroke="#111" stroke-width="0.8" />
<line x1="46.40" y1="410.80" x2="52.20" y2="410.80" stroke="#111" stroke-width="1.1" />
<path d="M83.20,398.00C83.65,398.50 84.70,400.00 85.90,401.00C87.10,402.00 88.90,403.00 90.40,404.00C91.90,405.00 93.60,406.00 94.90,407.00C96.20,408.00 97.47,409.00 98.20,410.00C98.93,411.00 99.60,412.00 99.30,413.00C99.00,414.00 97.72,415.00 96.40,416.00C95.08,417.00 92.90,418.00 91.40,419.00C89.90,420.00 88.35,421.00 87.40,422.00C86.45,423.00 86.15,424.00 85.70,425.00C85.25,426.00 84.98,426.83 84.70,428.00C84.42,429.17 84.20,430.00 84.00,432.00C83.80,434.00 83.63,437.67 83.50,440.00C83.37,442.33 83.25,445.00 83.20,446.00L82.60,446.00C82.55,445.00 82.43,442.33 82.30,440.00C82.17,437.67 82.00,434.00 81.80,432.00C81.60,430.00 81.38,429.17 81.10,428.00C80.82,426.83 80.55,426.00 80.10,425.00C79.65,424.00 79.35,423.00 78.40,422.00C77.45,421.00 75.90,420.00 74.40,419.00C72.90,418.00 70.72,417.00 69.40,416.00C68.08,415.00 66.80,414.00 66.50,413.00C66.20,412.00 66.87,411.00 67.60,410.00C68.33,409.00 69.60,408.00 70.90,407.00C72.20,406.00 73.90,405.00 75.40,404.00C76.90,403.00 78.70,402.00 79.90,401.00C81.10,400.00 82.15,398.50 82.60,398.00Z" fill="#efb652" stroke="#222" stroke-width="0.7"/>
<line x1="82.90" y1="386.00" x2="82.90" y2="446.30" stroke="#111" stroke-width="0.8" />
<line x1="82.90" y1="388.00" x2="82.90" y2="401.00" stroke="#111" stroke-width="1.9" />
<line x1="82.90" y1="426.00" x2="82.90" y2="446.30" stroke="#111" stroke-width="1.9" />
<rect x="79.30" y="409.90" width="7.20" height="7.90" fill="#fff" stroke="#111" stroke-width="0.8" />
<line x1="79.30" y1="414.00" x2="86.50" y2="414.00" stroke="#111" stroke-width="1.1" />
<path d="M117.30,396.00C117.67,396.50 118.63,398.00 119.50,399.00C120.37,400.00 121.42,401.00 122.50,402.00C123.58,403.00 124.75,404.00 126.00,405.00C127.25,406.00 128.83,407.00 130.00,408.00C131.17,409.00 132.45,410.00 133.00,411.00C133.55,412.00 133.80,413.00 133.30,414.00C132.80,415.00 131.30,416.00 130.00,417.00C128.70,418.00 126.83,419.00 125.50,420.00C124.17,421.00 122.92,422.00 122.00,423.00C121.08,424.00 120.53,424.83 120.00,426.00C119.47,427.17 119.13,428.33 118.80,430.00C118.47,431.67 118.22,433.83 118.00,436.00C117.78,438.17 117.63,441.00 117.50,443.00C117.37,445.00 117.25,447.17 117.20,448.00L116.80,448.00C116.75,447.17 116.63,445.00 116.50,443.00C116.37,441.00 116.22,438.17 116.00,436.00C115.78,433.83 115.53,431.67 115.20,430.00C114.87,428.33 114.53,427.17 114.00,426.00C113.47,424.83 112.92,424.00 112.00,423.00C111.08,422.00 109.83,421.00 108.50,420.00C107.17,419.00 105.30,418.00 104.00,417.00C102.70,416.00 101.20,415.00 100.70,414.00C100.20,413.00 100.45,412.00 101.00,411.00C101.55,410.00 102.83,409.00 104.00,408.00C105.17,407.00 106.75,406.00 108.00,405.00C109.25,404.00 110.42,403.00 111.50,402.00C112.58,401.00 113.63,400.00 114.50,399.00C115.37,398.00 116.33,396.50 116.70,396.00Z" fill="#183a65" stroke="#222" stroke-width="0.7"/>
<line x1="117.00" y1="387.60" x2="117.00" y2="448.90" stroke="#111" stroke-width="0.8" />
<line x1="117.00" y1="388.00" x2="117.00" y2="398.00" stroke="#111" stroke-width="1.9" />
<line x1="117.00" y1="430.00" x2="117.00" y2="448.90" stroke="#111" stroke-width="1.9" />
<rect x="113.60" y="410.30" width="6.80" height="8.70" fill="#fff" stroke="#111" stroke-width="0.8" />
<line x1="113.60" y1="414.40" x2="120.40" y2="414.40" stroke="#111" stroke-width="1.1" />
<path d="M49.3,386.4V384.2H117.0V386.4" fill="none" stroke="#222" stroke-width="0.8"/>
<path d="M49.3,394.5V392.3H82.9V394.5" fill="none" stroke="#222" stroke-width="0.8"/>
<text x="98.65" y="383.60" font-size="7.5" font-weight="normal" font-style="normal" fill="#222" text-anchor="middle" stroke="#222" stroke-width="0.28" >****</text>
<text x="69.10" y="391.70" font-size="7.5" font-weight="normal" font-style="normal" fill="#222" text-anchor="middle" stroke="#222" stroke-width="0.28" >****</text>
<text x="43.50" y="469.00" font-size="8.2" font-weight="normal" font-style="normal" fill="#222" text-anchor="middle" stroke="#222" stroke-width="0.28" textLength="25.00" lengthAdjust="spacingAndGlyphs" >CtrlMO</text>
<text x="79.50" y="469.00" font-size="8.2" font-weight="normal" font-style="normal" fill="#222" text-anchor="middle" stroke="#222" stroke-width="0.28" textLength="37.00" lengthAdjust="spacingAndGlyphs" >Cxxc1 MO</text>
<text x="119.00" y="469.00" font-size="8.2" font-weight="normal" font-style="normal" fill="#222" text-anchor="middle" stroke="#222" stroke-width="0.28" textLength="37.00" lengthAdjust="spacingAndGlyphs" >Kmt2b MO</text>
<text x="15.90" y="421.20" font-size="7.8" font-weight="normal" font-style="normal" fill="#222" text-anchor="middle" stroke="#222" stroke-width="0.28" transform="rotate(-90 15.90 421.20)" >log fold change</text>
<text x="32.80" y="495.60" font-size="10.2" font-weight="bold" font-style="normal" fill="#111" text-anchor="start" stroke="#111" stroke-width="0.12" textLength="32.20" lengthAdjust="spacingAndGlyphs" >Gained</text>
<text x="68.60" y="495.60" font-size="10.2" font-weight="normal" font-style="normal" fill="#222" text-anchor="start" stroke="#222" stroke-width="0.28" textLength="33.60" lengthAdjust="spacingAndGlyphs" >(7.5hpf)</text>
<line x1="30.00" y1="501.70" x2="30.00" y2="578.40" stroke="#111" stroke-width="1.3" />
<line x1="29.40" y1="577.70" x2="134.00" y2="577.70" stroke="#111" stroke-width="1.3" />
<line x1="27.60" y1="508.20" x2="30.00" y2="508.20" stroke="#111" stroke-width="0.8" />
<text x="27.20" y="511.10" font-size="8.2" font-weight="normal" font-style="normal" fill="#222" text-anchor="end" stroke="#222" stroke-width="0.28" >1</text>
<line x1="27.60" y1="530.20" x2="30.00" y2="530.20" stroke="#111" stroke-width="0.8" />
<text x="27.20" y="533.10" font-size="8.2" font-weight="normal" font-style="normal" fill="#222" text-anchor="end" stroke="#222" stroke-width="0.28" >0</text>
<line x1="27.60" y1="552.20" x2="30.00" y2="552.20" stroke="#111" stroke-width="0.8" />
<text x="27.20" y="555.10" font-size="8.2" font-weight="normal" font-style="normal" fill="#222" text-anchor="end" stroke="#222" stroke-width="0.28" >−1</text>
<line x1="27.60" y1="574.20" x2="30.00" y2="574.20" stroke="#111" stroke-width="0.8" />
<text x="27.20" y="577.10" font-size="8.2" font-weight="normal" font-style="normal" fill="#222" text-anchor="end" stroke="#222" stroke-width="0.28" >−2</text>
<path d="M49.70,517.00C50.32,517.67 52.12,519.67 53.40,521.00C54.68,522.33 56.07,523.83 57.40,525.00C58.73,526.17 59.93,527.00 61.40,528.00C62.87,529.00 66.20,530.00 66.20,531.00C66.20,532.00 63.03,533.00 61.40,534.00C59.77,535.00 57.73,536.00 56.40,537.00C55.07,538.00 54.23,539.00 53.40,540.00C52.57,541.00 51.90,542.00 51.40,543.00C50.90,544.00 50.68,544.83 50.40,546.00C50.12,547.17 49.82,549.33 49.70,550.00L49.10,550.00C48.98,549.33 48.68,547.17 48.40,546.00C48.12,544.83 47.90,544.00 47.40,543.00C46.90,542.00 46.23,541.00 45.40,540.00C44.57,539.00 43.73,538.00 42.40,537.00C41.07,536.00 39.03,535.00 37.40,534.00C35.77,533.00 32.60,532.00 32.60,531.00C32.60,530.00 35.93,529.00 37.40,528.00C38.87,527.00 40.07,526.17 41.40,525.00C42.73,523.83 44.12,522.33 45.40,521.00C46.68,519.67 48.48,517.67 49.10,517.00Z" fill="#ddd7c2" stroke="#222" stroke-width="0.7"/>
<line x1="49.40" y1="516.00" x2="49.40" y2="555.20" stroke="#111" stroke-width="0.8" />
<line x1="49.40" y1="543.00" x2="49.40" y2="555.20" stroke="#111" stroke-width="1.9" />
<rect x="46.30" y="526.70" width="6.20" height="7.05" fill="#fff" stroke="#111" stroke-width="0.8" />
<line x1="46.30" y1="530.20" x2="52.50" y2="530.20" stroke="#111" stroke-width="1.1" />
<path d="M83.60,512.50C83.78,513.08 84.18,514.75 84.70,516.00C85.22,517.25 85.87,518.67 86.70,520.00C87.53,521.33 88.60,522.67 89.70,524.00C90.80,525.33 92.17,526.67 93.30,528.00C94.43,529.33 95.57,530.50 96.50,532.00C97.43,533.50 98.37,535.33 98.90,537.00C99.43,538.67 99.72,540.33 99.70,542.00C99.68,543.67 99.37,545.33 98.80,547.00C98.23,548.67 97.30,550.33 96.30,552.00C95.30,553.67 93.97,555.50 92.80,557.00C91.63,558.50 90.38,559.67 89.30,561.00C88.22,562.33 87.08,563.83 86.30,565.00C85.52,566.17 85.05,566.83 84.60,568.00C84.15,569.17 83.77,571.33 83.60,572.00L83.00,572.00C82.83,571.33 82.45,569.17 82.00,568.00C81.55,566.83 81.08,566.17 80.30,565.00C79.52,563.83 78.38,562.33 77.30,561.00C76.22,559.67 74.97,558.50 73.80,557.00C72.63,555.50 71.30,553.67 70.30,552.00C69.30,550.33 68.37,548.67 67.80,547.00C67.23,545.33 66.92,543.67 66.90,542.00C66.88,540.33 67.17,538.67 67.70,537.00C68.23,535.33 69.17,533.50 70.10,532.00C71.03,530.50 72.17,529.33 73.30,528.00C74.43,526.67 75.80,525.33 76.90,524.00C78.00,522.67 79.07,521.33 79.90,520.00C80.73,518.67 81.38,517.25 81.90,516.00C82.42,514.75 82.82,513.08 83.00,512.50Z" fill="#efb652" stroke="#222" stroke-width="0.7"/>
<line x1="83.30" y1="512.50" x2="83.30" y2="579.00" stroke="#111" stroke-width="0.8" />
<line x1="83.30" y1="568.00" x2="83.30" y2="579.00" stroke="#111" stroke-width="1.9" />
<rect x="79.95" y="534.40" width="6.70" height="15.20" fill="#fff" stroke="#111" stroke-width="0.8" />
<line x1="79.95" y1="541.70" x2="86.65" y2="541.70" stroke="#111" stroke-width="1.1" />
<path d="M118.00,512.50C118.20,513.08 118.50,514.75 119.20,516.00C119.90,517.25 120.95,518.67 122.20,520.00C123.45,521.33 125.28,522.67 126.70,524.00C128.12,525.33 129.62,526.67 130.70,528.00C131.78,529.33 132.65,530.50 133.20,532.00C133.75,533.50 133.95,535.33 134.00,537.00C134.05,538.67 133.97,540.33 133.50,542.00C133.03,543.67 132.17,545.33 131.20,547.00C130.23,548.67 128.87,550.33 127.70,552.00C126.53,553.67 125.28,555.33 124.20,557.00C123.12,558.67 122.03,560.50 121.20,562.00C120.37,563.50 119.73,564.67 119.20,566.00C118.67,567.33 118.20,569.33 118.00,570.00L117.40,570.00C117.20,569.33 116.73,567.33 116.20,566.00C115.67,564.67 115.03,563.50 114.20,562.00C113.37,560.50 112.28,558.67 111.20,557.00C110.12,555.33 108.87,553.67 107.70,552.00C106.53,550.33 105.17,548.67 104.20,547.00C103.23,545.33 102.37,543.67 101.90,542.00C101.43,540.33 101.35,538.67 101.40,537.00C101.45,535.33 101.65,533.50 102.20,532.00C102.75,530.50 103.62,529.33 104.70,528.00C105.78,526.67 107.28,525.33 108.70,524.00C110.12,522.67 111.95,521.33 113.20,520.00C114.45,518.67 115.50,517.25 116.20,516.00C116.90,514.75 117.20,513.08 117.40,512.50Z" fill="#183a65" stroke="#222" stroke-width="0.7"/>
<line x1="117.70" y1="513.00" x2="117.70" y2="572.00" stroke="#111" stroke-width="0.8" />
<rect x="114.40" y="533.30" width="6.60" height="13.00" fill="#fff" stroke="#111" stroke-width="0.8" />
<line x1="114.40" y1="539.20" x2="121.00" y2="539.20" stroke="#111" stroke-width="1.1" />
<path d="M49.4,506.4V504.2H117.7V506.4" fill="none" stroke="#222" stroke-width="0.8"/>
<path d="M49.4,514.2V512.0H83.3V514.2" fill="none" stroke="#222" stroke-width="0.8"/>
<text x="99.05" y="503.60" font-size="7.5" font-weight="normal" font-style="normal" fill="#222" text-anchor="middle" stroke="#222" stroke-width="0.28" >****</text>
<text x="69.35" y="511.40" font-size="7.5" font-weight="normal" font-style="normal" fill="#222" text-anchor="middle" stroke="#222" stroke-width="0.28" >****</text>
<text x="43.50" y="588.70" font-size="8.2" font-weight="normal" font-style="normal" fill="#222" text-anchor="middle" stroke="#222" stroke-width="0.28" textLength="25.00" lengthAdjust="spacingAndGlyphs" >CtrlMO</text>
<text x="79.50" y="588.70" font-size="8.2" font-weight="normal" font-style="normal" fill="#222" text-anchor="middle" stroke="#222" stroke-width="0.28" textLength="37.00" lengthAdjust="spacingAndGlyphs" >Cxxc1 MO</text>
<text x="119.00" y="588.70" font-size="8.2" font-weight="normal" font-style="normal" fill="#222" text-anchor="middle" stroke="#222" stroke-width="0.28" textLength="37.00" lengthAdjust="spacingAndGlyphs" >Kmt2b MO</text>
<text x="15.90" y="541.70" font-size="7.8" font-weight="normal" font-style="normal" fill="#222" text-anchor="middle" stroke="#222" stroke-width="0.28" transform="rotate(-90 15.90 541.70)" >log fold change</text>
<text x="148.60" y="369.00" font-size="12" font-weight="bold" font-style="normal" fill="#111" text-anchor="start" stroke="#111" stroke-width="0.12" >f</text>
<rect x="179.60" y="362.40" width="84.80" height="13.00" fill="#d9d9d9" stroke="#333" stroke-width="0.9" />
<rect x="179.6" y="375.40" width="84.8" height="100.20" fill="#fff"/>
<line x1="179.60" y1="381.80" x2="264.40" y2="381.80" stroke="#f2f2f2" stroke-width="0.5" />
<line x1="179.60" y1="401.00" x2="264.40" y2="401.00" stroke="#f2f2f2" stroke-width="0.5" />
<line x1="179.60" y1="420.20" x2="264.40" y2="420.20" stroke="#f2f2f2" stroke-width="0.5" />
<line x1="179.60" y1="439.40" x2="264.40" y2="439.40" stroke="#f2f2f2" stroke-width="0.5" />
<line x1="179.60" y1="458.60" x2="264.40" y2="458.60" stroke="#f2f2f2" stroke-width="0.5" />
<line x1="179.60" y1="391.40" x2="264.40" y2="391.40" stroke="#e6e6e6" stroke-width="0.8" />
<line x1="179.60" y1="410.60" x2="264.40" y2="410.60" stroke="#e6e6e6" stroke-width="0.8" />
<line x1="179.60" y1="429.80" x2="264.40" y2="429.80" stroke="#e6e6e6" stroke-width="0.8" />
<line x1="179.60" y1="449.00" x2="264.40" y2="449.00" stroke="#e6e6e6" stroke-width="0.8" />
<line x1="179.60" y1="468.20" x2="264.40" y2="468.20" stroke="#e6e6e6" stroke-width="0.8" />
<line x1="195.40" y1="375.40" x2="195.40" y2="475.60" stroke="#e6e6e6" stroke-width="0.8" />
<line x1="222.00" y1="375.40" x2="222.00" y2="475.60" stroke="#e6e6e6" stroke-width="0.8" />
<line x1="248.60" y1="375.40" x2="248.60" y2="475.60" stroke="#e6e6e6" stroke-width="0.8" />
<rect x="179.6" y="375.40" width="84.8" height="100.20" fill="none" stroke="#333" stroke-width="0.9"/>
<line x1="177.60" y1="391.40" x2="179.60" y2="391.40" stroke="#333" stroke-width="0.8" />
<text x="177.30" y="394.30" font-size="8.2" font-weight="normal" font-style="normal" fill="#333" text-anchor="end" stroke="#333" stroke-width="0.28" >0.5</text>
<line x1="177.60" y1="410.60" x2="179.60" y2="410.60" stroke="#333" stroke-width="0.8" />
<text x="177.30" y="413.50" font-size="8.2" font-weight="normal" font-style="normal" fill="#333" text-anchor="end" stroke="#333" stroke-width="0.28" >0</text>
<line x1="177.60" y1="429.80" x2="179.60" y2="429.80" stroke="#333" stroke-width="0.8" />
<text x="177.30" y="432.70" font-size="8.2" font-weight="normal" font-style="normal" fill="#333" text-anchor="end" stroke="#333" stroke-width="0.28" >-0.5</text>
<line x1="177.60" y1="449.00" x2="179.60" y2="449.00" stroke="#333" stroke-width="0.8" />
<text x="177.30" y="451.90" font-size="8.2" font-weight="normal" font-style="normal" fill="#333" text-anchor="end" stroke="#333" stroke-width="0.28" >-1</text>
<line x1="177.60" y1="468.20" x2="179.60" y2="468.20" stroke="#333" stroke-width="0.8" />
<text x="177.30" y="471.10" font-size="8.2" font-weight="normal" font-style="normal" fill="#333" text-anchor="end" stroke="#333" stroke-width="0.28" >-1.5</text>
<text x="203.30" y="371.90" font-size="8.2" font-weight="normal" font-style="italic" fill="#333" text-anchor="start" stroke="#333" stroke-width="0.28" textLength="15.50" lengthAdjust="spacingAndGlyphs" >sox3</text>
<text x="223.80" y="371.90" font-size="8.2" font-weight="normal" font-style="normal" fill="#333" text-anchor="start" stroke="#333" stroke-width="0.28" textLength="26.40" lengthAdjust="spacingAndGlyphs" >(7.5hpf)</text>
<circle cx="193.50" cy="402.92" r="2.00" fill="#ddd7c2" stroke="none" stroke-width="0" />
<circle cx="197.00" cy="407.53" r="2.00" fill="#ddd7c2" stroke="none" stroke-width="0" />
<path d="M194.0,408.2l2.4,2.4l-2.4,2.4l-2.4,-2.4z" fill="#ddd7c2"/>
<path d="M197.0,410.1l2.4,2.4l-2.4,2.4l-2.4,-2.4z" fill="#ddd7c2"/>
<path d="M196.5,393.2l2.8,2.8l-2.8,2.8l-2.8,-2.8z" fill="none" stroke="#ddd7c2" stroke-width="1.1"/>
<path d="M193.0,416.2l2.8,2.8l-2.8,2.8l-2.8,-2.8z" fill="none" stroke="#ddd7c2" stroke-width="1.1"/>
<circle cx="197.50" cy="419.82" r="2.20" fill="none" stroke="#ddd7c2" stroke-width="1.1" />
<circle cx="198.00" cy="408.68" r="2.20" fill="none" stroke="#ddd7c2" stroke-width="1.1" />
<circle cx="218.50" cy="408.68" r="2.00" fill="#efb652" stroke="none" stroke-width="0" />
<circle cx="225.00" cy="404.84" r="2.00" fill="#efb652" stroke="none" stroke-width="0" />
<circle cx="224.00" cy="408.68" r="2.00" fill="#efb652" stroke="none" stroke-width="0" />
<circle cx="219.00" cy="426.73" r="2.00" fill="#efb652" stroke="none" stroke-width="0" />
<path d="M222.0,419.7l2.4,2.4l-2.4,2.4l-2.4,-2.4z" fill="#efb652"/>
<path d="M218.0,421.6l2.4,2.4l-2.4,2.4l-2.4,-2.4z" fill="#efb652"/>
<path d="M216.5,409.3l2.8,2.8l-2.8,2.8l-2.8,-2.8z" fill="none" stroke="#efb652" stroke-width="1.1"/>
<path d="M224.0,430.1l2.8,2.8l-2.8,2.8l-2.8,-2.8z" fill="none" stroke="#efb652" stroke-width="1.1"/>
<circle cx="226.00" cy="418.28" r="2.20" fill="none" stroke="#efb652" stroke-width="1.1" />
<circle cx="221.00" cy="410.60" r="2.20" fill="none" stroke="#efb652" stroke-width="1.1" />
<circle cx="246.00" cy="408.68" r="2.00" fill="#1b3d6b" stroke="none" stroke-width="0" />
<circle cx="249.00" cy="408.68" r="2.00" fill="#1b3d6b" stroke="none" stroke-width="0" />
<circle cx="247.00" cy="411.37" r="2.00" fill="#1b3d6b" stroke="none" stroke-width="0" />
<path d="M246.5,410.9l2.4,2.4l-2.4,2.4l-2.4,-2.4z" fill="#1b3d6b"/>
<path d="M252.0,408.2l2.4,2.4l-2.4,2.4l-2.4,-2.4z" fill="#1b3d6b"/>
<path d="M250.5,411.3l2.4,2.4l-2.4,2.4l-2.4,-2.4z" fill="#1b3d6b"/>
<path d="M253.0,416.2l2.8,2.8l-2.8,2.8l-2.8,-2.8z" fill="none" stroke="#1b3d6b" stroke-width="1.1"/>
<circle cx="249.50" cy="412.52" r="2.20" fill="none" stroke="#1b3d6b" stroke-width="1.1" />
<circle cx="244.50" cy="412.52" r="2.20" fill="none" stroke="#1b3d6b" stroke-width="1.1" />
<line x1="195.40" y1="403.69" x2="195.40" y2="417.90" stroke="#111" stroke-width="1.8" />
<line x1="193.00" y1="403.69" x2="197.80" y2="403.69" stroke="#111" stroke-width="1.6" />
<line x1="193.00" y1="417.90" x2="197.80" y2="417.90" stroke="#111" stroke-width="1.6" />
<line x1="222.00" y1="407.14" x2="222.00" y2="424.81" stroke="#111" stroke-width="1.8" />
<line x1="219.60" y1="407.14" x2="224.40" y2="407.14" stroke="#111" stroke-width="1.6" />
<line x1="219.60" y1="424.81" x2="224.40" y2="424.81" stroke="#111" stroke-width="1.6" />
<line x1="248.60" y1="408.30" x2="248.60" y2="414.44" stroke="#111" stroke-width="1.8" />
<line x1="246.20" y1="408.30" x2="251.00" y2="408.30" stroke="#111" stroke-width="1.6" />
<line x1="246.20" y1="414.44" x2="251.00" y2="414.44" stroke="#111" stroke-width="1.6" />
<path d="M195.4,388.0V386.0H248.6V388.0" fill="none" stroke="#222" stroke-width="0.8"/>
<path d="M195.4,395.4V393.4H222V395.4" fill="none" stroke="#222" stroke-width="0.8"/>
<text x="221.50" y="385.00" font-size="8" font-weight="normal" font-style="normal" fill="#222" text-anchor="middle" stroke="#222" stroke-width="0.28" >ns</text>
<text x="208.50" y="392.40" font-size="8" font-weight="normal" font-style="normal" fill="#222" text-anchor="middle" stroke="#222" stroke-width="0.28" >ns</text>
<text x="159.40" y="430.50" font-size="7.9" font-weight="normal" font-style="normal" fill="#222" text-anchor="middle" stroke="#222" stroke-width="0.28" transform="rotate(-90 159.40 430.50)" >log fold change</text>
<rect x="179.60" y="486.00" width="84.80" height="13.60" fill="#d9d9d9" stroke="#333" stroke-width="0.9" />
<rect x="179.6" y="499.60" width="84.8" height="101.40" fill="#fff"/>
<line x1="179.60" y1="503.60" x2="264.40" y2="503.60" stroke="#f2f2f2" stroke-width="0.5" />
<line x1="179.60" y1="522.80" x2="264.40" y2="522.80" stroke="#f2f2f2" stroke-width="0.5" />
<line x1="179.60" y1="542.00" x2="264.40" y2="542.00" stroke="#f2f2f2" stroke-width="0.5" />
<line x1="179.60" y1="561.20" x2="264.40" y2="561.20" stroke="#f2f2f2" stroke-width="0.5" />
<line x1="179.60" y1="580.40" x2="264.40" y2="580.40" stroke="#f2f2f2" stroke-width="0.5" />
<line x1="179.60" y1="513.20" x2="264.40" y2="513.20" stroke="#e6e6e6" stroke-width="0.8" />
<line x1="179.60" y1="532.40" x2="264.40" y2="532.40" stroke="#e6e6e6" stroke-width="0.8" />
<line x1="179.60" y1="551.60" x2="264.40" y2="551.60" stroke="#e6e6e6" stroke-width="0.8" />
<line x1="179.60" y1="570.80" x2="264.40" y2="570.80" stroke="#e6e6e6" stroke-width="0.8" />
<line x1="179.60" y1="590.00" x2="264.40" y2="590.00" stroke="#e6e6e6" stroke-width="0.8" />
<line x1="195.40" y1="499.60" x2="195.40" y2="601.00" stroke="#e6e6e6" stroke-width="0.8" />
<line x1="222.00" y1="499.60" x2="222.00" y2="601.00" stroke="#e6e6e6" stroke-width="0.8" />
<line x1="248.60" y1="499.60" x2="248.60" y2="601.00" stroke="#e6e6e6" stroke-width="0.8" />
<rect x="179.6" y="499.60" width="84.8" height="101.40" fill="none" stroke="#333" stroke-width="0.9"/>
<line x1="177.60" y1="513.20" x2="179.60" y2="513.20" stroke="#333" stroke-width="0.8" />
<text x="177.30" y="516.10" font-size="8.2" font-weight="normal" font-style="normal" fill="#333" text-anchor="end" stroke="#333" stroke-width="0.28" >0.5</text>
<line x1="177.60" y1="532.40" x2="179.60" y2="532.40" stroke="#333" stroke-width="0.8" />
<text x="177.30" y="535.30" font-size="8.2" font-weight="normal" font-style="normal" fill="#333" text-anchor="end" stroke="#333" stroke-width="0.28" >0</text>
<line x1="177.60" y1="551.60" x2="179.60" y2="551.60" stroke="#333" stroke-width="0.8" />
<text x="177.30" y="554.50" font-size="8.2" font-weight="normal" font-style="normal" fill="#333" text-anchor="end" stroke="#333" stroke-width="0.28" >-0.5</text>
<line x1="177.60" y1="570.80" x2="179.60" y2="570.80" stroke="#333" stroke-width="0.8" />
<text x="177.30" y="573.70" font-size="8.2" font-weight="normal" font-style="normal" fill="#333" text-anchor="end" stroke="#333" stroke-width="0.28" >-1</text>
<line x1="177.60" y1="590.00" x2="179.60" y2="590.00" stroke="#333" stroke-width="0.8" />
<text x="177.30" y="592.90" font-size="8.2" font-weight="normal" font-style="normal" fill="#333" text-anchor="end" stroke="#333" stroke-width="0.28" >-1.5</text>
<text x="188.30" y="496.20" font-size="9.6" font-weight="normal" font-style="italic" fill="#333" text-anchor="start" stroke="#333" stroke-width="0.28" textLength="36.50" lengthAdjust="spacingAndGlyphs" >pou5f3.2</text>
<text x="228.30" y="496.20" font-size="7.4" font-weight="normal" font-style="normal" fill="#333" text-anchor="start" stroke="#333" stroke-width="0.28" textLength="27.00" lengthAdjust="spacingAndGlyphs" >(7.5hpf)</text>
<circle cx="193.50" cy="530.48" r="2.00" fill="#ddd7c2" stroke="none" stroke-width="0" />
<circle cx="197.00" cy="533.17" r="2.00" fill="#ddd7c2" stroke="none" stroke-width="0" />
<path d="M194.0,533.1l2.4,2.4l-2.4,2.4l-2.4,-2.4z" fill="#ddd7c2"/>
<path d="M197.5,538.4l2.4,2.4l-2.4,2.4l-2.4,-2.4z" fill="#ddd7c2"/>
<path d="M196.5,518.8l2.8,2.8l-2.8,2.8l-2.8,-2.8z" fill="none" stroke="#ddd7c2" stroke-width="1.1"/>
<path d="M195.5,540.4l2.8,2.8l-2.8,2.8l-2.8,-2.8z" fill="none" stroke="#ddd7c2" stroke-width="1.1"/>
<circle cx="192.50" cy="536.24" r="2.20" fill="none" stroke="#ddd7c2" stroke-width="1.1" />
<circle cx="200.00" cy="536.24" r="2.20" fill="none" stroke="#ddd7c2" stroke-width="1.1" />
<circle cx="218.50" cy="534.32" r="2.00" fill="#efb652" stroke="none" stroke-width="0" />
<circle cx="226.50" cy="526.64" r="2.00" fill="#efb652" stroke="none" stroke-width="0" />
<circle cx="219.00" cy="537.01" r="2.00" fill="#efb652" stroke="none" stroke-width="0" />
<circle cx="223.00" cy="557.36" r="2.00" fill="#efb652" stroke="none" stroke-width="0" />
<path d="M223.5,539.6l2.4,2.4l-2.4,2.4l-2.4,-2.4z" fill="#efb652"/>
<path d="M221.0,543.4l2.4,2.4l-2.4,2.4l-2.4,-2.4z" fill="#efb652"/>
<path d="M225.0,547.3l2.4,2.4l-2.4,2.4l-2.4,-2.4z" fill="#efb652"/>
<path d="M217.5,545.7l2.8,2.8l-2.8,2.8l-2.8,-2.8z" fill="none" stroke="#efb652" stroke-width="1.1"/>
<path d="M220.0,561.5l2.8,2.8l-2.8,2.8l-2.8,-2.8z" fill="none" stroke="#efb652" stroke-width="1.1"/>
<circle cx="224.00" cy="553.52" r="2.20" fill="none" stroke="#efb652" stroke-width="1.1" />
<circle cx="222.00" cy="535.47" r="2.20" fill="none" stroke="#efb652" stroke-width="1.1" />
<circle cx="246.00" cy="532.40" r="2.00" fill="#1b3d6b" stroke="none" stroke-width="0" />
<circle cx="250.50" cy="532.40" r="2.00" fill="#1b3d6b" stroke="none" stroke-width="0" />
<circle cx="247.00" cy="542.00" r="2.00" fill="#1b3d6b" stroke="none" stroke-width="0" />
<path d="M249.0,542.3l2.4,2.4l-2.4,2.4l-2.4,-2.4z" fill="#1b3d6b"/>
<path d="M246.0,547.3l2.4,2.4l-2.4,2.4l-2.4,-2.4z" fill="#1b3d6b"/>
<path d="M248.6,561.5l2.8,2.8l-2.8,2.8l-2.8,-2.8z" fill="none" stroke="#1b3d6b" stroke-width="1.1"/>
<circle cx="245.00" cy="551.60" r="2.20" fill="none" stroke="#1b3d6b" stroke-width="1.1" />
<circle cx="252.00" cy="551.60" r="2.20" fill="none" stroke="#1b3d6b" stroke-width="1.1" />
<circle cx="250.00" cy="547.76" r="2.20" fill="none" stroke="#1b3d6b" stroke-width="1.1" />
<circle cx="247.50" cy="551.60" r="2.20" fill="none" stroke="#1b3d6b" stroke-width="1.1" />
<line x1="195.40" y1="528.56" x2="195.40" y2="540.85" stroke="#111" stroke-width="1.8" />
<line x1="193.00" y1="528.56" x2="197.80" y2="528.56" stroke="#111" stroke-width="1.6" />
<line x1="193.00" y1="540.85" x2="197.80" y2="540.85" stroke="#111" stroke-width="1.6" />
<line x1="222.00" y1="533.17" x2="222.00" y2="554.67" stroke="#111" stroke-width="1.8" />
<line x1="219.60" y1="533.17" x2="224.40" y2="533.17" stroke="#111" stroke-width="1.6" />
<line x1="219.60" y1="554.67" x2="224.40" y2="554.67" stroke="#111" stroke-width="1.6" />
<line x1="248.60" y1="536.24" x2="248.60" y2="554.67" stroke="#111" stroke-width="1.8" />
<line x1="246.20" y1="536.24" x2="251.00" y2="536.24" stroke="#111" stroke-width="1.6" />
<line x1="246.20" y1="554.67" x2="251.00" y2="554.67" stroke="#111" stroke-width="1.6" />
<path d="M195.4,510.6V508.6H248.6V510.6" fill="none" stroke="#222" stroke-width="0.8"/>
<path d="M195.4,518.0V516.0H222V518.0" fill="none" stroke="#222" stroke-width="0.8"/>
<text x="221.50" y="507.60" font-size="8" font-weight="normal" font-style="normal" fill="#222" text-anchor="middle" stroke="#222" stroke-width="0.28" >**</text>
<text x="208.50" y="515.00" font-size="8" font-weight="normal" font-style="normal" fill="#222" text-anchor="middle" stroke="#222" stroke-width="0.28" >*</text>
<text x="159.40" y="555.30" font-size="7.9" font-weight="normal" font-style="normal" fill="#222" text-anchor="middle" stroke="#222" stroke-width="0.28" transform="rotate(-90 159.40 555.30)" >log fold change</text>
<text x="266.80" y="400.40" font-size="8.4" font-weight="bold" font-style="normal" fill="#111" text-anchor="start" stroke="#111" stroke-width="0.12" textLength="36.40" lengthAdjust="spacingAndGlyphs" >Condition</text>
<circle cx="270.30" cy="409.90" r="3.30" fill="#ddd7c2" stroke="none" stroke-width="0" />
<text x="277.80" y="412.80" font-size="8.2" font-weight="normal" font-style="normal" fill="#222" text-anchor="start" stroke="#222" stroke-width="0.28" >Ctrl MO</text>
<circle cx="270.30" cy="424.30" r="3.30" fill="#efb652" stroke="none" stroke-width="0" />
<text x="277.80" y="427.20" font-size="8.2" font-weight="normal" font-style="normal" fill="#222" text-anchor="start" stroke="#222" stroke-width="0.28" >Cxxc1 MO</text>
<circle cx="270.30" cy="439.30" r="3.30" fill="#1b3d6b" stroke="none" stroke-width="0" />
<text x="277.80" y="442.20" font-size="8.2" font-weight="normal" font-style="normal" fill="#222" text-anchor="start" stroke="#222" stroke-width="0.28" >Kmt2b MO</text>
<text x="270.90" y="465.40" font-size="8.4" font-weight="bold" font-style="normal" fill="#111" text-anchor="start" stroke="#111" stroke-width="0.12" textLength="45.00" lengthAdjust="spacingAndGlyphs" >L homeolog</text>
<circle cx="273.80" cy="471.60" r="1.90" fill="#111" stroke="none" stroke-width="0" />
<text x="279.70" y="474.40" font-size="8.2" font-weight="normal" font-style="normal" fill="#222" text-anchor="start" stroke="#222" stroke-width="0.28" >RepI</text>
<path d="M273.8,483.3l2.2,2.2l-2.2,2.2l-2.2,-2.2z" fill="#111"/>
<text x="279.70" y="488.30" font-size="8.2" font-weight="normal" font-style="normal" fill="#222" text-anchor="start" stroke="#222" stroke-width="0.28" >RepII</text>
<text x="272.50" y="507.30" font-size="8.4" font-weight="bold" font-style="normal" fill="#111" text-anchor="start" stroke="#111" stroke-width="0.12" textLength="45.50" lengthAdjust="spacingAndGlyphs" >S homeolog</text>
<circle cx="273.80" cy="517.60" r="1.80" fill="none" stroke="#111" stroke-width="1.0" />
<text x="279.70" y="520.40" font-size="8.2" font-weight="normal" font-style="normal" fill="#222" text-anchor="start" stroke="#222" stroke-width="0.28" >RepI</text>
<path d="M273.8,529.1l2.4,2.4l-2.4,2.4l-2.4,-2.4z" fill="none" stroke="#111" stroke-width="0.9"/>
<text x="279.70" y="534.30" font-size="8.2" font-weight="normal" font-style="normal" fill="#222" text-anchor="start" stroke="#222" stroke-width="0.28" >RepII</text>
<text x="323.80" y="368.60" font-size="12" font-weight="bold" font-style="normal" fill="#111" text-anchor="start" stroke="#111" stroke-width="0.12" >g</text>
<defs><filter id="soft" x="-10%" y="-30%" width="120%" height="160%"><feGaussianBlur stdDeviation="0.55"/></filter>
<filter id="soft2" x="-10%" y="-30%" width="120%" height="160%"><feGaussianBlur stdDeviation="0.9"/></filter></defs>
<defs><linearGradient id="tbody" x1="0" y1="0" x2="0" y2="1"><stop offset="0" stop-color="#a39ba6"/><stop offset="0.6" stop-color="#857d88"/><stop offset="1" stop-color="#6a6470"/></linearGradient>
<radialGradient id="thead" cx="0.45" cy="0.5" r="0.6"><stop offset="0" stop-color="#b2a690"/><stop offset="0.7" stop-color="#9a8e80"/><stop offset="1" stop-color="#867c7c" stop-opacity="0.6"/></radialGradient></defs>
<rect x="348.90" y="364.60" width="73.80" height="26.70" fill="#4a4a52" stroke="none" stroke-width="0" />
<path stroke="#707078" stroke-width="1.1" stroke-linecap="round" d="M398.7 385.3h0M387.3 378.2h0M378.0 390.7h0M370.5 368.9h0M368.4 371.8h0M373.2 372.0h0M357.2 373.5h0M372.0 379.7h0M364.1 366.9h0M364.1 379.0h0M377.7 384.0h0M407.9 375.8h0M356.6 383.8h0M404.4 375.3h0M397.3 372.8h0M416.0 386.5h0M407.1 389.6h0M366.4 379.1h0M402.6 385.7h0M377.8 368.7h0M395.0 367.8h0M400.8 365.3h0M382.5 377.4h0M358.1 377.4h0M385.8 374.6h0M414.6 387.4h0M414.2 371.4h0M351.3 374.8h0M357.7 383.2h0M368.5 368.4h0M370.1 375.5h0M402.9 376.9h0M371.3 382.5h0M352.7 370.5h0M399.4 384.4h0M356.8 366.8h0M386.2 382.0h0M350.6 376.3h0M369.4 367.3h0M361.9 372.4h0M383.4 368.0h0M394.6 387.7h0M399.2 366.8h0M396.6 381.4h0M350.0 375.0h0M396.9 389.5h0M417.0 379.7h0M392.3 389.7h0M364.7 378.2h0M353.9 385.0h0M397.0 370.5h0M363.7 378.6h0M404.1 368.6h0M372.9 378.3h0M368.4 387.8h0M402.2 389.7h0M396.1 382.6h0M370.2 378.1h0M380.6 377.4h0M353.9 386.9h0M360.6 376.9h0M417.1 378.3h0M412.6 371.8h0M383.4 374.8h0M373.0 374.6h0M381.8 386.7h0M420.1 367.5h0M398.0 378.7h0M379.5 366.1h0M375.7 373.2h0M376.1 380.4h0M376.1 372.7h0M369.4 390.2h0M377.9 390.1h0M361.5 382.2h0M389.8 383.3h0M386.8 387.6h0M392.2 366.3h0M399.1 380.9h0M367.3 383.9h0M410.2 372.2h0M360.2 372.5h0M392.3 376.5h0M354.7 376.7h0M389.2 380.0h0M375.2 385.3h0M398.7 371.7h0M374.6 388.9h0M365.5 376.6h0M371.5 380.1h0M407.3 368.3h0M363.3 366.7h0M358.6 378.5h0M385.0 389.4h0M382.4 378.6h0M351.3 370.9h0M371.9 371.4h0M406.8 375.8h0M359.3 378.8h0M360.8 369.9h0M393.7 367.3h0M404.5 376.4h0M354.1 382.4h0M419.4 384.1h0M410.7 389.2h0M369.2 377.6h0M403.4 375.3h0M419.8 376.0h0M351.0 367.5h0M380.5 365.6h0M393.8 390.7h0M417.3 390.5h0M367.5 369.7h0M354.5 389.0h0M351.3 367.0h0M398.0 389.5h0M388.3 366.7h0M352.0 386.2h0M399.5 373.1h0M421.0 372.3h0M360.2 389.9h0M353.5 374.4h0M362.5 381.5h0M385.0 371.6h0M395.1 367.8h0M421.0 385.2h0M364.6 380.4h0M369.2 379.9h0M372.3 370.5h0M385.1 366.9h0M421.7 385.3h0M366.0 380.5h0M362.3 369.4h0M377.3 383.5h0M354.4 389.2h0M367.7 369.3h0M384.9 388.4h0M379.7 378.9h0M421.2 378.7h0M374.7 370.0h0M387.4 381.3h0M392.5 370.1h0M350.3 389.9h0M399.6 386.8h0M410.7 376.0h0M363.0 389.9h0M414.7 366.8h0M395.3 378.0h0M351.2 379.7h0M396.8 376.6h0M368.0 387.9h0M398.3 372.3h0M406.0 388.5h0M377.7 379.8h0M356.3 368.5h0M411.3 389.6h0M417.2 368.9h0M400.5 375.2h0M365.1 388.1h0M356.4 367.2h0M374.8 368.9h0M378.3 381.3h0M386.9 388.8h0M384.6 368.8h0M389.3 365.7h0M397.4 369.2h0M384.9 376.4h0M417.1 368.4h0M370.0 373.5h0M387.2 375.0h0M420.8 388.9h0M418.1 382.3h0M407.3 379.3h0M364.1 369.4h0M363.2 384.8h0M398.1 366.0h0M370.7 367.0h0M387.6 373.9h0M384.5 374.6h0M378.8 376.8h0M406.7 366.9h0M404.6 380.1h0M407.0 369.1h0M370.4 388.4h0M419.2 372.1h0M376.8 373.8h0M373.3 389.5h0M385.9 376.0h0M415.2 381.4h0M417.7 381.8h0M381.6 367.1h0M385.6 378.5h0M394.4 386.9h0M376.0 379.2h0M409.4 389.5h0M409.4 371.9h0M409.4 382.4h0M372.3 379.3h0M407.2 385.9h0M367.2 377.7h0M397.7 369.5h0M405.0 385.4h0M391.8 389.7h0M372.4 372.3h0M420.1 380.9h0M349.9 376.2h0M372.5 386.4h0M420.2 368.6h0M398.8 387.1h0M357.8 376.5h0M351.8 374.2h0M391.8 383.3h0M369.4 382.0h0M389.7 374.5h0M386.2 385.7h0M406.8 375.9h0M407.1 376.4h0M383.8 370.9h0M385.7 366.6h0M411.0 374.6h0M375.6 387.1h0"/>
<path stroke="#a8a8ae" stroke-width="0.8" stroke-linecap="round" d="M399.3 376.8h0M412.2 380.5h0M412.1 371.9h0M406.5 389.5h0M378.6 384.6h0M420.3 380.3h0M404.5 367.9h0M357.7 386.3h0M405.4 369.1h0M407.1 368.8h0M411.4 389.0h0M388.1 372.8h0M404.8 387.4h0M360.8 377.2h0M396.6 384.7h0M350.5 385.7h0M394.9 386.3h0M358.8 375.7h0M394.9 388.2h0M379.5 389.3h0M388.0 388.6h0M420.5 367.1h0M364.3 373.2h0M388.3 383.4h0M392.6 374.0h0M362.2 376.2h0M421.6 370.1h0M362.4 379.0h0M362.4 385.5h0M384.2 367.1h0M383.8 383.1h0M391.8 370.9h0M417.8 367.9h0M351.3 371.4h0M413.7 378.6h0M397.2 374.6h0M375.5 376.4h0M363.0 380.4h0M372.2 389.5h0M406.1 370.0h0M417.4 368.3h0M416.8 376.6h0M410.0 378.6h0M380.4 374.3h0M390.5 378.7h0M358.3 377.4h0M384.4 386.7h0M361.5 370.1h0M355.6 375.1h0M379.8 374.3h0M355.7 388.8h0M353.3 382.6h0M365.4 377.6h0M378.4 378.1h0M356.9 370.7h0M356.1 383.2h0M351.1 382.4h0M369.1 367.9h0M410.2 384.3h0M359.6 371.6h0M403.9 373.0h0M403.6 379.5h0M389.5 372.6h0M387.9 387.6h0M355.9 377.5h0M385.0 365.5h0M370.0 370.2h0M398.2 382.6h0M395.3 375.7h0M407.6 386.3h0M400.1 366.5h0M363.2 386.3h0M364.4 380.5h0M416.4 373.0h0M381.8 374.7h0M389.4 374.2h0M364.6 389.6h0M377.0 389.3h0M380.7 368.7h0M364.7 375.7h0M421.3 376.4h0M357.7 374.5h0M379.4 380.0h0M359.8 372.8h0M358.0 373.5h0M385.8 385.5h0M358.9 368.3h0M359.0 375.2h0M415.1 390.5h0M383.8 388.4h0M372.0 374.6h0M366.4 378.3h0M365.6 387.0h0M406.3 383.2h0M396.4 373.7h0M373.0 381.6h0M376.3 380.2h0M363.4 380.2h0M411.7 381.7h0M371.0 372.7h0M372.7 373.7h0M409.1 367.5h0M393.4 370.5h0M388.6 383.5h0M381.0 370.4h0M392.6 373.4h0M390.4 383.9h0M373.0 378.9h0M391.4 378.2h0M371.0 370.7h0M411.5 369.4h0M359.1 365.1h0M417.2 371.3h0M400.4 373.6h0M395.6 380.0h0M370.5 374.9h0M415.1 382.5h0M359.2 386.7h0"/>
<g filter="url(#soft)">
<path d="M352,377 C352,370.5 357,368.2 366,368.2 C385,368 405,368.8 417,371 C421.5,372.5 421.5,375.5 417,377 C405,380 390,383.5 378,385.5 C368,386.6 358,386.2 354.5,383.5 C352.6,381.8 352,379.5 352,377 z" fill="url(#tbody)"/>
<path d="M366,369 C385,368.2 405,368.8 418,371.5 C405,371.2 385,371 366,371.2 z" fill="#aaa3ac" opacity="0.7"/>
<ellipse cx="357.8" cy="377" rx="6.2" ry="7.2" fill="url(#thead)"/>
<path d="M361.5,381.5 C365,378.6 376,378.6 384.5,380 C386,382.5 383,385.2 375,385.7 C367,386 361.5,385 361.5,381.5 z" fill="#e2d6aa"/>
<circle cx="356.70" cy="374.80" r="1.25" fill="#26262a" stroke="none" stroke-width="0" />
<ellipse cx="367" cy="377.8" rx="4" ry="1.4" fill="#4e4642" opacity="0.8"/>
</g>
<rect x="348.90" y="364.10" width="73.80" height="27.70" fill="none" stroke="#555" stroke-width="0.5" />
<rect x="425.90" y="364.60" width="73.80" height="26.70" fill="#4a4a52" stroke="none" stroke-width="0" />
<path stroke="#707078" stroke-width="1.1" stroke-linecap="round" d="M456.7 365.2h0M465.6 386.6h0M470.0 372.1h0M467.4 367.3h0M432.6 366.7h0M465.8 378.9h0M455.9 381.2h0M442.0 390.7h0M439.2 375.7h0M472.0 367.8h0M498.4 366.9h0M479.4 366.8h0M461.6 388.2h0M471.7 370.7h0M493.8 369.6h0M439.4 378.2h0M473.3 374.8h0M465.5 378.9h0M441.6 376.3h0M442.4 388.4h0M473.7 368.6h0M459.0 372.0h0M476.9 390.7h0M446.8 382.2h0M447.7 376.2h0M463.8 377.7h0M464.4 379.1h0M466.5 386.5h0M491.5 370.8h0M464.9 385.9h0M494.6 375.3h0M444.5 383.2h0M493.9 369.7h0M447.8 382.6h0M435.7 372.1h0M452.5 372.9h0M464.9 376.8h0M439.3 383.7h0M463.6 384.8h0M432.5 388.7h0M458.0 383.0h0M465.8 389.8h0M496.7 378.7h0M455.5 365.2h0M432.7 369.7h0M483.4 372.8h0M436.0 382.5h0M434.3 368.9h0M456.5 389.5h0M450.3 378.7h0M465.7 365.5h0M447.1 369.1h0M444.2 372.8h0M456.2 376.6h0M459.8 369.5h0M438.1 365.7h0M487.5 378.7h0M442.0 375.8h0M427.4 387.3h0M488.5 376.8h0M453.9 366.9h0M487.1 369.2h0M459.6 388.2h0M492.1 366.9h0M448.4 383.8h0M480.5 373.7h0M468.6 376.8h0M490.9 388.1h0M493.6 383.5h0M474.0 383.3h0M437.6 381.5h0M462.1 376.6h0M447.6 372.9h0M457.8 387.8h0M499.0 376.7h0M465.9 386.0h0M449.6 390.7h0M464.9 368.1h0M451.3 381.1h0M496.2 373.8h0M455.2 376.9h0M435.8 365.3h0M485.3 367.2h0M480.2 386.5h0M488.7 365.4h0M463.4 365.5h0M434.8 372.1h0M460.1 374.6h0M436.4 376.6h0M476.2 373.6h0M476.8 373.1h0M483.8 383.0h0M460.9 373.8h0M447.9 370.8h0M427.6 378.3h0M479.5 376.0h0M462.0 389.2h0M447.2 375.9h0M490.4 384.7h0M438.2 375.5h0M467.3 371.9h0M483.3 385.9h0M429.2 380.3h0M426.6 377.9h0M426.9 381.3h0M433.1 366.4h0M477.8 366.6h0M452.2 366.1h0M468.4 371.1h0M456.6 383.3h0M466.4 383.6h0M486.1 369.9h0M446.7 369.8h0M484.6 380.6h0M441.9 371.1h0M434.1 377.0h0M444.3 375.6h0M465.1 383.1h0M464.9 377.2h0M446.4 383.4h0M438.7 370.8h0M449.0 390.7h0M438.5 386.3h0M490.5 388.9h0M495.1 383.3h0M436.8 370.2h0M482.3 383.5h0M464.7 372.5h0M489.7 373.9h0M466.8 388.6h0M458.4 382.2h0M453.5 384.7h0M489.7 365.8h0M457.7 390.1h0M498.7 378.6h0M434.9 368.9h0M493.5 381.6h0M436.6 389.7h0M431.0 373.5h0M478.5 365.4h0M467.2 378.6h0M479.2 375.8h0M464.6 377.5h0M441.7 383.1h0M452.3 382.4h0M468.2 384.5h0M483.1 372.5h0M486.9 385.4h0M473.1 372.7h0M432.8 390.2h0M476.4 367.9h0M493.7 381.2h0M443.3 373.1h0M498.6 371.7h0M448.3 380.8h0M456.0 369.7h0M473.2 368.2h0M426.4 380.0h0M480.9 387.9h0M432.3 368.2h0M442.2 368.5h0M430.9 374.2h0M446.1 383.7h0M435.9 379.5h0M499.0 368.3h0M434.4 378.0h0M485.1 373.1h0M444.4 384.6h0M451.1 375.3h0M464.9 375.7h0M456.8 379.6h0M495.6 390.5h0M454.9 366.8h0M474.2 377.9h0M460.7 388.5h0M434.9 385.3h0M485.0 387.2h0M486.3 380.1h0M455.2 377.8h0M442.0 366.8h0M451.8 384.4h0M484.7 378.6h0M438.2 366.3h0M460.2 390.6h0M437.9 371.0h0M433.3 381.6h0M468.6 377.5h0M428.4 377.4h0M488.7 379.2h0M488.3 383.8h0M496.8 365.8h0M484.9 377.9h0M487.1 382.4h0M494.6 390.6h0M488.7 370.8h0M463.5 379.9h0M496.3 381.3h0M464.9 381.9h0M457.2 384.7h0M426.5 382.8h0M482.9 379.9h0M466.8 388.8h0M489.2 376.6h0M499.2 371.4h0M478.2 369.6h0M478.8 375.8h0M443.9 376.3h0M432.3 384.7h0M476.0 387.5h0M483.5 380.2h0M436.5 379.3h0M444.2 386.8h0M464.6 382.9h0M474.1 383.1h0M471.5 371.8h0M441.3 373.1h0M471.7 378.0h0M441.8 375.8h0M478.5 382.1h0M457.9 390.0h0M447.2 377.8h0"/>
<path stroke="#a8a8ae" stroke-width="0.8" stroke-linecap="round" d="M479.2 376.1h0M452.8 389.8h0M457.4 381.1h0M438.3 366.3h0M435.8 379.7h0M493.8 386.0h0M484.4 373.4h0M482.7 376.2h0M445.2 365.6h0M479.6 373.0h0M470.6 379.8h0M440.4 365.9h0M437.3 377.5h0M449.0 368.1h0M447.9 380.1h0M449.9 390.1h0M468.3 389.8h0M486.5 370.8h0M454.5 389.0h0M483.0 382.5h0M448.6 374.6h0M446.7 366.1h0M460.6 376.2h0M484.2 365.5h0M427.8 372.1h0M482.1 375.9h0M475.2 387.6h0M449.9 385.8h0M466.9 384.2h0M446.4 386.4h0M450.5 386.4h0M468.1 388.4h0M445.6 388.0h0M492.6 373.0h0M478.7 384.9h0M465.6 379.3h0M469.1 380.4h0M468.6 367.8h0M438.6 390.3h0M463.6 389.4h0M468.8 383.4h0M457.1 387.4h0M460.9 384.4h0M460.9 383.2h0M477.2 382.0h0M460.6 366.4h0M458.5 377.1h0M487.2 371.3h0M491.6 385.6h0M445.4 367.1h0M455.8 389.9h0M466.6 383.3h0M471.4 389.4h0M429.1 370.7h0M484.0 376.1h0M430.6 383.2h0M485.1 376.5h0M453.6 384.4h0M429.7 387.4h0M464.5 385.0h0M428.4 387.8h0M432.9 373.2h0M472.3 382.8h0M429.1 385.1h0M445.3 389.8h0M458.8 382.2h0M433.9 376.6h0M451.3 389.7h0M449.9 376.2h0M453.8 373.3h0M459.6 387.0h0M432.7 367.4h0M457.5 389.4h0M435.7 383.4h0M485.3 372.5h0M498.0 387.0h0M432.8 377.1h0M462.8 386.6h0M461.9 374.9h0M440.4 386.2h0M469.3 388.0h0M473.6 386.8h0M481.6 370.7h0M432.9 369.2h0M461.7 389.7h0M438.7 369.1h0M430.5 377.7h0M465.9 386.0h0M474.0 373.1h0M491.7 367.2h0M490.0 382.6h0M498.0 371.6h0M436.8 367.1h0M448.7 368.9h0M485.7 390.7h0M479.2 368.0h0M476.1 369.2h0M481.1 387.2h0M487.2 376.6h0M492.7 371.7h0M440.2 372.4h0M460.9 376.8h0M466.1 386.8h0M440.9 380.0h0M473.6 383.9h0M435.1 387.2h0M468.5 366.4h0M493.0 383.7h0M498.6 383.3h0M437.2 379.0h0M435.4 379.1h0M464.0 375.8h0M439.5 367.9h0M438.2 367.8h0M431.7 367.2h0M432.7 387.8h0M494.0 380.0h0M493.0 383.1h0"/>
<g filter="url(#soft)">
<path d="M429,377 C429,370.5 434,368.2 443,368.2 C462,368 482,368.8 494,371 C498.5,372.5 498.5,375.5 494,377 C482,380 467,383.5 455,385.5 C445,386.6 435,386.2 431.5,383.5 C429.6,381.8 429,379.5 429,377 z" fill="url(#tbody)"/>
<path d="M443,369 C462,368.2 482,368.8 495,371.5 C482,371.2 462,371 443,371.2 z" fill="#aaa3ac" opacity="0.7"/>
<ellipse cx="434.8" cy="377" rx="6.2" ry="7.2" fill="url(#thead)"/>
<path d="M438.5,381.5 C442,378.6 453,378.6 461.5,380 C463,382.5 460,385.2 452,385.7 C444,386 438.5,385 438.5,381.5 z" fill="#e2d6aa"/>
<circle cx="433.70" cy="374.80" r="1.25" fill="#26262a" stroke="none" stroke-width="0" />
<ellipse cx="444" cy="377.8" rx="4" ry="1.4" fill="#4e4642" opacity="0.8"/>
</g>
<rect x="425.90" y="364.10" width="73.80" height="27.70" fill="none" stroke="#555" stroke-width="0.5" />
<rect x="501.90" y="364.10" width="75.20" height="27.70" fill="#4a4f66" stroke="#5a78b0" stroke-width="0.9" />
<rect x="510.50" y="364.60" width="58.50" height="26.70" fill="#4a4a52" stroke="none" stroke-width="0" />
<path stroke="#707078" stroke-width="1.1" stroke-linecap="round" d="M565.7 370.2h0M567.0 389.8h0M519.0 384.0h0M548.9 374.1h0M564.8 379.3h0M523.8 378.7h0M521.5 367.5h0M523.3 368.4h0M516.1 375.0h0M544.2 371.5h0M544.0 377.8h0M568.1 369.1h0M565.5 376.9h0M544.4 378.2h0M560.8 369.4h0M551.4 375.8h0M546.4 390.7h0M552.7 366.2h0M522.3 375.4h0M546.9 384.3h0M560.8 369.1h0M550.4 378.9h0M544.3 366.2h0M534.4 386.8h0M535.0 386.2h0M520.5 369.2h0M557.7 380.8h0M519.6 371.2h0M561.5 370.2h0M554.8 389.1h0M549.4 367.6h0M568.4 388.3h0M540.3 372.0h0M515.6 372.7h0M559.6 377.5h0M568.1 367.4h0M543.0 384.5h0M526.0 387.1h0M568.1 387.4h0M556.0 380.3h0M553.1 367.2h0M553.8 378.9h0M520.8 383.3h0M563.7 376.4h0M516.7 386.4h0M521.9 369.2h0M556.5 372.8h0M519.5 383.4h0M565.8 374.9h0M564.5 388.1h0M527.3 376.2h0M537.5 377.4h0M534.1 386.4h0M544.1 381.1h0M543.8 369.2h0M525.1 380.0h0M548.5 377.8h0M527.5 382.5h0M544.0 379.5h0M538.3 368.8h0M540.0 388.3h0M546.0 377.5h0M562.2 378.2h0M556.6 390.5h0M555.3 368.8h0M535.4 368.7h0M544.5 376.7h0M560.8 370.4h0M545.8 383.4h0M519.6 388.1h0M518.4 378.0h0M554.3 368.2h0M564.8 388.4h0M559.2 373.4h0M566.7 383.4h0M532.2 372.2h0M519.2 371.7h0M512.8 384.2h0M548.3 376.3h0M535.2 372.9h0M530.9 385.8h0M556.6 385.0h0M523.2 371.3h0M539.6 379.3h0M528.8 377.1h0M526.0 388.7h0M521.8 365.5h0M562.4 381.0h0M556.4 377.9h0M520.6 381.2h0M517.2 376.3h0M559.2 366.5h0M511.1 376.3h0M558.5 382.1h0M514.9 383.1h0M519.2 369.0h0M535.6 387.9h0M544.5 379.6h0M565.6 379.2h0M534.0 387.1h0M530.4 382.4h0M529.0 369.1h0M534.8 386.7h0M522.5 387.6h0M526.0 369.0h0M527.9 373.3h0M520.9 370.4h0M540.6 378.7h0M565.4 380.8h0M521.6 369.2h0M549.6 369.1h0M514.6 367.9h0M538.8 370.1h0M532.5 366.5h0M542.1 366.7h0M518.1 370.9h0M547.0 386.5h0M521.0 371.9h0M526.0 384.8h0M525.4 381.9h0M548.7 369.9h0M532.3 368.7h0M512.5 376.0h0M540.2 385.0h0M523.3 372.0h0M552.8 365.3h0M562.0 379.1h0M566.8 374.1h0M532.2 375.8h0M567.2 384.6h0M518.6 368.4h0M530.5 368.4h0M530.4 369.2h0M544.4 385.0h0M539.7 373.4h0M565.3 369.0h0M535.9 378.2h0M526.1 384.8h0M534.0 375.4h0M557.5 374.2h0M556.9 377.2h0M538.9 389.4h0M519.4 387.3h0M535.3 369.7h0M545.5 374.7h0M537.6 370.4h0M512.3 385.8h0M543.3 377.6h0M566.4 381.2h0M545.0 379.9h0M556.8 375.8h0M567.1 372.3h0M558.1 386.0h0M533.4 381.3h0M544.7 370.3h0M529.8 377.2h0M565.9 388.1h0M525.1 381.0h0M529.1 376.6h0M520.0 387.2h0M533.0 389.0h0M527.2 380.8h0M516.4 378.4h0M550.3 383.5h0M548.6 370.7h0M517.6 389.4h0M527.6 380.5h0M515.8 372.1h0M519.8 383.2h0M533.7 369.6h0M554.4 367.8h0M560.0 376.3h0M517.5 389.0h0M557.3 381.7h0M564.8 389.6h0"/>
<path stroke="#a8a8ae" stroke-width="0.8" stroke-linecap="round" d="M564.4 370.5h0M540.5 376.4h0M561.5 375.3h0M527.2 382.8h0M524.0 379.4h0M527.1 377.8h0M545.4 366.2h0M544.1 365.4h0M552.4 376.3h0M548.3 390.3h0M562.6 383.2h0M545.4 371.0h0M550.6 389.3h0M518.9 377.5h0M548.0 365.9h0M556.6 370.7h0M547.6 389.7h0M512.8 389.5h0M511.1 389.1h0M512.2 374.0h0M560.5 385.0h0M556.4 390.5h0M543.3 368.2h0M562.7 367.3h0M537.1 382.6h0M565.2 388.5h0M519.3 371.4h0M546.3 367.6h0M535.3 378.1h0M541.8 376.8h0M520.9 377.4h0M555.3 365.9h0M526.6 369.3h0M531.8 390.8h0M562.3 387.4h0M537.7 383.1h0M566.0 379.6h0M542.8 381.6h0M554.0 387.6h0M564.2 374.5h0M516.5 389.0h0M529.7 367.9h0M535.9 385.4h0M514.6 377.7h0M538.5 368.6h0M534.9 378.4h0M552.2 388.3h0M548.2 370.1h0M519.0 383.7h0M511.8 374.4h0M535.1 372.1h0M553.9 367.6h0M549.7 379.4h0M529.5 378.1h0M554.6 383.7h0M536.1 371.4h0M520.1 370.5h0M560.5 383.4h0M567.7 381.2h0M550.2 374.8h0M561.8 374.4h0M543.2 375.3h0M561.2 373.0h0M561.6 388.6h0M518.0 381.9h0M522.6 372.8h0M539.1 370.6h0M525.3 389.2h0M551.2 369.3h0M514.1 376.1h0M540.7 384.2h0M542.1 375.5h0M541.6 388.8h0M531.2 389.0h0M561.3 390.2h0M548.0 368.7h0M561.6 388.5h0M519.5 366.4h0M554.1 377.8h0M533.7 379.7h0M531.8 373.8h0M511.5 378.0h0M517.8 374.7h0M547.3 381.7h0M566.2 371.1h0M513.5 366.6h0M519.9 380.1h0M534.1 385.0h0M566.9 366.5h0M551.2 383.3h0M549.8 385.4h0M532.1 377.1h0M523.2 379.2h0"/>
<g filter="url(#soft)">
<path d="M511.5,379 C511,373.5 514,371.5 519,371 C530,368 545,365.5 556,366.5 C564,367.5 568.5,371 568.5,374.5 C561,377 548,379 538,382 C530,385 521,387.2 515.5,385.8 C512.5,384.5 511.8,382 511.5,379 z" fill="url(#tbody)"/>
<path d="M522,370 C535,366.5 550,364.8 561,367 C550,367.5 535,369.5 522,372 z" fill="#aaa3ac" opacity="0.7"/>
<ellipse cx="516.5" cy="378.5" rx="5.4" ry="6.6" fill="url(#thead)"/>
<path d="M521.5,383.2 C526,379.8 535,378 544,377.8 C542,380.8 534,384.5 527,385.5 C523.5,385.8 521.3,385 521.5,383.2 z" fill="#e2d6aa"/>
<circle cx="515.80" cy="377.30" r="1.25" fill="#26262a" stroke="none" stroke-width="0" />
<ellipse cx="523.5" cy="378.8" rx="4" ry="1.4" fill="#4e4642" opacity="0.8"/>
</g>
<rect x="578.30" y="364.10" width="74.40" height="27.70" fill="#4a4f66" stroke="#5a78b0" stroke-width="0.9" />
<rect x="585.50" y="364.60" width="61.30" height="26.70" fill="#4a4a52" stroke="none" stroke-width="0" />
<path stroke="#707078" stroke-width="1.1" stroke-linecap="round" d="M637.3 388.0h0M633.4 368.8h0M626.6 369.8h0M592.0 373.9h0M606.3 387.5h0M626.2 378.1h0M613.1 369.8h0M596.0 378.3h0M605.6 387.9h0M629.1 385.8h0M611.5 372.0h0M599.7 385.5h0M593.1 375.5h0M596.3 373.1h0M618.6 377.0h0M602.4 368.1h0M637.7 380.3h0M642.9 371.2h0M641.1 389.0h0M598.8 373.7h0M636.0 389.5h0M644.1 374.7h0M607.8 388.3h0M598.2 383.2h0M626.3 367.6h0M603.8 390.0h0M623.2 368.4h0M608.6 371.2h0M598.7 379.4h0M631.0 380.6h0M625.8 373.4h0M613.1 384.2h0M609.1 366.7h0M615.9 384.3h0M643.6 368.9h0M621.5 369.4h0M620.0 368.1h0M621.1 388.4h0M597.5 367.2h0M600.4 382.4h0M633.9 378.5h0M622.0 383.5h0M624.7 369.4h0M612.6 375.4h0M614.0 375.3h0M629.7 371.4h0M626.0 387.0h0M592.9 376.0h0M586.9 388.9h0M619.7 367.9h0M586.6 365.7h0M643.2 381.6h0M629.7 386.9h0M598.5 366.4h0M606.1 379.1h0M633.1 372.7h0M636.2 366.0h0M633.2 373.6h0M591.3 377.7h0M592.4 389.1h0M614.6 368.1h0M617.6 388.1h0M588.4 375.8h0M602.9 365.8h0M625.4 385.7h0M593.3 376.2h0M596.1 382.1h0M621.5 383.3h0M633.6 387.4h0M644.0 371.9h0M613.1 386.9h0M635.2 389.1h0M636.0 377.4h0M636.1 377.7h0M616.7 383.2h0M638.4 370.8h0M612.4 390.7h0M607.1 375.1h0M603.3 379.9h0M627.7 367.2h0M605.9 369.1h0M640.0 390.7h0M642.1 366.9h0M628.1 383.5h0M609.4 387.1h0M615.2 374.2h0M626.9 376.1h0M613.3 384.9h0M633.6 383.4h0M613.9 379.8h0M586.7 370.3h0M595.2 367.1h0M589.9 381.3h0M605.7 367.8h0M607.1 376.2h0M602.0 371.5h0M630.0 366.2h0M601.8 369.4h0M608.1 385.7h0M627.7 377.5h0M621.2 366.0h0M588.3 373.3h0M621.3 378.2h0M629.7 381.4h0M587.7 389.6h0M616.5 378.7h0M637.8 367.5h0M642.4 376.1h0M606.1 372.2h0M586.8 371.4h0M613.3 389.4h0M628.0 389.4h0M620.8 383.2h0M603.1 381.0h0M615.1 365.5h0M602.4 375.6h0M604.8 385.6h0M631.6 384.9h0M592.7 365.3h0M611.4 374.3h0M622.7 368.0h0M626.1 374.6h0M586.5 366.3h0M646.2 365.6h0M611.0 366.3h0M592.6 390.1h0M625.5 389.2h0M633.0 368.2h0M621.3 370.7h0M597.4 373.3h0M623.3 365.8h0M587.7 383.3h0M589.9 376.2h0M606.5 375.9h0M616.5 369.3h0M603.4 389.2h0M620.3 384.1h0M591.5 375.5h0M632.6 383.4h0M606.0 383.4h0M632.1 377.3h0M641.4 365.5h0M601.1 373.7h0M604.5 386.5h0M607.1 377.4h0M627.1 379.1h0M635.8 369.1h0M587.5 375.7h0M634.4 388.8h0M635.9 384.4h0M595.7 368.5h0M619.1 388.4h0M599.7 383.1h0M621.4 381.9h0M617.1 386.4h0M599.9 385.2h0M610.5 388.2h0M589.8 369.7h0M614.1 372.1h0M630.4 371.0h0M610.5 385.1h0M601.5 382.4h0M631.6 388.5h0M620.1 373.8h0M594.9 372.8h0M601.2 372.1h0M641.4 383.2h0M639.7 386.7h0M624.7 368.8h0M645.6 377.0h0M642.4 381.2h0M615.7 372.3h0M628.3 381.6h0M626.2 374.2h0M620.8 386.5h0M606.8 378.6h0M600.3 386.7h0M627.3 380.8h0M630.9 371.9h0M618.5 375.1h0M588.2 384.5h0M640.9 373.3h0M643.2 369.6h0"/>
<path stroke="#a8a8ae" stroke-width="0.8" stroke-linecap="round" d="M586.1 386.0h0M595.7 383.0h0M588.6 366.9h0M641.2 376.9h0M611.6 382.9h0M612.6 387.0h0M591.2 383.2h0M620.2 368.6h0M603.4 377.5h0M625.6 369.5h0M597.7 366.7h0M644.1 368.1h0M629.7 373.9h0M630.8 387.5h0M628.5 381.5h0M626.0 377.6h0M609.2 380.0h0M629.2 365.9h0M634.0 369.3h0M622.0 388.7h0M637.1 382.1h0M602.6 384.5h0M615.2 374.1h0M605.2 389.7h0M626.7 372.4h0M588.8 376.2h0M608.0 384.0h0M624.5 380.1h0M607.4 379.2h0M637.1 384.5h0M628.4 377.3h0M613.0 385.0h0M607.8 388.6h0M602.4 380.8h0M621.8 366.3h0M620.1 374.5h0M639.7 387.6h0M620.7 367.6h0M630.7 374.2h0M622.1 381.2h0M630.5 388.1h0M623.6 389.6h0M615.7 376.9h0M628.2 379.9h0M641.9 375.7h0M632.7 375.5h0M623.7 381.3h0M611.3 380.9h0M632.3 389.6h0M632.3 365.9h0M600.2 369.3h0M587.4 373.5h0M625.9 382.8h0M589.5 366.3h0M598.2 388.5h0M638.3 389.2h0M598.3 390.8h0M645.8 368.1h0M612.3 368.1h0M589.2 376.8h0M605.9 374.6h0M642.2 371.3h0M620.2 379.0h0M629.2 374.2h0M598.1 377.4h0M623.4 367.4h0M603.8 387.2h0M644.1 389.1h0M634.1 383.1h0M635.7 380.1h0M603.0 382.3h0M620.6 383.8h0M601.4 389.6h0M589.1 384.8h0M621.5 377.0h0M611.2 369.4h0M619.7 380.9h0M597.5 380.5h0M635.3 384.3h0M612.0 382.0h0M632.7 378.7h0M597.8 382.6h0M618.9 378.2h0M630.8 389.2h0M613.0 389.2h0M597.9 369.2h0M626.0 378.5h0M586.9 388.3h0M600.1 384.2h0M607.1 368.7h0M630.6 387.2h0M612.2 369.0h0M634.1 376.4h0M632.2 376.7h0M630.2 370.3h0M611.6 387.5h0M641.5 371.2h0M587.0 388.6h0"/>
<g filter="url(#soft)">
<path d="M586.7,376 C586.5,370.5 590,368.8 596,368.6 C610,367.5 626,368 636,371.5 C643,374.5 646.5,380 646.5,385 C638,385 628,384 618,384.5 C608,385.5 598,386.5 592,385 C588,383.5 586.8,380 586.7,376 z" fill="url(#tbody)"/>
<path d="M600,369 C615,367.3 630,368.2 641,374.5 C630,371.2 615,370.3 600,371.2 z" fill="#aaa3ac" opacity="0.7"/>
<ellipse cx="592" cy="376.5" rx="5.7" ry="6.6" fill="url(#thead)"/>
<path d="M599,381.8 C604,378.6 615,378.3 623,379.6 C621,383 612,385.4 605,385.4 C601,385.4 599,384 599,381.8 z" fill="#e2d6aa"/>
<circle cx="591.40" cy="375.00" r="1.25" fill="#26262a" stroke="none" stroke-width="0" />
<ellipse cx="600.5" cy="378.2" rx="4" ry="1.4" fill="#4e4642" opacity="0.8"/>
</g>
<text x="385.20" y="400.40" font-size="8.2" font-weight="normal" font-style="normal" fill="#222" text-anchor="middle" stroke="#222" stroke-width="0.28" >NI Ctrl</text>
<text x="459.20" y="400.40" font-size="8.2" font-weight="normal" font-style="normal" fill="#222" text-anchor="middle" stroke="#222" stroke-width="0.28" >Ctrl MO</text>
<text x="533.60" y="400.40" font-size="8.2" font-weight="normal" font-style="normal" fill="#222" text-anchor="middle" stroke="#222" stroke-width="0.28" >Cxxc1 MO</text>
<text x="607.00" y="400.40" font-size="8.2" font-weight="normal" font-style="normal" fill="#222" text-anchor="middle" stroke="#222" stroke-width="0.28" >Kmt2b MO</text>
<text x="323.80" y="416.00" font-size="12" font-weight="bold" font-style="normal" fill="#111" text-anchor="start" stroke="#111" stroke-width="0.12" >h</text>
<rect x="364.70" y="410.20" width="57.90" height="16.10" fill="#f0f1f3" stroke="#333" stroke-width="0.9" />
<text x="393.65" y="421.20" font-size="8.4" font-weight="normal" font-style="normal" fill="#222" text-anchor="middle" stroke="#222" stroke-width="0.28" >NI Ctrl</text>
<rect x="366.80" y="432.10" width="9.20" height="117.00" fill="#e2dcc8" stroke="#9a9a9a" stroke-width="0.6" />
<rect x="366.80" y="436.20" width="9.20" height="2.34" fill="#3f74c0" stroke="none" stroke-width="0" />
<rect x="366.80" y="432.10" width="9.20" height="4.10" fill="#231f20" stroke="none" stroke-width="0" />
<rect x="366.80" y="432.10" width="9.20" height="117.00" fill="none" stroke="#9a9a9a" stroke-width="0.6" />
<line x1="371.40" y1="554.60" x2="371.40" y2="557.30" stroke="#111" stroke-width="0.9" />
<text x="374.20" y="560.60" font-size="7.7" font-weight="normal" font-style="normal" fill="#222" text-anchor="end" stroke="#222" stroke-width="0.28" transform="rotate(-90 374.20 560.60)" >NF12</text>
<rect x="377.90" y="432.10" width="9.20" height="117.00" fill="#e2dcc8" stroke="#9a9a9a" stroke-width="0.6" />
<rect x="377.90" y="432.10" width="9.20" height="5.26" fill="#231f20" stroke="none" stroke-width="0" />
<rect x="377.90" y="432.10" width="9.20" height="117.00" fill="none" stroke="#9a9a9a" stroke-width="0.6" />
<line x1="382.50" y1="554.60" x2="382.50" y2="557.30" stroke="#111" stroke-width="0.9" />
<text x="385.30" y="560.60" font-size="7.7" font-weight="normal" font-style="normal" fill="#222" text-anchor="end" stroke="#222" stroke-width="0.28" transform="rotate(-90 385.30 560.60)" >NF20</text>
<rect x="389.00" y="432.10" width="9.20" height="117.00" fill="#e2dcc8" stroke="#9a9a9a" stroke-width="0.6" />
<rect x="389.00" y="432.10" width="9.20" height="7.25" fill="#231f20" stroke="none" stroke-width="0" />
<rect x="389.00" y="432.10" width="9.20" height="117.00" fill="none" stroke="#9a9a9a" stroke-width="0.6" />
<line x1="393.60" y1="554.60" x2="393.60" y2="557.30" stroke="#111" stroke-width="0.9" />
<text x="396.40" y="560.60" font-size="7.7" font-weight="normal" font-style="normal" fill="#222" text-anchor="end" stroke="#222" stroke-width="0.28" transform="rotate(-90 396.40 560.60)" >NF34</text>
<rect x="400.10" y="432.10" width="9.20" height="117.00" fill="#e2dcc8" stroke="#9a9a9a" stroke-width="0.6" />
<rect x="400.10" y="432.10" width="9.20" height="7.25" fill="#231f20" stroke="none" stroke-width="0" />
<rect x="400.10" y="432.10" width="9.20" height="117.00" fill="none" stroke="#9a9a9a" stroke-width="0.6" />
<line x1="404.70" y1="554.60" x2="404.70" y2="557.30" stroke="#111" stroke-width="0.9" />
<text x="407.50" y="560.60" font-size="7.7" font-weight="normal" font-style="normal" fill="#222" text-anchor="end" stroke="#222" stroke-width="0.28" transform="rotate(-90 407.50 560.60)" >NF41</text>
<rect x="411.20" y="432.10" width="9.20" height="117.00" fill="#e2dcc8" stroke="#9a9a9a" stroke-width="0.6" />
<rect x="411.20" y="432.10" width="9.20" height="7.25" fill="#231f20" stroke="none" stroke-width="0" />
<rect x="411.20" y="432.10" width="9.20" height="117.00" fill="none" stroke="#9a9a9a" stroke-width="0.6" />
<line x1="415.80" y1="554.60" x2="415.80" y2="557.30" stroke="#111" stroke-width="0.9" />
<text x="418.60" y="560.60" font-size="7.7" font-weight="normal" font-style="normal" fill="#222" text-anchor="end" stroke="#222" stroke-width="0.28" transform="rotate(-90 418.60 560.60)" >NF45</text>
<line x1="364.70" y1="554.60" x2="421.80" y2="554.60" stroke="#111" stroke-width="1.7" />
<rect x="425.10" y="410.20" width="57.60" height="16.10" fill="#f0f1f3" stroke="#333" stroke-width="0.9" />
<text x="453.90" y="421.20" font-size="8.4" font-weight="normal" font-style="normal" fill="#222" text-anchor="middle" stroke="#222" stroke-width="0.28" >Ctrl MO</text>
<rect x="427.20" y="432.10" width="9.20" height="117.00" fill="#e2dcc8" stroke="#9a9a9a" stroke-width="0.6" />
<rect x="427.20" y="439.12" width="9.20" height="24.57" fill="#3f74c0" stroke="none" stroke-width="0" />
<rect x="427.20" y="432.10" width="9.20" height="7.02" fill="#231f20" stroke="none" stroke-width="0" />
<rect x="427.20" y="432.10" width="9.20" height="117.00" fill="none" stroke="#9a9a9a" stroke-width="0.6" />
<line x1="431.80" y1="554.60" x2="431.80" y2="557.30" stroke="#111" stroke-width="0.9" />
<text x="434.60" y="560.60" font-size="7.7" font-weight="normal" font-style="normal" fill="#222" text-anchor="end" stroke="#222" stroke-width="0.28" transform="rotate(-90 434.60 560.60)" >NF12</text>
<rect x="438.30" y="432.10" width="9.20" height="117.00" fill="#e2dcc8" stroke="#9a9a9a" stroke-width="0.6" />
<rect x="438.30" y="442.63" width="9.20" height="7.61" fill="#3f74c0" stroke="none" stroke-width="0" />
<rect x="438.30" y="432.10" width="9.20" height="10.53" fill="#231f20" stroke="none" stroke-width="0" />
<rect x="438.30" y="432.10" width="9.20" height="117.00" fill="none" stroke="#9a9a9a" stroke-width="0.6" />
<line x1="442.90" y1="554.60" x2="442.90" y2="557.30" stroke="#111" stroke-width="0.9" />
<text x="445.70" y="560.60" font-size="7.7" font-weight="normal" font-style="normal" fill="#222" text-anchor="end" stroke="#222" stroke-width="0.28" transform="rotate(-90 445.70 560.60)" >NF20</text>
<rect x="449.40" y="432.10" width="9.20" height="117.00" fill="#e2dcc8" stroke="#9a9a9a" stroke-width="0.6" />
<rect x="449.40" y="449.65" width="9.20" height="4.68" fill="#3f74c0" stroke="none" stroke-width="0" />
<rect x="449.40" y="432.10" width="9.20" height="17.55" fill="#231f20" stroke="none" stroke-width="0" />
<rect x="449.40" y="432.10" width="9.20" height="117.00" fill="none" stroke="#9a9a9a" stroke-width="0.6" />
<line x1="454.00" y1="554.60" x2="454.00" y2="557.30" stroke="#111" stroke-width="0.9" />
<text x="456.80" y="560.60" font-size="7.7" font-weight="normal" font-style="normal" fill="#222" text-anchor="end" stroke="#222" stroke-width="0.28" transform="rotate(-90 456.80 560.60)" >NF34</text>
<rect x="460.50" y="432.10" width="9.20" height="117.00" fill="#e2dcc8" stroke="#9a9a9a" stroke-width="0.6" />
<rect x="460.50" y="455.50" width="9.20" height="4.68" fill="#3f74c0" stroke="none" stroke-width="0" />
<rect x="460.50" y="432.10" width="9.20" height="23.40" fill="#231f20" stroke="none" stroke-width="0" />
<rect x="460.50" y="432.10" width="9.20" height="117.00" fill="none" stroke="#9a9a9a" stroke-width="0.6" />
<line x1="465.10" y1="554.60" x2="465.10" y2="557.30" stroke="#111" stroke-width="0.9" />
<text x="467.90" y="560.60" font-size="7.7" font-weight="normal" font-style="normal" fill="#222" text-anchor="end" stroke="#222" stroke-width="0.28" transform="rotate(-90 467.90 560.60)" >NF41</text>
<rect x="471.60" y="432.10" width="9.20" height="117.00" fill="#e2dcc8" stroke="#9a9a9a" stroke-width="0.6" />
<rect x="471.60" y="462.87" width="9.20" height="0.82" fill="#3f74c0" stroke="none" stroke-width="0" />
<rect x="471.60" y="432.10" width="9.20" height="30.77" fill="#231f20" stroke="none" stroke-width="0" />
<rect x="471.60" y="432.10" width="9.20" height="117.00" fill="none" stroke="#9a9a9a" stroke-width="0.6" />
<line x1="476.20" y1="554.60" x2="476.20" y2="557.30" stroke="#111" stroke-width="0.9" />
<text x="479.00" y="560.60" font-size="7.7" font-weight="normal" font-style="normal" fill="#222" text-anchor="end" stroke="#222" stroke-width="0.28" transform="rotate(-90 479.00 560.60)" >NF45</text>
<line x1="425.10" y1="554.60" x2="481.90" y2="554.60" stroke="#111" stroke-width="1.7" />
<rect x="485.80" y="410.20" width="57.80" height="16.10" fill="#f0f1f3" stroke="#333" stroke-width="0.9" />
<text x="514.70" y="421.20" font-size="8.4" font-weight="normal" font-style="normal" fill="#222" text-anchor="middle" stroke="#222" stroke-width="0.28" >Cxxc1 MO</text>
<rect x="487.90" y="432.10" width="9.20" height="117.00" fill="#e2dcc8" stroke="#9a9a9a" stroke-width="0.6" />
<rect x="487.90" y="434.44" width="9.20" height="59.67" fill="#3f74c0" stroke="none" stroke-width="0" />
<rect x="487.90" y="432.10" width="9.20" height="2.34" fill="#231f20" stroke="none" stroke-width="0" />
<rect x="487.90" y="432.10" width="9.20" height="117.00" fill="none" stroke="#9a9a9a" stroke-width="0.6" />
<line x1="492.50" y1="554.60" x2="492.50" y2="557.30" stroke="#111" stroke-width="0.9" />
<text x="495.30" y="560.60" font-size="7.7" font-weight="normal" font-style="normal" fill="#222" text-anchor="end" stroke="#222" stroke-width="0.28" transform="rotate(-90 495.30 560.60)" >NF12</text>
<rect x="499.00" y="432.10" width="9.20" height="117.00" fill="#e2dcc8" stroke="#9a9a9a" stroke-width="0.6" />
<rect x="499.00" y="439.12" width="9.20" height="15.21" fill="#3f74c0" stroke="none" stroke-width="0" />
<rect x="499.00" y="432.10" width="9.20" height="7.02" fill="#231f20" stroke="none" stroke-width="0" />
<rect x="499.00" y="432.10" width="9.20" height="117.00" fill="none" stroke="#9a9a9a" stroke-width="0.6" />
<line x1="503.60" y1="554.60" x2="503.60" y2="557.30" stroke="#111" stroke-width="0.9" />
<text x="506.40" y="560.60" font-size="7.7" font-weight="normal" font-style="normal" fill="#222" text-anchor="end" stroke="#222" stroke-width="0.28" transform="rotate(-90 506.40 560.60)" >NF20</text>
<rect x="510.10" y="432.10" width="9.20" height="117.00" fill="#e2dcc8" stroke="#9a9a9a" stroke-width="0.6" />
<rect x="510.10" y="506.98" width="9.20" height="28.08" fill="#3f74c0" stroke="none" stroke-width="0" />
<rect x="510.10" y="432.10" width="9.20" height="74.88" fill="#231f20" stroke="none" stroke-width="0" />
<rect x="510.10" y="432.10" width="9.20" height="117.00" fill="none" stroke="#9a9a9a" stroke-width="0.6" />
<line x1="514.70" y1="554.60" x2="514.70" y2="557.30" stroke="#111" stroke-width="0.9" />
<text x="517.50" y="560.60" font-size="7.7" font-weight="normal" font-style="normal" fill="#222" text-anchor="end" stroke="#222" stroke-width="0.28" transform="rotate(-90 517.50 560.60)" >NF34</text>
<rect x="521.20" y="432.10" width="9.20" height="117.00" fill="#e2dcc8" stroke="#9a9a9a" stroke-width="0.6" />
<rect x="521.20" y="546.18" width="9.20" height="1.75" fill="#3f74c0" stroke="none" stroke-width="0" />
<rect x="521.20" y="432.10" width="9.20" height="114.08" fill="#231f20" stroke="none" stroke-width="0" />
<rect x="521.20" y="432.10" width="9.20" height="117.00" fill="none" stroke="#9a9a9a" stroke-width="0.6" />
<line x1="525.80" y1="554.60" x2="525.80" y2="557.30" stroke="#111" stroke-width="0.9" />
<text x="528.60" y="560.60" font-size="7.7" font-weight="normal" font-style="normal" fill="#222" text-anchor="end" stroke="#222" stroke-width="0.28" transform="rotate(-90 528.60 560.60)" >NF41</text>
<rect x="532.30" y="432.10" width="9.20" height="117.00" fill="#e2dcc8" stroke="#9a9a9a" stroke-width="0.6" />
<rect x="532.30" y="547.35" width="9.20" height="1.75" fill="#3f74c0" stroke="none" stroke-width="0" />
<rect x="532.30" y="432.10" width="9.20" height="115.25" fill="#231f20" stroke="none" stroke-width="0" />
<rect x="532.30" y="432.10" width="9.20" height="117.00" fill="none" stroke="#9a9a9a" stroke-width="0.6" />
<line x1="536.90" y1="554.60" x2="536.90" y2="557.30" stroke="#111" stroke-width="0.9" />
<text x="539.70" y="560.60" font-size="7.7" font-weight="normal" font-style="normal" fill="#222" text-anchor="end" stroke="#222" stroke-width="0.28" transform="rotate(-90 539.70 560.60)" >NF45</text>
<line x1="485.80" y1="554.60" x2="542.80" y2="554.60" stroke="#111" stroke-width="1.7" />
<rect x="547.40" y="410.20" width="57.20" height="16.10" fill="#f0f1f3" stroke="#333" stroke-width="0.9" />
<text x="576.00" y="421.20" font-size="8.4" font-weight="normal" font-style="normal" fill="#222" text-anchor="middle" stroke="#222" stroke-width="0.28" >Kmt2b MO</text>
<rect x="549.50" y="432.10" width="9.20" height="117.00" fill="#e2dcc8" stroke="#9a9a9a" stroke-width="0.6" />
<rect x="549.50" y="432.10" width="9.20" height="44.46" fill="#3f74c0" stroke="none" stroke-width="0" />
<rect x="549.50" y="432.10" width="9.20" height="117.00" fill="none" stroke="#9a9a9a" stroke-width="0.6" />
<line x1="554.10" y1="554.60" x2="554.10" y2="557.30" stroke="#111" stroke-width="0.9" />
<text x="556.90" y="560.60" font-size="7.7" font-weight="normal" font-style="normal" fill="#222" text-anchor="end" stroke="#222" stroke-width="0.28" transform="rotate(-90 556.90 560.60)" >NF12</text>
<rect x="560.60" y="432.10" width="9.20" height="117.00" fill="#e2dcc8" stroke="#9a9a9a" stroke-width="0.6" />
<rect x="560.60" y="433.86" width="9.20" height="11.12" fill="#3f74c0" stroke="none" stroke-width="0" />
<rect x="560.60" y="432.10" width="9.20" height="1.75" fill="#231f20" stroke="none" stroke-width="0" />
<rect x="560.60" y="432.10" width="9.20" height="117.00" fill="none" stroke="#9a9a9a" stroke-width="0.6" />
<line x1="565.20" y1="554.60" x2="565.20" y2="557.30" stroke="#111" stroke-width="0.9" />
<text x="568.00" y="560.60" font-size="7.7" font-weight="normal" font-style="normal" fill="#222" text-anchor="end" stroke="#222" stroke-width="0.28" transform="rotate(-90 568.00 560.60)" >NF20</text>
<rect x="571.70" y="432.10" width="9.20" height="117.00" fill="#e2dcc8" stroke="#9a9a9a" stroke-width="0.6" />
<rect x="571.70" y="470.71" width="9.20" height="45.04" fill="#3f74c0" stroke="none" stroke-width="0" />
<rect x="571.70" y="432.10" width="9.20" height="38.61" fill="#231f20" stroke="none" stroke-width="0" />
<rect x="571.70" y="432.10" width="9.20" height="117.00" fill="none" stroke="#9a9a9a" stroke-width="0.6" />
<line x1="576.30" y1="554.60" x2="576.30" y2="557.30" stroke="#111" stroke-width="0.9" />
<text x="579.10" y="560.60" font-size="7.7" font-weight="normal" font-style="normal" fill="#222" text-anchor="end" stroke="#222" stroke-width="0.28" transform="rotate(-90 579.10 560.60)" >NF34</text>
<rect x="582.80" y="432.10" width="9.20" height="117.00" fill="#e2dcc8" stroke="#9a9a9a" stroke-width="0.6" />
<rect x="582.80" y="546.76" width="9.20" height="2.34" fill="#3f74c0" stroke="none" stroke-width="0" />
<rect x="582.80" y="432.10" width="9.20" height="114.66" fill="#231f20" stroke="none" stroke-width="0" />
<rect x="582.80" y="432.10" width="9.20" height="117.00" fill="none" stroke="#9a9a9a" stroke-width="0.6" />
<line x1="587.40" y1="554.60" x2="587.40" y2="557.30" stroke="#111" stroke-width="0.9" />
<text x="590.20" y="560.60" font-size="7.7" font-weight="normal" font-style="normal" fill="#222" text-anchor="end" stroke="#222" stroke-width="0.28" transform="rotate(-90 590.20 560.60)" >NF41</text>
<rect x="593.90" y="432.10" width="9.20" height="117.00" fill="#e2dcc8" stroke="#9a9a9a" stroke-width="0.6" />
<rect x="593.90" y="546.76" width="9.20" height="2.34" fill="#3f74c0" stroke="none" stroke-width="0" />
<rect x="593.90" y="432.10" width="9.20" height="114.66" fill="#231f20" stroke="none" stroke-width="0" />
<rect x="593.90" y="432.10" width="9.20" height="117.00" fill="none" stroke="#9a9a9a" stroke-width="0.6" />
<line x1="598.50" y1="554.60" x2="598.50" y2="557.30" stroke="#111" stroke-width="0.9" />
<text x="601.30" y="560.60" font-size="7.7" font-weight="normal" font-style="normal" fill="#222" text-anchor="end" stroke="#222" stroke-width="0.28" transform="rotate(-90 601.30 560.60)" >NF45</text>
<line x1="547.40" y1="554.60" x2="603.80" y2="554.60" stroke="#111" stroke-width="1.7" />
<line x1="364.70" y1="426.30" x2="364.70" y2="555.40" stroke="#111" stroke-width="1.4" />
<line x1="361.90" y1="549.10" x2="364.70" y2="549.10" stroke="#111" stroke-width="0.9" />
<text x="359.80" y="552.00" font-size="8.2" font-weight="normal" font-style="normal" fill="#222" text-anchor="end" stroke="#222" stroke-width="0.28" >0</text>
<line x1="361.90" y1="519.85" x2="364.70" y2="519.85" stroke="#111" stroke-width="0.9" />
<text x="359.80" y="522.75" font-size="8.2" font-weight="normal" font-style="normal" fill="#222" text-anchor="end" stroke="#222" stroke-width="0.28" >25</text>
<line x1="361.90" y1="490.60" x2="364.70" y2="490.60" stroke="#111" stroke-width="0.9" />
<text x="359.80" y="493.50" font-size="8.2" font-weight="normal" font-style="normal" fill="#222" text-anchor="end" stroke="#222" stroke-width="0.28" >50</text>
<line x1="361.90" y1="461.35" x2="364.70" y2="461.35" stroke="#111" stroke-width="0.9" />
<text x="359.80" y="464.25" font-size="8.2" font-weight="normal" font-style="normal" fill="#222" text-anchor="end" stroke="#222" stroke-width="0.28" >75</text>
<line x1="361.90" y1="432.10" x2="364.70" y2="432.10" stroke="#111" stroke-width="0.9" />
<text x="359.80" y="435.00" font-size="8.2" font-weight="normal" font-style="normal" fill="#222" text-anchor="end" stroke="#222" stroke-width="0.28" >100</text>
<text x="344.20" y="498.30" font-size="7.8" font-weight="normal" font-style="normal" fill="#222" text-anchor="middle" stroke="#222" stroke-width="0.28" transform="rotate(-90 344.20 498.30)" >% of embryos</text>
<text x="476.70" y="590.60" font-size="7.8" font-weight="normal" font-style="normal" fill="#222" text-anchor="middle" stroke="#222" stroke-width="0.28" >Stage</text>
<rect x="614.10" y="452.50" width="14.40" height="11.00" fill="#231f20" stroke="#999" stroke-width="0.6" />
<rect x="614.10" y="468.20" width="14.40" height="11.00" fill="#3f74c0" stroke="#999" stroke-width="0.6" />
<rect x="614.10" y="484.30" width="14.40" height="11.00" fill="#e2dcc8" stroke="#999" stroke-width="0.6" />
<text x="634.60" y="460.40" font-size="7.6" font-weight="normal" font-style="normal" fill="#222" text-anchor="start" stroke="#222" stroke-width="0.28" textLength="18.20" lengthAdjust="spacingAndGlyphs" >Dead</text>
<text x="634.60" y="473.70" font-size="7.4" font-weight="normal" font-style="normal" fill="#222" text-anchor="start" stroke="#222" stroke-width="0.28" textLength="29.50" lengthAdjust="spacingAndGlyphs" >Delayed/</text>
<text x="634.60" y="480.40" font-size="7.4" font-weight="normal" font-style="normal" fill="#222" text-anchor="start" stroke="#222" stroke-width="0.28" textLength="27.80" lengthAdjust="spacingAndGlyphs" >affected</text>
<text x="634.60" y="492.30" font-size="7.6" font-weight="normal" font-style="normal" fill="#222" text-anchor="start" stroke="#222" stroke-width="0.28" textLength="24.80" lengthAdjust="spacingAndGlyphs" >Normal</text>
</svg></body></html>
